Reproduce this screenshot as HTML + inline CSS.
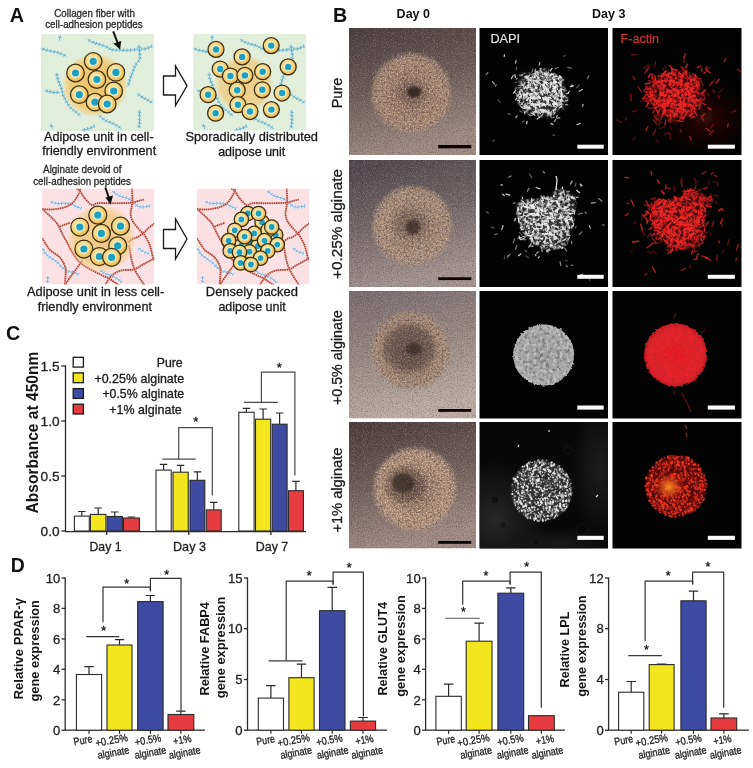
<!DOCTYPE html>
<html><head><meta charset="utf-8"><title>Figure</title>
<style>
html,body{margin:0;padding:0;background:#fff;}
body{width:753px;height:768px;overflow:hidden;}
svg{display:block;font-family:'Liberation Sans', Arial, Helvetica, sans-serif;}
</style></head><body>
<svg width="753" height="768" viewBox="0 0 753 768">
<defs>
<radialGradient id="cellg" cx="0.45" cy="0.45" r="0.58" fx="0.4" fy="0.36"><stop offset="0" stop-color="#fbe7ac"/><stop offset="0.62" stop-color="#f7d684"/><stop offset="0.85" stop-color="#efbf58"/><stop offset="1" stop-color="#e5a83e"/></radialGradient>
<radialGradient id="glow"><stop offset="0" stop-color="#efbf60" stop-opacity="0.92"/><stop offset="0.78" stop-color="#f1c66c" stop-opacity="0.85"/><stop offset="0.92" stop-color="#f3cc78" stop-opacity="0.45"/><stop offset="1" stop-color="#f4cc78" stop-opacity="0"/></radialGradient>
<radialGradient id="glow2"><stop offset="0" stop-color="#efc570" stop-opacity="0.8"/><stop offset="0.8" stop-color="#f0c878" stop-opacity="0.7"/><stop offset="0.93" stop-color="#f2d090" stop-opacity="0.3"/><stop offset="1" stop-color="#f2d090" stop-opacity="0"/></radialGradient>
<clipPath id="cg2"><rect x="193" y="34" width="113" height="96.5"/></clipPath>
<clipPath id="cp1"><rect x="42" y="188.5" width="112.3" height="96"/></clipPath>
<clipPath id="cp2"><rect x="196.8" y="188.5" width="112.3" height="96"/></clipPath>
<filter id="grainL" x="0" y="0" width="100%" height="100%" color-interpolation-filters="sRGB"><feTurbulence type="fractalNoise" baseFrequency="0.9" numOctaves="2" seed="4"/><feColorMatrix type="matrix" values="0 0 0 0 1  0 0 0 0 0.93  0 0 0 0 0.88  3.2 0 0 0 -1.55"/></filter>
<filter id="grainD" x="0" y="0" width="100%" height="100%" color-interpolation-filters="sRGB"><feTurbulence type="fractalNoise" baseFrequency="0.8" numOctaves="2" seed="11"/><feColorMatrix type="matrix" values="0 0 0 0 0.15  0 0 0 0 0.1  0 0 0 0 0.1  -3.2 0 0 0 1.65"/></filter>
<filter id="speck" x="0" y="0" width="100%" height="100%" color-interpolation-filters="sRGB"><feTurbulence type="fractalNoise" baseFrequency="0.75" numOctaves="2" seed="21"/><feColorMatrix type="matrix" values="0 0 0 0 0.88  0 0 0 0 0.76  0 0 0 0 0.64  4.5 0 0 0 -2.1"/></filter>
<filter id="speckD" x="0" y="0" width="100%" height="100%" color-interpolation-filters="sRGB"><feTurbulence type="fractalNoise" baseFrequency="0.5" numOctaves="2" seed="33"/><feColorMatrix type="matrix" values="0 0 0 0 0.34  0 0 0 0 0.26  0 0 0 0 0.24  -4.5 0 0 0 2.25"/></filter>
<filter id="blur1"><feGaussianBlur stdDeviation="1.2"/></filter>
<radialGradient id="discMask"><stop offset="0" stop-color="#fff"/><stop offset="0.86" stop-color="#fff"/><stop offset="1" stop-color="#fff" stop-opacity="0"/></radialGradient>
<filter id="blur2"><feGaussianBlur stdDeviation="2.5"/></filter>
<filter id="blur06"><feGaussianBlur stdDeviation="0.45"/></filter>
<linearGradient id="d0g0" x1="0" y1="0" x2="0.25" y2="1"><stop offset="0" stop-color="#463b3c"/><stop offset="0.5" stop-color="#6a5a58"/><stop offset="1" stop-color="#9e8983"/></linearGradient>
<radialGradient id="d0d0"><stop offset="0" stop-color="#7c6258"/><stop offset="0.72" stop-color="#9e806e"/><stop offset="0.88" stop-color="#9e806e" stop-opacity="0.8"/><stop offset="1" stop-color="#9e806e" stop-opacity="0"/></radialGradient>
<clipPath id="d0c0"><rect x="349" y="28" width="127" height="127"/></clipPath>
<mask id="d0c0d" maskUnits="userSpaceOnUse" x="363.3" y="45" width="96" height="96"><circle cx="411.3" cy="93" r="43.2" fill="url(#discMask)" filter="url(#rough)"/></mask>
<linearGradient id="d0g1" x1="0" y1="0" x2="0.25" y2="1"><stop offset="0" stop-color="#4a4247"/><stop offset="0.5" stop-color="#6f6466"/><stop offset="1" stop-color="#a29290"/></linearGradient>
<radialGradient id="d0d1"><stop offset="0" stop-color="#7c665c"/><stop offset="0.72" stop-color="#a08676"/><stop offset="0.88" stop-color="#a08676" stop-opacity="0.8"/><stop offset="1" stop-color="#a08676" stop-opacity="0"/></radialGradient>
<clipPath id="d0c1"><rect x="349" y="160" width="127" height="127"/></clipPath>
<mask id="d0c1d" maskUnits="userSpaceOnUse" x="364.2" y="177.8" width="96" height="96"><circle cx="412.2" cy="225.8" r="43.2" fill="url(#discMask)" filter="url(#rough)"/></mask>
<linearGradient id="d0g2" x1="0" y1="0" x2="0.25" y2="1"><stop offset="0" stop-color="#766a6e"/><stop offset="0.5" stop-color="#968884"/><stop offset="1" stop-color="#bcaca4"/></linearGradient>
<radialGradient id="d0d2"><stop offset="0" stop-color="#6a584e"/><stop offset="0.72" stop-color="#9a8070"/><stop offset="0.88" stop-color="#9a8070" stop-opacity="0.8"/><stop offset="1" stop-color="#9a8070" stop-opacity="0"/></radialGradient>
<clipPath id="d0c2"><rect x="349" y="291" width="127" height="127.5"/></clipPath>
<mask id="d0c2d" maskUnits="userSpaceOnUse" x="363" y="303.2" width="94.8" height="94.8"><circle cx="410.4" cy="350.6" r="42.7" fill="url(#discMask)" filter="url(#rough)"/></mask>
<linearGradient id="d0g3" x1="0" y1="0" x2="0.25" y2="1"><stop offset="0" stop-color="#463a39"/><stop offset="0.5" stop-color="#6e5c5a"/><stop offset="1" stop-color="#a08a86"/></linearGradient>
<radialGradient id="d0d3"><stop offset="0" stop-color="#786056"/><stop offset="0.72" stop-color="#a88a76"/><stop offset="0.88" stop-color="#a88a76" stop-opacity="0.8"/><stop offset="1" stop-color="#a88a76" stop-opacity="0"/></radialGradient>
<clipPath id="d0c3"><rect x="349" y="422" width="127" height="126.5"/></clipPath>
<mask id="d0c3d" maskUnits="userSpaceOnUse" x="365.1" y="439" width="99.6" height="99.6"><circle cx="414.9" cy="488.8" r="44.8" fill="url(#discMask)" filter="url(#rough)"/></mask>
<radialGradient id="gW"><stop offset="0" stop-color="#c8c8c8" stop-opacity="0.55"/><stop offset="0.8" stop-color="#909090" stop-opacity="0.35"/><stop offset="1" stop-color="#606060" stop-opacity="0"/></radialGradient>
<radialGradient id="gR"><stop offset="0" stop-color="#e02020" stop-opacity="0.7"/><stop offset="0.8" stop-color="#c01818" stop-opacity="0.45"/><stop offset="1" stop-color="#901010" stop-opacity="0"/></radialGradient>
<radialGradient id="gRh"><stop offset="0" stop-color="#5a1010" stop-opacity="0.55"/><stop offset="1" stop-color="#300808" stop-opacity="0"/></radialGradient>
<filter id="netW" x="0" y="0" width="100%" height="100%" color-interpolation-filters="sRGB"><feTurbulence type="fractalNoise" baseFrequency="0.3" numOctaves="2" seed="41"/><feColorMatrix type="matrix" values="0 0 0 0 0.9  0 0 0 0 0.9  0 0 0 0 0.9  6 0 0 0 -2.8"/><feGaussianBlur stdDeviation="0.35"/></filter>
<filter id="netR" x="0" y="0" width="100%" height="100%" color-interpolation-filters="sRGB"><feTurbulence type="fractalNoise" baseFrequency="0.3" numOctaves="2" seed="43"/><feColorMatrix type="matrix" values="0 0 0 0 0.95  0 0 0 0 0.13  0 0 0 0 0.13  6 0 0 0 -2.7"/><feGaussianBlur stdDeviation="0.35"/></filter>
<filter id="soft"><feGaussianBlur stdDeviation="0.4"/></filter>
<filter id="mblur" x="-20%" y="-20%" width="140%" height="140%"><feTurbulence type="fractalNoise" baseFrequency="0.25" numOctaves="2" seed="9" result="t"/><feDisplacementMap in="SourceGraphic" in2="t" scale="5" xChannelSelector="R" yChannelSelector="G" result="d"/><feGaussianBlur in="d" stdDeviation="1.3"/></filter>
<radialGradient id="edgeDark"><stop offset="0" stop-color="#000" stop-opacity="0"/><stop offset="0.6" stop-color="#000" stop-opacity="0.15"/><stop offset="1" stop-color="#000" stop-opacity="0.9"/></radialGradient>
<clipPath id="cl10"><rect x="479.5" y="28" width="128.5" height="127"/></clipPath>
<mask id="k1" maskUnits="userSpaceOnUse" x="504" y="58" width="76" height="71"><path d="M565.7,93C566,93.9 567.6,96.7 567.6,98.5C567.5,100.2 566.5,102.1 565.3,103.6C564.2,105 562.1,105.9 560.8,107.1C559.4,108.4 558.8,110.2 557.4,111.4C556,112.5 554.2,113.2 552.5,114C550.8,114.9 549.1,115.8 547.3,116.4C545.5,117 543.4,117.7 541.5,117.4C539.6,117.2 537.9,115.4 536.1,114.6C534.4,113.8 533,113.2 531.2,112.8C529.3,112.4 526.4,113.1 524.9,112.2C523.3,111.4 522.9,109 521.8,107.5C520.6,106.1 518.2,105.2 517.7,103.6C517.1,102 518.6,99.6 518.4,97.9C518.1,96.1 516.6,94.7 516.2,93C515.8,91.3 515.3,89.2 515.9,87.6C516.4,86 518.7,84.9 519.4,83.2C520.1,81.5 519.4,79 520.3,77.4C521.2,75.8 522.9,74.3 524.7,73.6C526.5,72.9 529.2,73.5 531.2,73.2C533.1,72.9 534.5,72.3 536.2,71.6C537.9,71 539.6,69.9 541.5,69.4C543.4,68.9 545.7,68.2 547.5,68.7C549.3,69.1 550.8,71.1 552.4,72.2C553.9,73.3 555.3,74.3 556.8,75.4C558.2,76.4 560.2,77.2 561.2,78.5C562.3,79.9 562.3,81.9 563,83.5C563.7,85.1 564.9,86.4 565.4,88C565.8,89.6 565.6,92.2 565.7,93" fill="#fff" filter="url(#mblur)"/></mask>
<clipPath id="cl20"><rect x="612.5" y="28" width="129" height="127"/></clipPath>
<mask id="k2" maskUnits="userSpaceOnUse" x="635" y="58" width="80" height="72"><path d="M705,94C704.9,95 705.4,98.1 704.3,99.7C703.2,101.3 699.9,102.3 698.4,103.7C697,105 696.3,106.3 695.4,108C694.6,109.7 694.7,112.4 693.4,113.8C692.1,115.2 689.6,115.7 687.6,116.4C685.6,117.2 683.5,117.9 681.4,118C679.3,118.2 677.1,117.3 675,117.3C672.9,117.2 670.7,118 668.7,117.8C666.6,117.6 664.5,116.8 662.6,116C660.8,115.2 658.7,114.3 657.3,113C655.9,111.7 655.5,109.6 654.3,108.1C653.1,106.7 651.1,105.8 650.1,104.3C649,102.8 648.8,101 648.2,99.2C647.5,97.5 646.4,95.8 646,94C645.6,92.2 645.2,90.1 645.5,88.2C645.9,86.4 646.7,84.4 648,82.8C649.2,81.3 651.3,80.2 653,78.9C654.6,77.7 656,76.4 657.7,75.4C659.4,74.4 661.4,73.7 663.3,73.2C665.2,72.7 667.3,72.6 669.2,72.3C671.2,72.1 673,72.1 675,71.8C677,71.5 679.2,70.5 681.2,70.7C683.2,70.9 685,72.2 686.8,73C688.6,73.8 690.2,74.7 692.1,75.6C694,76.4 696.9,76.8 698.3,78.1C699.6,79.4 699.6,81.8 700.3,83.5C701,85.3 701.8,86.9 702.6,88.6C703.3,90.4 704.6,93.1 705,94" fill="#fff" filter="url(#mblur)"/></mask>
<clipPath id="cl11"><rect x="479.5" y="160" width="128.5" height="127"/></clipPath>
<mask id="k3" maskUnits="userSpaceOnUse" x="502" y="175" width="88" height="88"><path d="M517.9,203.7C518.9,203 520.9,200.1 523.9,199.5C526.9,198.9 532.7,200.3 535.9,200.1C539.1,199.9 540.2,199.1 543,198.3C545.8,197.5 550.4,196.8 552.6,195.3C554.8,193.8 554.4,190.1 556.2,189.3C558,188.5 560.3,189.3 563.3,190.5C566.3,191.7 572.1,194.1 574.1,196.5C576.1,198.9 575.5,201.5 575.3,204.9C575.1,208.3 573.7,212.8 572.9,216.8C572.1,220.8 571.5,224.6 570.5,228.8C569.5,233 569.1,238.5 566.9,241.9C564.7,245.3 560.6,247.9 557.4,249.1C554.2,250.3 550.8,249.5 547.8,249.1C544.8,248.7 542.4,248.1 539.4,246.7C536.4,245.3 532.5,243.1 529.9,240.7C527.3,238.3 525.7,235.4 523.9,232.4C522.1,229.4 520.3,226.4 519.1,222.8C517.9,219.2 516.9,214.1 516.7,210.9C516.5,207.7 517.7,204.9 517.9,203.7" fill="#fff" filter="url(#mblur)"/></mask>
<clipPath id="cl21"><rect x="612.5" y="160" width="129" height="127"/></clipPath>
<mask id="k4" maskUnits="userSpaceOnUse" x="634" y="175" width="88" height="88"><path d="M649.9,203.7C650.9,203 652.9,200.1 655.9,199.5C658.9,198.9 664.7,200.3 667.9,200.1C671.1,199.9 672.2,199.1 675,198.3C677.8,197.5 682.4,196.8 684.6,195.3C686.8,193.8 686.4,190.1 688.2,189.3C690,188.5 692.3,189.3 695.3,190.5C698.3,191.7 704.1,194.1 706.1,196.5C708.1,198.9 707.5,201.5 707.3,204.9C707.1,208.3 705.7,212.8 704.9,216.8C704.1,220.8 703.5,224.6 702.5,228.8C701.5,233 701.1,238.5 698.9,241.9C696.7,245.3 692.6,247.9 689.4,249.1C686.2,250.3 682.8,249.5 679.8,249.1C676.8,248.7 674.4,248.1 671.4,246.7C668.4,245.3 664.5,243.1 661.9,240.7C659.3,238.3 657.7,235.4 655.9,232.4C654.1,229.4 652.3,226.4 651.1,222.8C649.9,219.2 648.9,214.1 648.7,210.9C648.5,207.7 649.7,204.9 649.9,203.7" fill="#fff" filter="url(#mblur)"/></mask>
<radialGradient id="gG3"><stop offset="0" stop-color="#9c9c9c"/><stop offset="0.85" stop-color="#a8a8a8"/><stop offset="1" stop-color="#b0b0b0"/></radialGradient>
<radialGradient id="gR3"><stop offset="0" stop-color="#e61e26"/><stop offset="0.85" stop-color="#e2222a"/><stop offset="1" stop-color="#c81c22"/></radialGradient>
<filter id="rough" x="-10%" y="-10%" width="120%" height="120%"><feTurbulence type="fractalNoise" baseFrequency="0.35" numOctaves="2" seed="6" result="t"/><feDisplacementMap in="SourceGraphic" in2="t" scale="3.5" xChannelSelector="R" yChannelSelector="G"/></filter>
<filter id="mott" x="0" y="0" width="100%" height="100%" color-interpolation-filters="sRGB"><feTurbulence type="fractalNoise" baseFrequency="0.28" numOctaves="2" seed="13"/><feColorMatrix type="matrix" values="0 0 0 0 0.2  0 0 0 0 0.2  0 0 0 0 0.2  -4.5 0 0 0 2.3"/></filter>
<filter id="mottL" x="0" y="0" width="100%" height="100%" color-interpolation-filters="sRGB"><feTurbulence type="fractalNoise" baseFrequency="0.3" numOctaves="2" seed="17"/><feColorMatrix type="matrix" values="0 0 0 0 0.85  0 0 0 0 0.85  0 0 0 0 0.85  4.5 0 0 0 -2.2"/></filter>
<clipPath id="c3a"><circle cx="543.6" cy="355" r="30.5"/></clipPath>
<clipPath id="c3b"><circle cx="675.6" cy="355" r="31.5"/></clipPath>
<clipPath id="cl12"><rect x="479.5" y="291" width="128.5" height="127.5"/></clipPath>
<clipPath id="cl22"><rect x="612.5" y="291" width="129" height="127.5"/></clipPath>
<radialGradient id="gPatch"><stop offset="0" stop-color="#2a2a2a" stop-opacity="0.9"/><stop offset="1" stop-color="#2a2a2a" stop-opacity="0"/></radialGradient>
<clipPath id="cl13"><rect x="479.5" y="422" width="128.5" height="126.5"/></clipPath>
<radialGradient id="gO4" cx="0.5" cy="0.5" r="0.5"><stop offset="0" stop-color="#ff9a20" stop-opacity="0.95"/><stop offset="0.5" stop-color="#f06020" stop-opacity="0.6"/><stop offset="1" stop-color="#e03020" stop-opacity="0"/></radialGradient>
<clipPath id="cl23"><rect x="612.5" y="422" width="129" height="126.5"/></clipPath>
</defs>
<rect width="753" height="768" fill="#fff"/>
<text x="9.8" y="21.6" font-size="19.8" font-weight="bold" fill="#111">A</text>
<text x="54.3" y="16.6" font-size="10.6" stroke="#2a2a2a" stroke-width="0.3" fill="#2a2a2a" textLength="80.6" lengthAdjust="spacingAndGlyphs">Collagen fiber with</text>
<text x="45.2" y="27.8" font-size="10.6" stroke="#2a2a2a" stroke-width="0.3" fill="#2a2a2a" textLength="97.5" lengthAdjust="spacingAndGlyphs">cell-adhesion peptides</text>
<g>
<rect x="41" y="34" width="113" height="97" fill="#e0eedb"/>
<path d="M87.8,39.4 88.3,39.7 89,40.2 89.9,40.7 90.9,41.3 91.9,41.8 93,42.3 94,42.7 95.1,43.1 96,43.4 97,43.7 98,43.9 98.9,44.2 99.9,44.5 100.9,44.8 101.8,45 102.8,45.3 103.7,45.6 104.7,46 105.6,46.4 106.6,46.9 107.5,47.4 108.3,47.9 109.2,48.4 110.1,48.9 111,49.3 112,49.7 113.1,49.9 114.2,50 115.3,50.1 116.3,50.1 117.3,50 118.3,50 119.3,50 120.3,50.1 121.4,50.1 122.4,50.2 123.5,50.2 124.6,50.3 125.6,50.3 126.5,50.3 127.5,50.2 128.6,50.2 129.7,50.2 130.6,50.1 131.6,50.1 132.6,50.1 133.6,50 134.5,49.8 135.6,49.5 136.6,49.2 137.5,48.9 138.5,48.7 139.3,48.7 140.2,48.8 141.2,49 142.2,49.1 143.3,49.2 144.5,49.1 145.5,48.9 146.6,48.5 147.7,48 148.8,47.6 149.9,47.1 150.8,46.7 151.6,46.4 151.8,46.3" fill="none" stroke="#cdeeed" stroke-width="3.2" stroke-linecap="round" opacity="0.8"/><path d="M87.8,39.4 88.3,39.7 89,40.2 89.9,40.7 90.9,41.3 91.9,41.8 93,42.3 94,42.7 95.1,43.1 96,43.4 97,43.7 98,43.9 98.9,44.2 99.9,44.5 100.9,44.8 101.8,45 102.8,45.3 103.7,45.6 104.7,46 105.6,46.4 106.6,46.9 107.5,47.4 108.3,47.9 109.2,48.4 110.1,48.9 111,49.3 112,49.7 113.1,49.9 114.2,50 115.3,50.1 116.3,50.1 117.3,50 118.3,50 119.3,50 120.3,50.1 121.4,50.1 122.4,50.2 123.5,50.2 124.6,50.3 125.6,50.3 126.5,50.3 127.5,50.2 128.6,50.2 129.7,50.2 130.6,50.1 131.6,50.1 132.6,50.1 133.6,50 134.5,49.8 135.6,49.5 136.6,49.2 137.5,48.9 138.5,48.7 139.3,48.7 140.2,48.8 141.2,49 142.2,49.1 143.3,49.2 144.5,49.1 145.5,48.9 146.6,48.5 147.7,48 148.8,47.6 149.9,47.1 150.8,46.7 151.6,46.4 151.8,46.3" fill="none" stroke="#5fa8bc" stroke-width="0.95"/><path d="M90.7,39.1L88.3,41.8M94,40.8L92,43.8M96.8,41.7L95.2,45M100.2,42.7L98.6,46M103.6,43.7L102,47M107.7,45.5L105.5,48.4M110.8,47.2L108.5,50.1M113.3,48.1L111.9,51.5M116.6,48.3L116,51.9M120.2,48.3L119.5,51.8M123.9,48.4L123.1,52M127.2,48.5L126.7,52.1M130.9,48.3L130.4,52M134.4,48L134.7,51.6M137.9,47L138.1,50.6M141.8,47.2L140.6,50.7M145,47.2L145.1,50.8M147.8,46L148.7,49.6M151.2,44.6L151.9,48.2" fill="none" stroke="#6aacbe" stroke-width="0.9025"/>
<path d="M139,45 139,45.7 139.1,46.6 139.1,47.7 139.2,48.9 139.4,50.1 139.5,51.2 139.6,52.1 139.7,53.2 139.9,54.3 140,55.3 140,56.4 140,57.4 139.8,58.6 139.5,59.6 139,60.5 138.3,61.5 137.6,62.3 136.9,63.2 136.2,64 135.6,64.7 135.1,65.5 134.7,66.4 134.3,67.3 134,68.2 133.7,69.2 133.4,70.2 133,71.2 132.7,72.1 132.3,73 131.9,73.9 131.5,74.9 131.1,75.9 130.7,77 130.3,78 130,79 129.7,80 129.5,80.9 129.2,82.2 128.8,83.4 128.5,84.4 128.1,85.3 127.8,86.1 127.7,86.3" fill="none" stroke="#cdeeed" stroke-width="3.2" stroke-linecap="round" opacity="0.8"/><path d="M139,45 139,45.7 139.1,46.6 139.1,47.7 139.2,48.9 139.4,50.1 139.5,51.2 139.6,52.1 139.7,53.2 139.9,54.3 140,55.3 140,56.4 140,57.4 139.8,58.6 139.5,59.6 139,60.5 138.3,61.5 137.6,62.3 136.9,63.2 136.2,64 135.6,64.7 135.1,65.5 134.7,66.4 134.3,67.3 134,68.2 133.7,69.2 133.4,70.2 133,71.2 132.7,72.1 132.3,73 131.9,73.9 131.5,74.9 131.1,75.9 130.7,77 130.3,78 130,79 129.7,80 129.5,80.9 129.2,82.2 128.8,83.4 128.5,84.4 128.1,85.3 127.8,86.1 127.7,86.3" fill="none" stroke="#5fa8bc" stroke-width="0.95"/><path d="M140.9,47.3L137.3,46.9M141.3,50.7L137.6,50.5M141.7,54.3L138.1,54.2M141.7,58.5L138.2,57.5M140,62.2L137.3,59.8M137.4,65.4L135.1,62.6M136,67.8L133,65.8M135,71L131.7,69.4M133.4,74.9L130.4,72.9M132.3,77.9L129.1,76.1M131.3,81.2L128,79.7M130.3,84.7L127,83.1" fill="none" stroke="#6aacbe" stroke-width="0.9025"/>
<path d="M41.6,48.5 42.2,48.7 43,49.1 44,49.4 45.1,49.8 46.2,50.1 47.4,50.4 48.4,50.6 49.4,50.8 50.5,51 51.6,51.2 52.6,51.4 53.6,51.6 54.6,51.8 55.6,52 56.7,52.2 57.8,52.5 58.8,52.8 59.8,53.2 60.8,53.6 61.7,54 62.7,54.5 63.8,55 64.8,55.5 65.6,55.9 66.3,56.3 66.3,56.3" fill="none" stroke="#cdeeed" stroke-width="3.2" stroke-linecap="round" opacity="0.8"/><path d="M41.6,48.5 42.2,48.7 43,49.1 44,49.4 45.1,49.8 46.2,50.1 47.4,50.4 48.4,50.6 49.4,50.8 50.5,51 51.6,51.2 52.6,51.4 53.6,51.6 54.6,51.8 55.6,52 56.7,52.2 57.8,52.5 58.8,52.8 59.8,53.2 60.8,53.6 61.7,54 62.7,54.5 63.8,55 64.8,55.5 65.6,55.9 66.3,56.3 66.3,56.3" fill="none" stroke="#5fa8bc" stroke-width="0.95"/><path d="M44.4,47.6L42.6,50.8M47.5,48.6L46.1,51.9M51.1,49.3L49.9,52.7M54.8,50L53.5,53.4M58.5,50.9L57,54.2M61.7,52L59.8,55.1M65.4,53.8L63.2,56.7" fill="none" stroke="#6aacbe" stroke-width="0.9025"/>
<path d="M56.7,72.8 56.8,73.5 56.9,74.3 57,75.4 57.2,76.5 57.4,77.7 57.7,78.9 58.1,80 58.4,81 58.8,82 59.3,83 59.7,84 60.1,85 60.5,86 60.9,87 61.3,87.9 61.6,89 61.8,90 62,91 62.1,91.9 62.3,92.8 62.5,93.8 62.8,94.6 63.2,95.4 63.6,96.3 64.1,97.2 64.6,98.1 65.2,99.2 65.7,100.3 66.1,101 66.5,101.8 66.9,102.7 67.5,103.6 68,104.5 68.6,105.4 69.3,106.2 70,107.1 70.8,107.8 71.5,108.5 72.3,109.2 73.1,109.8 74,110.4 74.9,111.1 75.8,111.8 76.7,112.6 77.6,113.3 78.4,114 79.2,114.7 79.8,115.3 80.3,115.8 80.5,116" fill="none" stroke="#cdeeed" stroke-width="3.2" stroke-linecap="round" opacity="0.8"/><path d="M56.7,72.8 56.8,73.5 56.9,74.3 57,75.4 57.2,76.5 57.4,77.7 57.7,78.9 58.1,80 58.4,81 58.8,82 59.3,83 59.7,84 60.1,85 60.5,86 60.9,87 61.3,87.9 61.6,89 61.8,90 62,91 62.1,91.9 62.3,92.8 62.5,93.8 62.8,94.6 63.2,95.4 63.6,96.3 64.1,97.2 64.6,98.1 65.2,99.2 65.7,100.3 66.1,101 66.5,101.8 66.9,102.7 67.5,103.6 68,104.5 68.6,105.4 69.3,106.2 70,107.1 70.8,107.8 71.5,108.5 72.3,109.2 73.1,109.8 74,110.4 74.9,111.1 75.8,111.8 76.7,112.6 77.6,113.3 78.4,114 79.2,114.7 79.8,115.3 80.3,115.8 80.5,116" fill="none" stroke="#5fa8bc" stroke-width="0.95"/><path d="M58.8,74.9L55.1,74.8M59.4,78.2L55.8,78.5M60.6,81.6L57,82.4M61.9,84.6L58.3,85.5M63.2,88.1L59.6,88.7M63.9,91.9L60.3,91.9M64.9,94.9L61.4,95.9M66.6,98.1L63.2,99.2M68.2,101.3L64.7,102.4M70,104.2L66.7,105.7M72.3,106.8L69.3,108.9M74.8,108.8L72.2,111.4M77.6,111L74.9,113.4M80.2,113.3L77.4,115.5" fill="none" stroke="#6aacbe" stroke-width="0.9025"/>
<path d="M44.8,90.4 45.5,90.6 46.5,90.9 47.6,91.2 48.8,91.5 49.9,91.8 50.9,92 51.9,92.1 52.9,92.3 53.9,92.4 54.9,92.4 56,92.4 57.2,92.4 58.4,92.4 59.4,92.5 60.1,92.5 60.1,92.5" fill="none" stroke="#cdeeed" stroke-width="3.2" stroke-linecap="round" opacity="0.8"/><path d="M44.8,90.4 45.5,90.6 46.5,90.9 47.6,91.2 48.8,91.5 49.9,91.8 50.9,92 51.9,92.1 52.9,92.3 53.9,92.4 54.9,92.4 56,92.4 57.2,92.4 58.4,92.4 59.4,92.5 60.1,92.5 60.1,92.5" fill="none" stroke="#5fa8bc" stroke-width="0.95"/><path d="M47.8,89.4L46.3,92.7M51,90.2L49.7,93.6M54.3,90.6L53.4,94.1M57.5,90.6L56.9,94.2" fill="none" stroke="#6aacbe" stroke-width="0.9025"/>
<path d="M99,115.1 99.4,115.6 100,116.1 100.7,116.8 101.5,117.6 102.3,118.3 103.3,119 104.3,119.7 105.3,120.3 106.2,120.8 107.2,121.3 108.2,121.7 109.2,122.1 110.2,122.4 111.2,122.8 112.2,123.2 113.2,123.6 114.1,124 114.9,124.5 115.8,125 116.8,125.6 117.8,126.3 118.8,127 119.6,127.6 120.4,128.1 121,128.6 121.2,128.8" fill="none" stroke="#cdeeed" stroke-width="3.2" stroke-linecap="round" opacity="0.8"/><path d="M99,115.1 99.4,115.6 100,116.1 100.7,116.8 101.5,117.6 102.3,118.3 103.3,119 104.3,119.7 105.3,120.3 106.2,120.8 107.2,121.3 108.2,121.7 109.2,122.1 110.2,122.4 111.2,122.8 112.2,123.2 113.2,123.6 114.1,124 114.9,124.5 115.8,125 116.8,125.6 117.8,126.3 118.8,127 119.6,127.6 120.4,128.1 121,128.6 121.2,128.8" fill="none" stroke="#5fa8bc" stroke-width="0.95"/><path d="M101.8,115.4L98.8,117.5M104.6,117.8L101.9,120.3M107.3,119.3L105.2,122.3M110.6,120.7L108.8,123.8M113.7,121.9L111.7,125M117.5,123.9L115.1,126.7M120.5,126L117.9,128.6" fill="none" stroke="#6aacbe" stroke-width="0.9025"/>
<path d="M137.2,93.5 137.7,93.9 138.4,94.4 139.2,95 140.1,95.7 141,96.4 142,97 143,97.6 144,98.1 144.9,98.6 145.9,99.1 146.9,99.6 148,100.2 149.1,100.7 150,101.2 150.9,101.7 151.6,102.2 152.1,102.5 152.1,102.5" fill="none" stroke="#cdeeed" stroke-width="3.2" stroke-linecap="round" opacity="0.8"/><path d="M137.2,93.5 137.7,93.9 138.4,94.4 139.2,95 140.1,95.7 141,96.4 142,97 143,97.6 144,98.1 144.9,98.6 145.9,99.1 146.9,99.6 148,100.2 149.1,100.7 150,101.2 150.9,101.7 151.6,102.2 152.1,102.5 152.1,102.5" fill="none" stroke="#5fa8bc" stroke-width="0.95"/><path d="M140.1,93.5L137.4,96M143.2,95.6L140.8,98.4M146,97.1L143.8,100M149.1,98.7L146.9,101.6M152.4,100.6L150,103.3" fill="none" stroke="#6aacbe" stroke-width="0.9025"/>
<path d="M139.6,110.3 139.6,111 139.5,111.8 139.5,112.9 139.6,114 139.6,115.2 139.6,116.4 139.7,117.6 139.7,118.6 139.6,119.6 139.6,120.8 139.5,122 139.4,123.2 139.3,124.4 139.2,125.6 139,126.6 138.9,127.4 138.8,128 138.8,128" fill="none" stroke="#cdeeed" stroke-width="3.2" stroke-linecap="round" opacity="0.8"/><path d="M139.6,110.3 139.6,111 139.5,111.8 139.5,112.9 139.6,114 139.6,115.2 139.6,116.4 139.7,117.6 139.7,118.6 139.6,119.6 139.6,120.8 139.5,122 139.4,123.2 139.3,124.4 139.2,125.6 139,126.6 138.9,127.4 138.8,128 138.8,128" fill="none" stroke="#5fa8bc" stroke-width="0.95"/><path d="M141.3,112.7L137.7,112M141.4,116.1L137.8,115.6M141.4,120L137.8,119.2M141.2,123.7L137.7,122.8M140.8,127.2L137.3,126" fill="none" stroke="#6aacbe" stroke-width="0.9025"/>
<path d="M60.3,35.4 60.1,36.2 59.9,37.4 59.7,38.6 59.6,39.8 59.5,40.6 59.5,40.6" fill="none" stroke="#cdeeed" stroke-width="3.2" stroke-linecap="round" opacity="0.8"/><path d="M60.3,35.4 60.1,36.2 59.9,37.4 59.7,38.6 59.6,39.8 59.5,40.6 59.5,40.6" fill="none" stroke="#5fa8bc" stroke-width="0.95"/><path d="M61.6,38L58.2,36.7" fill="none" stroke="#6aacbe" stroke-width="0.9025"/>
<path d="M51,124 51.2,124.9 51.5,126.1 51.9,127.4 52.2,128.5 52.3,128.8" fill="none" stroke="#cdeeed" stroke-width="3.2" stroke-linecap="round" opacity="0.8"/><path d="M51,124 51.2,124.9 51.5,126.1 51.9,127.4 52.2,128.5 52.3,128.8" fill="none" stroke="#5fa8bc" stroke-width="0.95"/><path d="M53.3,126L49.7,126.2" fill="none" stroke="#6aacbe" stroke-width="0.9025"/>
<path d="M82.2,130.2 82.9,130.1 83.8,129.9 84.9,129.7 86.1,129.4 87.2,129.1 88.3,128.8 89.3,128.4 90.5,127.9 91.6,127.5 92.7,127 93.6,126.5 94.2,126.2 94.2,126.2" fill="none" stroke="#cdeeed" stroke-width="3.2" stroke-linecap="round" opacity="0.8"/><path d="M82.2,130.2 82.9,130.1 83.8,129.9 84.9,129.7 86.1,129.4 87.2,129.1 88.3,128.8 89.3,128.4 90.5,127.9 91.6,127.5 92.7,127 93.6,126.5 94.2,126.2 94.2,126.2" fill="none" stroke="#5fa8bc" stroke-width="0.95"/><path d="M84.3,128L84.4,131.6M87.5,127.1L88,130.7M90.6,125.9L91.5,129.5M93.6,124.4L94.8,127.9" fill="none" stroke="#6aacbe" stroke-width="0.9025"/>
<ellipse cx="95" cy="85" rx="33" ry="32" fill="url(#glow)"/>
<circle cx="93.2" cy="61.3" r="8.8" fill="url(#cellg)" stroke="#3a2e12" stroke-width="1.25"/><circle cx="93.2" cy="61.3" r="4.6" fill="#e2f4dc"/><circle cx="93.2" cy="61.3" r="3.6" fill="#1f9fc0"/>
<circle cx="75.5" cy="73" r="8.8" fill="url(#cellg)" stroke="#3a2e12" stroke-width="1.25"/><circle cx="75.5" cy="73" r="4.6" fill="#e2f4dc"/><circle cx="75.5" cy="73" r="3.6" fill="#1f9fc0"/>
<circle cx="115.9" cy="72.4" r="8.8" fill="url(#cellg)" stroke="#3a2e12" stroke-width="1.25"/><circle cx="115.9" cy="72.4" r="4.6" fill="#e2f4dc"/><circle cx="115.9" cy="72.4" r="3.6" fill="#1f9fc0"/>
<circle cx="96.9" cy="79.5" r="8.8" fill="url(#cellg)" stroke="#3a2e12" stroke-width="1.25"/><circle cx="96.9" cy="79.5" r="4.6" fill="#e2f4dc"/><circle cx="96.9" cy="79.5" r="3.6" fill="#1f9fc0"/>
<circle cx="79.3" cy="94.7" r="8.8" fill="url(#cellg)" stroke="#3a2e12" stroke-width="1.25"/><circle cx="79.3" cy="94.7" r="4.6" fill="#e2f4dc"/><circle cx="79.3" cy="94.7" r="3.6" fill="#1f9fc0"/>
<circle cx="113.7" cy="91" r="8.8" fill="url(#cellg)" stroke="#3a2e12" stroke-width="1.25"/><circle cx="113.7" cy="91" r="4.6" fill="#e2f4dc"/><circle cx="113.7" cy="91" r="3.6" fill="#1f9fc0"/>
<circle cx="95" cy="102.2" r="8.8" fill="url(#cellg)" stroke="#3a2e12" stroke-width="1.25"/><circle cx="95" cy="102.2" r="4.6" fill="#e2f4dc"/><circle cx="95" cy="102.2" r="3.6" fill="#1f9fc0"/>
<circle cx="107.2" cy="104" r="8.8" fill="url(#cellg)" stroke="#3a2e12" stroke-width="1.25"/><circle cx="107.2" cy="104" r="4.6" fill="#e2f4dc"/><circle cx="107.2" cy="104" r="3.6" fill="#1f9fc0"/>
</g>
<g clip-path="url(#cg2)">
<rect x="193.3" y="34" width="113" height="97" fill="#e0eedb"/>
<path d="M240.1,39.4 240.6,39.7 241.3,40.2 242.2,40.7 243.2,41.3 244.2,41.8 245.3,42.3 246.3,42.7 247.4,43.1 248.3,43.4 249.3,43.7 250.3,43.9 251.2,44.2 252.2,44.5 253.2,44.8 254.1,45 255.1,45.3 256,45.6 257,46 257.9,46.4 258.9,46.9 259.8,47.4 260.6,47.9 261.5,48.4 262.4,48.9 263.3,49.3 264.3,49.7 265.4,49.9 266.5,50 267.6,50.1 268.6,50.1 269.6,50 270.6,50 271.6,50 272.6,50.1 273.7,50.1 274.7,50.2 275.8,50.2 276.9,50.3 277.9,50.3 278.8,50.3 279.8,50.2 280.9,50.2 282,50.2 282.9,50.1 283.9,50.1 284.9,50.1 285.9,50 286.8,49.8 287.9,49.5 288.9,49.2 289.8,48.9 290.8,48.7 291.6,48.7 292.5,48.8 293.5,49 294.5,49.1 295.6,49.2 296.8,49.1 297.8,48.9 298.9,48.5 300,48 301.1,47.6 302.2,47.1 303.1,46.7 303.9,46.4 304.1,46.3" fill="none" stroke="#cdeeed" stroke-width="3.2" stroke-linecap="round" opacity="0.8"/><path d="M240.1,39.4 240.6,39.7 241.3,40.2 242.2,40.7 243.2,41.3 244.2,41.8 245.3,42.3 246.3,42.7 247.4,43.1 248.3,43.4 249.3,43.7 250.3,43.9 251.2,44.2 252.2,44.5 253.2,44.8 254.1,45 255.1,45.3 256,45.6 257,46 257.9,46.4 258.9,46.9 259.8,47.4 260.6,47.9 261.5,48.4 262.4,48.9 263.3,49.3 264.3,49.7 265.4,49.9 266.5,50 267.6,50.1 268.6,50.1 269.6,50 270.6,50 271.6,50 272.6,50.1 273.7,50.1 274.7,50.2 275.8,50.2 276.9,50.3 277.9,50.3 278.8,50.3 279.8,50.2 280.9,50.2 282,50.2 282.9,50.1 283.9,50.1 284.9,50.1 285.9,50 286.8,49.8 287.9,49.5 288.9,49.2 289.8,48.9 290.8,48.7 291.6,48.7 292.5,48.8 293.5,49 294.5,49.1 295.6,49.2 296.8,49.1 297.8,48.9 298.9,48.5 300,48 301.1,47.6 302.2,47.1 303.1,46.7 303.9,46.4 304.1,46.3" fill="none" stroke="#5fa8bc" stroke-width="0.95"/><path d="M243,39.1L240.6,41.8M246.3,40.8L244.3,43.8M249.1,41.7L247.5,45M252.5,42.7L250.9,46M255.9,43.7L254.3,47M260,45.5L257.8,48.4M263.1,47.2L260.8,50.1M265.6,48.1L264.2,51.5M268.9,48.3L268.3,51.9M272.5,48.3L271.8,51.8M276.2,48.4L275.4,52M279.5,48.5L279,52.1M283.2,48.3L282.7,52M286.7,48L287,51.6M290.2,47L290.4,50.6M294.1,47.2L292.9,50.7M297.3,47.2L297.4,50.8M300.1,46L301,49.6M303.5,44.6L304.2,48.2" fill="none" stroke="#6aacbe" stroke-width="0.9025"/>
<path d="M291.3,45 291.3,45.7 291.4,46.6 291.4,47.7 291.5,48.9 291.7,50.1 291.8,51.2 291.9,52.1 292,53.2 292.2,54.3 292.3,55.3 292.3,56.4 292.3,57.4 292.1,58.6 291.8,59.6 291.3,60.5 290.6,61.5 289.9,62.3 289.2,63.2 288.5,64 287.9,64.7 287.4,65.5 287,66.4 286.6,67.3 286.3,68.2 286,69.2 285.7,70.2 285.3,71.2 285,72.1 284.6,73 284.2,73.9 283.8,74.9 283.4,75.9 283,77 282.6,78 282.3,79 282,80 281.8,80.9 281.5,82.2 281.1,83.4 280.8,84.4 280.4,85.3 280.1,86.1 280,86.3" fill="none" stroke="#cdeeed" stroke-width="3.2" stroke-linecap="round" opacity="0.8"/><path d="M291.3,45 291.3,45.7 291.4,46.6 291.4,47.7 291.5,48.9 291.7,50.1 291.8,51.2 291.9,52.1 292,53.2 292.2,54.3 292.3,55.3 292.3,56.4 292.3,57.4 292.1,58.6 291.8,59.6 291.3,60.5 290.6,61.5 289.9,62.3 289.2,63.2 288.5,64 287.9,64.7 287.4,65.5 287,66.4 286.6,67.3 286.3,68.2 286,69.2 285.7,70.2 285.3,71.2 285,72.1 284.6,73 284.2,73.9 283.8,74.9 283.4,75.9 283,77 282.6,78 282.3,79 282,80 281.8,80.9 281.5,82.2 281.1,83.4 280.8,84.4 280.4,85.3 280.1,86.1 280,86.3" fill="none" stroke="#5fa8bc" stroke-width="0.95"/><path d="M293.2,47.3L289.6,46.9M293.6,50.7L289.9,50.5M294,54.3L290.4,54.2M294,58.5L290.5,57.5M292.3,62.2L289.6,59.8M289.7,65.4L287.4,62.6M288.3,67.8L285.3,65.8M287.3,71L284,69.4M285.7,74.9L282.7,72.9M284.6,77.9L281.4,76.1M283.6,81.2L280.3,79.7M282.6,84.7L279.3,83.1" fill="none" stroke="#6aacbe" stroke-width="0.9025"/>
<path d="M193.9,48.5 194.5,48.7 195.3,49.1 196.3,49.4 197.4,49.8 198.5,50.1 199.7,50.4 200.7,50.6 201.7,50.8 202.8,51 203.9,51.2 204.9,51.4 205.9,51.6 206.9,51.8 207.9,52 209,52.2 210.1,52.5 211.1,52.8 212.1,53.2 213.1,53.6 214,54 215,54.5 216.1,55 217.1,55.5 217.9,55.9 218.6,56.3 218.6,56.3" fill="none" stroke="#cdeeed" stroke-width="3.2" stroke-linecap="round" opacity="0.8"/><path d="M193.9,48.5 194.5,48.7 195.3,49.1 196.3,49.4 197.4,49.8 198.5,50.1 199.7,50.4 200.7,50.6 201.7,50.8 202.8,51 203.9,51.2 204.9,51.4 205.9,51.6 206.9,51.8 207.9,52 209,52.2 210.1,52.5 211.1,52.8 212.1,53.2 213.1,53.6 214,54 215,54.5 216.1,55 217.1,55.5 217.9,55.9 218.6,56.3 218.6,56.3" fill="none" stroke="#5fa8bc" stroke-width="0.95"/><path d="M196.7,47.6L194.9,50.8M199.8,48.6L198.4,51.9M203.4,49.3L202.2,52.7M207.1,50L205.8,53.4M210.8,50.9L209.3,54.2M214,52L212.1,55.1M217.7,53.8L215.5,56.7" fill="none" stroke="#6aacbe" stroke-width="0.9025"/>
<path d="M209,72.8 209.1,73.5 209.2,74.3 209.3,75.4 209.5,76.5 209.7,77.7 210,78.9 210.4,80 210.7,81 211.1,82 211.6,83 212,84 212.4,85 212.8,86 213.2,87 213.6,87.9 213.9,89 214.1,90 214.3,91 214.4,91.9 214.6,92.8 214.8,93.8 215.1,94.6 215.5,95.4 215.9,96.3 216.4,97.2 216.9,98.1 217.5,99.2 218,100.3 218.4,101 218.8,101.8 219.2,102.7 219.8,103.6 220.3,104.5 220.9,105.4 221.6,106.2 222.3,107.1 223.1,107.8 223.8,108.5 224.6,109.2 225.4,109.8 226.3,110.4 227.2,111.1 228.1,111.8 229,112.6 229.9,113.3 230.7,114 231.5,114.7 232.1,115.3 232.6,115.8 232.8,116" fill="none" stroke="#cdeeed" stroke-width="3.2" stroke-linecap="round" opacity="0.8"/><path d="M209,72.8 209.1,73.5 209.2,74.3 209.3,75.4 209.5,76.5 209.7,77.7 210,78.9 210.4,80 210.7,81 211.1,82 211.6,83 212,84 212.4,85 212.8,86 213.2,87 213.6,87.9 213.9,89 214.1,90 214.3,91 214.4,91.9 214.6,92.8 214.8,93.8 215.1,94.6 215.5,95.4 215.9,96.3 216.4,97.2 216.9,98.1 217.5,99.2 218,100.3 218.4,101 218.8,101.8 219.2,102.7 219.8,103.6 220.3,104.5 220.9,105.4 221.6,106.2 222.3,107.1 223.1,107.8 223.8,108.5 224.6,109.2 225.4,109.8 226.3,110.4 227.2,111.1 228.1,111.8 229,112.6 229.9,113.3 230.7,114 231.5,114.7 232.1,115.3 232.6,115.8 232.8,116" fill="none" stroke="#5fa8bc" stroke-width="0.95"/><path d="M211.1,74.9L207.4,74.8M211.7,78.2L208.1,78.5M212.9,81.6L209.3,82.4M214.2,84.6L210.6,85.5M215.5,88.1L211.9,88.7M216.2,91.9L212.6,91.9M217.2,94.9L213.7,95.9M218.9,98.1L215.5,99.2M220.5,101.3L217,102.4M222.3,104.2L219,105.7M224.6,106.8L221.6,108.9M227.1,108.8L224.5,111.4M229.9,111L227.2,113.4M232.5,113.3L229.7,115.5" fill="none" stroke="#6aacbe" stroke-width="0.9025"/>
<path d="M197.1,90.4 197.8,90.6 198.8,90.9 199.9,91.2 201.1,91.5 202.2,91.8 203.2,92 204.2,92.1 205.2,92.3 206.2,92.4 207.2,92.4 208.3,92.4 209.5,92.4 210.7,92.4 211.7,92.5 212.4,92.5 212.4,92.5" fill="none" stroke="#cdeeed" stroke-width="3.2" stroke-linecap="round" opacity="0.8"/><path d="M197.1,90.4 197.8,90.6 198.8,90.9 199.9,91.2 201.1,91.5 202.2,91.8 203.2,92 204.2,92.1 205.2,92.3 206.2,92.4 207.2,92.4 208.3,92.4 209.5,92.4 210.7,92.4 211.7,92.5 212.4,92.5 212.4,92.5" fill="none" stroke="#5fa8bc" stroke-width="0.95"/><path d="M200.1,89.4L198.6,92.7M203.3,90.2L202,93.6M206.6,90.6L205.7,94.1M209.8,90.6L209.2,94.2" fill="none" stroke="#6aacbe" stroke-width="0.9025"/>
<path d="M251.3,115.1 251.7,115.6 252.3,116.1 253,116.8 253.8,117.6 254.6,118.3 255.6,119 256.6,119.7 257.6,120.3 258.5,120.8 259.5,121.3 260.5,121.7 261.5,122.1 262.5,122.4 263.5,122.8 264.5,123.2 265.5,123.6 266.4,124 267.2,124.5 268.1,125 269.1,125.6 270.1,126.3 271.1,127 271.9,127.6 272.7,128.1 273.3,128.6 273.5,128.8" fill="none" stroke="#cdeeed" stroke-width="3.2" stroke-linecap="round" opacity="0.8"/><path d="M251.3,115.1 251.7,115.6 252.3,116.1 253,116.8 253.8,117.6 254.6,118.3 255.6,119 256.6,119.7 257.6,120.3 258.5,120.8 259.5,121.3 260.5,121.7 261.5,122.1 262.5,122.4 263.5,122.8 264.5,123.2 265.5,123.6 266.4,124 267.2,124.5 268.1,125 269.1,125.6 270.1,126.3 271.1,127 271.9,127.6 272.7,128.1 273.3,128.6 273.5,128.8" fill="none" stroke="#5fa8bc" stroke-width="0.95"/><path d="M254.1,115.4L251.1,117.5M256.9,117.8L254.2,120.3M259.6,119.3L257.5,122.3M262.9,120.7L261.1,123.8M266,121.9L264,125M269.8,123.9L267.4,126.7M272.8,126L270.2,128.6" fill="none" stroke="#6aacbe" stroke-width="0.9025"/>
<path d="M289.5,93.5 290,93.9 290.7,94.4 291.5,95 292.4,95.7 293.3,96.4 294.3,97 295.3,97.6 296.3,98.1 297.2,98.6 298.2,99.1 299.2,99.6 300.3,100.2 301.4,100.7 302.3,101.2 303.2,101.7 303.9,102.2 304.4,102.5 304.4,102.5" fill="none" stroke="#cdeeed" stroke-width="3.2" stroke-linecap="round" opacity="0.8"/><path d="M289.5,93.5 290,93.9 290.7,94.4 291.5,95 292.4,95.7 293.3,96.4 294.3,97 295.3,97.6 296.3,98.1 297.2,98.6 298.2,99.1 299.2,99.6 300.3,100.2 301.4,100.7 302.3,101.2 303.2,101.7 303.9,102.2 304.4,102.5 304.4,102.5" fill="none" stroke="#5fa8bc" stroke-width="0.95"/><path d="M292.4,93.5L289.7,96M295.5,95.6L293.1,98.4M298.3,97.1L296.1,100M301.4,98.7L299.2,101.6M304.7,100.6L302.3,103.3" fill="none" stroke="#6aacbe" stroke-width="0.9025"/>
<path d="M291.9,110.3 291.9,111 291.8,111.8 291.8,112.9 291.9,114 291.9,115.2 291.9,116.4 292,117.6 292,118.6 291.9,119.6 291.9,120.8 291.8,122 291.7,123.2 291.6,124.4 291.5,125.6 291.3,126.6 291.2,127.4 291.1,128 291.1,128" fill="none" stroke="#cdeeed" stroke-width="3.2" stroke-linecap="round" opacity="0.8"/><path d="M291.9,110.3 291.9,111 291.8,111.8 291.8,112.9 291.9,114 291.9,115.2 291.9,116.4 292,117.6 292,118.6 291.9,119.6 291.9,120.8 291.8,122 291.7,123.2 291.6,124.4 291.5,125.6 291.3,126.6 291.2,127.4 291.1,128 291.1,128" fill="none" stroke="#5fa8bc" stroke-width="0.95"/><path d="M293.6,112.7L290,112M293.7,116.1L290.1,115.6M293.7,120L290.1,119.2M293.5,123.7L290,122.8M293.1,127.2L289.6,126" fill="none" stroke="#6aacbe" stroke-width="0.9025"/>
<path d="M212.6,35.4 212.4,36.2 212.2,37.4 212,38.6 211.9,39.8 211.8,40.6 211.8,40.6" fill="none" stroke="#cdeeed" stroke-width="3.2" stroke-linecap="round" opacity="0.8"/><path d="M212.6,35.4 212.4,36.2 212.2,37.4 212,38.6 211.9,39.8 211.8,40.6 211.8,40.6" fill="none" stroke="#5fa8bc" stroke-width="0.95"/><path d="M213.9,38L210.5,36.7" fill="none" stroke="#6aacbe" stroke-width="0.9025"/>
<path d="M203.3,124 203.5,124.9 203.8,126.1 204.2,127.4 204.5,128.5 204.6,128.8" fill="none" stroke="#cdeeed" stroke-width="3.2" stroke-linecap="round" opacity="0.8"/><path d="M203.3,124 203.5,124.9 203.8,126.1 204.2,127.4 204.5,128.5 204.6,128.8" fill="none" stroke="#5fa8bc" stroke-width="0.95"/><path d="M205.6,126L202,126.2" fill="none" stroke="#6aacbe" stroke-width="0.9025"/>
<path d="M234.5,130.2 235.2,130.1 236.1,129.9 237.2,129.7 238.4,129.4 239.5,129.1 240.6,128.8 241.6,128.4 242.8,127.9 243.9,127.5 245,127 245.9,126.5 246.5,126.2 246.5,126.2" fill="none" stroke="#cdeeed" stroke-width="3.2" stroke-linecap="round" opacity="0.8"/><path d="M234.5,130.2 235.2,130.1 236.1,129.9 237.2,129.7 238.4,129.4 239.5,129.1 240.6,128.8 241.6,128.4 242.8,127.9 243.9,127.5 245,127 245.9,126.5 246.5,126.2 246.5,126.2" fill="none" stroke="#5fa8bc" stroke-width="0.95"/><path d="M236.6,128L236.7,131.6M239.8,127.1L240.3,130.7M242.9,125.9L243.8,129.5M245.9,124.4L247.1,127.9" fill="none" stroke="#6aacbe" stroke-width="0.9025"/>
<circle cx="244" cy="84" r="30" fill="url(#glow2)"/>
<circle cx="216" cy="49.4" r="8" fill="url(#cellg)" stroke="#3a2e12" stroke-width="1.25"/><circle cx="216" cy="49.4" r="4.2" fill="#e2f4dc"/><circle cx="216" cy="49.4" r="3.2" fill="#1f9fc0"/>
<circle cx="271.2" cy="45.6" r="8" fill="url(#cellg)" stroke="#3a2e12" stroke-width="1.25"/><circle cx="271.2" cy="45.6" r="4.2" fill="#e2f4dc"/><circle cx="271.2" cy="45.6" r="3.2" fill="#1f9fc0"/>
<circle cx="242.1" cy="56.9" r="8" fill="url(#cellg)" stroke="#3a2e12" stroke-width="1.25"/><circle cx="242.1" cy="56.9" r="4.2" fill="#e2f4dc"/><circle cx="242.1" cy="56.9" r="3.2" fill="#1f9fc0"/>
<circle cx="220.2" cy="69" r="8" fill="url(#cellg)" stroke="#3a2e12" stroke-width="1.25"/><circle cx="220.2" cy="69" r="4.2" fill="#e2f4dc"/><circle cx="220.2" cy="69" r="3.2" fill="#1f9fc0"/>
<circle cx="288.2" cy="66.9" r="8" fill="url(#cellg)" stroke="#3a2e12" stroke-width="1.25"/><circle cx="288.2" cy="66.9" r="4.2" fill="#e2f4dc"/><circle cx="288.2" cy="66.9" r="3.2" fill="#1f9fc0"/>
<circle cx="230.4" cy="76" r="8" fill="url(#cellg)" stroke="#3a2e12" stroke-width="1.25"/><circle cx="230.4" cy="76" r="4.2" fill="#e2f4dc"/><circle cx="230.4" cy="76" r="3.2" fill="#1f9fc0"/>
<circle cx="244.9" cy="75.4" r="8" fill="url(#cellg)" stroke="#3a2e12" stroke-width="1.25"/><circle cx="244.9" cy="75.4" r="4.2" fill="#e2f4dc"/><circle cx="244.9" cy="75.4" r="3.2" fill="#1f9fc0"/>
<circle cx="262.7" cy="71.7" r="8" fill="url(#cellg)" stroke="#3a2e12" stroke-width="1.25"/><circle cx="262.7" cy="71.7" r="4.2" fill="#e2f4dc"/><circle cx="262.7" cy="71.7" r="3.2" fill="#1f9fc0"/>
<circle cx="208.1" cy="94.7" r="8" fill="url(#cellg)" stroke="#3a2e12" stroke-width="1.25"/><circle cx="208.1" cy="94.7" r="4.2" fill="#e2f4dc"/><circle cx="208.1" cy="94.7" r="3.2" fill="#1f9fc0"/>
<circle cx="237.2" cy="90.2" r="8" fill="url(#cellg)" stroke="#3a2e12" stroke-width="1.25"/><circle cx="237.2" cy="90.2" r="4.2" fill="#e2f4dc"/><circle cx="237.2" cy="90.2" r="3.2" fill="#1f9fc0"/>
<circle cx="262.3" cy="89.8" r="8" fill="url(#cellg)" stroke="#3a2e12" stroke-width="1.25"/><circle cx="262.3" cy="89.8" r="4.2" fill="#e2f4dc"/><circle cx="262.3" cy="89.8" r="3.2" fill="#1f9fc0"/>
<circle cx="282.1" cy="93" r="8" fill="url(#cellg)" stroke="#3a2e12" stroke-width="1.25"/><circle cx="282.1" cy="93" r="4.2" fill="#e2f4dc"/><circle cx="282.1" cy="93" r="3.2" fill="#1f9fc0"/>
<circle cx="237.9" cy="104.7" r="8" fill="url(#cellg)" stroke="#3a2e12" stroke-width="1.25"/><circle cx="237.9" cy="104.7" r="4.2" fill="#e2f4dc"/><circle cx="237.9" cy="104.7" r="3.2" fill="#1f9fc0"/>
<circle cx="215.6" cy="113.2" r="8" fill="url(#cellg)" stroke="#3a2e12" stroke-width="1.25"/><circle cx="215.6" cy="113.2" r="4.2" fill="#e2f4dc"/><circle cx="215.6" cy="113.2" r="3.2" fill="#1f9fc0"/>
<circle cx="250" cy="111.5" r="8" fill="url(#cellg)" stroke="#3a2e12" stroke-width="1.25"/><circle cx="250" cy="111.5" r="4.2" fill="#e2f4dc"/><circle cx="250" cy="111.5" r="3.2" fill="#1f9fc0"/>
<circle cx="271.4" cy="109.6" r="8" fill="url(#cellg)" stroke="#3a2e12" stroke-width="1.25"/><circle cx="271.4" cy="109.6" r="4.2" fill="#e2f4dc"/><circle cx="271.4" cy="109.6" r="3.2" fill="#1f9fc0"/>
</g>
<path d="M113.2,31.4L118.3,44.5" stroke="#111" stroke-width="2" fill="none"/>
<path d="M113.4,43.4L121.2,41L120.1,49.5Z" fill="#111"/>
<path d="M163.5,76L175.5,76L175.5,66L187,85.8L175.5,105.5L175.5,95L163.5,95Z" fill="#fff" stroke="#1a1a1a" stroke-width="1.3" stroke-linejoin="miter"/>
<path d="M163.5,229.5L175.5,229.5L175.5,219L187,239L175.5,259L175.5,248.5L163.5,248.5Z" fill="#fff" stroke="#1a1a1a" stroke-width="1.3" stroke-linejoin="miter"/>
<text x="44" y="141.2" font-size="13.1" stroke="#1a1a1a" stroke-width="0.3" fill="#1a1a1a" textLength="109.6" lengthAdjust="spacingAndGlyphs">Adipose unit in cell-</text>
<text x="42.2" y="155.2" font-size="13.1" stroke="#1a1a1a" stroke-width="0.3" fill="#1a1a1a" textLength="114" lengthAdjust="spacingAndGlyphs">friendly environment</text>
<text x="185.4" y="141.4" font-size="13.1" stroke="#1a1a1a" stroke-width="0.3" fill="#1a1a1a" textLength="132.6" lengthAdjust="spacingAndGlyphs">Sporadically distributed</text>
<text x="251.7" y="155.7" font-size="13.1" stroke="#1a1a1a" stroke-width="0.3" text-anchor="middle" fill="#1a1a1a" textLength="67" lengthAdjust="spacingAndGlyphs">adipose unit</text>
<text x="43.1" y="173.2" font-size="10.6" stroke="#2a2a2a" stroke-width="0.3" fill="#2a2a2a" textLength="78.5" lengthAdjust="spacingAndGlyphs">Alginate devoid of</text>
<text x="33.2" y="185" font-size="10.6" stroke="#2a2a2a" stroke-width="0.3" fill="#2a2a2a" textLength="97.8" lengthAdjust="spacingAndGlyphs">cell-adhesion peptides</text>
<g clip-path="url(#cp1)">
<rect x="42" y="188.5" width="112.3" height="96" fill="#fbe1e4"/>
<path d="M50,201.5 50.6,201.7 51.4,202 52.4,202.4 53.5,202.8 54.7,203.1 55.9,203.3 56.9,203.4 57.9,203.5 58.9,203.5 60,203.4 61.2,203.4 62.3,203.3 63.4,203.2 64.5,203.2 65.5,203.2 66.5,203.2 67.5,203.3 68.5,203.5 69.5,203.7 70.5,203.9 71.6,204.3 72.6,204.7 73.6,205.1 74.6,205.6 75.7,206.2 76.8,206.7 77.9,207.2 78.9,207.6 79.8,207.9 80.6,208.1 81.2,208.3 81.2,208.3" fill="none" stroke="#eef2fa" stroke-width="3.2" stroke-linecap="round" opacity="0.8"/><path d="M50,201.5 50.6,201.7 51.4,202 52.4,202.4 53.5,202.8 54.7,203.1 55.9,203.3 56.9,203.4 57.9,203.5 58.9,203.5 60,203.4 61.2,203.4 62.3,203.3 63.4,203.2 64.5,203.2 65.5,203.2 66.5,203.2 67.5,203.3 68.5,203.5 69.5,203.7 70.5,203.9 71.6,204.3 72.6,204.7 73.6,205.1 74.6,205.6 75.7,206.2 76.8,206.7 77.9,207.2 78.9,207.6 79.8,207.9 80.6,208.1 81.2,208.3 81.2,208.3" fill="none" stroke="#86b4da" stroke-width="1.05"/><path d="M52.8,200.6L51,203.8M56,201.5L54.6,204.9M58.7,201.7L58.1,205.3M61.9,201.5L61.5,205.2M65.8,201.4L65.2,205M69.1,201.7L67.9,205.2M73,202.9L71.2,206.1M76.2,204.4L74.1,207.4M78.9,205.6L76.9,208.7M81.9,206.6L80.5,209.9" fill="none" stroke="#8cb8dc" stroke-width="0.9974999999999999"/>
<path d="M112.3,190.8 112.9,191.3 113.7,192 114.6,192.7 115.6,193.5 116.6,194.2 117.4,194.7 118.2,195.1 119,195.6 119.9,196 121.1,196.4 122.2,196.8 123,197 124,197.3 125,197.5 126,197.8 127,198.1 128.1,198.5 129.1,199 130.1,199.5 131,200 131.8,200.6 132.7,201.3 133.5,202 134.2,202.8 134.9,203.6 135.6,204.3 136.4,205 137.2,205.7 138.1,206.2 139.2,206.7 140.2,206.9 141.4,207 142.6,207 143.9,206.9 145.1,206.8 146.3,206.6 147.4,206.4 148.4,206.2 149.2,206.1 149.8,206 149.8,206" fill="none" stroke="#eef2fa" stroke-width="3.2" stroke-linecap="round" opacity="0.8"/><path d="M112.3,190.8 112.9,191.3 113.7,192 114.6,192.7 115.6,193.5 116.6,194.2 117.4,194.7 118.2,195.1 119,195.6 119.9,196 121.1,196.4 122.2,196.8 123,197 124,197.3 125,197.5 126,197.8 127,198.1 128.1,198.5 129.1,199 130.1,199.5 131,200 131.8,200.6 132.7,201.3 133.5,202 134.2,202.8 134.9,203.6 135.6,204.3 136.4,205 137.2,205.7 138.1,206.2 139.2,206.7 140.2,206.9 141.4,207 142.6,207 143.9,206.9 145.1,206.8 146.3,206.6 147.4,206.4 148.4,206.2 149.2,206.1 149.8,206 149.8,206" fill="none" stroke="#86b4da" stroke-width="1.05"/><path d="M115.1,190.8L112.3,193.2M117.8,192.8L115.4,195.5M120.5,194.3L118.4,197.3M123.4,195.2L121.8,198.5M126.8,196.2L125.2,199.5M130.1,197.5L128.1,200.5M133.6,199.7L130.9,202.2M136.1,202.2L133,204.2M138.1,204.2L135.4,206.6M140.9,205.2L139.6,208.6M143.4,205.2L143,208.8M146.8,204.6L146.9,208.3M150,204.2L149.6,207.9" fill="none" stroke="#8cb8dc" stroke-width="0.9974999999999999"/>
<path d="M42.4,248 42.7,248.6 43.1,249.4 43.5,250.3 44.1,251.3 44.7,252.3 45.4,253.3 46.1,254.1 46.8,254.9 47.6,255.6 48.4,256.2 49.3,256.9 50.2,257.5 51,258 51.9,258.5 52.7,259.1 53.6,259.6 54.4,260.2 55.3,260.7 56.1,261.3 57,262.1 57.8,262.8 58.5,263.5 59.2,264.2 59.9,265 60.7,265.9 61.5,266.7 62.3,267.4 63.1,268.2 63.9,268.8 64.8,269.4 65.7,270 66.6,270.4 67.6,270.9 68.5,271.2 69.5,271.6 70.5,271.9 71.5,272.1 72.7,272.4 73.9,272.7 75,273 76.1,273.3 77.1,273.7 77.9,274 78.5,274.3 78.5,274.3" fill="none" stroke="#eef2fa" stroke-width="3.2" stroke-linecap="round" opacity="0.8"/><path d="M42.4,248 42.7,248.6 43.1,249.4 43.5,250.3 44.1,251.3 44.7,252.3 45.4,253.3 46.1,254.1 46.8,254.9 47.6,255.6 48.4,256.2 49.3,256.9 50.2,257.5 51,258 51.9,258.5 52.7,259.1 53.6,259.6 54.4,260.2 55.3,260.7 56.1,261.3 57,262.1 57.8,262.8 58.5,263.5 59.2,264.2 59.9,265 60.7,265.9 61.5,266.7 62.3,267.4 63.1,268.2 63.9,268.8 64.8,269.4 65.7,270 66.6,270.4 67.6,270.9 68.5,271.2 69.5,271.6 70.5,271.9 71.5,272.1 72.7,272.4 73.9,272.7 75,273 76.1,273.3 77.1,273.7 77.9,274 78.5,274.3 78.5,274.3" fill="none" stroke="#86b4da" stroke-width="1.05"/><path d="M45,249.3L41.5,250.3M46.7,252L43.4,253.6M48.6,254.1L45.8,256.4M51,255.8L48.5,258.5M53.9,257.7L51.5,260.5M57,259.7L54.4,262.3M59.6,262L56.6,264.2M62.2,264.8L59.2,266.9M64.5,267L61.7,269.3M66.9,268.5L64.5,271.4M69.9,269.8L68.2,273M72.8,270.6L71.4,274M76.4,271.5L74.8,274.8M79.5,272.8L77.4,275.8" fill="none" stroke="#8cb8dc" stroke-width="0.9974999999999999"/>
<path d="M99.6,269.5 100.1,269.9 100.9,270.6 101.7,271.3 102.7,272 103.7,272.7 104.6,273.2 105.6,273.7 106.5,274 107.4,274.3 108.4,274.6 109.4,275 110.4,275.3 111.3,275.7 112.3,276.1 113.2,276.5 114.2,277 115.1,277.5 116,278.1 116.9,278.6 117.8,279.2 118.8,279.9 119.8,280.6 120.6,281.3 121.3,281.9 121.8,282.3 121.8,282.3" fill="none" stroke="#eef2fa" stroke-width="3.2" stroke-linecap="round" opacity="0.8"/><path d="M99.6,269.5 100.1,269.9 100.9,270.6 101.7,271.3 102.7,272 103.7,272.7 104.6,273.2 105.6,273.7 106.5,274 107.4,274.3 108.4,274.6 109.4,275 110.4,275.3 111.3,275.7 112.3,276.1 113.2,276.5 114.2,277 115.1,277.5 116,278.1 116.9,278.6 117.8,279.2 118.8,279.9 119.8,280.6 120.6,281.3 121.3,281.9 121.8,282.3 121.8,282.3" fill="none" stroke="#86b4da" stroke-width="1.05"/><path d="M102.7,269.7L99.9,272.1M104.9,271.3L102.5,274M107.8,272.6L106.1,275.8M110.8,273.5L109.1,276.7M114.3,275L112.2,278M117.6,276.9L115.2,279.7M120.6,279L118,281.5M123,280.9L120.2,283.3" fill="none" stroke="#8cb8dc" stroke-width="0.9974999999999999"/>
<path d="M137.8,248 138.4,248.4 139.1,249 140.1,249.6 141.1,250.3 142.1,250.9 143.1,251.4 144.1,251.9 145.2,252.4 146.4,252.7 147.4,253.1 148.3,253.3 149,253.5 149,253.5" fill="none" stroke="#eef2fa" stroke-width="3.2" stroke-linecap="round" opacity="0.8"/><path d="M137.8,248 138.4,248.4 139.1,249 140.1,249.6 141.1,250.3 142.1,250.9 143.1,251.4 144.1,251.9 145.2,252.4 146.4,252.7 147.4,253.1 148.3,253.3 149,253.5 149,253.5" fill="none" stroke="#86b4da" stroke-width="1.05"/><path d="M140.9,248L138.3,250.6M143.3,249.5L141,252.3M146.1,250.8L144.3,253.9M149.1,251.7L147.6,255" fill="none" stroke="#8cb8dc" stroke-width="0.9974999999999999"/>
<path d="M48,276 47.9,276.7 47.8,277.7 47.7,278.9 47.6,280.2 47.6,281.4 47.7,282.4 47.7,283.1 47.7,283.1" fill="none" stroke="#eef2fa" stroke-width="3.2" stroke-linecap="round" opacity="0.8"/><path d="M48,276 47.9,276.7 47.8,277.7 47.7,278.9 47.6,280.2 47.6,281.4 47.7,282.4 47.7,283.1 47.7,283.1" fill="none" stroke="#86b4da" stroke-width="1.05"/><path d="M49.5,278.2L46,277.2M49.4,281.6L45.8,281.1" fill="none" stroke="#8cb8dc" stroke-width="0.9974999999999999"/>
<path d="M42.4,209.1C43.5,209.2 46.8,209.5 49,209.5C51.2,209.5 53,209.6 55.9,209.1C58.8,208.6 63.4,207.9 66.3,206.7C69.2,205.5 71.4,204.2 73.5,201.9C75.6,199.7 77.8,195.4 79,193.2C80.2,191 80.2,189.3 80.5,188.5" fill="none" stroke="#e8a090" stroke-width="2.0" opacity="0.7"/>
<path d="M42.4,209.1C43.5,209.2 46.8,209.5 49,209.5C51.2,209.5 53,209.6 55.9,209.1C58.8,208.6 63.4,207.9 66.3,206.7C69.2,205.5 71.4,204.2 73.5,201.9C75.6,199.7 77.8,195.4 79,193.2C80.2,191 80.2,189.3 80.5,188.5" fill="none" stroke="#a83a2e" stroke-width="1.6" stroke-dasharray="1.3 0.9"/>
<path d="M76.5,188.5C77,188.9 78.5,189.2 79.8,190.8C81.1,192.4 82.6,195.6 84.6,198C86.6,200.4 89.7,204.2 91.8,205.1C93.9,206 94.4,203.5 97.4,203.2C100.4,202.9 105.4,203.2 110,203.2C114.6,203.2 121.3,203.2 125,203.1C128.7,203 129.9,203 132.3,202.6C134.7,202.2 137.5,201.2 139.4,200.7C141.3,200.2 143.2,199.7 144,199.5" fill="none" stroke="#e8a090" stroke-width="2.0" opacity="0.7"/>
<path d="M76.5,188.5C77,188.9 78.5,189.2 79.8,190.8C81.1,192.4 82.6,195.6 84.6,198C86.6,200.4 89.7,204.2 91.8,205.1C93.9,206 94.4,203.5 97.4,203.2C100.4,202.9 105.4,203.2 110,203.2C114.6,203.2 121.3,203.2 125,203.1C128.7,203 129.9,203 132.3,202.6C134.7,202.2 137.5,201.2 139.4,200.7C141.3,200.2 143.2,199.7 144,199.5" fill="none" stroke="#a83a2e" stroke-width="1.6" stroke-dasharray="1.3 0.9"/>
<path d="M42.4,209.1C44,210.6 49.5,215.4 52,217.9C54.5,220.4 55.8,221.5 57.5,224.2C59.2,226.8 60.6,230.5 62.3,233.8C64,237.1 66,240.6 67.9,244C69.8,247.4 71.5,251.2 73.5,254.3C75.5,257.4 77.4,260 79.8,262.3C82.2,264.6 84.5,265.9 87.8,267.9C91.1,269.9 96.4,272.5 99.8,274.2C103.2,275.9 105.5,276.6 108.4,278.2C111.3,279.8 115.3,282.7 117.1,283.8C118.9,284.9 118.7,284.8 119,285" fill="none" stroke="#e8a090" stroke-width="2.0" opacity="0.7"/>
<path d="M42.4,209.1C44,210.6 49.5,215.4 52,217.9C54.5,220.4 55.8,221.5 57.5,224.2C59.2,226.8 60.6,230.5 62.3,233.8C64,237.1 66,240.6 67.9,244C69.8,247.4 71.5,251.2 73.5,254.3C75.5,257.4 77.4,260 79.8,262.3C82.2,264.6 84.5,265.9 87.8,267.9C91.1,269.9 96.4,272.5 99.8,274.2C103.2,275.9 105.5,276.6 108.4,278.2C111.3,279.8 115.3,282.7 117.1,283.8C118.9,284.9 118.7,284.8 119,285" fill="none" stroke="#a83a2e" stroke-width="1.6" stroke-dasharray="1.3 0.9"/>
<path d="M59.9,226.6C60.8,226.2 63.3,225.2 65,224.5C66.7,223.8 69.4,223 70.3,222.7" fill="none" stroke="#e8a090" stroke-width="2.0" opacity="0.7"/>
<path d="M59.9,226.6C60.8,226.2 63.3,225.2 65,224.5C66.7,223.8 69.4,223 70.3,222.7" fill="none" stroke="#a83a2e" stroke-width="1.6" stroke-dasharray="1.3 0.9"/>
<path d="M131.9,188.4C132,190.7 132.5,197.7 132.3,201.9C132.1,206.2 130.6,210.6 130.7,213.9C130.8,217.2 131.5,219.1 133.1,221.9C134.7,224.7 138.2,228.2 140.2,230.6C142.2,232.9 143.4,233.4 145,236C146.6,238.6 148.7,242.4 150,246C151.3,249.6 152.2,255.2 153,257.5C153.8,259.8 154.2,259.6 154.5,260" fill="none" stroke="#e8a090" stroke-width="2.0" opacity="0.7"/>
<path d="M131.9,188.4C132,190.7 132.5,197.7 132.3,201.9C132.1,206.2 130.6,210.6 130.7,213.9C130.8,217.2 131.5,219.1 133.1,221.9C134.7,224.7 138.2,228.2 140.2,230.6C142.2,232.9 143.4,233.4 145,236C146.6,238.6 148.7,242.4 150,246C151.3,249.6 152.2,255.2 153,257.5C153.8,259.8 154.2,259.6 154.5,260" fill="none" stroke="#a83a2e" stroke-width="1.6" stroke-dasharray="1.3 0.9"/>
<path d="M154.5,223.5C153.6,224.2 151,225.8 149,227.5C147,229.2 144.5,232.2 142.6,233.8C140.7,235.4 139.4,236.2 137.8,237C136.2,237.8 134.7,237.5 133.1,238.4C131.5,239.3 129.1,241.7 128.3,242.4" fill="none" stroke="#e8a090" stroke-width="2.0" opacity="0.7"/>
<path d="M154.5,223.5C153.6,224.2 151,225.8 149,227.5C147,229.2 144.5,232.2 142.6,233.8C140.7,235.4 139.4,236.2 137.8,237C136.2,237.8 134.7,237.5 133.1,238.4C131.5,239.3 129.1,241.7 128.3,242.4" fill="none" stroke="#a83a2e" stroke-width="1.6" stroke-dasharray="1.3 0.9"/>
<path d="M129.1,245.6C129.5,248 130.6,255.9 131.5,259.9C132.4,263.9 133.4,266.6 134.7,269.5C135.9,272.4 137.6,274.6 139,277C140.4,279.4 142.5,282.5 143.4,283.8C144.3,285.1 144.3,284.8 144.5,285" fill="none" stroke="#e8a090" stroke-width="2.0" opacity="0.7"/>
<path d="M129.1,245.6C129.5,248 130.6,255.9 131.5,259.9C132.4,263.9 133.4,266.6 134.7,269.5C135.9,272.4 137.6,274.6 139,277C140.4,279.4 142.5,282.5 143.4,283.8C144.3,285.1 144.3,284.8 144.5,285" fill="none" stroke="#a83a2e" stroke-width="1.6" stroke-dasharray="1.3 0.9"/>
<path d="M154.5,258.5C154.2,258.6 155,258.1 153,259.1C151,260.1 145.8,263 142.6,264.7C139.4,266.4 137.3,268.6 133.9,269.5C130.5,270.4 125.5,269.4 121.9,270.3C118.3,271.2 115.1,272.6 112.3,275C109.5,277.4 106.4,283 105.2,284.6" fill="none" stroke="#e8a090" stroke-width="2.0" opacity="0.7"/>
<path d="M154.5,258.5C154.2,258.6 155,258.1 153,259.1C151,260.1 145.8,263 142.6,264.7C139.4,266.4 137.3,268.6 133.9,269.5C130.5,270.4 125.5,269.4 121.9,270.3C118.3,271.2 115.1,272.6 112.3,275C109.5,277.4 106.4,283 105.2,284.6" fill="none" stroke="#a83a2e" stroke-width="1.6" stroke-dasharray="1.3 0.9"/>
<path d="M42.4,238.4C43.6,240.2 46.7,246.3 49.6,249.5C52.5,252.7 57.2,254.4 59.9,257.5C62.5,260.6 64.6,264.8 65.5,267.9C66.4,271 65.6,273.2 65.5,276C65.4,278.8 64.8,283.2 64.7,284.6" fill="none" stroke="#e8a090" stroke-width="2.0" opacity="0.7"/>
<path d="M42.4,238.4C43.6,240.2 46.7,246.3 49.6,249.5C52.5,252.7 57.2,254.4 59.9,257.5C62.5,260.6 64.6,264.8 65.5,267.9C66.4,271 65.6,273.2 65.5,276C65.4,278.8 64.8,283.2 64.7,284.6" fill="none" stroke="#a83a2e" stroke-width="1.6" stroke-dasharray="1.3 0.9"/>
<path d="M82.2,260.7C80.8,262.7 76.2,269 73.5,272.7C70.8,276.4 67.6,280.9 66.3,283C65,285.1 65.6,284.7 65.5,285" fill="none" stroke="#e8a090" stroke-width="2.0" opacity="0.7"/>
<path d="M82.2,260.7C80.8,262.7 76.2,269 73.5,272.7C70.8,276.4 67.6,280.9 66.3,283C65,285.1 65.6,284.7 65.5,285" fill="none" stroke="#a83a2e" stroke-width="1.6" stroke-dasharray="1.3 0.9"/>
<circle cx="101.4" cy="238.6" r="34" fill="url(#glow)" opacity="0.8"/>
<circle cx="97.8" cy="215.1" r="9" fill="url(#cellg)" stroke="#3a2e12" stroke-width="1.25"/><circle cx="97.8" cy="215.1" r="4.7" fill="#e2f4dc"/><circle cx="97.8" cy="215.1" r="3.6" fill="#1f9fc0"/>
<circle cx="79.8" cy="227" r="9" fill="url(#cellg)" stroke="#3a2e12" stroke-width="1.25"/><circle cx="79.8" cy="227" r="4.7" fill="#e2f4dc"/><circle cx="79.8" cy="227" r="3.6" fill="#1f9fc0"/>
<circle cx="120.5" cy="226.2" r="9" fill="url(#cellg)" stroke="#3a2e12" stroke-width="1.25"/><circle cx="120.5" cy="226.2" r="4.7" fill="#e2f4dc"/><circle cx="120.5" cy="226.2" r="3.6" fill="#1f9fc0"/>
<circle cx="101.4" cy="233.4" r="9" fill="url(#cellg)" stroke="#3a2e12" stroke-width="1.25"/><circle cx="101.4" cy="233.4" r="4.7" fill="#e2f4dc"/><circle cx="101.4" cy="233.4" r="3.6" fill="#1f9fc0"/>
<circle cx="83.9" cy="249" r="9" fill="url(#cellg)" stroke="#3a2e12" stroke-width="1.25"/><circle cx="83.9" cy="249" r="4.7" fill="#e2f4dc"/><circle cx="83.9" cy="249" r="3.6" fill="#1f9fc0"/>
<circle cx="117.7" cy="245.8" r="9" fill="url(#cellg)" stroke="#3a2e12" stroke-width="1.25"/><circle cx="117.7" cy="245.8" r="4.7" fill="#e2f4dc"/><circle cx="117.7" cy="245.8" r="3.6" fill="#1f9fc0"/>
<circle cx="99.4" cy="256.5" r="9" fill="url(#cellg)" stroke="#3a2e12" stroke-width="1.25"/><circle cx="99.4" cy="256.5" r="4.7" fill="#e2f4dc"/><circle cx="99.4" cy="256.5" r="3.6" fill="#1f9fc0"/>
<circle cx="111.6" cy="257.3" r="9" fill="url(#cellg)" stroke="#3a2e12" stroke-width="1.25"/><circle cx="111.6" cy="257.3" r="4.7" fill="#e2f4dc"/><circle cx="111.6" cy="257.3" r="3.6" fill="#1f9fc0"/>
</g>
<path d="M105.3,187.5L109.2,198.5" stroke="#111" stroke-width="2" fill="none"/>
<path d="M105.5,197.6L113,195.6L110.6,204.8Z" fill="#111"/>
<g clip-path="url(#cp2)">
<rect x="196.8" y="188.5" width="112.3" height="96" fill="#fbe1e4"/>
<path d="M204.8,201.5 205.4,201.7 206.2,202 207.2,202.4 208.3,202.8 209.5,203.1 210.7,203.3 211.7,203.4 212.7,203.5 213.7,203.5 214.8,203.4 216,203.4 217.1,203.3 218.2,203.2 219.3,203.2 220.3,203.2 221.3,203.2 222.3,203.3 223.3,203.5 224.3,203.7 225.3,203.9 226.4,204.3 227.4,204.7 228.4,205.1 229.4,205.6 230.5,206.2 231.6,206.7 232.7,207.2 233.7,207.6 234.6,207.9 235.4,208.1 236,208.3 236,208.3" fill="none" stroke="#eef2fa" stroke-width="3.2" stroke-linecap="round" opacity="0.8"/><path d="M204.8,201.5 205.4,201.7 206.2,202 207.2,202.4 208.3,202.8 209.5,203.1 210.7,203.3 211.7,203.4 212.7,203.5 213.7,203.5 214.8,203.4 216,203.4 217.1,203.3 218.2,203.2 219.3,203.2 220.3,203.2 221.3,203.2 222.3,203.3 223.3,203.5 224.3,203.7 225.3,203.9 226.4,204.3 227.4,204.7 228.4,205.1 229.4,205.6 230.5,206.2 231.6,206.7 232.7,207.2 233.7,207.6 234.6,207.9 235.4,208.1 236,208.3 236,208.3" fill="none" stroke="#86b4da" stroke-width="1.05"/><path d="M207.6,200.6L205.8,203.8M210.8,201.5L209.4,204.9M213.5,201.7L212.9,205.3M216.7,201.5L216.3,205.2M220.6,201.4L220,205M223.9,201.7L222.7,205.2M227.8,202.9L226,206.1M231,204.4L228.9,207.4M233.7,205.6L231.7,208.7M236.7,206.6L235.3,209.9" fill="none" stroke="#8cb8dc" stroke-width="0.9974999999999999"/>
<path d="M267.1,190.8 267.7,191.3 268.5,192 269.4,192.7 270.4,193.5 271.4,194.2 272.2,194.7 273,195.1 273.8,195.6 274.7,196 275.9,196.4 277,196.8 277.8,197 278.8,197.3 279.8,197.5 280.8,197.8 281.8,198.1 282.9,198.5 283.9,199 284.9,199.5 285.8,200 286.6,200.6 287.5,201.3 288.3,202 289,202.8 289.7,203.6 290.4,204.3 291.2,205 292,205.7 292.9,206.2 294,206.7 295,206.9 296.2,207 297.4,207 298.7,206.9 299.9,206.8 301.1,206.6 302.2,206.4 303.2,206.2 304,206.1 304.6,206 304.6,206" fill="none" stroke="#eef2fa" stroke-width="3.2" stroke-linecap="round" opacity="0.8"/><path d="M267.1,190.8 267.7,191.3 268.5,192 269.4,192.7 270.4,193.5 271.4,194.2 272.2,194.7 273,195.1 273.8,195.6 274.7,196 275.9,196.4 277,196.8 277.8,197 278.8,197.3 279.8,197.5 280.8,197.8 281.8,198.1 282.9,198.5 283.9,199 284.9,199.5 285.8,200 286.6,200.6 287.5,201.3 288.3,202 289,202.8 289.7,203.6 290.4,204.3 291.2,205 292,205.7 292.9,206.2 294,206.7 295,206.9 296.2,207 297.4,207 298.7,206.9 299.9,206.8 301.1,206.6 302.2,206.4 303.2,206.2 304,206.1 304.6,206 304.6,206" fill="none" stroke="#86b4da" stroke-width="1.05"/><path d="M269.9,190.8L267.1,193.2M272.6,192.8L270.2,195.5M275.3,194.3L273.2,197.3M278.2,195.2L276.6,198.5M281.6,196.2L280,199.5M284.9,197.5L282.9,200.5M288.4,199.7L285.7,202.2M290.9,202.2L287.8,204.2M292.9,204.2L290.2,206.6M295.7,205.2L294.4,208.6M298.2,205.2L297.8,208.8M301.6,204.6L301.7,208.3M304.8,204.2L304.4,207.9" fill="none" stroke="#8cb8dc" stroke-width="0.9974999999999999"/>
<path d="M197.2,248 197.5,248.6 197.9,249.4 198.3,250.3 198.9,251.3 199.5,252.3 200.2,253.3 200.9,254.1 201.6,254.9 202.4,255.6 203.2,256.2 204.1,256.9 205,257.5 205.8,258 206.7,258.5 207.5,259.1 208.4,259.6 209.2,260.2 210.1,260.7 210.9,261.3 211.8,262.1 212.6,262.8 213.3,263.5 214,264.2 214.7,265 215.5,265.9 216.3,266.7 217.1,267.4 217.9,268.2 218.7,268.8 219.6,269.4 220.5,270 221.4,270.4 222.4,270.9 223.3,271.2 224.3,271.6 225.3,271.9 226.3,272.1 227.5,272.4 228.7,272.7 229.8,273 230.9,273.3 231.9,273.7 232.7,274 233.3,274.3 233.3,274.3" fill="none" stroke="#eef2fa" stroke-width="3.2" stroke-linecap="round" opacity="0.8"/><path d="M197.2,248 197.5,248.6 197.9,249.4 198.3,250.3 198.9,251.3 199.5,252.3 200.2,253.3 200.9,254.1 201.6,254.9 202.4,255.6 203.2,256.2 204.1,256.9 205,257.5 205.8,258 206.7,258.5 207.5,259.1 208.4,259.6 209.2,260.2 210.1,260.7 210.9,261.3 211.8,262.1 212.6,262.8 213.3,263.5 214,264.2 214.7,265 215.5,265.9 216.3,266.7 217.1,267.4 217.9,268.2 218.7,268.8 219.6,269.4 220.5,270 221.4,270.4 222.4,270.9 223.3,271.2 224.3,271.6 225.3,271.9 226.3,272.1 227.5,272.4 228.7,272.7 229.8,273 230.9,273.3 231.9,273.7 232.7,274 233.3,274.3 233.3,274.3" fill="none" stroke="#86b4da" stroke-width="1.05"/><path d="M199.8,249.3L196.3,250.3M201.5,252L198.2,253.6M203.4,254.1L200.6,256.4M205.8,255.8L203.3,258.5M208.7,257.7L206.3,260.5M211.8,259.7L209.2,262.3M214.4,262L211.4,264.2M217,264.8L214,266.9M219.3,267L216.5,269.3M221.7,268.5L219.3,271.4M224.7,269.8L223,273M227.6,270.6L226.2,274M231.2,271.5L229.6,274.8M234.3,272.8L232.2,275.8" fill="none" stroke="#8cb8dc" stroke-width="0.9974999999999999"/>
<path d="M254.4,269.5 254.9,269.9 255.7,270.6 256.5,271.3 257.5,272 258.5,272.7 259.4,273.2 260.4,273.7 261.3,274 262.2,274.3 263.2,274.6 264.2,275 265.2,275.3 266.1,275.7 267.1,276.1 268,276.5 269,277 269.9,277.5 270.8,278.1 271.7,278.6 272.6,279.2 273.6,279.9 274.6,280.6 275.4,281.3 276.1,281.9 276.6,282.3 276.6,282.3" fill="none" stroke="#eef2fa" stroke-width="3.2" stroke-linecap="round" opacity="0.8"/><path d="M254.4,269.5 254.9,269.9 255.7,270.6 256.5,271.3 257.5,272 258.5,272.7 259.4,273.2 260.4,273.7 261.3,274 262.2,274.3 263.2,274.6 264.2,275 265.2,275.3 266.1,275.7 267.1,276.1 268,276.5 269,277 269.9,277.5 270.8,278.1 271.7,278.6 272.6,279.2 273.6,279.9 274.6,280.6 275.4,281.3 276.1,281.9 276.6,282.3 276.6,282.3" fill="none" stroke="#86b4da" stroke-width="1.05"/><path d="M257.5,269.7L254.7,272.1M259.7,271.3L257.3,274M262.6,272.6L260.9,275.8M265.6,273.5L263.9,276.7M269.1,275L267,278M272.4,276.9L270,279.7M275.4,279L272.8,281.5M277.8,280.9L275,283.3" fill="none" stroke="#8cb8dc" stroke-width="0.9974999999999999"/>
<path d="M292.6,248 293.2,248.4 293.9,249 294.9,249.6 295.9,250.3 296.9,250.9 297.9,251.4 298.9,251.9 300,252.4 301.2,252.7 302.2,253.1 303.1,253.3 303.8,253.5 303.8,253.5" fill="none" stroke="#eef2fa" stroke-width="3.2" stroke-linecap="round" opacity="0.8"/><path d="M292.6,248 293.2,248.4 293.9,249 294.9,249.6 295.9,250.3 296.9,250.9 297.9,251.4 298.9,251.9 300,252.4 301.2,252.7 302.2,253.1 303.1,253.3 303.8,253.5 303.8,253.5" fill="none" stroke="#86b4da" stroke-width="1.05"/><path d="M295.7,248L293.1,250.6M298.1,249.5L295.8,252.3M300.9,250.8L299.1,253.9M303.9,251.7L302.4,255" fill="none" stroke="#8cb8dc" stroke-width="0.9974999999999999"/>
<path d="M202.8,276 202.7,276.7 202.6,277.7 202.5,278.9 202.4,280.2 202.4,281.4 202.5,282.4 202.5,283.1 202.5,283.1" fill="none" stroke="#eef2fa" stroke-width="3.2" stroke-linecap="round" opacity="0.8"/><path d="M202.8,276 202.7,276.7 202.6,277.7 202.5,278.9 202.4,280.2 202.4,281.4 202.5,282.4 202.5,283.1 202.5,283.1" fill="none" stroke="#86b4da" stroke-width="1.05"/><path d="M204.3,278.2L200.8,277.2M204.2,281.6L200.6,281.1" fill="none" stroke="#8cb8dc" stroke-width="0.9974999999999999"/>
<path d="M197.2,209.1C198.3,209.2 201.6,209.5 203.8,209.5C206.1,209.5 207.8,209.6 210.7,209.1C213.6,208.6 218.2,207.9 221.1,206.7C224,205.5 226.2,204.2 228.3,201.9C230.4,199.7 232.6,195.4 233.8,193.2C235,191 235.1,189.3 235.3,188.5" fill="none" stroke="#e8a090" stroke-width="2.0" opacity="0.7"/>
<path d="M197.2,209.1C198.3,209.2 201.6,209.5 203.8,209.5C206.1,209.5 207.8,209.6 210.7,209.1C213.6,208.6 218.2,207.9 221.1,206.7C224,205.5 226.2,204.2 228.3,201.9C230.4,199.7 232.6,195.4 233.8,193.2C235,191 235.1,189.3 235.3,188.5" fill="none" stroke="#a83a2e" stroke-width="1.6" stroke-dasharray="1.3 0.9"/>
<path d="M231.3,188.5C231.9,188.9 233.3,189.2 234.6,190.8C236,192.4 237.4,195.6 239.4,198C241.4,200.4 244.5,204.2 246.6,205.1C248.7,206 249.2,203.5 252.2,203.2C255.2,202.9 260.2,203.2 264.8,203.2C269.4,203.2 276.1,203.2 279.8,203.1C283.5,203 284.7,203 287.1,202.6C289.5,202.2 292.3,201.2 294.2,200.7C296.2,200.2 298,199.7 298.8,199.5" fill="none" stroke="#e8a090" stroke-width="2.0" opacity="0.7"/>
<path d="M231.3,188.5C231.9,188.9 233.3,189.2 234.6,190.8C236,192.4 237.4,195.6 239.4,198C241.4,200.4 244.5,204.2 246.6,205.1C248.7,206 249.2,203.5 252.2,203.2C255.2,202.9 260.2,203.2 264.8,203.2C269.4,203.2 276.1,203.2 279.8,203.1C283.5,203 284.7,203 287.1,202.6C289.5,202.2 292.3,201.2 294.2,200.7C296.2,200.2 298,199.7 298.8,199.5" fill="none" stroke="#a83a2e" stroke-width="1.6" stroke-dasharray="1.3 0.9"/>
<path d="M197.2,209.1C198.8,210.6 204.3,215.4 206.8,217.9C209.3,220.4 210.6,221.5 212.3,224.2C214,226.8 215.4,230.5 217.1,233.8C218.8,237.1 220.8,240.6 222.7,244C224.6,247.4 226.3,251.2 228.3,254.3C230.3,257.4 232.2,260 234.6,262.3C237,264.6 239.3,265.9 242.6,267.9C245.9,269.9 251.2,272.5 254.6,274.2C258,275.9 260.3,276.6 263.2,278.2C266.1,279.8 270.1,282.7 271.9,283.8C273.7,284.9 273.5,284.8 273.8,285" fill="none" stroke="#e8a090" stroke-width="2.0" opacity="0.7"/>
<path d="M197.2,209.1C198.8,210.6 204.3,215.4 206.8,217.9C209.3,220.4 210.6,221.5 212.3,224.2C214,226.8 215.4,230.5 217.1,233.8C218.8,237.1 220.8,240.6 222.7,244C224.6,247.4 226.3,251.2 228.3,254.3C230.3,257.4 232.2,260 234.6,262.3C237,264.6 239.3,265.9 242.6,267.9C245.9,269.9 251.2,272.5 254.6,274.2C258,275.9 260.3,276.6 263.2,278.2C266.1,279.8 270.1,282.7 271.9,283.8C273.7,284.9 273.5,284.8 273.8,285" fill="none" stroke="#a83a2e" stroke-width="1.6" stroke-dasharray="1.3 0.9"/>
<path d="M214.7,226.6C215.6,226.2 218.1,225.2 219.8,224.5C221.5,223.8 224.2,223 225.1,222.7" fill="none" stroke="#e8a090" stroke-width="2.0" opacity="0.7"/>
<path d="M214.7,226.6C215.6,226.2 218.1,225.2 219.8,224.5C221.5,223.8 224.2,223 225.1,222.7" fill="none" stroke="#a83a2e" stroke-width="1.6" stroke-dasharray="1.3 0.9"/>
<path d="M286.7,188.4C286.8,190.7 287.3,197.7 287.1,201.9C286.9,206.2 285.4,210.6 285.5,213.9C285.6,217.2 286.3,219.1 287.9,221.9C289.5,224.7 293,228.2 295,230.6C297,232.9 298.2,233.4 299.8,236C301.4,238.6 303.5,242.4 304.8,246C306.1,249.6 307.1,255.2 307.8,257.5C308.6,259.8 309.1,259.6 309.3,260" fill="none" stroke="#e8a090" stroke-width="2.0" opacity="0.7"/>
<path d="M286.7,188.4C286.8,190.7 287.3,197.7 287.1,201.9C286.9,206.2 285.4,210.6 285.5,213.9C285.6,217.2 286.3,219.1 287.9,221.9C289.5,224.7 293,228.2 295,230.6C297,232.9 298.2,233.4 299.8,236C301.4,238.6 303.5,242.4 304.8,246C306.1,249.6 307.1,255.2 307.8,257.5C308.6,259.8 309.1,259.6 309.3,260" fill="none" stroke="#a83a2e" stroke-width="1.6" stroke-dasharray="1.3 0.9"/>
<path d="M309.3,223.5C308.4,224.2 305.8,225.8 303.8,227.5C301.8,229.2 299.3,232.2 297.4,233.8C295.5,235.4 294.2,236.2 292.6,237C291,237.8 289.5,237.5 287.9,238.4C286.3,239.3 283.9,241.7 283.1,242.4" fill="none" stroke="#e8a090" stroke-width="2.0" opacity="0.7"/>
<path d="M309.3,223.5C308.4,224.2 305.8,225.8 303.8,227.5C301.8,229.2 299.3,232.2 297.4,233.8C295.5,235.4 294.2,236.2 292.6,237C291,237.8 289.5,237.5 287.9,238.4C286.3,239.3 283.9,241.7 283.1,242.4" fill="none" stroke="#a83a2e" stroke-width="1.6" stroke-dasharray="1.3 0.9"/>
<path d="M283.9,245.6C284.3,248 285.4,255.9 286.3,259.9C287.2,263.9 288.2,266.6 289.5,269.5C290.8,272.4 292.4,274.6 293.8,277C295.2,279.4 297.3,282.5 298.2,283.8C299.1,285.1 299.1,284.8 299.3,285" fill="none" stroke="#e8a090" stroke-width="2.0" opacity="0.7"/>
<path d="M283.9,245.6C284.3,248 285.4,255.9 286.3,259.9C287.2,263.9 288.2,266.6 289.5,269.5C290.8,272.4 292.4,274.6 293.8,277C295.2,279.4 297.3,282.5 298.2,283.8C299.1,285.1 299.1,284.8 299.3,285" fill="none" stroke="#a83a2e" stroke-width="1.6" stroke-dasharray="1.3 0.9"/>
<path d="M309.3,258.5C309.1,258.6 309.8,258.1 307.8,259.1C305.8,260.1 300.6,263 297.4,264.7C294.2,266.4 292.2,268.6 288.7,269.5C285.3,270.4 280.3,269.4 276.7,270.3C273.1,271.2 269.9,272.6 267.1,275C264.3,277.4 261.2,283 260,284.6" fill="none" stroke="#e8a090" stroke-width="2.0" opacity="0.7"/>
<path d="M309.3,258.5C309.1,258.6 309.8,258.1 307.8,259.1C305.8,260.1 300.6,263 297.4,264.7C294.2,266.4 292.2,268.6 288.7,269.5C285.3,270.4 280.3,269.4 276.7,270.3C273.1,271.2 269.9,272.6 267.1,275C264.3,277.4 261.2,283 260,284.6" fill="none" stroke="#a83a2e" stroke-width="1.6" stroke-dasharray="1.3 0.9"/>
<path d="M197.2,238.4C198.4,240.2 201.5,246.3 204.4,249.5C207.3,252.7 212.1,254.4 214.7,257.5C217.4,260.6 219.4,264.8 220.3,267.9C221.2,271 220.4,273.2 220.3,276C220.2,278.8 219.6,283.2 219.5,284.6" fill="none" stroke="#e8a090" stroke-width="2.0" opacity="0.7"/>
<path d="M197.2,238.4C198.4,240.2 201.5,246.3 204.4,249.5C207.3,252.7 212.1,254.4 214.7,257.5C217.4,260.6 219.4,264.8 220.3,267.9C221.2,271 220.4,273.2 220.3,276C220.2,278.8 219.6,283.2 219.5,284.6" fill="none" stroke="#a83a2e" stroke-width="1.6" stroke-dasharray="1.3 0.9"/>
<path d="M237,260.7C235.6,262.7 231,269 228.3,272.7C225.7,276.4 222.4,280.9 221.1,283C219.8,285.1 220.4,284.7 220.3,285" fill="none" stroke="#e8a090" stroke-width="2.0" opacity="0.7"/>
<path d="M237,260.7C235.6,262.7 231,269 228.3,272.7C225.7,276.4 222.4,280.9 221.1,283C219.8,285.1 220.4,284.7 220.3,285" fill="none" stroke="#a83a2e" stroke-width="1.6" stroke-dasharray="1.3 0.9"/>
<circle cx="247.8" cy="213.5" r="7.2" fill="url(#cellg)" stroke="#3a2e12" stroke-width="1.25"/><circle cx="247.8" cy="213.5" r="3.8" fill="#e2f4dc"/><circle cx="247.8" cy="213.5" r="2.9" fill="#1f9fc0"/>
<circle cx="262.1" cy="222.2" r="7.2" fill="url(#cellg)" stroke="#3a2e12" stroke-width="1.25"/><circle cx="262.1" cy="222.2" r="3.8" fill="#e2f4dc"/><circle cx="262.1" cy="222.2" r="2.9" fill="#1f9fc0"/>
<circle cx="275.7" cy="235" r="7.2" fill="url(#cellg)" stroke="#3a2e12" stroke-width="1.25"/><circle cx="275.7" cy="235" r="3.8" fill="#e2f4dc"/><circle cx="275.7" cy="235" r="2.9" fill="#1f9fc0"/>
<circle cx="251" cy="243.8" r="7.2" fill="url(#cellg)" stroke="#3a2e12" stroke-width="1.25"/><circle cx="251" cy="243.8" r="3.8" fill="#e2f4dc"/><circle cx="251" cy="243.8" r="2.9" fill="#1f9fc0"/>
<circle cx="241" cy="246" r="7.2" fill="url(#cellg)" stroke="#3a2e12" stroke-width="1.25"/><circle cx="241" cy="246" r="3.8" fill="#e2f4dc"/><circle cx="241" cy="246" r="2.9" fill="#1f9fc0"/>
<circle cx="258" cy="246" r="7.2" fill="url(#cellg)" stroke="#3a2e12" stroke-width="1.25"/><circle cx="258" cy="246" r="3.8" fill="#e2f4dc"/><circle cx="258" cy="246" r="2.9" fill="#1f9fc0"/>
<circle cx="268" cy="230" r="7.2" fill="url(#cellg)" stroke="#3a2e12" stroke-width="1.25"/><circle cx="268" cy="230" r="3.8" fill="#e2f4dc"/><circle cx="268" cy="230" r="2.9" fill="#1f9fc0"/>
<circle cx="258.6" cy="213.5" r="7.2" fill="url(#cellg)" stroke="#3a2e12" stroke-width="1.25"/><circle cx="258.6" cy="213.5" r="3.8" fill="#e2f4dc"/><circle cx="258.6" cy="213.5" r="2.9" fill="#1f9fc0"/>
<circle cx="241.4" cy="219.4" r="7.2" fill="url(#cellg)" stroke="#3a2e12" stroke-width="1.25"/><circle cx="241.4" cy="219.4" r="3.8" fill="#e2f4dc"/><circle cx="241.4" cy="219.4" r="2.9" fill="#1f9fc0"/>
<circle cx="271.7" cy="227" r="7.2" fill="url(#cellg)" stroke="#3a2e12" stroke-width="1.25"/><circle cx="271.7" cy="227" r="3.8" fill="#e2f4dc"/><circle cx="271.7" cy="227" r="2.9" fill="#1f9fc0"/>
<circle cx="234.7" cy="230.2" r="7.2" fill="url(#cellg)" stroke="#3a2e12" stroke-width="1.25"/><circle cx="234.7" cy="230.2" r="3.8" fill="#e2f4dc"/><circle cx="234.7" cy="230.2" r="2.9" fill="#1f9fc0"/>
<circle cx="254.2" cy="233.4" r="7.2" fill="url(#cellg)" stroke="#3a2e12" stroke-width="1.25"/><circle cx="254.2" cy="233.4" r="3.8" fill="#e2f4dc"/><circle cx="254.2" cy="233.4" r="2.9" fill="#1f9fc0"/>
<circle cx="244.6" cy="236.6" r="7.2" fill="url(#cellg)" stroke="#3a2e12" stroke-width="1.25"/><circle cx="244.6" cy="236.6" r="3.8" fill="#e2f4dc"/><circle cx="244.6" cy="236.6" r="2.9" fill="#1f9fc0"/>
<circle cx="264.5" cy="240.6" r="7.2" fill="url(#cellg)" stroke="#3a2e12" stroke-width="1.25"/><circle cx="264.5" cy="240.6" r="3.8" fill="#e2f4dc"/><circle cx="264.5" cy="240.6" r="2.9" fill="#1f9fc0"/>
<circle cx="228.7" cy="240.6" r="7.2" fill="url(#cellg)" stroke="#3a2e12" stroke-width="1.25"/><circle cx="228.7" cy="240.6" r="3.8" fill="#e2f4dc"/><circle cx="228.7" cy="240.6" r="2.9" fill="#1f9fc0"/>
<circle cx="277.3" cy="244.6" r="7.2" fill="url(#cellg)" stroke="#3a2e12" stroke-width="1.25"/><circle cx="277.3" cy="244.6" r="3.8" fill="#e2f4dc"/><circle cx="277.3" cy="244.6" r="2.9" fill="#1f9fc0"/>
<circle cx="249.4" cy="251.7" r="7.2" fill="url(#cellg)" stroke="#3a2e12" stroke-width="1.25"/><circle cx="249.4" cy="251.7" r="3.8" fill="#e2f4dc"/><circle cx="249.4" cy="251.7" r="2.9" fill="#1f9fc0"/>
<circle cx="230.2" cy="250.9" r="7.2" fill="url(#cellg)" stroke="#3a2e12" stroke-width="1.25"/><circle cx="230.2" cy="250.9" r="3.8" fill="#e2f4dc"/><circle cx="230.2" cy="250.9" r="2.9" fill="#1f9fc0"/>
<circle cx="239.5" cy="252.2" r="7.2" fill="url(#cellg)" stroke="#3a2e12" stroke-width="1.25"/><circle cx="239.5" cy="252.2" r="3.8" fill="#e2f4dc"/><circle cx="239.5" cy="252.2" r="2.9" fill="#1f9fc0"/>
<circle cx="267.7" cy="250.9" r="7.2" fill="url(#cellg)" stroke="#3a2e12" stroke-width="1.25"/><circle cx="267.7" cy="250.9" r="3.8" fill="#e2f4dc"/><circle cx="267.7" cy="250.9" r="2.9" fill="#1f9fc0"/>
<circle cx="260.5" cy="258.1" r="7.2" fill="url(#cellg)" stroke="#3a2e12" stroke-width="1.25"/><circle cx="260.5" cy="258.1" r="3.8" fill="#e2f4dc"/><circle cx="260.5" cy="258.1" r="2.9" fill="#1f9fc0"/>
<circle cx="240.6" cy="262.9" r="7.2" fill="url(#cellg)" stroke="#3a2e12" stroke-width="1.25"/><circle cx="240.6" cy="262.9" r="3.8" fill="#e2f4dc"/><circle cx="240.6" cy="262.9" r="2.9" fill="#1f9fc0"/>
<circle cx="251" cy="264.5" r="7.2" fill="url(#cellg)" stroke="#3a2e12" stroke-width="1.25"/><circle cx="251" cy="264.5" r="3.8" fill="#e2f4dc"/><circle cx="251" cy="264.5" r="2.9" fill="#1f9fc0"/>
</g>
<text x="27" y="296.2" font-size="13.1" stroke="#1a1a1a" stroke-width="0.3" fill="#1a1a1a" textLength="137.2" lengthAdjust="spacingAndGlyphs">Adipose unit in less cell-</text>
<text x="37.8" y="311" font-size="13.1" stroke="#1a1a1a" stroke-width="0.3" fill="#1a1a1a" textLength="114.2" lengthAdjust="spacingAndGlyphs">friendly environment</text>
<text x="205.8" y="296.4" font-size="13.1" stroke="#1a1a1a" stroke-width="0.3" fill="#1a1a1a" textLength="92.2" lengthAdjust="spacingAndGlyphs">Densely packed</text>
<text x="218.4" y="311.3" font-size="13.1" stroke="#1a1a1a" stroke-width="0.3" fill="#1a1a1a" textLength="67.3" lengthAdjust="spacingAndGlyphs">adipose unit</text>
<text x="333" y="21.5" font-size="19.8" font-weight="bold" fill="#111">B</text>
<text x="396.6" y="18.4" font-size="12.4" font-weight="bold" fill="#111" textLength="33.4" lengthAdjust="spacingAndGlyphs">Day 0</text>
<text x="592" y="18.4" font-size="12.4" font-weight="bold" fill="#111" textLength="33.4" lengthAdjust="spacingAndGlyphs">Day 3</text>
<text x="342.2" y="93" font-size="15" stroke="#1a1a1a" stroke-width="0.3" text-anchor="middle" fill="#1a1a1a" textLength="30.5" lengthAdjust="spacingAndGlyphs" transform="rotate(-90 342.2 93)">Pure</text>
<text x="342.2" y="224" font-size="15" stroke="#1a1a1a" stroke-width="0.3" text-anchor="middle" fill="#1a1a1a" textLength="110" lengthAdjust="spacingAndGlyphs" transform="rotate(-90 342.2 224)">+0.25% alginate</text>
<text x="342.2" y="357.6" font-size="15" stroke="#1a1a1a" stroke-width="0.3" text-anchor="middle" fill="#1a1a1a" textLength="95" lengthAdjust="spacingAndGlyphs" transform="rotate(-90 342.2 357.6)">+0.5% alginate</text>
<text x="342.2" y="490.1" font-size="15" stroke="#1a1a1a" stroke-width="0.3" text-anchor="middle" fill="#1a1a1a" textLength="85" lengthAdjust="spacingAndGlyphs" transform="rotate(-90 342.2 490.1)">+1% alginate</text>
<g clip-path="url(#d0c0)">
<rect x="349" y="28" width="127" height="127" fill="url(#d0g0)"/>
<rect x="349" y="28" width="127" height="127" filter="url(#grainL)" opacity="0.22"/>
<rect x="349" y="28" width="127" height="127" filter="url(#grainD)" opacity="0.25"/>
<g filter="url(#rough)"><circle cx="411.3" cy="93" r="41.6" fill="url(#d0d0)"/></g>
<g mask="url(#d0c0d)"><rect x="367.3" y="49" width="88" height="88" filter="url(#speck)" opacity="0.65"/><rect x="367.3" y="49" width="88" height="88" filter="url(#speckD)" opacity="0.5"/></g>
<ellipse cx="414" cy="92" rx="7" ry="5.5" fill="#2a1c1a" opacity="0.8" filter="url(#blur1)"/>
<ellipse cx="412" cy="93" rx="14" ry="12" fill="#2a1c1a" opacity="0.15" filter="url(#blur2)"/>
</g>
<g clip-path="url(#d0c1)">
<rect x="349" y="160" width="127" height="127" fill="url(#d0g1)"/>
<rect x="349" y="160" width="127" height="127" filter="url(#grainL)" opacity="0.22"/>
<rect x="349" y="160" width="127" height="127" filter="url(#grainD)" opacity="0.25"/>
<g filter="url(#rough)"><circle cx="412.2" cy="225.8" r="41.6" fill="url(#d0d1)"/></g>
<g mask="url(#d0c1d)"><rect x="368.2" y="181.8" width="88" height="88" filter="url(#speck)" opacity="0.65"/><rect x="368.2" y="181.8" width="88" height="88" filter="url(#speckD)" opacity="0.5"/></g>
<ellipse cx="413" cy="227" rx="7" ry="7" fill="#2a1c1a" opacity="0.6" filter="url(#blur1)"/>
<ellipse cx="410" cy="224" rx="16" ry="14" fill="#2a1c1a" opacity="0.18" filter="url(#blur2)"/>
</g>
<g clip-path="url(#d0c2)">
<rect x="349" y="291" width="127" height="127.5" fill="url(#d0g2)"/>
<rect x="349" y="291" width="127" height="127.5" filter="url(#grainL)" opacity="0.22"/>
<rect x="349" y="291" width="127" height="127.5" filter="url(#grainD)" opacity="0.25"/>
<g filter="url(#rough)"><circle cx="410.4" cy="350.6" r="41.1" fill="url(#d0d2)"/></g>
<g mask="url(#d0c2d)"><rect x="366.9" y="307.2" width="86.9" height="86.9" filter="url(#speck)" opacity="0.6"/><rect x="366.9" y="307.2" width="86.9" height="86.9" filter="url(#speckD)" opacity="0.5"/></g>
<ellipse cx="414" cy="349" rx="8" ry="6" fill="#2a1c1a" opacity="0.5" filter="url(#blur1)"/>
<ellipse cx="409" cy="348" rx="26" ry="24" fill="#2a1c1a" opacity="0.3" filter="url(#blur2)"/>
</g>
<g clip-path="url(#d0c3)">
<rect x="349" y="422" width="127" height="126.5" fill="url(#d0g3)"/>
<rect x="349" y="422" width="127" height="126.5" filter="url(#grainL)" opacity="0.22"/>
<rect x="349" y="422" width="127" height="126.5" filter="url(#grainD)" opacity="0.25"/>
<g filter="url(#rough)"><circle cx="414.9" cy="488.8" r="43.2" fill="url(#d0d3)"/></g>
<g mask="url(#d0c3d)"><rect x="369.2" y="443.1" width="91.3" height="91.3" filter="url(#speck)" opacity="0.8"/><rect x="369.2" y="443.1" width="91.3" height="91.3" filter="url(#speckD)" opacity="0.5"/></g>
<ellipse cx="403" cy="483" rx="11" ry="10" fill="#2a1c1a" opacity="0.6" filter="url(#blur1)"/>
<ellipse cx="405" cy="485" rx="20" ry="18" fill="#2a1c1a" opacity="0.3" filter="url(#blur2)"/>
</g>
<rect x="438.2" y="145" width="33.1" height="3.3" fill="#0a0505"/>
<rect x="438.2" y="277.3" width="33.1" height="2.8" fill="#0a0505"/>
<rect x="438.2" y="409" width="33.1" height="2.8" fill="#0a0505"/>
<rect x="438.2" y="541" width="33.1" height="2.8" fill="#0a0505"/>
<rect x="479.5" y="28" width="128.5" height="127" fill="#030303"/>
<g clip-path="url(#cl10)" filter="url(#soft)">
<path d="M565.7,93C566,93.9 567.6,96.7 567.6,98.5C567.5,100.2 566.5,102.1 565.3,103.6C564.2,105 562.1,105.9 560.8,107.1C559.4,108.4 558.8,110.2 557.4,111.4C556,112.5 554.2,113.2 552.5,114C550.8,114.9 549.1,115.8 547.3,116.4C545.5,117 543.4,117.7 541.5,117.4C539.6,117.2 537.9,115.4 536.1,114.6C534.4,113.8 533,113.2 531.2,112.8C529.3,112.4 526.4,113.1 524.9,112.2C523.3,111.4 522.9,109 521.8,107.5C520.6,106.1 518.2,105.2 517.7,103.6C517.1,102 518.6,99.6 518.4,97.9C518.1,96.1 516.6,94.7 516.2,93C515.8,91.3 515.3,89.2 515.9,87.6C516.4,86 518.7,84.9 519.4,83.2C520.1,81.5 519.4,79 520.3,77.4C521.2,75.8 522.9,74.3 524.7,73.6C526.5,72.9 529.2,73.5 531.2,73.2C533.1,72.9 534.5,72.3 536.2,71.6C537.9,71 539.6,69.9 541.5,69.4C543.4,68.9 545.7,68.2 547.5,68.7C549.3,69.1 550.8,71.1 552.4,72.2C553.9,73.3 555.3,74.3 556.8,75.4C558.2,76.4 560.2,77.2 561.2,78.5C562.3,79.9 562.3,81.9 563,83.5C563.7,85.1 564.9,86.4 565.4,88C565.8,89.6 565.6,92.2 565.7,93" fill="#5a5a5a" opacity="0.55" filter="url(#blur1)"/><g mask="url(#k1)"><rect x="514" y="68" width="56" height="51" filter="url(#netW)"/><ellipse cx="542.0" cy="93.5" rx="28.0" ry="25.5" fill="url(#edgeDark)" opacity="0.55"/></g><path d="M562.8,93.1l-2.2,2.3M559,107.8l-1.4,3.4M552.9,95.9l2.8,0.9M530.3,84.3l-0.8,3.1M561.8,90.7l-1,3.2M522.5,98.5l0.8,1.6M533.7,91.7l2.9,1.5M553.8,81.1l-0.2,3.1M561.5,107.4l2.5,2.4M521.2,93.7l-0.2,1.9M527.6,91.2l1.9,2.1M545.7,72l2.4,0.2M563.5,87.3l1.5,1.2M542.9,86.4l-3.2,1.6M546.8,78.7l-1.9,2.4M545.4,73.8l0.7,3.2M532,97.7l2.8,2.4" stroke="#f4f4f4" stroke-width="1.1" stroke-linecap="round" opacity="0.3" fill="none"/><path d="M531.8,78.5l-1.7,1.2M549.5,111.6l0.3,2M544.5,76.4l-3,2.1M536.3,87.2l1.1,3.6M561.8,96.9l3.4,0.1M521.4,95l-1.5,1.9M532.6,95.8l-1.8,1.1M541.4,100l-1.8,0.6M537.4,103.6l1.8,1.2M522.4,84.6l1.8,2.9M545.7,75.6l-1.4,2.8M561.2,100.2l3.5,1.4M555.9,108l-2.1,2.1M535.9,76.1l-0.3,2.9M540.2,96.2l-3.7,0.5M562.3,89l-2,1.9M524.1,106.9l2.4,1.2M566.4,97.7l1.7,0.2M536.3,83.1l-2,3.2M556.5,94.3l1.6,1.1M536.3,84.7l2.8,0.5M547.1,87.8l-0.1,1.9M520.8,87.5l-2.2,0.1M561,82.2l-2.2,0.2M541.9,76.5l2.2,3M544.3,73l2.7,0.5M551,105.2l-2.7,0.4M525.4,97l-1.4,3M532.4,87.2l-2.2,0.2M554.3,109l2.1,0.5M533.2,99.9l-0.6,2M557.8,89l-2,1.8M560,81.3l-0.8,1.4M521.3,95.5l-0.4,1.5M542.6,85.4l1.6,0M529.2,73.1l2.9,1.9M554.5,86.7l2.5,1.9M539.4,104.7l1,2.6M525.4,78.6l-1.6,1.2" stroke="#f4f4f4" stroke-width="1.1" stroke-linecap="round" opacity="0.4" fill="none"/><path d="M550.9,115.1l0.4,3M533.3,82.3l1.2,2.7M536.7,102.8l2.2,0.7M560.7,89.6l-1.7,0.8M529.9,107.1l-1.5,3.2M521.8,81.9l-1.7,1.3M517.9,92.2l1.2,1.9M549.1,96.6l0.8,1.8M553.4,88l-1.5,2.2M556.3,94.4l-1.6,1.7M533.6,111.8l2.7,0.4M557.2,85.2l-1.6,0.8M547.6,99.7l-3.2,0.2M556.4,99.1l2.4,0.4M552,93.5l0.8,3M531.5,98.4l-1.7,0.3M540,105.4l-0.9,1.5M543.7,73l3,0.8M549.1,99l-2.7,2.5M546.3,76.9l1.8,3.6M532,79.6l-2.1,1.5M558.6,92.8l-2.5,1.5M530.7,87l1.2,1.4M560.7,99.3l-1.3,0.8M540.7,103.5l1.5,2.7M546.6,74.6l2.2,0.6M542,88.6l-3.4,1.2M535.1,86.9l1.8,1.1M553.3,78l-3.3,2.2M560.3,77.1l-2.1,2M543.5,86.8l2.7,1M561.5,93.1l0.5,1.6M524.1,95.7l-0.1,2M555.3,112.1l-2,2.7M535,107l0.5,3.1M527.2,90l-1.9,1.4M546,82.4l1.6,0.1M550.4,103.7l-0.2,2.6M532.8,69.3l-0.8,2.9M533.2,103.7l1.3,1.5M536.8,81.9l0.7,3.8M532.3,75.6l0.9,1.5M536,93.2l-1.3,1.9M539.5,108.9l2.9,2M541.2,89.4l-1.2,1.6M536.3,92.3l3.4,0.5M556.2,79.4l-1.9,0M556.6,96.2l-2,1.2M545.4,88.6l-1.2,2.5M536.8,71.7l-1.7,0.1M560,77.5l-2,1.6" stroke="#f4f4f4" stroke-width="1.1" stroke-linecap="round" opacity="0.5" fill="none"/><path d="M558.6,79.6l3,2.7M537.1,98.4l1.6,2.2M546,98.9l-2.7,0.5M546.3,83.8l2.6,2.6M528.9,80.1l-0.2,2.5M524.2,85.1l-1.1,3.3M557.8,98.1l0.5,2.4M542.1,102.7l2.5,0.6M535.3,112.6l-1.7,1.3M528.5,98.1l-1.8,1.7M527.2,78.7l2.7,0.2M540.9,109.3l-2.5,1.5M556,104.1l1.6,1.1M556.3,99.9l0.1,2.8M548.3,112.2l3.2,2.3M532.5,87.6l2.6,2.3M562.1,99.6l-3.4,1.4M554,82l2.1,0.7M544.7,85.5l-2,1M538,115.2l1.5,2.3M567.8,100.1l-1.9,0.5M556.8,95.2l0.3,2.8M544.5,112l-2.8,0.1M534.3,76.8l-0.6,3.7M536.4,101.6l3.4,1.4M559.3,75.8l1,2.6M537.9,96.9l-1.9,0.7M560.5,104.7l1.3,1M551.2,84.7l1.9,0.7M546.2,71.4l-0.3,3.6M553.5,75.6l0.6,1.9M532.5,115.2l-2.7,0.4M539,74.2l-1.9,0M540,90.7l2.7,2.7M537.3,102.6l-0.5,2.4M554.5,79.8l0.2,2.1M555.6,90.7l1,2.6M529.2,100.8l3.5,1.2M543.2,87.4l1.1,1.9M536,93.3l-2.2,1.1M543.9,90.7l0,2.6M527.7,78.7l3.3,1.9M553.5,96l1.1,3.7M548.5,86l-3.1,0.5M541,84.9l2.8,0.6M534.7,92.2l-2.5,2.5M548.4,91.5l2.4,1.7M550.7,77.5l-1.8,2.2" stroke="#f4f4f4" stroke-width="1.1" stroke-linecap="round" opacity="0.6" fill="none"/><path d="M526.3,94l1.2,2.8M560.4,91.1l-0.8,1.7M534.8,89.5l-0.2,3.1M552.4,78.2l2.3,3.2M527.4,104.7l-2.8,1.5M529.1,84.5l1.3,1.1M562.1,100.9l-3.4,1.9M535.5,84.7l0.4,1.7M523.8,101.7l-2.3,2.2M529.6,101.7l1,3.5M532.2,88.9l0.1,2M530,105.8l-3.2,0.4M555.6,84.6l1.3,2.2M553,85.1l1.1,2.6M529.2,79.1l2.4,2.6M525.5,94.6l0.9,3.3M545.4,89.7l3.4,1.2M533.6,74.9l1.5,2.2M552.3,93.8l-1.3,1.2M538.5,74.1l-0.7,2.2M561.2,102.8l0.9,2M536.7,85l-1.7,3.3M520.1,100l-2.8,0.6M548.3,75.8l-1.8,1.8M543.3,110.1l0.5,2.7M556.4,75.2l-1.1,1.9M536.4,107.5l2,2.1M555.3,91.6l-1.3,1.4M549.9,97.9l1.6,0.9M556.9,85.6l0.6,3.9M536,71.4l1.6,2.5M523.5,95.3l2.3,2.5M542.8,72.5l-2.9,0.7M539.4,82.3l1.1,1.5M555.9,93.7l-2.1,1.8M522.4,91.8l2.6,2.7M531.1,82.2l2.2,1.8M543,113.9l-2,2.7M555.1,103.1l2,0.1M547.4,73.7l-2.3,1.2M550.7,97l-1,2.6M521.5,96.4l-3.1,0.5M557.9,98.2l-0.6,2.2" stroke="#f4f4f4" stroke-width="1.1" stroke-linecap="round" opacity="0.7" fill="none"/><path d="M533.7,95.6l-1,3.6M538.8,100.7l1.5,2.9M533.2,106.8l2.9,0.2M527.8,108.5l3.7,0.5M556.7,93l-1.1,1.4M538.4,78.3l2.4,2.2M526.5,76.7l1.4,1.4M519.3,91.3l1.5,2.9M532.5,102.9l-0.9,2.8M538.4,83.2l1.4,0.9M523.1,94.4l2.7,0.3M540.7,69.6l0.4,2.5M529.6,75.2l-1.9,2.3M558.9,76.9l-0.3,2.6M518.6,94.8l-1.7,1.9M554.7,80.6l0.5,2.3M524.8,104.8l0.4,3.9M550.6,112.8l-2.6,0.8M525.1,77.6l2.7,0.7M550.3,100.2l1.5,0.7M551.4,83.6l2.4,0.2M559.9,93.5l2.5,3.1M545.6,79.4l-1.2,1.7M569.5,91.3l-1.5,1.8M553.5,82.5l3.2,0.1M533.4,91l-0.4,2.1M535.3,110.8l-1.9,2M535.7,69.2l-0.9,1.8M552.5,86.5l2.9,0.4M527.2,103.3l2.2,0M530.9,89.4l3.3,0.4M535.7,72.3l-1.9,1.8M556.5,87.2l-3.2,1.3" stroke="#f4f4f4" stroke-width="1.1" stroke-linecap="round" opacity="0.8" fill="none"/><path d="M555.2,97.1l0.9,1.3M541.4,103.6l-3.1,1.2M535.3,106.4l0.7,3.8M564.4,95.8l-1.3,1.6M535.4,74.1l2.1,2.7M517,98l-1.5,1.8M535.6,98.3l1.4,0.8M555.8,84.8l2.3,1.6M520.9,106.7l1.7,0.5M536.3,104.5l1.7,0.5M556.4,81.4l-1.6,2.7M525.9,107.2l3.5,0.3M519.2,94.8l-2.3,0.5M553.5,74l-2.7,1.3M539.1,105.2l0.6,1.9M555.9,104.2l-2.5,1.4M524.7,112l0.2,2M557.9,103.1l-3.9,0.3M543.4,87.3l1.2,2.4M543.1,91.2l2.1,2.5M518.9,100.4l1.1,2.6M535.7,111.7l1.4,0.5M544.8,104.2l-3.1,1.8M539.4,112.1l1.2,1.5M542.4,97.6l1.5,3.1M532,77.2l-1.9,0.8M546.6,98.8l0.3,1.6M561.5,91.5l-0.5,2.1M540.3,75.8l2.7,0.9M543.3,84.3l-1.7,0.2M515.6,90.3l-2.2,2.9M525.6,86.3l-1.5,2.9M521.6,97.7l-2.2,0.4M562.9,89.4l1.8,0.9M563.8,79.9l-2,0.4M544.4,72.9l0.4,1.6M529.4,82.2l-2,0.3M554.2,77.2l-1.8,0.1M522.1,107.7l2.8,0.7M551.3,111.2l-0.3,1.7M551.9,73.4l-2.3,2.6M555.6,106.4l1,1.3M538,95.2l1.9,2.5M530.4,98.1l-0.7,2.6M528.1,84.9l0.7,3.1M547.1,111.6l-1.8,0.7M554.3,80.9l2.7,1.9M519.4,93l2.6,2.8M549.3,83.1l-2,1.3M560.4,96.1l1.6,3M557.4,76.3l-2.6,0.2" stroke="#f4f4f4" stroke-width="1.1" stroke-linecap="round" opacity="0.9" fill="none"/><path d="M543.7,81.9l3.6,0.7M530.5,100.1l-0.2,2.5M544.9,82.7l2.4,2.2M553.1,109.6l1,3.2M552.5,103.7l1.7,3.1M555,80.9l-2.1,1.6M548.3,97.4l2.1,0.1M536.8,71.5l1.5,1.2M558.2,82.3l2.6,2.9M531.7,113l3.2,2.2M542.1,109.1l2.4,1.8M559.5,75.8l1.3,1M533.8,82.5l1.3,2.7M561.7,106.6l-2.2,1.1M548.3,100.3l0.3,1.7M534.7,92l2.1,2.9M547.1,89l-1.5,3M545.1,98.5l1.3,2.1" stroke="#f4f4f4" stroke-width="1.1" stroke-linecap="round" opacity="1.0" fill="none"/><path d="M525.5,111.4l2.5,1.5M564.6,95.9l1.8,1.8M498.1,99.7l2.1,2.8M565,55.6l-1.5,0.7M494.3,140.1l-1.3,1M566.7,90.2l-2.4,1.5" stroke="#e8e8e8" stroke-width="1.2100000000000002" stroke-linecap="round" opacity="0.3" fill="none"/><path d="M514.7,92.1l2.2,2M579.3,84.9l-2.5,2.7M519.5,110.8l2.4,1.3M519.9,74.6l0.2,1.5M554.4,135.1l-1.3,0.1M559.6,106l3.4,1.3M524.1,121.1l-1.7,0.8M516.5,67.1l0,2.3M516.8,82l-1.7,0.5" stroke="#e8e8e8" stroke-width="1.2100000000000002" stroke-linecap="round" opacity="0.4" fill="none"/><path d="M487.9,72.4l-1.6,2.2M508.4,113.6l1.7,0.7M567.7,67.5l3.8,0.7M588.7,76l-1.2,2.7M558.1,67.5l-3.3,1.2M530.3,114l-2.2,0.9" stroke="#e8e8e8" stroke-width="1.2100000000000002" stroke-linecap="round" opacity="0.5" fill="none"/><path d="M496.2,84.8l-0.9,1.5M554.2,117.1l-1.4,0.6" stroke="#e8e8e8" stroke-width="1.2100000000000002" stroke-linecap="round" opacity="0.6" fill="none"/><path d="M565.7,104.6l2,0.2M539.9,62.5l-0.7,2.6M557.5,115.4l-1,1.5M568.5,93.4l-2.2,0.2M492.5,81.6l1.8,2.6M517.3,78.3l-1.1,0.9M550.3,113.5l0.2,2.6M571.3,85.1l1.6,0.5M555.6,119.6l-1.2,1.9" stroke="#e8e8e8" stroke-width="1.2100000000000002" stroke-linecap="round" opacity="0.7" fill="none"/><path d="M583,104.4l-0.4,2M560.9,77l-2.7,1.2M580.3,123.3l-3.3,1.3M540.1,116.9l-3,2.2M582.4,89.5l-3.1,1.6M513.2,75.3l-1.8,3.3M517.1,115.9l-1.3,1.6M516.1,60.7l-0.7,2.5M561.4,77.2l0.5,1.6M559.7,117.9l-3.4,0.1" stroke="#e8e8e8" stroke-width="1.2100000000000002" stroke-linecap="round" opacity="0.8" fill="none"/><path d="M551,123.7l2.1,0.6M541.2,68.6l-1.3,0.3M573.2,86.2l-2.9,0.4M552,68.4l-1.8,2.4M514.9,74.7l0.5,2.7M526.6,76l-1.8,0.9M527.1,121.3l-0.4,2.3M504.5,54.9l-0.3,1.5" stroke="#e8e8e8" stroke-width="1.2100000000000002" stroke-linecap="round" opacity="0.9" fill="none"/>
</g>
<rect x="612.5" y="28" width="129" height="127" fill="#030303"/>
<g clip-path="url(#cl20)" filter="url(#soft)">
<ellipse cx="705" cy="118" rx="45" ry="38" fill="url(#gRh)"/>
<path d="M705,94C704.9,95 705.4,98.1 704.3,99.7C703.2,101.3 699.9,102.3 698.4,103.7C697,105 696.3,106.3 695.4,108C694.6,109.7 694.7,112.4 693.4,113.8C692.1,115.2 689.6,115.7 687.6,116.4C685.6,117.2 683.5,117.9 681.4,118C679.3,118.2 677.1,117.3 675,117.3C672.9,117.2 670.7,118 668.7,117.8C666.6,117.6 664.5,116.8 662.6,116C660.8,115.2 658.7,114.3 657.3,113C655.9,111.7 655.5,109.6 654.3,108.1C653.1,106.7 651.1,105.8 650.1,104.3C649,102.8 648.8,101 648.2,99.2C647.5,97.5 646.4,95.8 646,94C645.6,92.2 645.2,90.1 645.5,88.2C645.9,86.4 646.7,84.4 648,82.8C649.2,81.3 651.3,80.2 653,78.9C654.6,77.7 656,76.4 657.7,75.4C659.4,74.4 661.4,73.7 663.3,73.2C665.2,72.7 667.3,72.6 669.2,72.3C671.2,72.1 673,72.1 675,71.8C677,71.5 679.2,70.5 681.2,70.7C683.2,70.9 685,72.2 686.8,73C688.6,73.8 690.2,74.7 692.1,75.6C694,76.4 696.9,76.8 698.3,78.1C699.6,79.4 699.6,81.8 700.3,83.5C701,85.3 701.8,86.9 702.6,88.6C703.3,90.4 704.6,93.1 705,94" fill="#901212" opacity="0.45" filter="url(#blur1)"/><g mask="url(#k2)"><rect x="645" y="68" width="60" height="52" filter="url(#netR)"/><ellipse cx="675.0" cy="94.0" rx="30.0" ry="26.0" fill="url(#edgeDark)" opacity="0.55"/></g><path d="M673.4,78.4l-0.6,4.5M652.9,73.4l2.7,3.7M693.2,85.7l-0.6,2.5M673.6,81.3l-4.2,3.4M674.3,115.3l-4.1,1.5M682.1,68.6l1,2.6M655.4,80l-1.8,3M705.8,98l-3.3,2.2M679.8,75.6l1.2,3.4M664.2,84.4l-3.8,2M689.2,72.1l0.3,5M646.8,92.3l1.3,3.5M669.9,114.2l2.5,1.6M675,71.5l0.9,3.2M680.2,108.6l3.7,2M691.1,80.2l3,1.7M688.5,77.6l-1.6,4.4" stroke="#f02828" stroke-width="1.25" stroke-linecap="round" opacity="0.4" fill="none"/><path d="M659.9,81.7l-5,1.3M662.2,83.6l2.4,1.5M681.2,108.6l3.8,1.3M688.1,91.3l2.4,3.1M675.2,102.2l-3.2,3.9M692.9,100.2l-1.7,2M670.8,108.8l-1.6,3.4M679.6,81.5l-5.1,1.1M674.2,99.2l-1.6,4.8M654.6,97.8l-2.3,1.5M660,101.3l-4.9,0.7M662.8,114.3l-1.3,3.7M691.2,75.2l-3,3.8M688.7,88.1l2.5,0.8M682.3,88.8l0.3,2.8M652.8,84.8l2,5.2M658.2,81.4l3.1,1.7M663,102.1l-2,2.3M674.7,80.7l-3.3,3.7M701.1,93.3l-2.6,0.5M661.8,74l3.2,0.9M690,96.9l2.7,0.2M668.4,112.7l-4.6,0.7M693.2,105.4l4.2,1.3M690.6,90.6l-5.2,1M681.6,92.3l-3.6,1.4M688.2,110.2l-3.2,3.4M681.5,118.2l2.6,0.9M668.6,89.7l-2.7,4.3M672.5,86.5l-0.1,2.7M655.9,94.8l-4.9,0.4M678.9,77.2l0.4,2.7M672.4,113.4l4.5,0.6M675.8,113.8l0.3,3M687.3,88.4l-1.3,5.5M685.1,116.9l-2.8,2.4M664.5,71.6l1.1,2.6M697.1,84.5l-2.7,0.7M700.4,80.4l2.7,5.1M666.3,76.9l-2.2,3.5M655.7,90.2l-1.8,2M690.1,104.3l0.5,3.4M692.7,77.9l0.4,2.6M684.7,111.7l-2.8,2.2M642.7,98.4l3.6,0.1M698.9,99.7l-1.6,2.3M673.2,83l3.4,0.3" stroke="#f02828" stroke-width="1.25" stroke-linecap="round" opacity="0.5" fill="none"/><path d="M700.8,78.5l-5.5,0.3M659,106.9l-5.7,1.3M694.8,112.8l-2.8,0.5M667.1,70.5l-4.3,3.5M645.1,92.2l2.9,0.5M681.8,79.8l-2.4,0.7M658.7,88.3l5.1,1.9M683.3,72.4l-2.2,5.2M669,77.2l3.6,4.7M683.1,81.2l-4.2,0.3M691.4,81.6l-0.4,3.7M653.1,90.8l-0.7,4.2M663.4,96.4l0.2,5.8M676.9,98.8l3,3.3M689,94.2l3,1.4M664.8,78l2.3,4M650.7,88.6l-3.8,0.3M645.7,87.2l2.7,2.8M675.7,87.4l-0.3,2.8M670.7,110.3l2.2,1.9M659.8,86.7l3.8,1.2M687.4,102.7l3.6,4M663.1,85.3l0.4,4.9M675,82.2l2.7,0.7M689.9,86.8l-3,1.1M672.1,95l-3.4,1M686.8,82.5l3.9,1.5M670.8,78.9l-1.4,2.4M652.1,92.7l-4.4,0.2M663.5,110.4l5.2,0.1M663.8,88.8l-2.7,5.1M688.7,92.8l2,5.4M666.9,75l-3.4,0.3M687.2,88l-4.2,3.4M668.9,99.9l-2.2,2.6M670.7,75.8l-0.3,5.7M651.9,103.8l4.3,1.5M698.9,102.1l1.2,3.9M692,75l-0.6,5.4M649.2,98.2l1.3,2.7M647.5,102.1l1.7,2.2M663.5,80.4l-3.6,2.3M688.6,114.8l4.5,1.2M661.2,99.7l5.3,1.9M676.6,114.1l-2.7,2.3M654.8,104.4l0.1,2.5M666.9,96.9l1.7,2M670.7,73.5l3.3,0.8M689.1,97.2l2.1,3.3M670.4,95.6l4.9,1.5M681.9,96.8l5.8,0.9M676.7,69.4l-3.4,0.8" stroke="#f02828" stroke-width="1.25" stroke-linecap="round" opacity="0.6" fill="none"/><path d="M684.5,83.2l3,4.4M680.5,113.6l2.8,5M660.4,97.9l-3.5,2.1M689.2,82.7l-4.7,0.8M646.5,98.2l-0.5,3.7M664.3,114.8l2.9,0M681.1,106.3l-2.8,1.1M671,110.3l-0.3,4.6M661.2,102.7l-4.7,0.9M673.1,89l-4.3,3.9M682.2,108.7l1,2.3M673.9,112.9l4.3,4M679.7,87.2l4.6,1.6M680.1,118.5l2.9,0.3M685.6,114.4l-3.2,4.4M663.5,91.8l-3.1,4.3M650.1,99.8l1.5,3.5M680.4,117l-0.7,3.3M664,76.1l-2.7,0.6M676.5,110.7l3.4,1.6M681.3,101.2l2.5,1.6M660.9,90.9l-0.6,5.6M703.8,91.2l-2.2,1.9M675.1,90.4l-4.4,1.2M662.8,84.6l-2.7,1.1M694.2,107.7l-2.3,1.3M655.8,82l4.8,0.2M650,89.2l1,5.2M681.1,104.9l0.4,5.3M701.2,98.2l-0.4,3.1M671.6,90.2l3.1,1.6M681.8,87.6l0.7,2.9M697.6,99.6l-2.8,1.4M659.4,98l0.9,4.6M693.2,100.9l3.1,2.9M683.2,75.9l-2.6,0.5M652.9,96.8l-3,4.1M675,94.3l-3.1,1.7M680.6,100.8l1.9,2.9M679.4,100.8l3.7,1.7M681,66.5l3.6,4.4M693.5,91.9l-4,0.8M678.8,108.7l-2.7,1.3M699.8,105.1l-4.2,0.4" stroke="#f02828" stroke-width="1.25" stroke-linecap="round" opacity="0.7" fill="none"/><path d="M685,105.1l-4.6,3.5M667.1,94.4l-2.2,1.9M683.1,107.6l2.2,4.2M697.8,84.8l-4.9,2.6M693.4,96.6l-2,3.4M669.4,100.4l3.8,3.1M655,75.9l0.4,3.8M683.9,97l-5.8,0.8M674.4,81.2l0.2,2.9M662.3,75.7l-3.5,0.1M675.8,89.8l2.2,4.6M692.9,87.8l-1.2,4.8M695.5,108.3l-1.3,2.3M674.8,83.9l-2.1,1.6M700.3,102.5l5.5,2.1M687.2,92.3l-2.9,0.5M677.9,91.4l-0.8,3.7M669.6,97.1l1.9,1.9M669.9,85.6l1.3,2.2M676.3,107.7l1.9,4.2M658.5,104.9l5,1.2M662,100l-2.9,1M679.5,76l3.8,2.6M650.9,99.3l4.9,1.7M668.4,95l1.1,2.7M673.2,98.2l-4.5,1.4M670,80.1l0.3,3.5M690.8,104.8l3.7,4M679.5,73.2l4,2.9M670.9,116.9l-2.4,4.6M687.3,83.9l-2.8,3.2M659.6,109.7l-1.8,3.4M689.8,92.5l0.7,3.5M668.6,97.7l-2.9,2.8M693.6,99.4l-4,2.3M671.1,100l-2.7,4.9M670.6,76.2l1.7,2.9M646.5,94.4l3.7,3.1M665.2,111.7l-2.8,2.3M675.9,110.3l-0.9,4M697.6,81.6l1.9,4.2M657.2,101l-0.9,3.4M667,115.2l3.6,0.9M659.9,91.4l0.1,3M686.1,83.5l-2.1,3.2M684.5,102.4l-4.8,1.2M690.7,77.4l0.1,4.3M664.9,105.9l-0.5,4.8" stroke="#f02828" stroke-width="1.25" stroke-linecap="round" opacity="0.8" fill="none"/><path d="M696,80.2l0.9,5.9M694.1,106.6l-2.8,4M665.2,103.2l2.7,3.2M645.7,94.7l-2.1,3.5M673.2,114l1.4,3.6M657.3,82.5l-2.4,1.4M685.5,88.4l3.3,4.1M648.3,102.5l-1.7,3.9M685.9,70.8l-1,3.2M670,73.6l-4.1,2.4M671.7,107.8l4.1,0M652.9,95.7l-4.5,1.1M692.9,96.2l-4.5,1.5M661.5,76.4l-0.7,3.7M656.8,84.1l4.2,4.2M696.3,98.8l0.9,2.9M672,68.8l4.8,1.5M655,107.6l2.6,4.2M669.5,74.5l-2.6,5M689.4,79l4.4,0.9M684.8,105.7l4.1,0.8M684.7,94.1l3.8,0.6M694.2,88.4l-5,2.1M671.3,68.8l2.1,5.3M672,80.3l-2.7,2.7M691.9,87.4l-0.1,4.6M666.9,99.6l2.5,2.4M688.6,97.2l2.7,0.1M686.1,70.1l0.6,4.7M690.1,80.2l1.5,2M665.6,71.1l-2.5,3.1M650.4,83l-5.2,0.9M660.2,105.4l2.9,3M651.8,74.1l0.8,4.6M664.3,110.9l-1.9,3.5M671.3,72.1l4.8,3.5M688.4,110.9l-2.8,4.3M670,109.9l2.7,2.3M649.3,94.4l4.6,1.2M698.6,83.2l-2.3,3.4M655.2,83.4l-2.4,3.5M684.8,104.2l-5.3,0.7" stroke="#f02828" stroke-width="1.25" stroke-linecap="round" opacity="0.9" fill="none"/><path d="M664.4,91.9l-1.6,2.2M673.8,94.2l4.7,2.7M681.7,89.6l-4,2.6M681.1,106.3l-2.2,2.8M667.2,100.8l0.1,5.9M692.4,113.5l-3.1,2.5M679,72.8l4.2,3.9M679.7,104.7l-5.7,1.1M689.3,98.4l-1.1,3.1M683.5,110.9l-0.7,2.6M677,82.2l4,1.4M676.2,89l2.9,3.3M693.1,95l2.4,1.1M680.6,98.6l0.2,5.6M694,100l5.6,0.4M662.1,104.7l1.1,2.9M668.2,73.1l4.4,0.1M659.3,95.1l3.3,0.5M661.9,80.4l2.8,0.6M689,90.2l-0.6,5.2" stroke="#f02828" stroke-width="1.25" stroke-linecap="round" opacity="1.0" fill="none"/><path d="M642,97.3l2.5,2.6M722.9,88.7l-3.8,4.2M655.9,139.4l2.8,2.7M647.4,94.4l-3.7,1.9M736.2,111l-4.9,1M715.4,78.7l-4.4,4.4M644,98.4l-3.3,3.1M649.3,77.3l3.9,2.9M706.8,92.7l2.9,3.1M700.3,108.6l-5.2,2.4M672.3,121.4l3.7,1.4M635.4,137.1l-2.4,3.1M670.1,126l1.8,4.2" stroke="#d02222" stroke-width="1.375" stroke-linecap="round" opacity="0.3" fill="none"/><path d="M734.6,109.9l0.5,2M665.4,126.7l-5.8,1.7M626.3,117.3l-0.9,2.8M663.1,68.6l1.6,3.2M649.1,68.6l-2.5,3M648.1,64.7l-4.1,3.2M637.1,110.4l-4.9,1.5M666.6,132.8l-2.3,2.5M655.7,61.5l-1,4.9M670,137l0.8,2M656.7,115.9l2.6,5.9M713.3,124.6l-2.5,3.3M649.5,100.6l-6.4,0.3M616.4,119.9l5.5,2.7M665,65.4l0.6,2.7" stroke="#d02222" stroke-width="1.375" stroke-linecap="round" opacity="0.4" fill="none"/><path d="M712.9,90l1.4,1.9M654.8,114.9l2.5,0.2M718,95.5l1.5,2.7M680.2,129.5l1.2,2.9M647.8,108l5.1,0.3M671.7,119.9l5,0.4M704.5,89.6l-1.2,4.7M636,54.8l-4.2,0.2M648.1,80.2l4.8,2.1M713.5,130.4l-3.8,3.9M646.8,69.4l-2.2,4.3M661.7,121.2l-3.6,3.6M655.9,129.3l-2.8,5.8M709.5,67.7l-4.6,2.3M658.1,114.2l3.5,5.4M661.6,116.8l-2.3,3.7" stroke="#d02222" stroke-width="1.375" stroke-linecap="round" opacity="0.5" fill="none"/><path d="M655.1,116.1l2.9,3.8M638.1,86.8l3.5,5.2M649.1,65.8l-2.6,4.3M653.3,119.8l3.5,4.2M653.8,116.4l2.8,3.8M630.7,94.3l0.5,6.2M632.9,76l2.5,3.9M667.9,132.9l2.4,1.8M737.3,68.9l4.7,4.1M683.8,56.4l0.1,6.2" stroke="#d02222" stroke-width="1.375" stroke-linecap="round" opacity="0.6" fill="none"/><path d="M728.3,123.7l-0.8,3.2M698.6,81.1l0.4,3M712.9,82l-3.1,3.2M706,128.3l3.9,3.1M672,116.7l-1.6,5.3M706,89.6l-2.6,3M689.6,136.3l1.4,3.9" stroke="#d02222" stroke-width="1.375" stroke-linecap="round" opacity="0.7" fill="none"/><path d="M702,118.4l1.8,2M692.8,73.8l4.3,3.1M707.2,66.7l-1.6,2.1M647.9,126.6l-2,3.7M654.2,110.8l-1.3,1.9M694.8,116.8l-4.2,0.7M725.8,58.7l-1.7,2.7M685.6,53.6l-1.9,4.1M646.1,88.6l-2.4,2.1M702,68.7l-0.4,3.1" stroke="#d02222" stroke-width="1.375" stroke-linecap="round" opacity="0.8" fill="none"/><path d="M687.6,64.2l-2.3,3.9M694.2,111l3,4.6M704.3,114l-3.3,3M707.9,107.6l3.4,2.2M705.8,71.8l-2,1.6M700.7,66.2l-3.1,1.2M669.5,65.5l3.2,3.8M677.1,120.7l6.2,0.7M700.1,104.4l-1.2,4.5M665.7,120l-0.7,4.7M695.4,74.4l-0.7,5.8M706.4,69.9l3.7,3M718.9,79.1l-2.6,3.9M650.3,73.9l-2.1,3.7" stroke="#d02222" stroke-width="1.375" stroke-linecap="round" opacity="0.9" fill="none"/>
</g>
<rect x="479.5" y="160" width="128.5" height="127" fill="#030303"/>
<g clip-path="url(#cl11)" filter="url(#soft)">
<path d="M517.9,203.7C518.9,203 520.9,200.1 523.9,199.5C526.9,198.9 532.7,200.3 535.9,200.1C539.1,199.9 540.2,199.1 543,198.3C545.8,197.5 550.4,196.8 552.6,195.3C554.8,193.8 554.4,190.1 556.2,189.3C558,188.5 560.3,189.3 563.3,190.5C566.3,191.7 572.1,194.1 574.1,196.5C576.1,198.9 575.5,201.5 575.3,204.9C575.1,208.3 573.7,212.8 572.9,216.8C572.1,220.8 571.5,224.6 570.5,228.8C569.5,233 569.1,238.5 566.9,241.9C564.7,245.3 560.6,247.9 557.4,249.1C554.2,250.3 550.8,249.5 547.8,249.1C544.8,248.7 542.4,248.1 539.4,246.7C536.4,245.3 532.5,243.1 529.9,240.7C527.3,238.3 525.7,235.4 523.9,232.4C522.1,229.4 520.3,226.4 519.1,222.8C517.9,219.2 516.9,214.1 516.7,210.9C516.5,207.7 517.7,204.9 517.9,203.7" fill="#5a5a5a" opacity="0.6" filter="url(#blur1)"/><g mask="url(#k3)"><rect x="512" y="185" width="68" height="68" filter="url(#netW)"/><ellipse cx="546.0" cy="219.0" rx="34.0" ry="34.0" fill="url(#edgeDark)" opacity="0.55"/></g><path d="M556.2,246.3l-0.5,1.8M545.6,232.7l1.6,1.3M553.6,243.7l-1.1,2M550.2,232.1l0.7,3.4M542.5,235l-3.3,0M554.8,226.1l-0.5,3.8M569.5,221.5l-3.4,0.4M548.9,224.5l-1.3,0.9M534.1,227l-2.4,0.8M520.5,202.7l-1,1.8M568.3,210.7l2.3,0M524.2,202.5l1.7,3.1M518,211.6l-2,3M559.4,219.1l3.5,1.7M548.3,242.4l-2.7,0.8M537,201.6l-1.5,0.3M528.8,209.8l-2,2.9M525.1,222.1l0.5,2.2M547,202.9l-0.1,2.7M540,218l2.3,1.9M531.7,241.8l2.1,1.6M571.7,225.1l0.9,3.3M523.2,232.6l2.9,1.3M520.3,222.5l1.7,1.4M540.3,204.9l3.3,0.3" stroke="#f2f2f2" stroke-width="1.15" stroke-linecap="round" opacity="0.3" fill="none"/><path d="M519.3,232.3l2.8,2.8M555.3,215.4l0.4,2.7M552.6,197.3l-2.6,0.2M552.9,218.4l0.2,1.9M554.6,194.3l-0.9,1.4M567,210.2l-0.6,1.5M529.6,221.9l2.5,1.8M534,210.5l1.5,2.3M543.2,217.2l-1.5,1.1M565.8,216.4l-1.3,2.2M574.5,219l-1,2.3M548.7,227.4l-1.8,1.3M519.1,202.9l3.2,0.3M555.5,187.3l2.1,2.6M554.4,200.3l3.5,1.2M548.9,201.4l1.1,3.7M553.1,198.9l0,2.2M555,215.7l-1.9,0.1M523.7,215.6l-1.2,3.2M539.9,232.6l2.5,2M537.8,207.3l-0.3,3.9M548,223.8l-0.9,1.2M562.8,202.7l-1.8,3.5M557.4,218.2l-1.5,2.9M561.2,193.4l-2.1,1M559,213.9l-2,1.6M559.1,222.5l3.7,1M516.4,212.3l1.7,1.8M560.6,206.6l1.3,1.9M534.8,229.6l2,1.9M552.3,202.8l-1.5,1.7M555.8,236.4l-2.5,1.3M540.5,202.7l0,1.8M554,210.7l-1.2,3.5M560,218.2l-2.1,0.2M548.2,200.7l0.5,3.6M571.4,216.4l-0.3,3.7M523.8,211.5l1.8,1.5M555.1,213.7l0.4,2.5M521.7,217.1l-1.9,2.2M546.7,251.6l1.7,0.7M535.5,235.1l-1.9,0.5M519.7,209.2l-2.6,2.3M542.1,200.9l0.5,1.4M542.4,220.4l-1.5,0.9" stroke="#f2f2f2" stroke-width="1.15" stroke-linecap="round" opacity="0.4" fill="none"/><path d="M552.3,234.9l-2.1,0.8M562.6,208l2.2,1.3M539.5,214.4l0.8,2.9M522.1,210.1l-0.8,3.3M560,216.5l0.8,2.3M548.7,227.9l-3.4,0.5M528.8,213.4l3.3,1.3M551.9,206.2l1.4,1.9M540.3,238.7l2,0.6M559.6,245.8l0.9,1.3M566.2,238l-2,2.1M549.2,229.2l3.5,0.1M557.5,207.5l-0.9,3M558.6,199.2l1,3.1M543.8,196.6l-3,2.3M525.7,221.5l-1.4,2.7M522.1,202.8l-2,2.4M544.1,236.2l2.4,0.7M566,222.8l0.8,2.2M539.7,202.9l0.4,1.6M569.3,216.5l1.2,1.1M559,205.2l0.8,3.2M567.9,204.6l2.1,1.4M553.1,237.1l0.5,3.6M521.8,216.6l-1.7,1.7M533.7,213l-2.4,0.4M558.2,247.5l1.3,0.8M532.7,216.6l1.1,3.8M568,231.7l-3.3,0.4M548.7,217.4l3.4,1.2M554.7,230l-3,1.5M527.3,205.3l-2.9,2.4M553.9,227.8l-0.7,3.9M518.9,203.5l0.4,1.8M532.9,233.6l0.3,2.9M563.2,190.6l-0.7,2.2M568.6,225l1,3.5M531.4,229.6l-2.3,1.6M538.8,215l1.8,0.7M536.6,234.4l0.1,2.6M549.7,199.7l1.1,2.2M529.8,224l3.4,1.2M529.9,204.5l1.4,0.8M565.3,197.8l-3.8,0M529.7,232.1l3.3,0.8M567.5,217.5l-3.1,1.2" stroke="#f2f2f2" stroke-width="1.15" stroke-linecap="round" opacity="0.5" fill="none"/><path d="M567.1,191.3l2.2,0.1M536.8,229.2l1.6,2.8M527.6,203.6l-0.6,3.9M567,225.6l1.1,2.3M569.5,209.4l-2.7,2.2M521.9,226.4l-0.9,1.4M559.9,208.6l1.9,1M555.6,193l0.5,1.5M543.8,195.8l1,2.2M536.4,225.2l0.4,2.7M558.1,198.8l1.7,0.1M526,231.4l-0.4,2.1M529.8,225.1l-3.3,1.8M557.2,231.3l-0.1,2.8M547.3,223.3l-0.7,2.5M537.8,214.8l1,1.3M527.3,210.1l-0.4,2M535.9,219.2l-1.9,0.9M551.1,244.6l-0.8,1.7M515.1,202.9l-1.7,0.4M545.1,217.9l0.1,1.7M549.9,205l0.2,3.7M561.9,192.7l-1.3,1.6M573.2,197.5l-2.2,0.7M532.1,205.1l3.3,0.2M532.4,219.4l-1.7,1.8M563.5,190l0.8,1.9M559.2,216.2l0.7,1.6M560.9,219.2l1.2,3.6M558.1,245.6l3.2,1.7M558.7,193.6l1.8,0.2M536.9,225.6l-0.9,3.6M554.6,235.9l0.1,3.1M568.8,194.8l-3.6,1.4M535.2,242.1l-1.6,1.6M523.5,201.3l-1.5,0.6M541.7,226.7l0.4,3M544.2,207.8l0.5,2.2M566.4,196.1l0.3,3.2M537,205.6l0.6,2.2M565.9,212.8l2.2,1.8M534.3,206.3l-3.3,0.1" stroke="#f2f2f2" stroke-width="1.15" stroke-linecap="round" opacity="0.6" fill="none"/><path d="M544.9,198.1l2.5,1.3M518.6,219.4l1.5,3.2M545.2,233.1l1.7,1.2M551.2,225.5l1,3.7M570.1,204.5l-2.4,1.1M552.4,216.3l2.7,2.2M521.8,200.6l2.5,2.1M545.9,209.3l0.1,2.9M545.7,216.1l-2.7,2.5M542.5,206.5l-0.2,3.2M541.8,214.7l1.6,0.5M523.5,206.4l2.7,0.3M549.1,212.2l1.9,2.7M549.2,213.1l2.6,0.2M541.7,247.5l0.4,4M537.1,240.9l-0.3,1.7M529.2,234l-3.9,0M558.1,232.8l-0.7,1.7M534.7,233.2l-3.1,2M534.7,221.6l1.5,2.1M559.1,205.4l1.6,0.8M544.8,242.9l2,0.6M545.8,245.1l-1.8,0.1M549.1,234.6l2.2,0.4M540.9,196l2.9,2.7M558.9,197.3l1.3,1.9M529,202.2l2,0.8M553.5,219.7l-2.1,0.7M542.6,200.6l-2.9,0.5M541.1,207l0.2,3.5M566.9,234.4l3.2,1.4M534.4,213.2l-0.6,3.8M559.4,206.8l3.2,2.1M538.3,242.9l-0.1,1.7M524.8,203.6l2.2,1.9" stroke="#f2f2f2" stroke-width="1.15" stroke-linecap="round" opacity="0.7" fill="none"/><path d="M572,196.3l0.6,1.8M550.1,215.8l2.4,1M524,215.3l3.1,1.1M534.9,214.4l3.8,1.1M533.9,203.5l-1.3,3.4M547.3,242.2l1.1,1.2M541.7,209.9l-3.5,0.4M557.8,209.5l-3,1.8M522.7,236.5l2.9,0.5M566.8,222.1l1.9,3.2M520.9,206.7l0.5,1.8M537,242.1l-0.2,2.3M536.7,209.3l-0.4,2.2M545.1,228.9l1.4,2.6M528.1,206.7l-3.3,0.2M518.5,218.4l0.2,4M547.1,225.7l0.6,1.9M565.5,218.3l-1.4,1.8M517.8,207.1l-0.1,3.7M563.4,191.6l1.3,3.4M550.1,233.2l-1.4,2.2M573.8,223.5l-0.6,3M568.9,209.4l-3.3,1.3M573,225.2l-1.9,2.7M523,216.6l-3.2,0.1M530.1,246l3,0.1M554.6,231.5l-0.3,3.6M572.2,209l2.9,1.7M537,213l1.6,2.1M542,245.1l2.5,1.6M551.4,245.2l-0.8,1.7M522.1,197.1l0.7,1.8M546,220.2l-1.3,1.3M523.8,228.8l-2.6,1.3M574.7,211.3l-0.2,2.8M554.4,220.3l-2.4,0.2M523.9,205.2l-3,2.1M527.8,201.4l0.5,1.8M572,221.6l1.1,1.3M528,224.9l-1.6,1.4M528.2,220.9l-1.9,1.5M565.4,239.3l-3.5,1.7M549.3,248.9l-2.9,1.9M551.1,197.5l0.1,3.9M569.5,237.4l-1.7,2.6M569.2,196.2l2.4,1.4M528.6,235.8l1.5,0.2M544.7,203.3l-1.7,1.9M544.7,222.5l-0.1,2.5M529.4,205.7l3.7,0.7M552.4,210l0.9,2.8" stroke="#f2f2f2" stroke-width="1.15" stroke-linecap="round" opacity="0.8" fill="none"/><path d="M535,202.4l0.6,2.4M560.8,229.7l3,0.1M568.4,196.9l1.5,3.6M531.9,239.4l0,2.2M558.2,238.8l-3.8,0.1M531.8,198.4l-0.3,3.4M548.2,233.5l1.6,1M563.8,199.2l-0.9,1.9M560.7,197.3l-2.6,1.8M542.2,224.9l0.1,2.9M548.2,230.8l-0.7,2.1M525.4,217.8l-0.4,1.7M542.4,202.6l-0.6,3.1M533.9,199.9l-2.9,0.8M553.4,206l2.2,0.1M520.3,227.2l1.2,2M533.4,233.9l-2.4,1.8M528.3,218l3,0.6M557.5,209.8l-0.2,2.9M569.7,226l-0.1,2.2M557.6,208.9l-1.2,2M561.8,212l0.3,2.1M570.5,213.3l2.6,0M552.6,225.4l2.2,1.4M567.4,212.6l3.4,1.6M548.7,204.3l-0.5,1.6M547.1,198.9l2.8,0.4M557.3,201.5l-0.3,2.5M533.2,220.2l0.5,2.4M562.9,226l-0.3,3.2M532,204.3l-0.2,1.7M525.7,231.5l1.8,2.7M553.5,217.6l-2.8,1M546.8,223l-1,1.5M564,216l-2.4,2.6M562.9,199.5l-3,0.8M576.5,197.2l1.5,0.1M549.4,232.6l1.3,1.3M566.1,207.9l-2.6,0.4M550.1,245.1l2.4,0.6M547.7,213.1l-1.5,0.6M532.8,204.6l-2.1,0.6M565.8,220.2l1.8,0.2M530.3,238.4l2.3,0.9M543.1,209.2l-1.9,0.6M518.6,207.8l-0.8,3.4M540.9,212.4l1.2,2.5M555.3,226l3.3,2.2M542.9,238.1l-2.5,0.6M557.9,200.6l0.1,3.3M529.9,235.4l-3.3,0.4M542.2,197.4l1.3,3.1M525.3,212.3l2.3,0.4M568,207.2l-2.6,0.1" stroke="#f2f2f2" stroke-width="1.15" stroke-linecap="round" opacity="0.9" fill="none"/><path d="M572,210.9l2,0.8M569.3,199.3l-1.5,0.6M546.4,223.5l-3.9,0.8M570.1,219.4l-2.8,0.3M541.8,228.4l-1.8,0.2M570.5,213.5l-1.4,0.4M546,238.1l-1.5,3.6M566.4,218.1l-0.7,3.6M546.4,207.4l-1.5,1.7M518.8,212.8l1.9,1M545.4,236.9l2.7,1.5M571.4,218l1.2,2.9M550,231.4l0.7,2.7M534.1,207.3l-1,1.5M544,220.8l-0.6,1.5M515.2,218.4l-0.3,1.5M553.7,195.3l0.4,1.7M529.6,207.3l-3.7,0.2M539.1,207.6l2.1,2.4M549.6,238.1l0.7,2.8M562.6,187l-0.5,2.1M530.2,223.2l1.7,1.3" stroke="#f2f2f2" stroke-width="1.15" stroke-linecap="round" opacity="1.0" fill="none"/><path d="M568.2,240.8l-0.8,3.2M565.2,260.1l1.8,0.5M588.9,276.4l0.9,4.3M525.6,255.8l2.8,2M491.3,227.2l3.1,1M504.6,257l-0.3,2" stroke="#e6e6e6" stroke-width="1.265" stroke-linecap="round" opacity="0.3" fill="none"/><path d="M576,226.3l-0.4,1.3M575.9,183.3l-1,2.9M525.1,250.4l1.6,1.2M508.5,256.2l-1.1,1.5M529.6,174l2.3,3.8M497.5,233.8l-3.1,0.8M486.2,211.8l2,1.1M560.6,247.7l2.4,0.2" stroke="#e6e6e6" stroke-width="1.265" stroke-linecap="round" opacity="0.4" fill="none"/><path d="M573,265l-1.8,0.4M582,231.9l-2.8,2.6M604.2,224.9l-1.6,0.1M516.8,245.5l-1.3,4M515.4,220.2l-1.2,0.8M582.3,213.2l-3.8,0.9M522.5,239.5l3.4,0.1M510,254.6l-2.4,1.3M514.6,238.8l-1.3,3.7" stroke="#e6e6e6" stroke-width="1.265" stroke-linecap="round" opacity="0.5" fill="none"/><path d="M581.2,184.3l0.9,1.3M566.2,265.9l1.2,0.6M598.6,198.6l3.2,2.4M563.9,243.4l1.9,1.6M528.9,188.4l-1.5,2.9M585.1,212.4l1.1,0.6M564.5,248l2.2,3M543.1,171.6l1.4,1.2M510.9,176l-2.2,1.2M571.5,241.5l0.3,2.1M560.1,261.8l0.7,3.3" stroke="#e6e6e6" stroke-width="1.265" stroke-linecap="round" opacity="0.6" fill="none"/><path d="M531.1,243.6l-2.4,3.6M521.7,237.7l-3.6,0.5M572.2,181.2l-1.9,3M589.5,225.7l0.8,2.7M595.2,202.7l-3.9,0.5M538.1,251.9l-1.5,1.5" stroke="#e6e6e6" stroke-width="1.265" stroke-linecap="round" opacity="0.7" fill="none"/><path d="M502.5,194.1l1.9,1.6M550,250l-3,1.5M503,225.5l-1.2,4M535.4,254.6l0.5,1.1M580.3,184.1l0.9,2.1M502.3,184.8l-1.3,0.2M524.6,238l-3.8,1.5M582.7,274.2l-2.6,1.2" stroke="#e6e6e6" stroke-width="1.265" stroke-linecap="round" opacity="0.8" fill="none"/><path d="M562.8,247.1l-0.9,1.6M520.7,253.9l-2.1,1.8M539.1,256.8l-0.8,1M519.1,236.1l1.2,3.6M506,194.2l3.8,1M576.6,190.3l2.9,2.4M536.1,187.5l3.9,1.4" stroke="#e6e6e6" stroke-width="1.265" stroke-linecap="round" opacity="0.9" fill="none"/>
<path d="M556,190l1,-10M557,180l-1,-4" stroke="#ddd" stroke-width="1.3"/>
</g>
<rect x="612.5" y="160" width="129" height="127" fill="#030303"/>
<g clip-path="url(#cl21)" filter="url(#soft)">
<path d="M649.9,203.7C650.9,203 652.9,200.1 655.9,199.5C658.9,198.9 664.7,200.3 667.9,200.1C671.1,199.9 672.2,199.1 675,198.3C677.8,197.5 682.4,196.8 684.6,195.3C686.8,193.8 686.4,190.1 688.2,189.3C690,188.5 692.3,189.3 695.3,190.5C698.3,191.7 704.1,194.1 706.1,196.5C708.1,198.9 707.5,201.5 707.3,204.9C707.1,208.3 705.7,212.8 704.9,216.8C704.1,220.8 703.5,224.6 702.5,228.8C701.5,233 701.1,238.5 698.9,241.9C696.7,245.3 692.6,247.9 689.4,249.1C686.2,250.3 682.8,249.5 679.8,249.1C676.8,248.7 674.4,248.1 671.4,246.7C668.4,245.3 664.5,243.1 661.9,240.7C659.3,238.3 657.7,235.4 655.9,232.4C654.1,229.4 652.3,226.4 651.1,222.8C649.9,219.2 648.9,214.1 648.7,210.9C648.5,207.7 649.7,204.9 649.9,203.7" fill="#981414" opacity="0.5" filter="url(#blur1)"/><g mask="url(#k4)"><rect x="644" y="185" width="68" height="68" filter="url(#netR)"/><ellipse cx="678.0" cy="219.0" rx="34.0" ry="34.0" fill="url(#edgeDark)" opacity="0.55"/></g><path d="M672.9,209.7l5,2.3M681.2,218.4l-0.7,5.6M685.5,225.7l-2.1,3.3M671.3,249.3l5,1.7M704,233.8l-0.5,3.6M692.7,203.4l-0.3,2.7M698.7,204l3.3,1.4M671.1,235.9l0.8,5.8M692.5,207.4l-0.9,4.9M662.3,237.3l-1.8,5M673.7,215.1l-3.4,2.2M686.8,201.4l-0.8,2.9M653.6,208.3l3.3,0.2M703.2,198.8l3.1,0.9M666.2,224.1l-0.4,3.1M675.6,227l4.7,1.6M695.8,185.2l-0.3,3.6M699.3,241.9l0.4,4.5M696.7,193.7l2.9,3.3M701.9,203.2l-2.6,4.9M684.5,247.8l-3.4,0.8M685.6,204.4l-1.3,3.5M665.6,204.1l4.4,0.1M662.8,212.4l1.9,5.3M655.3,202l-0.2,5M682,214.7l2.1,2.1M693.8,195.3l-1.2,3.2M665.1,219.9l-0.1,4.7M688.6,194.4l4.2,3.9M676.7,236.9l1.1,4.3M666.8,204.8l-2.7,3.1M657.9,202.9l3.6,4.3M654.6,221.1l2.4,1.4" stroke="#f02828" stroke-width="1.25" stroke-linecap="round" opacity="0.4" fill="none"/><path d="M673.2,234.3l2.9,1.6M652.4,223.5l-1.4,5.5M690.6,235.1l2,5.2M694.4,237.5l-3.9,1.6M656.4,214.7l-0.7,3.8M658.7,237.9l2.2,1.8M685.5,199.9l3,3.1M682.3,196.3l-3,3.8M667.4,202.1l2.1,3.3M711.9,196.1l-4.1,2M699.5,199.3l4.1,0.2M644.1,204.5l4.2,1.6M683.4,209.1l3.8,4.5M676.3,223.9l-1.7,3.8M674.2,204.8l5,0.8M695.4,202.3l4.7,2.6M701.6,231.4l5.5,1.3M687,219.7l1.2,5.8M695.5,221.1l3.4,3.8M695.3,206l-1.8,4.5M694.1,240.9l1.6,2.8M685.7,247.3l-3,0.8M686.8,229l2.9,0M696.2,194.1l-2.2,4.1M651.5,234.5l5.8,0.4M697.7,235.7l1,4.5M688.7,215.2l4.2,0.5M694.1,222.6l3.6,0.3M687.6,188.8l1.4,5.6M690.2,243.5l2.9,4.1M676,200.9l-2.8,1.3M695.4,234.6l2.5,2.9M650.3,204.3l-1.2,5.7M671,213l2,2.3M670.1,216.8l2.6,2.7M661.9,206.9l-2.1,5.5M657.3,206.9l-2.5,4M675.8,197.2l1.9,3.2M653.2,216.5l-4.3,3.6M696.6,195.4l-0.2,3.5M702.4,197.3l-3.5,0.7M683.2,210.9l1.4,2.7M679.7,241.9l-2,3.5" stroke="#f02828" stroke-width="1.25" stroke-linecap="round" opacity="0.5" fill="none"/><path d="M697.4,210.6l-2,2M689.3,233.7l0.7,2.7M664.8,213.7l3.2,2.5M674.8,200.9l-3.9,0.4M659.3,209.2l-2,5.5M655.8,226.3l2.3,1.5M673.3,221.8l5.2,0.4M669.1,234l0.4,4.3M666.3,200.2l-1.4,4M685,222.7l0.6,3.1M683.1,248.2l-2.8,0.3M656.4,211l-3.9,0.5M689.2,191.5l-4.3,0.5M705.8,222.8l-4.2,3.6M676.7,219.7l1.4,4.8M692.9,230.6l-1.1,4M661.3,228.7l3.7,1.9M697.1,219.8l-5.1,2.7M700.6,196.2l-0.8,3.4M700.9,189.3l-2.5,1.5M660.7,228.2l-3.7,2.2M660.1,199.2l3.8,4.3M679.1,235.4l-2.3,4.2M676.7,196.6l-2.3,4.5M682.4,223.1l1.8,3.3M700.9,227l-4.4,0M672.7,203.5l-2,5.1M688.4,226.4l1.5,4.3M669.8,212.6l-0.7,5.8M673.5,238.2l-2.8,2.7M688,214.3l2.7,3.2M662.2,236.1l-4.4,3.5M691.3,234.4l-3,0.8M682.1,221.6l-3.3,0.1M658.2,227.1l3.3,0.1M691.7,235.4l-5,2.3M692.4,229.3l1.2,3.7M688.3,243.9l3.3,2.6M678,231.7l1.3,2.6M669.8,231.3l0.1,4M657.6,200.3l-2.8,3.6M693.7,192.6l-4,2.6M683.3,244.1l-2.9,2.1M699.9,243.9l-3.1,2.1M669.8,205.8l-5,1.7M663.2,208.7l3.1,1.2M697.8,203.2l-3.8,3.3M700.1,219.9l3.8,0.6M698.9,220.5l0.2,2.6M693.7,220.4l4.8,2.8" stroke="#f02828" stroke-width="1.25" stroke-linecap="round" opacity="0.6" fill="none"/><path d="M673.1,211.3l-1.2,2.6M657.2,226.9l-2.7,0.4M682.7,213.4l1.8,5.7M652.4,223.2l2.5,1.2M699.2,211.6l2.7,2.1M687.8,191.2l3,1.3M703,198.6l3.9,2.9M684,197l-2.2,3.7M667.6,226.7l3,4.8M693.1,233.7l-2.7,0.5M663.7,214.6l3.3,4.2M703.9,196.4l0.4,4.8M672.6,237.6l-1.8,2.1M668,215.6l1.3,3M671.9,217.5l4.9,3.5M675.6,197.4l0.7,4.1M651.5,203.4l0.8,3.5M688.6,224.5l-4.8,1M656.3,220.1l5.4,0.5M661.3,218.2l-0.9,4.8M660.5,224.6l-3.3,3.6M683.9,214.6l0.1,4.3M698.4,221.6l-3.8,3.6M711.1,196.2l-2.7,2M667.6,239.2l0,5.5M675.1,235.5l-3.1,3M661.7,215.5l1.3,3M701.4,200l2.4,3.4M702.4,223.3l1.9,3.4M664.9,200.9l-0.4,5.1M673.3,231.5l0.3,2.8M695.9,238.6l1.4,2.3M686.4,228.1l5,0.3M659.9,207.8l-2.5,0.5M698.5,214.8l-0.1,5.7M677.8,229l3.3,4.1M704.1,197.1l-3.7,2M672.6,238.9l4.4,2.6M684.4,217.1l-1,2.3M694.4,220.4l2,2.6M687.3,227.3l2.7,0.9M707.7,199.3l4.8,2M692.6,250.1l-1.2,4.1M675.5,233.3l-2.4,3.2M670,218.4l4.3,0.2M662.4,233.2l-0.1,4M676.6,215.8l-2.6,0.4M691.7,205.7l-2,2.5M700.8,204.6l1.1,2.4M680,237.1l-5.5,2.3M689.2,221.7l-0.3,4.9" stroke="#f02828" stroke-width="1.25" stroke-linecap="round" opacity="0.7" fill="none"/><path d="M675.9,246.4l4.3,1.1M699.7,218.1l-2.1,2.7M686,220.4l3,4.1M675.3,217.7l-1.1,2.4M671.5,244.3l-4.3,2.7M670.9,244.8l-0.1,3M685.8,243.7l-0.6,2.5M693.2,203.1l3.7,1.8M661.1,206.6l-2.6,2.6M697.1,191.3l-5,2M672.9,248.4l-2.4,4.7M704.4,220.1l-1.5,2.6M681.7,220.8l4.2,2.2M666.7,236.9l5.2,2.9M667.4,217.3l-3.4,1.3M698.5,200.9l1.3,3M658.7,230.9l4.1,4.3M682.9,195.4l-1,3.9M693.8,230.7l-0.4,3.6M674.4,209.2l-4.5,1.8M673.5,207.2l-0.9,5M651.5,209.7l1.7,3.5M690.5,212.4l-1.5,5.6M685.4,228.4l5,2.6M668.7,199.4l2.1,5.2M658.4,217.3l-2.2,5.3M674.8,228.8l-0.5,4.1M658.3,223.3l4,1.8M689.3,191.2l-3.8,0M676.8,211l-5.1,1M678.6,208.9l1.2,2.6M660.8,224.5l-3.5,1.2M680.3,204.7l3.5,4.1M692.2,201.9l2.6,1.2M705.4,208.5l-0.4,3.4M671.8,232.7l-4,0.8M692,218.2l-2.4,3.3M674.3,207.1l2.6,0.6M674.7,239.9l2.7,2.2M667.7,229.3l0.3,2.7M683.2,221.8l0.7,2.8M654.2,230.4l5.2,1M689,231.3l-4.6,1.3M672.1,228.8l-2.2,1.5M691.4,194.5l2.8,3.7M691.8,223.1l-0.5,4.4M660.5,224l-5.1,0.8" stroke="#f02828" stroke-width="1.25" stroke-linecap="round" opacity="0.8" fill="none"/><path d="M659.7,203.6l-2.6,1.8M667.7,218.9l4,0.3M682.2,238l3.6,1M651.2,227.7l-2,1.6M702.9,209.3l-1.6,2.7M648,220.3l-1.1,2.6M665.1,204.1l-4.8,3.5M686,206.1l0.8,4.6M683.1,216.8l-3.3,1.5M679.4,248.9l3.1,0.3M677.5,241.2l2,4.4M693.5,227.5l2.7,4.1M694,190.4l-4.9,0.5M702.6,218.2l0.8,4.2M683.9,238.7l1.5,4.1M685.1,229.7l5.2,0M702.6,233l-2.1,2.4M671.8,211.6l-5.4,0.1M706.1,205.9l5.2,0.9M701,238.6l1.4,3.2M689.4,209.4l-2.5,1.3M663.7,232.6l3.6,3.6M694.5,236.7l0.3,2.6M685.6,198.8l4.9,0.8M650.6,214.7l-0.3,4M662.7,231.2l-5.4,2.4M691.5,189l-4.1,2M672.3,226.4l-1.4,4.4M672.2,231.2l-2.8,0.5M661.5,211.5l-2.4,5M680.8,201.7l-4.6,2.9M647.9,211.5l-3.4,4.2M657.7,211.5l-2.1,1.8M704.7,228.2l-0.5,3M645.9,211.1l3.1,1.9M680.4,224.1l-3.2,1M682.6,242l-1,4.3M681.9,221.4l-2.4,1.9M688.6,228.6l4.7,1.7M676.1,244.8l1,5.7M705.8,214.7l-3.2,3.6M694.1,215.7l0.3,4.5M701.8,204.1l3.1,4.5M653.2,212.5l4.4,2.4M669.7,229.8l-3.6,1M679.5,221.6l-3.3,2.8M681.5,208.8l3.3,1.5M659.1,211.5l4.5,0.2M687.5,220.8l-1,5.6M658.6,199.1l4.2,1.9M689.7,234l-1.4,4.3M683.9,191.5l4.2,3.7M690.7,244.5l3.9,1M675.4,245.5l-2.8,1.2" stroke="#f02828" stroke-width="1.25" stroke-linecap="round" opacity="0.9" fill="none"/><path d="M683.1,193.2l4,4.5M698.4,210.3l0.5,4.7M663.1,199.4l4,2.5M668.9,220.2l-2.5,0.9M659,201.7l0.4,2.7M676.5,211.5l-5.8,1M654.8,207.2l-3.1,2.1M690.2,225.2l5.6,1.2M669.2,216l-3,4.9M680.3,225.2l-1.8,2.9M673.2,202l-3.8,4.3M701,216.3l-1.9,2.7M680.5,240.4l1.7,2.5M673.9,196.2l1.8,3.8M663.3,207.1l-1.9,2.9M651,219.6l4.2,3.7M695.7,233.1l-3.8,1.8M683.8,239.4l-2.5,1.5M681.4,241.6l-3.6,3.1M662.2,200.8l-2.2,2.6M654.1,204.1l0.5,4.2M663.7,239.6l3.3,3.2" stroke="#f02828" stroke-width="1.25" stroke-linecap="round" opacity="1.0" fill="none"/><path d="M695.1,187.5l-1.4,3.1M704.8,234.7l2.9,3.7M698.6,244.5l1.2,4M667.7,243.3l1.4,6.3M713.4,181.3l4,1.5M641.7,216.8l0.3,3.6M695.2,178.4l0.3,4.7M658.6,190.1l2.8,0.3M636.1,221.8l-2.4,1.5M692.6,250.9l0.7,4.9M724.5,249.9l-2.6,3.2M709.8,210.9l-3.4,5.5M709.2,231l1.7,3.6M647.3,252l4.6,0.4M709.1,180.9l-1.1,3.2M632.2,250.8l-1.7,1.1M694,178.4l3.5,4.4" stroke="#d82424" stroke-width="1.375" stroke-linecap="round" opacity="0.3" fill="none"/><path d="M729,239.8l-1.3,4.5M641.9,230.9l2.8,4.3M674,186.3l0.6,4.4M715.7,201.9l1.2,1.7M711.1,194.1l-3,4.2M713.8,195.7l4.5,0.1M652.6,251l3.5,2.3M697.9,251l-5.1,0.8M690.4,265.4l-0.5,2.2M681.3,178.8l1.5,2.3M685.1,190.2l-3.1,0.9M717.8,183.2l-0.5,2.7" stroke="#d82424" stroke-width="1.375" stroke-linecap="round" opacity="0.4" fill="none"/><path d="M670.9,249.6l-1.9,1.6M650.7,233.3l-3.4,3.8M710.7,198.2l3,1.7M693.6,246.5l1.3,5.3M649.6,213.7l-4.6,1.8M707.9,204.2l3.4,0.2M667.2,249.5l1.2,1.7M683.9,189.9l4.1,2.2M720.6,222.6l1.6,3.5M646.4,217.6l0.8,5.9" stroke="#d82424" stroke-width="1.375" stroke-linecap="round" opacity="0.5" fill="none"/><path d="M736.4,258l-0.4,2.5M652.2,237.8l3.5,4.5M685.2,268.1l-3.9,2.5M717.5,255.4l-1.2,4.7M629,203.2l-2.2,0.5M738.3,244.1l-2,6.1M658.1,243l-6.4,0.2M655.3,198l-4,1.2M646.9,273.5l-1.9,1.4M680.8,181.2l1.3,5.2M714.1,175.2l2.8,1.2M713.7,221.3l-1.8,5.1M706.2,171.5l-4.3,2.4" stroke="#d82424" stroke-width="1.375" stroke-linecap="round" opacity="0.6" fill="none"/><path d="M708.2,221.7l-2.7,4.7M701.9,256l5.9,2M712.9,172.8l-1.5,1.5M666.1,185.2l-0.7,4M720.7,209.2l3,1.5M662.3,191l1.7,3.6M707.2,187.5l-4.1,1.4M666,187.2l4.1,1.6M697.5,259.2l-4.3,0.2M718.9,240.7l0.7,2.1" stroke="#d82424" stroke-width="1.375" stroke-linecap="round" opacity="0.7" fill="none"/><path d="M628.3,213.5l-3.1,1.9M650.9,171.3l0.8,3.6M672.5,250.5l-4.7,3M652.1,243.8l-5.1,3.9M704.9,235.6l-1.3,4.4M652.4,266.9l2.8,5.4M645.9,201l2.9,5.1M700.6,236.5l4.5,0.8M661.8,191.9l2.5,1.5M654.8,233.1l-3.5,2.9M703.1,242.5l-2.6,1.5M642.2,214.8l4.2,4.6M698.3,253.6l-2.3,5M711.8,198l-1.7,3.1M705,257.5l5.8,2.6" stroke="#d82424" stroke-width="1.375" stroke-linecap="round" opacity="0.8" fill="none"/><path d="M656,236.9l0.3,2.2M640.7,224.3l1.7,5.7M721.9,208.5l-3.1,2.1M631.4,200.2l2.5,5.9M638.6,241.3l-6.1,0.7M657.3,180.2l2,2.8M624.9,177.4l3.4,0.3M722.3,218.9l-1.7,4.4" stroke="#d82424" stroke-width="1.375" stroke-linecap="round" opacity="0.9" fill="none"/>
</g>
<rect x="479.5" y="291" width="128.5" height="127.5" fill="#030303"/>
<g clip-path="url(#cl12)">
<g filter="url(#rough)"><circle cx="543.6" cy="355" r="30.5" fill="url(#gG3)"/></g>
<g clip-path="url(#c3a)"><rect x="512" y="323" width="64" height="64" filter="url(#mott)" opacity="0.35"/><rect x="512" y="323" width="64" height="64" filter="url(#mottL)" opacity="0.55"/></g>
</g>
<rect x="612.5" y="291" width="129" height="127.5" fill="#030303"/>
<g clip-path="url(#cl22)">
<g filter="url(#rough)"><circle cx="675.6" cy="355" r="31.5" fill="url(#gR3)"/></g>
<g clip-path="url(#c3b)"><rect x="643" y="322" width="66" height="66" filter="url(#mott)" opacity="0.12"/></g>
<path d="M682,393l5,10l4,9M674,391l0,3M676,313l-2,5M705,330l-4,3" stroke="#b02020" stroke-width="0.8" opacity="0.8"/>
</g>
<rect x="479.5" y="422" width="128.5" height="126.5" fill="#080808"/>
<g clip-path="url(#cl13)">
<ellipse cx="495" cy="520" rx="55" ry="60" fill="url(#gPatch)"/>
<ellipse cx="600" cy="470" rx="30" ry="70" fill="url(#gPatch)" opacity="0.7"/>
<ellipse cx="560" cy="545" rx="50" ry="18" fill="url(#gPatch)" opacity="0.6"/>
<circle cx="582" cy="530" r="6" fill="#0a0a0a" stroke="#222" stroke-width="0.8" opacity="0.6"/>
<circle cx="536" cy="542" r="3.5" fill="#0a0a0a" stroke="#222" stroke-width="0.8" opacity="0.6"/>
<circle cx="495" cy="500" r="4" fill="#0a0a0a" stroke="#222" stroke-width="0.8" opacity="0.6"/>
<circle cx="503" cy="525" r="3" fill="#0a0a0a" stroke="#222" stroke-width="0.8" opacity="0.6"/>
<circle cx="568" cy="450" r="4" fill="#0a0a0a" stroke="#222" stroke-width="0.8" opacity="0.6"/>
<circle cx="541.5" cy="490.6" r="30.5" fill="#3a3a3a" opacity="0.8" filter="url(#blur1)"/>
<path d="M548.1,469.7a0.8,0.8 0 1,0 1.7,0a0.8,0.8 0 1,0 -1.7,0M546.7,489.2a0.7,0.7 0 1,0 1.3,0a0.7,0.7 0 1,0 -1.3,0M557.4,480.8a0.6,0.6 0 1,0 1.2,0a0.6,0.6 0 1,0 -1.2,0M524.6,479.9a1,1 0 1,0 1.9,0a1,1 0 1,0 -1.9,0M534.4,491.6a0.8,0.8 0 1,0 1.6,0a0.8,0.8 0 1,0 -1.6,0M554,481.6a0.6,0.6 0 1,0 1.2,0a0.6,0.6 0 1,0 -1.2,0M550.1,482.1a0.6,0.6 0 1,0 1.2,0a0.6,0.6 0 1,0 -1.2,0M563.2,479.1a1,1 0 1,0 1.9,0a1,1 0 1,0 -1.9,0M522.5,467.1a1,1 0 1,0 2,0a1,1 0 1,0 -2,0M537,516.1a0.6,0.6 0 1,0 1.2,0a0.6,0.6 0 1,0 -1.2,0M528.1,508.8a1,1 0 1,0 1.9,0a1,1 0 1,0 -1.9,0M530.9,519.1a0.5,0.5 0 1,0 1.1,0a0.5,0.5 0 1,0 -1.1,0M525.9,507.2a0.7,0.7 0 1,0 1.4,0a0.7,0.7 0 1,0 -1.4,0M529.2,478.1a0.9,0.9 0 1,0 1.7,0a0.9,0.9 0 1,0 -1.7,0M554,470.4a0.5,0.5 0 1,0 1,0a0.5,0.5 0 1,0 -1,0M518,498.2a1,1 0 1,0 2,0a1,1 0 1,0 -2,0M517,485.9a0.6,0.6 0 1,0 1.2,0a0.6,0.6 0 1,0 -1.2,0M569.5,498.2a0.5,0.5 0 1,0 1,0a0.5,0.5 0 1,0 -1,0M519.7,487.2a0.5,0.5 0 1,0 1,0a0.5,0.5 0 1,0 -1,0M535.4,464.1a0.9,0.9 0 1,0 1.8,0a0.9,0.9 0 1,0 -1.8,0M517.7,483.4a0.8,0.8 0 1,0 1.6,0a0.8,0.8 0 1,0 -1.6,0M561.1,502a0.9,0.9 0 1,0 1.7,0a0.9,0.9 0 1,0 -1.7,0M541.2,479.2a0.8,0.8 0 1,0 1.6,0a0.8,0.8 0 1,0 -1.6,0M531.3,500a0.7,0.7 0 1,0 1.4,0a0.7,0.7 0 1,0 -1.4,0M560.6,496.2a0.8,0.8 0 1,0 1.5,0a0.8,0.8 0 1,0 -1.5,0M545.4,467.9a1,1 0 1,0 2,0a1,1 0 1,0 -2,0M544,490.3a0.9,0.9 0 1,0 1.9,0a0.9,0.9 0 1,0 -1.9,0M531,511.4a0.9,0.9 0 1,0 1.8,0a0.9,0.9 0 1,0 -1.8,0M565.9,473.2a0.6,0.6 0 1,0 1.2,0a0.6,0.6 0 1,0 -1.2,0M533.6,506.9a0.9,0.9 0 1,0 1.8,0a0.9,0.9 0 1,0 -1.8,0M559.7,474.7a0.5,0.5 0 1,0 1,0a0.5,0.5 0 1,0 -1,0M526.6,497.5a0.5,0.5 0 1,0 1,0a0.5,0.5 0 1,0 -1,0M542.6,469.3a0.5,0.5 0 1,0 1,0a0.5,0.5 0 1,0 -1,0M519.1,495.6a0.5,0.5 0 1,0 0.9,0a0.5,0.5 0 1,0 -0.9,0M551,462.2a0.6,0.6 0 1,0 1.2,0a0.6,0.6 0 1,0 -1.2,0M547.7,463.8a0.9,0.9 0 1,0 1.9,0a0.9,0.9 0 1,0 -1.9,0M522.7,510.7a1,1 0 1,0 1.9,0a1,1 0 1,0 -1.9,0M522.1,494.4a0.7,0.7 0 1,0 1.5,0a0.7,0.7 0 1,0 -1.5,0M521.8,476.5a1,1 0 1,0 2,0a1,1 0 1,0 -2,0M519.9,482.3a0.9,0.9 0 1,0 1.8,0a0.9,0.9 0 1,0 -1.8,0M535.9,469.6a0.6,0.6 0 1,0 1.3,0a0.6,0.6 0 1,0 -1.3,0M530.7,512.6a0.6,0.6 0 1,0 1.2,0a0.6,0.6 0 1,0 -1.2,0M511.2,494.3a0.5,0.5 0 1,0 1,0a0.5,0.5 0 1,0 -1,0M522.8,505.6a0.9,0.9 0 1,0 1.8,0a0.9,0.9 0 1,0 -1.8,0M541.1,513.8a0.6,0.6 0 1,0 1.3,0a0.6,0.6 0 1,0 -1.3,0M518.4,475.5a0.6,0.6 0 1,0 1.2,0a0.6,0.6 0 1,0 -1.2,0M527.9,472.9a0.9,0.9 0 1,0 1.7,0a0.9,0.9 0 1,0 -1.7,0M547.9,516.2a0.9,0.9 0 1,0 1.8,0a0.9,0.9 0 1,0 -1.8,0M561.7,494.6a0.7,0.7 0 1,0 1.5,0a0.7,0.7 0 1,0 -1.5,0M545.4,463.6a0.9,0.9 0 1,0 1.8,0a0.9,0.9 0 1,0 -1.8,0M554.4,506.2a0.9,0.9 0 1,0 1.7,0a0.9,0.9 0 1,0 -1.7,0M554.1,469.5a0.8,0.8 0 1,0 1.6,0a0.8,0.8 0 1,0 -1.6,0M525.6,464.7a0.8,0.8 0 1,0 1.5,0a0.8,0.8 0 1,0 -1.5,0M532,471.3a0.9,0.9 0 1,0 1.8,0a0.9,0.9 0 1,0 -1.8,0M524.4,505.4a0.7,0.7 0 1,0 1.5,0a0.7,0.7 0 1,0 -1.5,0M523.6,511.9a0.9,0.9 0 1,0 1.7,0a0.9,0.9 0 1,0 -1.7,0M541.3,513.1a0.6,0.6 0 1,0 1.2,0a0.6,0.6 0 1,0 -1.2,0M550,502.5a0.7,0.7 0 1,0 1.5,0a0.7,0.7 0 1,0 -1.5,0M569,489.1a0.8,0.8 0 1,0 1.6,0a0.8,0.8 0 1,0 -1.6,0M541.7,472.3a0.7,0.7 0 1,0 1.4,0a0.7,0.7 0 1,0 -1.4,0M558.8,465.9a0.8,0.8 0 1,0 1.6,0a0.8,0.8 0 1,0 -1.6,0M539.8,474.3a0.6,0.6 0 1,0 1.2,0a0.6,0.6 0 1,0 -1.2,0M563.1,473.9a0.7,0.7 0 1,0 1.4,0a0.7,0.7 0 1,0 -1.4,0M556.6,513.6a0.6,0.6 0 1,0 1.2,0a0.6,0.6 0 1,0 -1.2,0M555.7,469.3a0.8,0.8 0 1,0 1.5,0a0.8,0.8 0 1,0 -1.5,0M533.6,468.1a0.5,0.5 0 1,0 1,0a0.5,0.5 0 1,0 -1,0M553.5,517.5a0.6,0.6 0 1,0 1.2,0a0.6,0.6 0 1,0 -1.2,0M566.6,486.5a0.7,0.7 0 1,0 1.3,0a0.7,0.7 0 1,0 -1.3,0M550.1,462.8a0.7,0.7 0 1,0 1.4,0a0.7,0.7 0 1,0 -1.4,0M523.7,482.3a0.8,0.8 0 1,0 1.6,0a0.8,0.8 0 1,0 -1.6,0M526.7,479a0.9,0.9 0 1,0 1.8,0a0.9,0.9 0 1,0 -1.8,0" fill="#f4f4f4" opacity="0.4"/><path d="M539.1,500.4a0.8,0.8 0 1,0 1.6,0a0.8,0.8 0 1,0 -1.6,0M541.6,502.8a0.8,0.8 0 1,0 1.7,0a0.8,0.8 0 1,0 -1.7,0M543,508.5a0.7,0.7 0 1,0 1.3,0a0.7,0.7 0 1,0 -1.3,0M530.2,502.1a0.5,0.5 0 1,0 1.1,0a0.5,0.5 0 1,0 -1.1,0M520.3,504a0.6,0.6 0 1,0 1.2,0a0.6,0.6 0 1,0 -1.2,0M547.2,506.3a0.9,0.9 0 1,0 1.8,0a0.9,0.9 0 1,0 -1.8,0M543.5,479.2a0.6,0.6 0 1,0 1.2,0a0.6,0.6 0 1,0 -1.2,0M547.2,501.1a0.5,0.5 0 1,0 0.9,0a0.5,0.5 0 1,0 -0.9,0M535.8,462.8a0.5,0.5 0 1,0 1,0a0.5,0.5 0 1,0 -1,0M567.2,492.4a0.7,0.7 0 1,0 1.3,0a0.7,0.7 0 1,0 -1.3,0M526,492.7a0.9,0.9 0 1,0 1.9,0a0.9,0.9 0 1,0 -1.9,0M550.7,489.4a0.6,0.6 0 1,0 1.1,0a0.6,0.6 0 1,0 -1.1,0M565.9,499.9a0.8,0.8 0 1,0 1.6,0a0.8,0.8 0 1,0 -1.6,0M547.4,502.6a0.8,0.8 0 1,0 1.5,0a0.8,0.8 0 1,0 -1.5,0M569.7,490.3a1,1 0 1,0 1.9,0a1,1 0 1,0 -1.9,0M555.2,468.3a0.6,0.6 0 1,0 1.2,0a0.6,0.6 0 1,0 -1.2,0M552.6,500.2a0.8,0.8 0 1,0 1.7,0a0.8,0.8 0 1,0 -1.7,0M560.1,505.4a0.6,0.6 0 1,0 1.1,0a0.6,0.6 0 1,0 -1.1,0M556.1,481.4a0.7,0.7 0 1,0 1.4,0a0.7,0.7 0 1,0 -1.4,0M521.2,490.4a0.7,0.7 0 1,0 1.4,0a0.7,0.7 0 1,0 -1.4,0M542.6,504.7a0.5,0.5 0 1,0 1,0a0.5,0.5 0 1,0 -1,0M537.6,509.1a0.7,0.7 0 1,0 1.3,0a0.7,0.7 0 1,0 -1.3,0M544.5,502.1a0.6,0.6 0 1,0 1.1,0a0.6,0.6 0 1,0 -1.1,0M556.8,498.4a0.7,0.7 0 1,0 1.5,0a0.7,0.7 0 1,0 -1.5,0M540.7,497.8a0.9,0.9 0 1,0 1.8,0a0.9,0.9 0 1,0 -1.8,0M541.8,499.7a0.6,0.6 0 1,0 1.2,0a0.6,0.6 0 1,0 -1.2,0M552.1,465.8a0.9,0.9 0 1,0 1.7,0a0.9,0.9 0 1,0 -1.7,0M555.7,507.2a0.8,0.8 0 1,0 1.5,0a0.8,0.8 0 1,0 -1.5,0M528.1,513.3a0.6,0.6 0 1,0 1.2,0a0.6,0.6 0 1,0 -1.2,0M560.3,471.9a0.9,0.9 0 1,0 1.7,0a0.9,0.9 0 1,0 -1.7,0M547.7,492a0.7,0.7 0 1,0 1.4,0a0.7,0.7 0 1,0 -1.4,0M536.3,499.2a0.6,0.6 0 1,0 1.1,0a0.6,0.6 0 1,0 -1.1,0M545,508.1a1,1 0 1,0 2,0a1,1 0 1,0 -2,0M544.4,463.2a0.7,0.7 0 1,0 1.5,0a0.7,0.7 0 1,0 -1.5,0M544.6,480.7a0.6,0.6 0 1,0 1.2,0a0.6,0.6 0 1,0 -1.2,0M556.1,470.3a0.5,0.5 0 1,0 0.9,0a0.5,0.5 0 1,0 -0.9,0M513.5,478.6a0.8,0.8 0 1,0 1.6,0a0.8,0.8 0 1,0 -1.6,0M551.4,502.2a0.5,0.5 0 1,0 1.1,0a0.5,0.5 0 1,0 -1.1,0M537.5,476.4a0.7,0.7 0 1,0 1.3,0a0.7,0.7 0 1,0 -1.3,0M529.9,499.6a0.5,0.5 0 1,0 1,0a0.5,0.5 0 1,0 -1,0M521,491.3a1,1 0 1,0 2,0a1,1 0 1,0 -2,0M534.2,484a0.5,0.5 0 1,0 1,0a0.5,0.5 0 1,0 -1,0M556.9,500.7a0.5,0.5 0 1,0 0.9,0a0.5,0.5 0 1,0 -0.9,0M571,493.5a0.7,0.7 0 1,0 1.5,0a0.7,0.7 0 1,0 -1.5,0M525.6,505.1a1,1 0 1,0 1.9,0a1,1 0 1,0 -1.9,0M547.5,499.2a0.9,0.9 0 1,0 1.7,0a0.9,0.9 0 1,0 -1.7,0M539.8,468.7a0.8,0.8 0 1,0 1.5,0a0.8,0.8 0 1,0 -1.5,0M562.2,477.4a0.9,0.9 0 1,0 1.8,0a0.9,0.9 0 1,0 -1.8,0M567.2,484.2a0.8,0.8 0 1,0 1.5,0a0.8,0.8 0 1,0 -1.5,0M529,480.4a0.8,0.8 0 1,0 1.6,0a0.8,0.8 0 1,0 -1.6,0M567.8,499a0.6,0.6 0 1,0 1.3,0a0.6,0.6 0 1,0 -1.3,0M532.6,473.3a0.9,0.9 0 1,0 1.8,0a0.9,0.9 0 1,0 -1.8,0M562.1,470.9a0.9,0.9 0 1,0 1.8,0a0.9,0.9 0 1,0 -1.8,0M519.6,472.8a0.7,0.7 0 1,0 1.4,0a0.7,0.7 0 1,0 -1.4,0M569.2,486.6a0.5,0.5 0 1,0 1,0a0.5,0.5 0 1,0 -1,0M560.2,475a0.5,0.5 0 1,0 1,0a0.5,0.5 0 1,0 -1,0M541.6,491a1,1 0 1,0 1.9,0a1,1 0 1,0 -1.9,0M520.4,508a0.5,0.5 0 1,0 1,0a0.5,0.5 0 1,0 -1,0M569.2,489.1a0.9,0.9 0 1,0 1.8,0a0.9,0.9 0 1,0 -1.8,0M532.5,472.3a0.9,0.9 0 1,0 1.8,0a0.9,0.9 0 1,0 -1.8,0M544.9,464a0.6,0.6 0 1,0 1.1,0a0.6,0.6 0 1,0 -1.1,0M545.6,493a0.7,0.7 0 1,0 1.4,0a0.7,0.7 0 1,0 -1.4,0M571.1,492.7a0.7,0.7 0 1,0 1.5,0a0.7,0.7 0 1,0 -1.5,0M546.2,485a0.5,0.5 0 1,0 1.1,0a0.5,0.5 0 1,0 -1.1,0M553.7,463.5a0.7,0.7 0 1,0 1.5,0a0.7,0.7 0 1,0 -1.5,0M531.3,477.5a0.5,0.5 0 1,0 1,0a0.5,0.5 0 1,0 -1,0M525.5,516.1a0.9,0.9 0 1,0 1.9,0a0.9,0.9 0 1,0 -1.9,0M541.9,461.3a0.6,0.6 0 1,0 1.1,0a0.6,0.6 0 1,0 -1.1,0M537.9,468.6a0.7,0.7 0 1,0 1.3,0a0.7,0.7 0 1,0 -1.3,0M547.9,473.6a0.6,0.6 0 1,0 1.1,0a0.6,0.6 0 1,0 -1.1,0M545,470.7a1,1 0 1,0 1.9,0a1,1 0 1,0 -1.9,0M532.9,497a0.7,0.7 0 1,0 1.4,0a0.7,0.7 0 1,0 -1.4,0M553.3,465.3a1,1 0 1,0 2,0a1,1 0 1,0 -2,0M563.7,474.3a0.5,0.5 0 1,0 1.1,0a0.5,0.5 0 1,0 -1.1,0M537.9,467.6a0.5,0.5 0 1,0 1,0a0.5,0.5 0 1,0 -1,0M550.9,492.3a0.7,0.7 0 1,0 1.4,0a0.7,0.7 0 1,0 -1.4,0M534.1,463.6a0.6,0.6 0 1,0 1.2,0a0.6,0.6 0 1,0 -1.2,0M561,469.8a0.7,0.7 0 1,0 1.4,0a0.7,0.7 0 1,0 -1.4,0M523.6,466a0.6,0.6 0 1,0 1.2,0a0.6,0.6 0 1,0 -1.2,0M537.2,461.6a0.9,0.9 0 1,0 1.7,0a0.9,0.9 0 1,0 -1.7,0M565.9,485.5a1,1 0 1,0 1.9,0a1,1 0 1,0 -1.9,0M555.1,487.7a0.9,0.9 0 1,0 1.8,0a0.9,0.9 0 1,0 -1.8,0M520.2,495.9a1,1 0 1,0 2,0a1,1 0 1,0 -2,0M544.5,462.3a0.7,0.7 0 1,0 1.4,0a0.7,0.7 0 1,0 -1.4,0M549.6,485.2a0.7,0.7 0 1,0 1.3,0a0.7,0.7 0 1,0 -1.3,0M525.5,512.8a0.7,0.7 0 1,0 1.3,0a0.7,0.7 0 1,0 -1.3,0M525.7,508.3a0.7,0.7 0 1,0 1.3,0a0.7,0.7 0 1,0 -1.3,0M544.8,513.5a0.5,0.5 0 1,0 0.9,0a0.5,0.5 0 1,0 -0.9,0M537.3,520.8a0.9,0.9 0 1,0 1.8,0a0.9,0.9 0 1,0 -1.8,0M548.6,513.4a0.5,0.5 0 1,0 1,0a0.5,0.5 0 1,0 -1,0M561.2,487.8a0.8,0.8 0 1,0 1.6,0a0.8,0.8 0 1,0 -1.6,0M544.4,463.1a0.6,0.6 0 1,0 1.1,0a0.6,0.6 0 1,0 -1.1,0M548.8,494.4a0.6,0.6 0 1,0 1.1,0a0.6,0.6 0 1,0 -1.1,0M547.4,472.1a0.6,0.6 0 1,0 1.3,0a0.6,0.6 0 1,0 -1.3,0M524.1,509.8a0.8,0.8 0 1,0 1.6,0a0.8,0.8 0 1,0 -1.6,0M533.2,518.3a0.9,0.9 0 1,0 1.9,0a0.9,0.9 0 1,0 -1.9,0M547.1,485a0.9,0.9 0 1,0 1.8,0a0.9,0.9 0 1,0 -1.8,0M567.6,491.6a0.6,0.6 0 1,0 1.1,0a0.6,0.6 0 1,0 -1.1,0M551.3,509.3a1,1 0 1,0 2,0a1,1 0 1,0 -2,0M531.9,480.3a1,1 0 1,0 2,0a1,1 0 1,0 -2,0M546.4,500.8a0.8,0.8 0 1,0 1.6,0a0.8,0.8 0 1,0 -1.6,0M533.1,480.3a0.9,0.9 0 1,0 1.8,0a0.9,0.9 0 1,0 -1.8,0M526.9,464.3a0.8,0.8 0 1,0 1.5,0a0.8,0.8 0 1,0 -1.5,0M538.8,471.2a0.9,0.9 0 1,0 1.7,0a0.9,0.9 0 1,0 -1.7,0M556.7,490.3a0.5,0.5 0 1,0 1,0a0.5,0.5 0 1,0 -1,0M555.3,512.7a0.7,0.7 0 1,0 1.4,0a0.7,0.7 0 1,0 -1.4,0M527.1,517.7a0.6,0.6 0 1,0 1.3,0a0.6,0.6 0 1,0 -1.3,0M549.9,505.8a0.5,0.5 0 1,0 0.9,0a0.5,0.5 0 1,0 -0.9,0M540.1,495.1a0.5,0.5 0 1,0 1,0a0.5,0.5 0 1,0 -1,0M519.2,474.5a0.7,0.7 0 1,0 1.4,0a0.7,0.7 0 1,0 -1.4,0M556.3,505.1a0.9,0.9 0 1,0 1.8,0a0.9,0.9 0 1,0 -1.8,0M540.8,516.1a0.6,0.6 0 1,0 1.2,0a0.6,0.6 0 1,0 -1.2,0M533.8,461.8a0.9,0.9 0 1,0 1.9,0a0.9,0.9 0 1,0 -1.9,0M568.8,485.1a1,1 0 1,0 2,0a1,1 0 1,0 -2,0M523.6,483.3a0.8,0.8 0 1,0 1.6,0a0.8,0.8 0 1,0 -1.6,0M558.2,465.9a0.8,0.8 0 1,0 1.7,0a0.8,0.8 0 1,0 -1.7,0M559.3,496.1a0.9,0.9 0 1,0 1.7,0a0.9,0.9 0 1,0 -1.7,0M511.5,484.7a0.9,0.9 0 1,0 1.8,0a0.9,0.9 0 1,0 -1.8,0M533.1,476.8a0.6,0.6 0 1,0 1.1,0a0.6,0.6 0 1,0 -1.1,0M558.7,483.1a0.9,0.9 0 1,0 1.8,0a0.9,0.9 0 1,0 -1.8,0M513.9,500.4a1,1 0 1,0 1.9,0a1,1 0 1,0 -1.9,0M550.1,504.5a0.5,0.5 0 1,0 1,0a0.5,0.5 0 1,0 -1,0M541.6,471.1a0.8,0.8 0 1,0 1.6,0a0.8,0.8 0 1,0 -1.6,0M552.9,473.2a0.8,0.8 0 1,0 1.5,0a0.8,0.8 0 1,0 -1.5,0M561.9,493a0.6,0.6 0 1,0 1.3,0a0.6,0.6 0 1,0 -1.3,0M541.6,460.3a1,1 0 1,0 2,0a1,1 0 1,0 -2,0M549.9,510.9a1,1 0 1,0 2,0a1,1 0 1,0 -2,0M532.3,472.4a0.7,0.7 0 1,0 1.3,0a0.7,0.7 0 1,0 -1.3,0M524.3,490.1a0.9,0.9 0 1,0 1.8,0a0.9,0.9 0 1,0 -1.8,0M537,469.7a0.6,0.6 0 1,0 1.3,0a0.6,0.6 0 1,0 -1.3,0M539,467.5a1,1 0 1,0 2,0a1,1 0 1,0 -2,0M550.9,465.9a0.5,0.5 0 1,0 0.9,0a0.5,0.5 0 1,0 -0.9,0M569.1,479.6a0.7,0.7 0 1,0 1.4,0a0.7,0.7 0 1,0 -1.4,0M529.3,480.1a0.9,0.9 0 1,0 1.8,0a0.9,0.9 0 1,0 -1.8,0M561.1,497.2a1,1 0 1,0 1.9,0a1,1 0 1,0 -1.9,0M535.5,492.1a0.9,0.9 0 1,0 1.9,0a0.9,0.9 0 1,0 -1.9,0M545.5,507.5a0.6,0.6 0 1,0 1.2,0a0.6,0.6 0 1,0 -1.2,0M546.6,466.4a0.5,0.5 0 1,0 0.9,0a0.5,0.5 0 1,0 -0.9,0M556.9,466.7a0.5,0.5 0 1,0 0.9,0a0.5,0.5 0 1,0 -0.9,0M522.1,471.7a0.7,0.7 0 1,0 1.5,0a0.7,0.7 0 1,0 -1.5,0M547.6,484.7a0.5,0.5 0 1,0 1,0a0.5,0.5 0 1,0 -1,0M537.3,480.9a0.9,0.9 0 1,0 1.7,0a0.9,0.9 0 1,0 -1.7,0M541.2,514.1a0.8,0.8 0 1,0 1.7,0a0.8,0.8 0 1,0 -1.7,0M543.5,507.2a0.6,0.6 0 1,0 1.2,0a0.6,0.6 0 1,0 -1.2,0M551.2,462.2a0.9,0.9 0 1,0 1.8,0a0.9,0.9 0 1,0 -1.8,0M541.9,520.7a0.9,0.9 0 1,0 1.7,0a0.9,0.9 0 1,0 -1.7,0M556.9,474.7a0.6,0.6 0 1,0 1.3,0a0.6,0.6 0 1,0 -1.3,0M537.9,460.9a1,1 0 1,0 2,0a1,1 0 1,0 -2,0" fill="#f4f4f4" opacity="0.5"/><path d="M514.9,502.2a0.6,0.6 0 1,0 1.3,0a0.6,0.6 0 1,0 -1.3,0M517.3,485.8a0.5,0.5 0 1,0 1,0a0.5,0.5 0 1,0 -1,0M521.4,502.7a0.5,0.5 0 1,0 0.9,0a0.5,0.5 0 1,0 -0.9,0M558.5,495.6a0.6,0.6 0 1,0 1.3,0a0.6,0.6 0 1,0 -1.3,0M553.2,484a0.6,0.6 0 1,0 1.2,0a0.6,0.6 0 1,0 -1.2,0M537.2,470.7a0.8,0.8 0 1,0 1.6,0a0.8,0.8 0 1,0 -1.6,0M569.5,493.9a0.8,0.8 0 1,0 1.6,0a0.8,0.8 0 1,0 -1.6,0M554.9,479.6a0.7,0.7 0 1,0 1.4,0a0.7,0.7 0 1,0 -1.4,0M533.8,513.7a0.9,0.9 0 1,0 1.9,0a0.9,0.9 0 1,0 -1.9,0M558.1,485.2a0.8,0.8 0 1,0 1.6,0a0.8,0.8 0 1,0 -1.6,0M535.2,483.1a0.7,0.7 0 1,0 1.3,0a0.7,0.7 0 1,0 -1.3,0M559.7,470.1a0.6,0.6 0 1,0 1.1,0a0.6,0.6 0 1,0 -1.1,0M523.4,514.1a0.5,0.5 0 1,0 0.9,0a0.5,0.5 0 1,0 -0.9,0M549,488.6a0.8,0.8 0 1,0 1.6,0a0.8,0.8 0 1,0 -1.6,0M535.5,491.6a0.8,0.8 0 1,0 1.7,0a0.8,0.8 0 1,0 -1.7,0M568.7,501.9a0.7,0.7 0 1,0 1.4,0a0.7,0.7 0 1,0 -1.4,0M545.6,483.1a0.6,0.6 0 1,0 1.2,0a0.6,0.6 0 1,0 -1.2,0M541.1,488.1a0.5,0.5 0 1,0 1.1,0a0.5,0.5 0 1,0 -1.1,0M522.9,479.6a0.7,0.7 0 1,0 1.3,0a0.7,0.7 0 1,0 -1.3,0M567.5,483.9a0.7,0.7 0 1,0 1.4,0a0.7,0.7 0 1,0 -1.4,0M561.4,485.7a0.6,0.6 0 1,0 1.2,0a0.6,0.6 0 1,0 -1.2,0M543.6,493.3a0.9,0.9 0 1,0 1.8,0a0.9,0.9 0 1,0 -1.8,0M523.8,484.6a0.8,0.8 0 1,0 1.6,0a0.8,0.8 0 1,0 -1.6,0M542.4,520.8a0.9,0.9 0 1,0 1.9,0a0.9,0.9 0 1,0 -1.9,0M537.7,469.2a0.6,0.6 0 1,0 1.1,0a0.6,0.6 0 1,0 -1.1,0M552,491.6a0.7,0.7 0 1,0 1.4,0a0.7,0.7 0 1,0 -1.4,0M526.4,464.5a0.5,0.5 0 1,0 1.1,0a0.5,0.5 0 1,0 -1.1,0M551.5,513.1a1,1 0 1,0 1.9,0a1,1 0 1,0 -1.9,0M563.6,479.1a0.7,0.7 0 1,0 1.3,0a0.7,0.7 0 1,0 -1.3,0M538.6,481.6a0.6,0.6 0 1,0 1.2,0a0.6,0.6 0 1,0 -1.2,0M562.3,495.5a0.8,0.8 0 1,0 1.5,0a0.8,0.8 0 1,0 -1.5,0M516.6,501.1a0.8,0.8 0 1,0 1.6,0a0.8,0.8 0 1,0 -1.6,0M545.2,486.4a0.9,0.9 0 1,0 1.7,0a0.9,0.9 0 1,0 -1.7,0M551.2,463.1a0.6,0.6 0 1,0 1.1,0a0.6,0.6 0 1,0 -1.1,0M539.6,467a1,1 0 1,0 1.9,0a1,1 0 1,0 -1.9,0M557,501.7a0.5,0.5 0 1,0 1,0a0.5,0.5 0 1,0 -1,0M518.6,511.2a0.7,0.7 0 1,0 1.3,0a0.7,0.7 0 1,0 -1.3,0M551.6,499.7a0.6,0.6 0 1,0 1.3,0a0.6,0.6 0 1,0 -1.3,0M562,496.9a0.9,0.9 0 1,0 1.9,0a0.9,0.9 0 1,0 -1.9,0M517.3,488a0.9,0.9 0 1,0 1.8,0a0.9,0.9 0 1,0 -1.8,0M554.1,485.3a0.8,0.8 0 1,0 1.5,0a0.8,0.8 0 1,0 -1.5,0M518.1,499.8a0.9,0.9 0 1,0 1.8,0a0.9,0.9 0 1,0 -1.8,0M523.5,515.3a0.8,0.8 0 1,0 1.7,0a0.8,0.8 0 1,0 -1.7,0M563.9,486.1a1,1 0 1,0 2,0a1,1 0 1,0 -2,0M556.8,515.6a0.7,0.7 0 1,0 1.3,0a0.7,0.7 0 1,0 -1.3,0M536.2,494.9a0.7,0.7 0 1,0 1.5,0a0.7,0.7 0 1,0 -1.5,0M544,470a1,1 0 1,0 1.9,0a1,1 0 1,0 -1.9,0M561.4,476.7a0.6,0.6 0 1,0 1.3,0a0.6,0.6 0 1,0 -1.3,0M537.2,521.2a1,1 0 1,0 2,0a1,1 0 1,0 -2,0M547.5,466.4a0.5,0.5 0 1,0 1,0a0.5,0.5 0 1,0 -1,0M558.6,475.8a0.7,0.7 0 1,0 1.3,0a0.7,0.7 0 1,0 -1.3,0M517.3,490.4a0.7,0.7 0 1,0 1.5,0a0.7,0.7 0 1,0 -1.5,0M529.9,490.1a0.9,0.9 0 1,0 1.8,0a0.9,0.9 0 1,0 -1.8,0M523.1,492.4a0.9,0.9 0 1,0 1.9,0a0.9,0.9 0 1,0 -1.9,0M554.9,480.3a0.9,0.9 0 1,0 1.8,0a0.9,0.9 0 1,0 -1.8,0M522.3,469.6a0.9,0.9 0 1,0 1.8,0a0.9,0.9 0 1,0 -1.8,0M558.4,510.8a0.6,0.6 0 1,0 1.2,0a0.6,0.6 0 1,0 -1.2,0M542.7,481.6a0.9,0.9 0 1,0 1.8,0a0.9,0.9 0 1,0 -1.8,0M533,467.6a0.9,0.9 0 1,0 1.9,0a0.9,0.9 0 1,0 -1.9,0M538.9,478.7a0.5,0.5 0 1,0 1,0a0.5,0.5 0 1,0 -1,0M544.8,499.3a0.6,0.6 0 1,0 1.2,0a0.6,0.6 0 1,0 -1.2,0M535.3,481.5a0.9,0.9 0 1,0 1.9,0a0.9,0.9 0 1,0 -1.9,0M551,504.4a0.6,0.6 0 1,0 1.2,0a0.6,0.6 0 1,0 -1.2,0M525.6,485.8a0.8,0.8 0 1,0 1.5,0a0.8,0.8 0 1,0 -1.5,0M535.3,514.7a0.5,0.5 0 1,0 0.9,0a0.5,0.5 0 1,0 -0.9,0M552.5,475.5a0.5,0.5 0 1,0 1,0a0.5,0.5 0 1,0 -1,0M550,503.7a0.7,0.7 0 1,0 1.4,0a0.7,0.7 0 1,0 -1.4,0M519.2,494.5a0.6,0.6 0 1,0 1.2,0a0.6,0.6 0 1,0 -1.2,0M524.6,475.7a0.9,0.9 0 1,0 1.8,0a0.9,0.9 0 1,0 -1.8,0M533.3,513.6a0.8,0.8 0 1,0 1.6,0a0.8,0.8 0 1,0 -1.6,0M529.5,477.5a1,1 0 1,0 2,0a1,1 0 1,0 -2,0M540,468.4a0.6,0.6 0 1,0 1.2,0a0.6,0.6 0 1,0 -1.2,0M522.2,490.6a0.9,0.9 0 1,0 1.8,0a0.9,0.9 0 1,0 -1.8,0M523.5,497.1a0.8,0.8 0 1,0 1.6,0a0.8,0.8 0 1,0 -1.6,0M541,512.3a0.7,0.7 0 1,0 1.4,0a0.7,0.7 0 1,0 -1.4,0M554.7,475.7a0.5,0.5 0 1,0 1,0a0.5,0.5 0 1,0 -1,0M558.2,501.1a0.5,0.5 0 1,0 0.9,0a0.5,0.5 0 1,0 -0.9,0M536.1,465.9a0.7,0.7 0 1,0 1.3,0a0.7,0.7 0 1,0 -1.3,0M534.7,507.4a0.5,0.5 0 1,0 1.1,0a0.5,0.5 0 1,0 -1.1,0M522.4,471a0.5,0.5 0 1,0 1,0a0.5,0.5 0 1,0 -1,0M522.3,504.8a0.7,0.7 0 1,0 1.3,0a0.7,0.7 0 1,0 -1.3,0M528.1,478a0.5,0.5 0 1,0 1,0a0.5,0.5 0 1,0 -1,0M522.9,483.7a0.5,0.5 0 1,0 1,0a0.5,0.5 0 1,0 -1,0M562.3,497.7a0.9,0.9 0 1,0 1.7,0a0.9,0.9 0 1,0 -1.7,0M522.2,507.3a0.6,0.6 0 1,0 1.1,0a0.6,0.6 0 1,0 -1.1,0M519.5,498.6a0.5,0.5 0 1,0 1,0a0.5,0.5 0 1,0 -1,0M562.8,478.4a0.5,0.5 0 1,0 1,0a0.5,0.5 0 1,0 -1,0M549.5,479.5a0.5,0.5 0 1,0 0.9,0a0.5,0.5 0 1,0 -0.9,0M548.6,494.7a0.9,0.9 0 1,0 1.8,0a0.9,0.9 0 1,0 -1.8,0M556.8,477.8a0.8,0.8 0 1,0 1.6,0a0.8,0.8 0 1,0 -1.6,0M526.7,517.4a0.6,0.6 0 1,0 1.3,0a0.6,0.6 0 1,0 -1.3,0M517,486a0.8,0.8 0 1,0 1.6,0a0.8,0.8 0 1,0 -1.6,0M513.3,497.5a0.7,0.7 0 1,0 1.4,0a0.7,0.7 0 1,0 -1.4,0M522.7,480.3a0.7,0.7 0 1,0 1.4,0a0.7,0.7 0 1,0 -1.4,0M519.9,500.7a0.9,0.9 0 1,0 1.7,0a0.9,0.9 0 1,0 -1.7,0M559.2,503.8a0.5,0.5 0 1,0 1.1,0a0.5,0.5 0 1,0 -1.1,0M551.7,501.8a0.8,0.8 0 1,0 1.5,0a0.8,0.8 0 1,0 -1.5,0M529.9,470a0.7,0.7 0 1,0 1.4,0a0.7,0.7 0 1,0 -1.4,0M537,478.6a0.6,0.6 0 1,0 1.1,0a0.6,0.6 0 1,0 -1.1,0M552.4,477.6a0.7,0.7 0 1,0 1.3,0a0.7,0.7 0 1,0 -1.3,0M548.5,508a0.9,0.9 0 1,0 1.7,0a0.9,0.9 0 1,0 -1.7,0M538.8,520.6a0.8,0.8 0 1,0 1.6,0a0.8,0.8 0 1,0 -1.6,0M546.8,497.9a0.5,0.5 0 1,0 0.9,0a0.5,0.5 0 1,0 -0.9,0M515.9,501.7a0.9,0.9 0 1,0 1.9,0a0.9,0.9 0 1,0 -1.9,0M526.5,463.9a0.9,0.9 0 1,0 1.8,0a0.9,0.9 0 1,0 -1.8,0M539.4,462.1a0.5,0.5 0 1,0 0.9,0a0.5,0.5 0 1,0 -0.9,0M554.8,501.3a0.8,0.8 0 1,0 1.5,0a0.8,0.8 0 1,0 -1.5,0M561.2,478.3a0.7,0.7 0 1,0 1.5,0a0.7,0.7 0 1,0 -1.5,0M526.6,517.9a1,1 0 1,0 1.9,0a1,1 0 1,0 -1.9,0M553.1,464.8a0.7,0.7 0 1,0 1.3,0a0.7,0.7 0 1,0 -1.3,0M536.6,480.1a0.9,0.9 0 1,0 1.8,0a0.9,0.9 0 1,0 -1.8,0M563.2,500.2a0.6,0.6 0 1,0 1.1,0a0.6,0.6 0 1,0 -1.1,0M521.3,480.1a0.8,0.8 0 1,0 1.6,0a0.8,0.8 0 1,0 -1.6,0M534.4,518.6a1,1 0 1,0 1.9,0a1,1 0 1,0 -1.9,0M536.2,520.4a0.7,0.7 0 1,0 1.5,0a0.7,0.7 0 1,0 -1.5,0M553,480.1a0.9,0.9 0 1,0 1.9,0a0.9,0.9 0 1,0 -1.9,0M543.8,472.5a0.9,0.9 0 1,0 1.8,0a0.9,0.9 0 1,0 -1.8,0M513.3,495.8a0.5,0.5 0 1,0 1.1,0a0.5,0.5 0 1,0 -1.1,0M559.6,508.3a1,1 0 1,0 1.9,0a1,1 0 1,0 -1.9,0M524,473.1a0.5,0.5 0 1,0 1.1,0a0.5,0.5 0 1,0 -1.1,0M543,510.2a0.9,0.9 0 1,0 1.8,0a0.9,0.9 0 1,0 -1.8,0M552.9,488.8a0.6,0.6 0 1,0 1.3,0a0.6,0.6 0 1,0 -1.3,0M551,474.8a0.8,0.8 0 1,0 1.6,0a0.8,0.8 0 1,0 -1.6,0M559.4,500.2a0.9,0.9 0 1,0 1.7,0a0.9,0.9 0 1,0 -1.7,0M551.7,510.7a0.6,0.6 0 1,0 1.3,0a0.6,0.6 0 1,0 -1.3,0M514.4,482.4a0.6,0.6 0 1,0 1.1,0a0.6,0.6 0 1,0 -1.1,0M521,493a1,1 0 1,0 1.9,0a1,1 0 1,0 -1.9,0M526.5,513.7a0.7,0.7 0 1,0 1.4,0a0.7,0.7 0 1,0 -1.4,0M525.6,465a0.5,0.5 0 1,0 1,0a0.5,0.5 0 1,0 -1,0M555.1,495.3a0.7,0.7 0 1,0 1.5,0a0.7,0.7 0 1,0 -1.5,0M525.8,503.2a0.8,0.8 0 1,0 1.7,0a0.8,0.8 0 1,0 -1.7,0M543.1,475.4a0.7,0.7 0 1,0 1.5,0a0.7,0.7 0 1,0 -1.5,0M530.4,513.2a0.7,0.7 0 1,0 1.5,0a0.7,0.7 0 1,0 -1.5,0M532.9,483.7a0.6,0.6 0 1,0 1.1,0a0.6,0.6 0 1,0 -1.1,0M568.7,496.5a0.5,0.5 0 1,0 0.9,0a0.5,0.5 0 1,0 -0.9,0M536.7,509.5a0.9,0.9 0 1,0 1.8,0a0.9,0.9 0 1,0 -1.8,0M566.1,505.8a0.7,0.7 0 1,0 1.3,0a0.7,0.7 0 1,0 -1.3,0M546.3,496.8a0.7,0.7 0 1,0 1.4,0a0.7,0.7 0 1,0 -1.4,0M541.3,478.8a0.7,0.7 0 1,0 1.4,0a0.7,0.7 0 1,0 -1.4,0M513.1,479.2a0.8,0.8 0 1,0 1.6,0a0.8,0.8 0 1,0 -1.6,0M566.3,490.1a0.5,0.5 0 1,0 0.9,0a0.5,0.5 0 1,0 -0.9,0M549.2,519.5a0.5,0.5 0 1,0 1,0a0.5,0.5 0 1,0 -1,0M513.9,503.4a0.8,0.8 0 1,0 1.7,0a0.8,0.8 0 1,0 -1.7,0M518.1,501.7a0.9,0.9 0 1,0 1.8,0a0.9,0.9 0 1,0 -1.8,0M569,499.7a0.7,0.7 0 1,0 1.5,0a0.7,0.7 0 1,0 -1.5,0M535.5,514.6a0.7,0.7 0 1,0 1.5,0a0.7,0.7 0 1,0 -1.5,0M552.8,491.8a0.5,0.5 0 1,0 1,0a0.5,0.5 0 1,0 -1,0M543.8,515.9a0.8,0.8 0 1,0 1.7,0a0.8,0.8 0 1,0 -1.7,0M529.2,475.7a0.7,0.7 0 1,0 1.5,0a0.7,0.7 0 1,0 -1.5,0M522.1,490.6a0.9,0.9 0 1,0 1.7,0a0.9,0.9 0 1,0 -1.7,0M534,478.9a0.5,0.5 0 1,0 0.9,0a0.5,0.5 0 1,0 -0.9,0M549.5,483.7a0.5,0.5 0 1,0 0.9,0a0.5,0.5 0 1,0 -0.9,0M548,487.9a0.6,0.6 0 1,0 1.2,0a0.6,0.6 0 1,0 -1.2,0M539.8,517.1a0.7,0.7 0 1,0 1.4,0a0.7,0.7 0 1,0 -1.4,0M554.8,487.7a0.8,0.8 0 1,0 1.5,0a0.8,0.8 0 1,0 -1.5,0M564.4,493.5a0.5,0.5 0 1,0 1.1,0a0.5,0.5 0 1,0 -1.1,0M545.9,460.3a0.7,0.7 0 1,0 1.4,0a0.7,0.7 0 1,0 -1.4,0M536.6,520a0.6,0.6 0 1,0 1.3,0a0.6,0.6 0 1,0 -1.3,0M563.3,496.2a0.6,0.6 0 1,0 1.2,0a0.6,0.6 0 1,0 -1.2,0M526.9,514.6a0.9,0.9 0 1,0 1.8,0a0.9,0.9 0 1,0 -1.8,0M556.8,498a0.7,0.7 0 1,0 1.4,0a0.7,0.7 0 1,0 -1.4,0M539.9,471.4a0.8,0.8 0 1,0 1.7,0a0.8,0.8 0 1,0 -1.7,0M530.8,468.3a0.5,0.5 0 1,0 0.9,0a0.5,0.5 0 1,0 -0.9,0M532.3,511a0.7,0.7 0 1,0 1.3,0a0.7,0.7 0 1,0 -1.3,0M538.5,480.5a0.9,0.9 0 1,0 1.9,0a0.9,0.9 0 1,0 -1.9,0" fill="#f4f4f4" opacity="0.6"/><path d="M544.5,500.6a0.5,0.5 0 1,0 1.1,0a0.5,0.5 0 1,0 -1.1,0M520.8,510.2a0.7,0.7 0 1,0 1.3,0a0.7,0.7 0 1,0 -1.3,0M517.3,474.2a0.6,0.6 0 1,0 1.3,0a0.6,0.6 0 1,0 -1.3,0M536.7,491.8a0.6,0.6 0 1,0 1.1,0a0.6,0.6 0 1,0 -1.1,0M534.2,507.5a0.5,0.5 0 1,0 1,0a0.5,0.5 0 1,0 -1,0M531.5,499.1a0.5,0.5 0 1,0 1,0a0.5,0.5 0 1,0 -1,0M561.2,499.2a0.6,0.6 0 1,0 1.2,0a0.6,0.6 0 1,0 -1.2,0M543.5,498.2a0.5,0.5 0 1,0 1,0a0.5,0.5 0 1,0 -1,0M567.6,482.3a0.5,0.5 0 1,0 0.9,0a0.5,0.5 0 1,0 -0.9,0M532.4,476.9a0.6,0.6 0 1,0 1.1,0a0.6,0.6 0 1,0 -1.1,0M541,502.9a0.5,0.5 0 1,0 1.1,0a0.5,0.5 0 1,0 -1.1,0M547.4,511.9a0.6,0.6 0 1,0 1.2,0a0.6,0.6 0 1,0 -1.2,0M562.6,511.2a0.6,0.6 0 1,0 1.2,0a0.6,0.6 0 1,0 -1.2,0M529.2,468a0.6,0.6 0 1,0 1.1,0a0.6,0.6 0 1,0 -1.1,0M516.5,502.1a0.7,0.7 0 1,0 1.5,0a0.7,0.7 0 1,0 -1.5,0M542.3,500a0.9,0.9 0 1,0 1.8,0a0.9,0.9 0 1,0 -1.8,0M539.1,472.4a0.9,0.9 0 1,0 1.7,0a0.9,0.9 0 1,0 -1.7,0M539.8,471.7a0.8,0.8 0 1,0 1.6,0a0.8,0.8 0 1,0 -1.6,0M546,489.3a1,1 0 1,0 2,0a1,1 0 1,0 -2,0M554,506.2a0.6,0.6 0 1,0 1.2,0a0.6,0.6 0 1,0 -1.2,0M549.8,486.6a0.5,0.5 0 1,0 0.9,0a0.5,0.5 0 1,0 -0.9,0M546.8,467.9a1,1 0 1,0 2,0a1,1 0 1,0 -2,0M555.9,477.3a0.9,0.9 0 1,0 1.7,0a0.9,0.9 0 1,0 -1.7,0M548.5,481.8a0.5,0.5 0 1,0 1,0a0.5,0.5 0 1,0 -1,0M535.5,479.8a0.8,0.8 0 1,0 1.5,0a0.8,0.8 0 1,0 -1.5,0M539.3,515.2a1,1 0 1,0 1.9,0a1,1 0 1,0 -1.9,0M551.8,496.2a0.5,0.5 0 1,0 1.1,0a0.5,0.5 0 1,0 -1.1,0M520.5,474.1a0.9,0.9 0 1,0 1.7,0a0.9,0.9 0 1,0 -1.7,0M536.9,516.7a0.9,0.9 0 1,0 1.8,0a0.9,0.9 0 1,0 -1.8,0M554.2,468.5a0.9,0.9 0 1,0 1.8,0a0.9,0.9 0 1,0 -1.8,0M553.5,518.6a0.5,0.5 0 1,0 1.1,0a0.5,0.5 0 1,0 -1.1,0M557.7,495.6a0.8,0.8 0 1,0 1.6,0a0.8,0.8 0 1,0 -1.6,0M530.5,504.2a0.6,0.6 0 1,0 1.2,0a0.6,0.6 0 1,0 -1.2,0M521.6,498a0.5,0.5 0 1,0 1.1,0a0.5,0.5 0 1,0 -1.1,0M558.3,475.5a0.8,0.8 0 1,0 1.7,0a0.8,0.8 0 1,0 -1.7,0M549.1,503.3a0.9,0.9 0 1,0 1.9,0a0.9,0.9 0 1,0 -1.9,0M517.5,483.4a0.9,0.9 0 1,0 1.8,0a0.9,0.9 0 1,0 -1.8,0M564.5,487.3a0.8,0.8 0 1,0 1.6,0a0.8,0.8 0 1,0 -1.6,0M521.2,510.2a0.7,0.7 0 1,0 1.3,0a0.7,0.7 0 1,0 -1.3,0M534.4,516a0.9,0.9 0 1,0 1.8,0a0.9,0.9 0 1,0 -1.8,0M545.8,519.1a0.6,0.6 0 1,0 1.2,0a0.6,0.6 0 1,0 -1.2,0M528.7,510.4a0.9,0.9 0 1,0 1.8,0a0.9,0.9 0 1,0 -1.8,0M549.8,487.3a0.6,0.6 0 1,0 1.3,0a0.6,0.6 0 1,0 -1.3,0M548.3,479.4a0.5,0.5 0 1,0 1,0a0.5,0.5 0 1,0 -1,0M535.3,465a0.6,0.6 0 1,0 1.1,0a0.6,0.6 0 1,0 -1.1,0M544.3,469.5a0.9,0.9 0 1,0 1.8,0a0.9,0.9 0 1,0 -1.8,0M543.5,514.5a0.5,0.5 0 1,0 1,0a0.5,0.5 0 1,0 -1,0M541.2,475.2a0.8,0.8 0 1,0 1.6,0a0.8,0.8 0 1,0 -1.6,0M548.7,509.2a0.7,0.7 0 1,0 1.5,0a0.7,0.7 0 1,0 -1.5,0M569.4,494a0.9,0.9 0 1,0 1.7,0a0.9,0.9 0 1,0 -1.7,0M559.5,503.5a0.8,0.8 0 1,0 1.6,0a0.8,0.8 0 1,0 -1.6,0M514.7,478.6a0.7,0.7 0 1,0 1.5,0a0.7,0.7 0 1,0 -1.5,0M549.5,503a1,1 0 1,0 1.9,0a1,1 0 1,0 -1.9,0M513.5,499.7a0.8,0.8 0 1,0 1.7,0a0.8,0.8 0 1,0 -1.7,0M512.7,478.5a1,1 0 1,0 1.9,0a1,1 0 1,0 -1.9,0M537.2,503.3a0.6,0.6 0 1,0 1.1,0a0.6,0.6 0 1,0 -1.1,0M565.8,474.9a1,1 0 1,0 1.9,0a1,1 0 1,0 -1.9,0M529.9,461.9a0.6,0.6 0 1,0 1.2,0a0.6,0.6 0 1,0 -1.2,0M556.5,470.8a0.7,0.7 0 1,0 1.3,0a0.7,0.7 0 1,0 -1.3,0M542.4,506.6a0.8,0.8 0 1,0 1.6,0a0.8,0.8 0 1,0 -1.6,0M534.2,493.7a1,1 0 1,0 2,0a1,1 0 1,0 -2,0M540.8,511.9a1,1 0 1,0 1.9,0a1,1 0 1,0 -1.9,0M561.5,468.7a0.6,0.6 0 1,0 1.2,0a0.6,0.6 0 1,0 -1.2,0M533.4,470.3a0.8,0.8 0 1,0 1.6,0a0.8,0.8 0 1,0 -1.6,0M535.8,486.7a1,1 0 1,0 2,0a1,1 0 1,0 -2,0M554.1,472.6a0.9,0.9 0 1,0 1.8,0a0.9,0.9 0 1,0 -1.8,0M514.1,496.2a0.9,0.9 0 1,0 1.9,0a0.9,0.9 0 1,0 -1.9,0M514.4,481.7a0.6,0.6 0 1,0 1.1,0a0.6,0.6 0 1,0 -1.1,0M541.2,462.8a0.8,0.8 0 1,0 1.6,0a0.8,0.8 0 1,0 -1.6,0M563.2,474.4a0.5,0.5 0 1,0 1.1,0a0.5,0.5 0 1,0 -1.1,0M547.2,502.7a0.6,0.6 0 1,0 1.2,0a0.6,0.6 0 1,0 -1.2,0M562.5,496.2a0.8,0.8 0 1,0 1.6,0a0.8,0.8 0 1,0 -1.6,0M547.2,469.4a0.5,0.5 0 1,0 0.9,0a0.5,0.5 0 1,0 -0.9,0M529.7,480.7a0.9,0.9 0 1,0 1.8,0a0.9,0.9 0 1,0 -1.8,0M567.3,505a0.6,0.6 0 1,0 1.2,0a0.6,0.6 0 1,0 -1.2,0M525,505.8a1,1 0 1,0 1.9,0a1,1 0 1,0 -1.9,0M528.9,463.9a0.5,0.5 0 1,0 1,0a0.5,0.5 0 1,0 -1,0M534.9,476.5a0.5,0.5 0 1,0 1,0a0.5,0.5 0 1,0 -1,0M554.5,494.7a1,1 0 1,0 2,0a1,1 0 1,0 -2,0M563.9,488a0.5,0.5 0 1,0 1,0a0.5,0.5 0 1,0 -1,0M557.9,474.9a1,1 0 1,0 1.9,0a1,1 0 1,0 -1.9,0M554.1,512.3a0.8,0.8 0 1,0 1.6,0a0.8,0.8 0 1,0 -1.6,0M517.2,493.2a0.7,0.7 0 1,0 1.3,0a0.7,0.7 0 1,0 -1.3,0M552.1,483.1a0.6,0.6 0 1,0 1.1,0a0.6,0.6 0 1,0 -1.1,0M554.9,510.4a1,1 0 1,0 1.9,0a1,1 0 1,0 -1.9,0M538.2,468a0.6,0.6 0 1,0 1.2,0a0.6,0.6 0 1,0 -1.2,0M556.9,505.7a0.8,0.8 0 1,0 1.7,0a0.8,0.8 0 1,0 -1.7,0M528.2,502.4a1,1 0 1,0 2,0a1,1 0 1,0 -2,0M552.3,508.9a0.8,0.8 0 1,0 1.6,0a0.8,0.8 0 1,0 -1.6,0M563,481.3a0.9,0.9 0 1,0 1.9,0a0.9,0.9 0 1,0 -1.9,0M524.7,514.1a0.9,0.9 0 1,0 1.8,0a0.9,0.9 0 1,0 -1.8,0M548.4,466.9a0.5,0.5 0 1,0 0.9,0a0.5,0.5 0 1,0 -0.9,0M546.8,482a0.6,0.6 0 1,0 1.2,0a0.6,0.6 0 1,0 -1.2,0M561.7,509.1a0.9,0.9 0 1,0 1.8,0a0.9,0.9 0 1,0 -1.8,0M535.6,482.7a0.8,0.8 0 1,0 1.6,0a0.8,0.8 0 1,0 -1.6,0M527.9,462.7a1,1 0 1,0 1.9,0a1,1 0 1,0 -1.9,0M541.7,476a0.7,0.7 0 1,0 1.3,0a0.7,0.7 0 1,0 -1.3,0M562.5,473.5a0.6,0.6 0 1,0 1.1,0a0.6,0.6 0 1,0 -1.1,0M534.7,466.2a0.6,0.6 0 1,0 1.1,0a0.6,0.6 0 1,0 -1.1,0M526.7,490.3a0.8,0.8 0 1,0 1.5,0a0.8,0.8 0 1,0 -1.5,0M525,495a0.5,0.5 0 1,0 1.1,0a0.5,0.5 0 1,0 -1.1,0M555.6,506.5a0.7,0.7 0 1,0 1.3,0a0.7,0.7 0 1,0 -1.3,0M521.5,498.6a0.9,0.9 0 1,0 1.8,0a0.9,0.9 0 1,0 -1.8,0M562.3,489.2a0.5,0.5 0 1,0 0.9,0a0.5,0.5 0 1,0 -0.9,0M558.9,486.7a0.6,0.6 0 1,0 1.2,0a0.6,0.6 0 1,0 -1.2,0M527.7,483.5a0.7,0.7 0 1,0 1.4,0a0.7,0.7 0 1,0 -1.4,0M527.8,494.7a0.9,0.9 0 1,0 1.8,0a0.9,0.9 0 1,0 -1.8,0M545.8,486a0.9,0.9 0 1,0 1.7,0a0.9,0.9 0 1,0 -1.7,0M531.2,506.4a0.8,0.8 0 1,0 1.5,0a0.8,0.8 0 1,0 -1.5,0M546.2,504.1a0.8,0.8 0 1,0 1.6,0a0.8,0.8 0 1,0 -1.6,0M561.5,472.2a0.5,0.5 0 1,0 1,0a0.5,0.5 0 1,0 -1,0M518.1,498.1a0.6,0.6 0 1,0 1.2,0a0.6,0.6 0 1,0 -1.2,0M560.8,495.3a0.8,0.8 0 1,0 1.5,0a0.8,0.8 0 1,0 -1.5,0M561.8,510.8a0.5,0.5 0 1,0 1,0a0.5,0.5 0 1,0 -1,0M561.5,469.1a0.8,0.8 0 1,0 1.6,0a0.8,0.8 0 1,0 -1.6,0M562.5,486.8a0.9,0.9 0 1,0 1.9,0a0.9,0.9 0 1,0 -1.9,0M546.4,516a0.9,0.9 0 1,0 1.8,0a0.9,0.9 0 1,0 -1.8,0M543.2,463a0.7,0.7 0 1,0 1.5,0a0.7,0.7 0 1,0 -1.5,0M554.8,479.2a0.7,0.7 0 1,0 1.4,0a0.7,0.7 0 1,0 -1.4,0M512,491.8a0.6,0.6 0 1,0 1.2,0a0.6,0.6 0 1,0 -1.2,0M560.6,506.5a0.5,0.5 0 1,0 1,0a0.5,0.5 0 1,0 -1,0M534.9,498.8a0.8,0.8 0 1,0 1.6,0a0.8,0.8 0 1,0 -1.6,0M539.2,499.9a0.9,0.9 0 1,0 1.9,0a0.9,0.9 0 1,0 -1.9,0M543.7,492a0.5,0.5 0 1,0 1,0a0.5,0.5 0 1,0 -1,0M545.4,508.5a0.9,0.9 0 1,0 1.7,0a0.9,0.9 0 1,0 -1.7,0M539.9,473.4a0.7,0.7 0 1,0 1.4,0a0.7,0.7 0 1,0 -1.4,0M528,511a0.8,0.8 0 1,0 1.6,0a0.8,0.8 0 1,0 -1.6,0M537.6,481.5a0.7,0.7 0 1,0 1.4,0a0.7,0.7 0 1,0 -1.4,0M513.4,502.5a0.5,0.5 0 1,0 1,0a0.5,0.5 0 1,0 -1,0M557,479a0.7,0.7 0 1,0 1.4,0a0.7,0.7 0 1,0 -1.4,0M542.5,464.3a0.7,0.7 0 1,0 1.3,0a0.7,0.7 0 1,0 -1.3,0M539.5,467.3a0.5,0.5 0 1,0 0.9,0a0.5,0.5 0 1,0 -0.9,0M529.9,494.7a0.7,0.7 0 1,0 1.4,0a0.7,0.7 0 1,0 -1.4,0M526.9,488.4a0.8,0.8 0 1,0 1.6,0a0.8,0.8 0 1,0 -1.6,0M558.2,496.4a0.5,0.5 0 1,0 1,0a0.5,0.5 0 1,0 -1,0M528.3,483.9a0.7,0.7 0 1,0 1.4,0a0.7,0.7 0 1,0 -1.4,0M520.7,498.3a0.8,0.8 0 1,0 1.6,0a0.8,0.8 0 1,0 -1.6,0M548.5,504.1a0.7,0.7 0 1,0 1.4,0a0.7,0.7 0 1,0 -1.4,0M533,518.9a0.9,0.9 0 1,0 1.8,0a0.9,0.9 0 1,0 -1.8,0M538.6,513.9a0.9,0.9 0 1,0 1.8,0a0.9,0.9 0 1,0 -1.8,0M537.9,492.6a0.6,0.6 0 1,0 1.2,0a0.6,0.6 0 1,0 -1.2,0M549.1,472.4a0.7,0.7 0 1,0 1.5,0a0.7,0.7 0 1,0 -1.5,0M565.2,501.1a0.8,0.8 0 1,0 1.6,0a0.8,0.8 0 1,0 -1.6,0M527.6,491.9a0.6,0.6 0 1,0 1.1,0a0.6,0.6 0 1,0 -1.1,0M567.1,487.5a0.6,0.6 0 1,0 1.2,0a0.6,0.6 0 1,0 -1.2,0" fill="#f4f4f4" opacity="0.7"/><path d="M526.9,509.8a0.8,0.8 0 1,0 1.7,0a0.8,0.8 0 1,0 -1.7,0M531.9,482.1a0.8,0.8 0 1,0 1.7,0a0.8,0.8 0 1,0 -1.7,0M527.6,475.4a0.8,0.8 0 1,0 1.7,0a0.8,0.8 0 1,0 -1.7,0M555.4,494.5a0.5,0.5 0 1,0 0.9,0a0.5,0.5 0 1,0 -0.9,0M531.6,479a1,1 0 1,0 1.9,0a1,1 0 1,0 -1.9,0M529.2,502.7a0.9,0.9 0 1,0 1.7,0a0.9,0.9 0 1,0 -1.7,0M556.6,484.1a0.8,0.8 0 1,0 1.6,0a0.8,0.8 0 1,0 -1.6,0M559.1,477.3a1,1 0 1,0 1.9,0a1,1 0 1,0 -1.9,0M517.8,499.3a0.9,0.9 0 1,0 1.8,0a0.9,0.9 0 1,0 -1.8,0M563.6,510.5a0.6,0.6 0 1,0 1.3,0a0.6,0.6 0 1,0 -1.3,0M521.3,478.9a0.9,0.9 0 1,0 1.8,0a0.9,0.9 0 1,0 -1.8,0M566.5,490.1a0.9,0.9 0 1,0 1.8,0a0.9,0.9 0 1,0 -1.8,0M532.4,473.9a0.7,0.7 0 1,0 1.3,0a0.7,0.7 0 1,0 -1.3,0M517.8,493.1a1,1 0 1,0 1.9,0a1,1 0 1,0 -1.9,0M525.9,485.5a0.5,0.5 0 1,0 1,0a0.5,0.5 0 1,0 -1,0M548.8,470.3a0.8,0.8 0 1,0 1.5,0a0.8,0.8 0 1,0 -1.5,0M567.6,478a0.6,0.6 0 1,0 1.3,0a0.6,0.6 0 1,0 -1.3,0M524.4,471.8a0.8,0.8 0 1,0 1.6,0a0.8,0.8 0 1,0 -1.6,0M554.5,490.7a0.8,0.8 0 1,0 1.6,0a0.8,0.8 0 1,0 -1.6,0M523.5,484.9a0.9,0.9 0 1,0 1.8,0a0.9,0.9 0 1,0 -1.8,0M529.6,517.4a0.8,0.8 0 1,0 1.6,0a0.8,0.8 0 1,0 -1.6,0M520.8,486.3a0.9,0.9 0 1,0 1.8,0a0.9,0.9 0 1,0 -1.8,0M551.2,488.6a0.9,0.9 0 1,0 1.8,0a0.9,0.9 0 1,0 -1.8,0M543.4,470a0.6,0.6 0 1,0 1.3,0a0.6,0.6 0 1,0 -1.3,0M526.6,514.7a0.6,0.6 0 1,0 1.2,0a0.6,0.6 0 1,0 -1.2,0M517.7,500.4a0.5,0.5 0 1,0 1.1,0a0.5,0.5 0 1,0 -1.1,0M564.2,486.1a0.6,0.6 0 1,0 1.1,0a0.6,0.6 0 1,0 -1.1,0M535.5,486.7a0.5,0.5 0 1,0 1.1,0a0.5,0.5 0 1,0 -1.1,0M537.9,498.5a0.7,0.7 0 1,0 1.4,0a0.7,0.7 0 1,0 -1.4,0M546.1,498.2a0.9,0.9 0 1,0 1.8,0a0.9,0.9 0 1,0 -1.8,0M565.1,504a0.5,0.5 0 1,0 1.1,0a0.5,0.5 0 1,0 -1.1,0M545.5,506.1a0.7,0.7 0 1,0 1.5,0a0.7,0.7 0 1,0 -1.5,0M555.5,496.7a0.9,0.9 0 1,0 1.8,0a0.9,0.9 0 1,0 -1.8,0M538.2,478.7a0.9,0.9 0 1,0 1.9,0a0.9,0.9 0 1,0 -1.9,0M533.3,477a0.7,0.7 0 1,0 1.4,0a0.7,0.7 0 1,0 -1.4,0M523.6,466.2a0.8,0.8 0 1,0 1.6,0a0.8,0.8 0 1,0 -1.6,0M538.3,517.1a0.7,0.7 0 1,0 1.5,0a0.7,0.7 0 1,0 -1.5,0M535.4,503.9a0.8,0.8 0 1,0 1.5,0a0.8,0.8 0 1,0 -1.5,0M555.6,514.5a0.6,0.6 0 1,0 1.2,0a0.6,0.6 0 1,0 -1.2,0M539.7,502.5a0.6,0.6 0 1,0 1.1,0a0.6,0.6 0 1,0 -1.1,0M547.6,511.9a1,1 0 1,0 1.9,0a1,1 0 1,0 -1.9,0M519.2,495.5a0.7,0.7 0 1,0 1.4,0a0.7,0.7 0 1,0 -1.4,0M529.6,493.6a0.5,0.5 0 1,0 1.1,0a0.5,0.5 0 1,0 -1.1,0M532.9,478.2a0.9,0.9 0 1,0 1.8,0a0.9,0.9 0 1,0 -1.8,0M537.4,475.7a0.7,0.7 0 1,0 1.5,0a0.7,0.7 0 1,0 -1.5,0M538.6,487.7a0.6,0.6 0 1,0 1.1,0a0.6,0.6 0 1,0 -1.1,0M554.6,505.4a0.5,0.5 0 1,0 1,0a0.5,0.5 0 1,0 -1,0M527,511.1a0.7,0.7 0 1,0 1.5,0a0.7,0.7 0 1,0 -1.5,0M565.6,503.9a0.6,0.6 0 1,0 1.1,0a0.6,0.6 0 1,0 -1.1,0M517,477.4a1,1 0 1,0 2,0a1,1 0 1,0 -2,0M560.2,508a0.8,0.8 0 1,0 1.7,0a0.8,0.8 0 1,0 -1.7,0M548.2,470.8a0.6,0.6 0 1,0 1.1,0a0.6,0.6 0 1,0 -1.1,0M544.2,486a0.6,0.6 0 1,0 1.1,0a0.6,0.6 0 1,0 -1.1,0M516.4,480.7a0.6,0.6 0 1,0 1.3,0a0.6,0.6 0 1,0 -1.3,0M556.3,512.1a0.7,0.7 0 1,0 1.3,0a0.7,0.7 0 1,0 -1.3,0M521.6,495.8a1,1 0 1,0 1.9,0a1,1 0 1,0 -1.9,0M559.4,474.3a0.7,0.7 0 1,0 1.5,0a0.7,0.7 0 1,0 -1.5,0M549,509.6a0.5,0.5 0 1,0 1,0a0.5,0.5 0 1,0 -1,0M561.1,484.1a0.5,0.5 0 1,0 0.9,0a0.5,0.5 0 1,0 -0.9,0M517.4,490.8a0.6,0.6 0 1,0 1.2,0a0.6,0.6 0 1,0 -1.2,0M553.9,517.1a0.9,0.9 0 1,0 1.8,0a0.9,0.9 0 1,0 -1.8,0M526.6,501.7a0.8,0.8 0 1,0 1.6,0a0.8,0.8 0 1,0 -1.6,0M543.4,488.5a0.9,0.9 0 1,0 1.9,0a0.9,0.9 0 1,0 -1.9,0M513.9,489.9a0.6,0.6 0 1,0 1.2,0a0.6,0.6 0 1,0 -1.2,0M532.4,483.8a0.6,0.6 0 1,0 1.2,0a0.6,0.6 0 1,0 -1.2,0M527.3,469.6a0.8,0.8 0 1,0 1.5,0a0.8,0.8 0 1,0 -1.5,0M524.7,500.3a0.8,0.8 0 1,0 1.7,0a0.8,0.8 0 1,0 -1.7,0M533.9,508.1a0.8,0.8 0 1,0 1.6,0a0.8,0.8 0 1,0 -1.6,0M530.8,507.8a0.5,0.5 0 1,0 0.9,0a0.5,0.5 0 1,0 -0.9,0M561.4,477.6a0.6,0.6 0 1,0 1.2,0a0.6,0.6 0 1,0 -1.2,0M558.8,481.7a0.8,0.8 0 1,0 1.7,0a0.8,0.8 0 1,0 -1.7,0M554.3,491.9a0.6,0.6 0 1,0 1.1,0a0.6,0.6 0 1,0 -1.1,0M570.4,494.9a0.6,0.6 0 1,0 1.2,0a0.6,0.6 0 1,0 -1.2,0M529.7,497a0.9,0.9 0 1,0 1.7,0a0.9,0.9 0 1,0 -1.7,0M557.2,475.3a0.8,0.8 0 1,0 1.7,0a0.8,0.8 0 1,0 -1.7,0M537.7,505.1a0.7,0.7 0 1,0 1.3,0a0.7,0.7 0 1,0 -1.3,0M537.7,483.4a0.6,0.6 0 1,0 1.2,0a0.6,0.6 0 1,0 -1.2,0M537.8,472.3a0.5,0.5 0 1,0 1,0a0.5,0.5 0 1,0 -1,0M529.9,510.2a0.8,0.8 0 1,0 1.5,0a0.8,0.8 0 1,0 -1.5,0M552.4,510.9a0.6,0.6 0 1,0 1.2,0a0.6,0.6 0 1,0 -1.2,0M556.5,472.3a0.9,0.9 0 1,0 1.7,0a0.9,0.9 0 1,0 -1.7,0M523.1,487.4a0.5,0.5 0 1,0 0.9,0a0.5,0.5 0 1,0 -0.9,0M523.1,506a1,1 0 1,0 2,0a1,1 0 1,0 -2,0M543.2,515.8a0.7,0.7 0 1,0 1.3,0a0.7,0.7 0 1,0 -1.3,0M564.6,475.8a0.7,0.7 0 1,0 1.4,0a0.7,0.7 0 1,0 -1.4,0M562.4,494.2a0.6,0.6 0 1,0 1.2,0a0.6,0.6 0 1,0 -1.2,0M565.3,475a1,1 0 1,0 2,0a1,1 0 1,0 -2,0M559.7,504.5a0.8,0.8 0 1,0 1.7,0a0.8,0.8 0 1,0 -1.7,0M559.7,487.1a0.9,0.9 0 1,0 1.7,0a0.9,0.9 0 1,0 -1.7,0M541.6,490.9a1,1 0 1,0 1.9,0a1,1 0 1,0 -1.9,0M530.6,483.3a0.8,0.8 0 1,0 1.6,0a0.8,0.8 0 1,0 -1.6,0M525.7,505.4a0.6,0.6 0 1,0 1.2,0a0.6,0.6 0 1,0 -1.2,0M547.8,478.1a0.9,0.9 0 1,0 1.7,0a0.9,0.9 0 1,0 -1.7,0M568.5,493.9a0.5,0.5 0 1,0 0.9,0a0.5,0.5 0 1,0 -0.9,0M517.5,503.9a0.7,0.7 0 1,0 1.3,0a0.7,0.7 0 1,0 -1.3,0M544.4,489.2a0.8,0.8 0 1,0 1.6,0a0.8,0.8 0 1,0 -1.6,0M567.9,494.8a0.7,0.7 0 1,0 1.3,0a0.7,0.7 0 1,0 -1.3,0M526,485.3a0.6,0.6 0 1,0 1.3,0a0.6,0.6 0 1,0 -1.3,0M529,470.2a0.7,0.7 0 1,0 1.4,0a0.7,0.7 0 1,0 -1.4,0M537,460.2a0.6,0.6 0 1,0 1.2,0a0.6,0.6 0 1,0 -1.2,0M552.8,464.8a1,1 0 1,0 1.9,0a1,1 0 1,0 -1.9,0M560.6,510.2a0.7,0.7 0 1,0 1.4,0a0.7,0.7 0 1,0 -1.4,0M566.1,489.9a0.5,0.5 0 1,0 1.1,0a0.5,0.5 0 1,0 -1.1,0M562.3,509a0.6,0.6 0 1,0 1.2,0a0.6,0.6 0 1,0 -1.2,0M537.1,503.2a0.8,0.8 0 1,0 1.6,0a0.8,0.8 0 1,0 -1.6,0M565.6,494a0.6,0.6 0 1,0 1.2,0a0.6,0.6 0 1,0 -1.2,0M536.8,467a1,1 0 1,0 1.9,0a1,1 0 1,0 -1.9,0M524.7,471.1a0.9,0.9 0 1,0 1.9,0a0.9,0.9 0 1,0 -1.9,0M552.1,504.2a0.7,0.7 0 1,0 1.4,0a0.7,0.7 0 1,0 -1.4,0M521.4,493.7a0.7,0.7 0 1,0 1.4,0a0.7,0.7 0 1,0 -1.4,0M532.5,465a0.6,0.6 0 1,0 1.2,0a0.6,0.6 0 1,0 -1.2,0M529.4,495.3a0.6,0.6 0 1,0 1.1,0a0.6,0.6 0 1,0 -1.1,0M520.4,478.1a0.5,0.5 0 1,0 1,0a0.5,0.5 0 1,0 -1,0M536,462.7a0.6,0.6 0 1,0 1.1,0a0.6,0.6 0 1,0 -1.1,0M548.9,475.2a0.5,0.5 0 1,0 0.9,0a0.5,0.5 0 1,0 -0.9,0M541,464.5a1,1 0 1,0 1.9,0a1,1 0 1,0 -1.9,0M518,506.5a0.6,0.6 0 1,0 1.2,0a0.6,0.6 0 1,0 -1.2,0M564.9,474.4a0.7,0.7 0 1,0 1.3,0a0.7,0.7 0 1,0 -1.3,0M548.4,503.4a0.9,0.9 0 1,0 1.8,0a0.9,0.9 0 1,0 -1.8,0M515,485.6a0.5,0.5 0 1,0 1,0a0.5,0.5 0 1,0 -1,0M533.9,502.4a0.8,0.8 0 1,0 1.6,0a0.8,0.8 0 1,0 -1.6,0M534.2,467.3a0.8,0.8 0 1,0 1.5,0a0.8,0.8 0 1,0 -1.5,0M534.9,517.8a0.5,0.5 0 1,0 0.9,0a0.5,0.5 0 1,0 -0.9,0M553.7,474.1a0.8,0.8 0 1,0 1.5,0a0.8,0.8 0 1,0 -1.5,0M549.6,493.9a0.9,0.9 0 1,0 1.9,0a0.9,0.9 0 1,0 -1.9,0M537.1,515.4a0.7,0.7 0 1,0 1.5,0a0.7,0.7 0 1,0 -1.5,0M561.7,501.1a0.6,0.6 0 1,0 1.2,0a0.6,0.6 0 1,0 -1.2,0M545,520.3a0.7,0.7 0 1,0 1.3,0a0.7,0.7 0 1,0 -1.3,0M570.9,495.1a0.6,0.6 0 1,0 1.3,0a0.6,0.6 0 1,0 -1.3,0M523.4,509.4a0.7,0.7 0 1,0 1.4,0a0.7,0.7 0 1,0 -1.4,0M552,502.4a1,1 0 1,0 1.9,0a1,1 0 1,0 -1.9,0M524.1,504.4a1,1 0 1,0 1.9,0a1,1 0 1,0 -1.9,0M561.7,486.2a0.7,0.7 0 1,0 1.4,0a0.7,0.7 0 1,0 -1.4,0M551.1,515.9a0.6,0.6 0 1,0 1.1,0a0.6,0.6 0 1,0 -1.1,0M542.4,469.2a0.9,0.9 0 1,0 1.9,0a0.9,0.9 0 1,0 -1.9,0M559.2,504a1,1 0 1,0 1.9,0a1,1 0 1,0 -1.9,0M540.8,503.3a0.9,0.9 0 1,0 1.7,0a0.9,0.9 0 1,0 -1.7,0M545.6,496.1a0.7,0.7 0 1,0 1.4,0a0.7,0.7 0 1,0 -1.4,0M522.3,506.4a1,1 0 1,0 1.9,0a1,1 0 1,0 -1.9,0M559.5,503a0.7,0.7 0 1,0 1.5,0a0.7,0.7 0 1,0 -1.5,0M515,504.3a0.5,0.5 0 1,0 0.9,0a0.5,0.5 0 1,0 -0.9,0M518.4,508a0.9,0.9 0 1,0 1.8,0a0.9,0.9 0 1,0 -1.8,0M536.6,498.8a0.5,0.5 0 1,0 1,0a0.5,0.5 0 1,0 -1,0M541.3,495.5a0.9,0.9 0 1,0 1.8,0a0.9,0.9 0 1,0 -1.8,0M558.3,473.9a0.6,0.6 0 1,0 1.2,0a0.6,0.6 0 1,0 -1.2,0M541.7,519.5a0.9,0.9 0 1,0 1.7,0a0.9,0.9 0 1,0 -1.7,0" fill="#f4f4f4" opacity="0.8"/><path d="M560,490.6a0.5,0.5 0 1,0 0.9,0a0.5,0.5 0 1,0 -0.9,0M532.4,471.3a0.9,0.9 0 1,0 1.7,0a0.9,0.9 0 1,0 -1.7,0M541.1,461.1a0.6,0.6 0 1,0 1.3,0a0.6,0.6 0 1,0 -1.3,0M556.6,485.5a0.8,0.8 0 1,0 1.5,0a0.8,0.8 0 1,0 -1.5,0M569.8,492a0.5,0.5 0 1,0 1,0a0.5,0.5 0 1,0 -1,0M528.7,468.1a0.9,0.9 0 1,0 1.9,0a0.9,0.9 0 1,0 -1.9,0M547,518.7a1,1 0 1,0 2,0a1,1 0 1,0 -2,0M539.5,504.9a0.9,0.9 0 1,0 1.8,0a0.9,0.9 0 1,0 -1.8,0M551.4,465.9a0.6,0.6 0 1,0 1.2,0a0.6,0.6 0 1,0 -1.2,0M520.9,486.8a0.6,0.6 0 1,0 1.2,0a0.6,0.6 0 1,0 -1.2,0M529.2,469.4a0.5,0.5 0 1,0 1,0a0.5,0.5 0 1,0 -1,0M519,473.7a0.9,0.9 0 1,0 1.8,0a0.9,0.9 0 1,0 -1.8,0M565.8,507.1a0.8,0.8 0 1,0 1.5,0a0.8,0.8 0 1,0 -1.5,0M547.7,471.1a0.9,0.9 0 1,0 1.8,0a0.9,0.9 0 1,0 -1.8,0M541.9,494.4a0.9,0.9 0 1,0 1.8,0a0.9,0.9 0 1,0 -1.8,0M542.2,507.8a0.8,0.8 0 1,0 1.6,0a0.8,0.8 0 1,0 -1.6,0M544.9,503.1a0.9,0.9 0 1,0 1.7,0a0.9,0.9 0 1,0 -1.7,0M527.2,493.6a0.6,0.6 0 1,0 1.2,0a0.6,0.6 0 1,0 -1.2,0M551.4,486a0.5,0.5 0 1,0 0.9,0a0.5,0.5 0 1,0 -0.9,0M518,472a0.7,0.7 0 1,0 1.4,0a0.7,0.7 0 1,0 -1.4,0M516.6,476.6a0.8,0.8 0 1,0 1.7,0a0.8,0.8 0 1,0 -1.7,0M537.3,502.2a0.9,0.9 0 1,0 1.7,0a0.9,0.9 0 1,0 -1.7,0M539,462.8a0.9,0.9 0 1,0 1.7,0a0.9,0.9 0 1,0 -1.7,0M548.4,496a1,1 0 1,0 1.9,0a1,1 0 1,0 -1.9,0M543.5,468.6a0.6,0.6 0 1,0 1.1,0a0.6,0.6 0 1,0 -1.1,0M539.9,487.8a0.9,0.9 0 1,0 1.8,0a0.9,0.9 0 1,0 -1.8,0M516.7,487.8a0.6,0.6 0 1,0 1.2,0a0.6,0.6 0 1,0 -1.2,0M519,502.5a0.6,0.6 0 1,0 1.2,0a0.6,0.6 0 1,0 -1.2,0M563.5,504.7a0.7,0.7 0 1,0 1.3,0a0.7,0.7 0 1,0 -1.3,0M515.6,491.5a0.8,0.8 0 1,0 1.7,0a0.8,0.8 0 1,0 -1.7,0M550.5,465.9a1,1 0 1,0 1.9,0a1,1 0 1,0 -1.9,0M533.6,520.4a0.7,0.7 0 1,0 1.5,0a0.7,0.7 0 1,0 -1.5,0M565.7,482.2a0.6,0.6 0 1,0 1.3,0a0.6,0.6 0 1,0 -1.3,0M547.4,469.4a0.6,0.6 0 1,0 1.3,0a0.6,0.6 0 1,0 -1.3,0M553.5,492.6a0.7,0.7 0 1,0 1.4,0a0.7,0.7 0 1,0 -1.4,0M544.7,501.1a0.6,0.6 0 1,0 1.3,0a0.6,0.6 0 1,0 -1.3,0M555.9,480.1a0.5,0.5 0 1,0 1,0a0.5,0.5 0 1,0 -1,0M537.8,512.5a0.7,0.7 0 1,0 1.4,0a0.7,0.7 0 1,0 -1.4,0M554,508.5a0.5,0.5 0 1,0 0.9,0a0.5,0.5 0 1,0 -0.9,0M518.2,497.2a0.7,0.7 0 1,0 1.4,0a0.7,0.7 0 1,0 -1.4,0M531.7,511.5a0.7,0.7 0 1,0 1.5,0a0.7,0.7 0 1,0 -1.5,0M524.4,511.1a1,1 0 1,0 2,0a1,1 0 1,0 -2,0M540.2,482.1a0.9,0.9 0 1,0 1.9,0a0.9,0.9 0 1,0 -1.9,0M525.7,469.6a1,1 0 1,0 2,0a1,1 0 1,0 -2,0M551.8,473.3a0.7,0.7 0 1,0 1.4,0a0.7,0.7 0 1,0 -1.4,0M549.8,476.8a0.6,0.6 0 1,0 1.3,0a0.6,0.6 0 1,0 -1.3,0M544.1,516.9a0.6,0.6 0 1,0 1.3,0a0.6,0.6 0 1,0 -1.3,0M538.7,485.6a0.5,0.5 0 1,0 0.9,0a0.5,0.5 0 1,0 -0.9,0M551.8,477.1a0.7,0.7 0 1,0 1.3,0a0.7,0.7 0 1,0 -1.3,0M514.5,480.3a0.6,0.6 0 1,0 1.2,0a0.6,0.6 0 1,0 -1.2,0M530.6,498.6a1,1 0 1,0 1.9,0a1,1 0 1,0 -1.9,0M522.1,492.4a0.9,0.9 0 1,0 1.8,0a0.9,0.9 0 1,0 -1.8,0M536.7,480.8a0.9,0.9 0 1,0 1.7,0a0.9,0.9 0 1,0 -1.7,0M550.4,462.6a0.9,0.9 0 1,0 1.8,0a0.9,0.9 0 1,0 -1.8,0M554.9,515.7a0.7,0.7 0 1,0 1.3,0a0.7,0.7 0 1,0 -1.3,0M560.5,494.3a0.7,0.7 0 1,0 1.4,0a0.7,0.7 0 1,0 -1.4,0M524.7,497.2a0.5,0.5 0 1,0 1,0a0.5,0.5 0 1,0 -1,0M532.7,506.8a0.9,0.9 0 1,0 1.8,0a0.9,0.9 0 1,0 -1.8,0M534.8,469.6a0.9,0.9 0 1,0 1.7,0a0.9,0.9 0 1,0 -1.7,0M523.5,475.1a0.8,0.8 0 1,0 1.6,0a0.8,0.8 0 1,0 -1.6,0M530.8,468.5a0.6,0.6 0 1,0 1.1,0a0.6,0.6 0 1,0 -1.1,0M564.1,495.2a0.7,0.7 0 1,0 1.5,0a0.7,0.7 0 1,0 -1.5,0M568.7,488.6a0.6,0.6 0 1,0 1.3,0a0.6,0.6 0 1,0 -1.3,0M553.2,472.2a0.6,0.6 0 1,0 1.3,0a0.6,0.6 0 1,0 -1.3,0M534.6,465.6a1,1 0 1,0 1.9,0a1,1 0 1,0 -1.9,0M520.6,473.9a0.8,0.8 0 1,0 1.7,0a0.8,0.8 0 1,0 -1.7,0M546.9,515.6a0.8,0.8 0 1,0 1.7,0a0.8,0.8 0 1,0 -1.7,0M519.5,502.6a1,1 0 1,0 1.9,0a1,1 0 1,0 -1.9,0M567.3,480.7a0.5,0.5 0 1,0 1,0a0.5,0.5 0 1,0 -1,0M536.1,475.9a0.7,0.7 0 1,0 1.4,0a0.7,0.7 0 1,0 -1.4,0M557,510.7a1,1 0 1,0 1.9,0a1,1 0 1,0 -1.9,0M551.4,475.6a0.6,0.6 0 1,0 1.2,0a0.6,0.6 0 1,0 -1.2,0M521,474.9a0.7,0.7 0 1,0 1.5,0a0.7,0.7 0 1,0 -1.5,0M530.7,476.1a0.9,0.9 0 1,0 1.8,0a0.9,0.9 0 1,0 -1.8,0M547.3,511.4a0.8,0.8 0 1,0 1.6,0a0.8,0.8 0 1,0 -1.6,0M516.2,481.7a0.9,0.9 0 1,0 1.8,0a0.9,0.9 0 1,0 -1.8,0M529.4,518.5a0.8,0.8 0 1,0 1.6,0a0.8,0.8 0 1,0 -1.6,0M531.5,476.6a0.6,0.6 0 1,0 1.1,0a0.6,0.6 0 1,0 -1.1,0M568,500.8a0.9,0.9 0 1,0 1.8,0a0.9,0.9 0 1,0 -1.8,0M542.6,463a0.7,0.7 0 1,0 1.4,0a0.7,0.7 0 1,0 -1.4,0M537.7,475.8a0.6,0.6 0 1,0 1.1,0a0.6,0.6 0 1,0 -1.1,0M516.8,508.4a0.8,0.8 0 1,0 1.5,0a0.8,0.8 0 1,0 -1.5,0M529.8,512.6a0.5,0.5 0 1,0 1.1,0a0.5,0.5 0 1,0 -1.1,0M529.8,472.8a0.7,0.7 0 1,0 1.4,0a0.7,0.7 0 1,0 -1.4,0M549.5,501.3a0.9,0.9 0 1,0 1.8,0a0.9,0.9 0 1,0 -1.8,0M547.6,474.2a0.7,0.7 0 1,0 1.4,0a0.7,0.7 0 1,0 -1.4,0M543.1,474.8a0.6,0.6 0 1,0 1.3,0a0.6,0.6 0 1,0 -1.3,0M534.8,495.3a0.5,0.5 0 1,0 1.1,0a0.5,0.5 0 1,0 -1.1,0M530.3,516.2a0.6,0.6 0 1,0 1.3,0a0.6,0.6 0 1,0 -1.3,0M559.9,486.2a0.8,0.8 0 1,0 1.7,0a0.8,0.8 0 1,0 -1.7,0M562.5,506.1a1,1 0 1,0 2,0a1,1 0 1,0 -2,0M552.9,477a0.7,0.7 0 1,0 1.5,0a0.7,0.7 0 1,0 -1.5,0M537.4,486.7a1,1 0 1,0 2,0a1,1 0 1,0 -2,0M550.3,465.1a0.8,0.8 0 1,0 1.5,0a0.8,0.8 0 1,0 -1.5,0M558.8,468.8a1,1 0 1,0 1.9,0a1,1 0 1,0 -1.9,0M541.9,472.6a0.5,0.5 0 1,0 1.1,0a0.5,0.5 0 1,0 -1.1,0M566.6,483.7a1,1 0 1,0 1.9,0a1,1 0 1,0 -1.9,0M556.6,498.3a0.9,0.9 0 1,0 1.8,0a0.9,0.9 0 1,0 -1.8,0M543.1,464.5a0.8,0.8 0 1,0 1.7,0a0.8,0.8 0 1,0 -1.7,0M543.3,491a0.5,0.5 0 1,0 0.9,0a0.5,0.5 0 1,0 -0.9,0M536.1,484.6a0.7,0.7 0 1,0 1.3,0a0.7,0.7 0 1,0 -1.3,0M554.2,473.3a0.9,0.9 0 1,0 1.8,0a0.9,0.9 0 1,0 -1.8,0M562.4,504.8a0.8,0.8 0 1,0 1.7,0a0.8,0.8 0 1,0 -1.7,0M523.7,506.7a0.7,0.7 0 1,0 1.4,0a0.7,0.7 0 1,0 -1.4,0M538.9,505.3a0.9,0.9 0 1,0 1.8,0a0.9,0.9 0 1,0 -1.8,0M552.8,501.2a0.6,0.6 0 1,0 1.2,0a0.6,0.6 0 1,0 -1.2,0M546.6,479.9a0.5,0.5 0 1,0 0.9,0a0.5,0.5 0 1,0 -0.9,0M553.3,506.8a0.6,0.6 0 1,0 1.3,0a0.6,0.6 0 1,0 -1.3,0M566.8,480.3a0.8,0.8 0 1,0 1.5,0a0.8,0.8 0 1,0 -1.5,0M551.1,515a1,1 0 1,0 1.9,0a1,1 0 1,0 -1.9,0M558.9,493.4a0.8,0.8 0 1,0 1.5,0a0.8,0.8 0 1,0 -1.5,0M550.7,499.1a0.7,0.7 0 1,0 1.4,0a0.7,0.7 0 1,0 -1.4,0M539.6,483.2a0.9,0.9 0 1,0 1.7,0a0.9,0.9 0 1,0 -1.7,0M552.1,473.3a0.7,0.7 0 1,0 1.4,0a0.7,0.7 0 1,0 -1.4,0M531.9,486.1a0.9,0.9 0 1,0 1.7,0a0.9,0.9 0 1,0 -1.7,0M514.6,505.5a0.8,0.8 0 1,0 1.6,0a0.8,0.8 0 1,0 -1.6,0M533.8,509.9a0.9,0.9 0 1,0 1.8,0a0.9,0.9 0 1,0 -1.8,0M529.5,490.4a0.7,0.7 0 1,0 1.5,0a0.7,0.7 0 1,0 -1.5,0M553.3,496.5a1,1 0 1,0 2,0a1,1 0 1,0 -2,0M521.3,478.2a0.5,0.5 0 1,0 1.1,0a0.5,0.5 0 1,0 -1.1,0M520.7,478.7a0.8,0.8 0 1,0 1.6,0a0.8,0.8 0 1,0 -1.6,0M549.8,471.2a0.9,0.9 0 1,0 1.7,0a0.9,0.9 0 1,0 -1.7,0M566.6,476.6a0.9,0.9 0 1,0 1.9,0a0.9,0.9 0 1,0 -1.9,0M556.4,509.3a0.7,0.7 0 1,0 1.4,0a0.7,0.7 0 1,0 -1.4,0M531.4,462.4a0.7,0.7 0 1,0 1.4,0a0.7,0.7 0 1,0 -1.4,0M540,467a0.8,0.8 0 1,0 1.6,0a0.8,0.8 0 1,0 -1.6,0M543.3,488.4a1,1 0 1,0 2,0a1,1 0 1,0 -2,0M535,510.2a0.6,0.6 0 1,0 1.3,0a0.6,0.6 0 1,0 -1.3,0M517.1,483.7a1,1 0 1,0 2,0a1,1 0 1,0 -2,0M525.2,515.9a0.7,0.7 0 1,0 1.3,0a0.7,0.7 0 1,0 -1.3,0M515.6,480.7a0.9,0.9 0 1,0 1.8,0a0.9,0.9 0 1,0 -1.8,0M556.6,509.6a0.6,0.6 0 1,0 1.1,0a0.6,0.6 0 1,0 -1.1,0M540.5,489.6a0.8,0.8 0 1,0 1.7,0a0.8,0.8 0 1,0 -1.7,0M521.8,466.5a0.7,0.7 0 1,0 1.3,0a0.7,0.7 0 1,0 -1.3,0M544.9,504.2a1,1 0 1,0 1.9,0a1,1 0 1,0 -1.9,0M545.7,509.9a0.7,0.7 0 1,0 1.5,0a0.7,0.7 0 1,0 -1.5,0M554.5,511.8a0.7,0.7 0 1,0 1.5,0a0.7,0.7 0 1,0 -1.5,0M520.9,474.2a0.9,0.9 0 1,0 1.8,0a0.9,0.9 0 1,0 -1.8,0M570.4,487.9a0.6,0.6 0 1,0 1.2,0a0.6,0.6 0 1,0 -1.2,0M532.8,467.6a0.6,0.6 0 1,0 1.2,0a0.6,0.6 0 1,0 -1.2,0M566.1,476a0.8,0.8 0 1,0 1.6,0a0.8,0.8 0 1,0 -1.6,0M530.1,481a0.5,0.5 0 1,0 1,0a0.5,0.5 0 1,0 -1,0M553.3,473.5a0.5,0.5 0 1,0 1,0a0.5,0.5 0 1,0 -1,0M554,481.8a0.9,0.9 0 1,0 1.8,0a0.9,0.9 0 1,0 -1.8,0M548.8,506.8a0.7,0.7 0 1,0 1.4,0a0.7,0.7 0 1,0 -1.4,0M559.4,487.8a0.6,0.6 0 1,0 1.1,0a0.6,0.6 0 1,0 -1.1,0M557.2,495.3a0.7,0.7 0 1,0 1.5,0a0.7,0.7 0 1,0 -1.5,0M517.3,493.3a0.6,0.6 0 1,0 1.2,0a0.6,0.6 0 1,0 -1.2,0M550.1,515.8a1,1 0 1,0 2,0a1,1 0 1,0 -2,0" fill="#f4f4f4" opacity="0.9"/><path d="M541.1,465.2a1,1 0 1,0 2,0a1,1 0 1,0 -2,0M523,477.1a0.7,0.7 0 1,0 1.4,0a0.7,0.7 0 1,0 -1.4,0M539.8,518.9a0.5,0.5 0 1,0 1.1,0a0.5,0.5 0 1,0 -1.1,0M512.5,498a1,1 0 1,0 2,0a1,1 0 1,0 -2,0M539.5,498.5a0.6,0.6 0 1,0 1.2,0a0.6,0.6 0 1,0 -1.2,0M528.2,513.7a0.6,0.6 0 1,0 1.2,0a0.6,0.6 0 1,0 -1.2,0M536,474.6a0.7,0.7 0 1,0 1.4,0a0.7,0.7 0 1,0 -1.4,0M544.2,498.3a1,1 0 1,0 1.9,0a1,1 0 1,0 -1.9,0M517.1,502.1a0.8,0.8 0 1,0 1.6,0a0.8,0.8 0 1,0 -1.6,0M567.3,482.1a0.6,0.6 0 1,0 1.2,0a0.6,0.6 0 1,0 -1.2,0M530.8,483.3a0.9,0.9 0 1,0 1.8,0a0.9,0.9 0 1,0 -1.8,0M564.6,508.6a0.7,0.7 0 1,0 1.3,0a0.7,0.7 0 1,0 -1.3,0M533.4,490a0.8,0.8 0 1,0 1.6,0a0.8,0.8 0 1,0 -1.6,0M532.4,484.4a0.5,0.5 0 1,0 1,0a0.5,0.5 0 1,0 -1,0M558.8,492.3a0.8,0.8 0 1,0 1.6,0a0.8,0.8 0 1,0 -1.6,0M520.9,510.9a0.9,0.9 0 1,0 1.8,0a0.9,0.9 0 1,0 -1.8,0M521.1,498.3a0.6,0.6 0 1,0 1.3,0a0.6,0.6 0 1,0 -1.3,0M555.6,514.1a0.7,0.7 0 1,0 1.4,0a0.7,0.7 0 1,0 -1.4,0M534.8,518.5a1,1 0 1,0 1.9,0a1,1 0 1,0 -1.9,0M540.3,501.9a1,1 0 1,0 1.9,0a1,1 0 1,0 -1.9,0M524.2,494.2a0.6,0.6 0 1,0 1.2,0a0.6,0.6 0 1,0 -1.2,0M548.5,510a0.7,0.7 0 1,0 1.3,0a0.7,0.7 0 1,0 -1.3,0M540.5,511.7a0.9,0.9 0 1,0 1.8,0a0.9,0.9 0 1,0 -1.8,0M526.2,466a1,1 0 1,0 1.9,0a1,1 0 1,0 -1.9,0M523,501.8a0.5,0.5 0 1,0 1.1,0a0.5,0.5 0 1,0 -1.1,0M522.2,487.4a1,1 0 1,0 1.9,0a1,1 0 1,0 -1.9,0M516.9,509.2a0.7,0.7 0 1,0 1.5,0a0.7,0.7 0 1,0 -1.5,0M565.4,486.9a0.9,0.9 0 1,0 1.7,0a0.9,0.9 0 1,0 -1.7,0M562.2,501.1a1,1 0 1,0 1.9,0a1,1 0 1,0 -1.9,0M564.1,478.9a0.8,0.8 0 1,0 1.6,0a0.8,0.8 0 1,0 -1.6,0M563.9,506.4a0.7,0.7 0 1,0 1.3,0a0.7,0.7 0 1,0 -1.3,0M521.3,476.1a0.5,0.5 0 1,0 1.1,0a0.5,0.5 0 1,0 -1.1,0M565.2,495.9a0.8,0.8 0 1,0 1.5,0a0.8,0.8 0 1,0 -1.5,0M523.2,500.8a0.7,0.7 0 1,0 1.4,0a0.7,0.7 0 1,0 -1.4,0M546.9,504.7a0.5,0.5 0 1,0 1,0a0.5,0.5 0 1,0 -1,0M526.7,468.2a0.8,0.8 0 1,0 1.7,0a0.8,0.8 0 1,0 -1.7,0M559.1,506.1a1,1 0 1,0 1.9,0a1,1 0 1,0 -1.9,0M549,507.4a1,1 0 1,0 1.9,0a1,1 0 1,0 -1.9,0M563.1,504.5a0.8,0.8 0 1,0 1.6,0a0.8,0.8 0 1,0 -1.6,0M556.1,497.3a0.9,0.9 0 1,0 1.8,0a0.9,0.9 0 1,0 -1.8,0M530,481.8a0.5,0.5 0 1,0 1,0a0.5,0.5 0 1,0 -1,0M520.7,504a1,1 0 1,0 1.9,0a1,1 0 1,0 -1.9,0M526.2,490.1a0.9,0.9 0 1,0 1.7,0a0.9,0.9 0 1,0 -1.7,0M537.9,459.8a0.6,0.6 0 1,0 1.2,0a0.6,0.6 0 1,0 -1.2,0M534.4,490.1a0.6,0.6 0 1,0 1.1,0a0.6,0.6 0 1,0 -1.1,0M522.6,472.2a0.5,0.5 0 1,0 1,0a0.5,0.5 0 1,0 -1,0M558.5,470.6a0.7,0.7 0 1,0 1.5,0a0.7,0.7 0 1,0 -1.5,0M553.5,509.6a0.7,0.7 0 1,0 1.4,0a0.7,0.7 0 1,0 -1.4,0M531.4,507.6a0.9,0.9 0 1,0 1.8,0a0.9,0.9 0 1,0 -1.8,0M538.7,490a0.7,0.7 0 1,0 1.5,0a0.7,0.7 0 1,0 -1.5,0M555.5,509.1a0.8,0.8 0 1,0 1.5,0a0.8,0.8 0 1,0 -1.5,0M526.8,486.9a1,1 0 1,0 1.9,0a1,1 0 1,0 -1.9,0M528.1,508a1,1 0 1,0 2,0a1,1 0 1,0 -2,0M570.4,483.4a0.5,0.5 0 1,0 1.1,0a0.5,0.5 0 1,0 -1.1,0M533.3,469.6a0.8,0.8 0 1,0 1.7,0a0.8,0.8 0 1,0 -1.7,0M565.3,501a1,1 0 1,0 1.9,0a1,1 0 1,0 -1.9,0M542.3,498.7a0.7,0.7 0 1,0 1.3,0a0.7,0.7 0 1,0 -1.3,0M511.4,494.1a1,1 0 1,0 2,0a1,1 0 1,0 -2,0M535.7,486.8a0.5,0.5 0 1,0 0.9,0a0.5,0.5 0 1,0 -0.9,0M531.5,478.5a0.8,0.8 0 1,0 1.7,0a0.8,0.8 0 1,0 -1.7,0M520.2,484.2a0.7,0.7 0 1,0 1.4,0a0.7,0.7 0 1,0 -1.4,0M546.5,508a0.7,0.7 0 1,0 1.4,0a0.7,0.7 0 1,0 -1.4,0M553.6,471.2a0.8,0.8 0 1,0 1.6,0a0.8,0.8 0 1,0 -1.6,0M523.5,500.3a0.5,0.5 0 1,0 0.9,0a0.5,0.5 0 1,0 -0.9,0M514.5,479.3a1,1 0 1,0 1.9,0a1,1 0 1,0 -1.9,0M531.9,474.7a0.6,0.6 0 1,0 1.1,0a0.6,0.6 0 1,0 -1.1,0M528.9,496.9a0.5,0.5 0 1,0 1,0a0.5,0.5 0 1,0 -1,0M544.4,497.8a0.5,0.5 0 1,0 1.1,0a0.5,0.5 0 1,0 -1.1,0M552,502.3a0.9,0.9 0 1,0 1.8,0a0.9,0.9 0 1,0 -1.8,0M564.6,492.8a0.9,0.9 0 1,0 1.8,0a0.9,0.9 0 1,0 -1.8,0M522.4,482.8a0.6,0.6 0 1,0 1.3,0a0.6,0.6 0 1,0 -1.3,0M524.9,479.4a0.7,0.7 0 1,0 1.4,0a0.7,0.7 0 1,0 -1.4,0M537.5,479.9a0.9,0.9 0 1,0 1.7,0a0.9,0.9 0 1,0 -1.7,0M538.6,486a0.7,0.7 0 1,0 1.4,0a0.7,0.7 0 1,0 -1.4,0M555.6,510.1a0.5,0.5 0 1,0 1,0a0.5,0.5 0 1,0 -1,0M530.7,474.1a0.7,0.7 0 1,0 1.5,0a0.7,0.7 0 1,0 -1.5,0" fill="#f4f4f4" opacity="1.0"/>
<path d="M547.8,511.3a0.9,0.9 0 1,0 1.9,0a0.9,0.9 0 1,0 -1.9,0M528.8,465.4a0.5,0.5 0 1,0 1.1,0a0.5,0.5 0 1,0 -1.1,0M549.5,486.2a1,1 0 1,0 2,0a1,1 0 1,0 -2,0M556.5,480.8a0.6,0.6 0 1,0 1.2,0a0.6,0.6 0 1,0 -1.2,0M528.2,472.5a1,1 0 1,0 2,0a1,1 0 1,0 -2,0M559.3,473.5a0.7,0.7 0 1,0 1.3,0a0.7,0.7 0 1,0 -1.3,0M525.2,469.3a1,1 0 1,0 1.9,0a1,1 0 1,0 -1.9,0M532.4,505.9a0.9,0.9 0 1,0 1.7,0a0.9,0.9 0 1,0 -1.7,0M557,486.4a0.8,0.8 0 1,0 1.6,0a0.8,0.8 0 1,0 -1.6,0M519.5,508.5a0.9,0.9 0 1,0 1.7,0a0.9,0.9 0 1,0 -1.7,0M538.7,467.2a0.9,0.9 0 1,0 1.7,0a0.9,0.9 0 1,0 -1.7,0M542.3,471.1a0.8,0.8 0 1,0 1.6,0a0.8,0.8 0 1,0 -1.6,0M529.2,487.6a0.9,0.9 0 1,0 1.8,0a0.9,0.9 0 1,0 -1.8,0M537.1,464.4a0.9,0.9 0 1,0 1.9,0a0.9,0.9 0 1,0 -1.9,0M522.4,495.4a0.7,0.7 0 1,0 1.4,0a0.7,0.7 0 1,0 -1.4,0M539.1,501.8a0.7,0.7 0 1,0 1.4,0a0.7,0.7 0 1,0 -1.4,0M514.8,504.7a0.6,0.6 0 1,0 1.2,0a0.6,0.6 0 1,0 -1.2,0M526.6,471.2a0.7,0.7 0 1,0 1.3,0a0.7,0.7 0 1,0 -1.3,0M526.2,478a0.8,0.8 0 1,0 1.6,0a0.8,0.8 0 1,0 -1.6,0" fill="#222" opacity="0.4"/><path d="M522.1,474.2a0.6,0.6 0 1,0 1.1,0a0.6,0.6 0 1,0 -1.1,0M554.8,468a0.8,0.8 0 1,0 1.5,0a0.8,0.8 0 1,0 -1.5,0M518.7,490a0.6,0.6 0 1,0 1.2,0a0.6,0.6 0 1,0 -1.2,0M559,511.2a0.8,0.8 0 1,0 1.6,0a0.8,0.8 0 1,0 -1.6,0M561.7,475.9a0.8,0.8 0 1,0 1.6,0a0.8,0.8 0 1,0 -1.6,0M525.6,477.6a0.6,0.6 0 1,0 1.2,0a0.6,0.6 0 1,0 -1.2,0M530.8,477.8a0.7,0.7 0 1,0 1.4,0a0.7,0.7 0 1,0 -1.4,0M530.1,514.6a0.8,0.8 0 1,0 1.5,0a0.8,0.8 0 1,0 -1.5,0M528.4,506.6a0.6,0.6 0 1,0 1.1,0a0.6,0.6 0 1,0 -1.1,0M538,460.3a0.5,0.5 0 1,0 1,0a0.5,0.5 0 1,0 -1,0M566.5,487.2a1,1 0 1,0 2,0a1,1 0 1,0 -2,0M514.9,483.7a0.6,0.6 0 1,0 1.2,0a0.6,0.6 0 1,0 -1.2,0M552.6,508.7a0.9,0.9 0 1,0 1.9,0a0.9,0.9 0 1,0 -1.9,0M536.1,503.4a0.6,0.6 0 1,0 1.2,0a0.6,0.6 0 1,0 -1.2,0M540.9,515a0.5,0.5 0 1,0 1,0a0.5,0.5 0 1,0 -1,0M555,488.1a0.9,0.9 0 1,0 1.8,0a0.9,0.9 0 1,0 -1.8,0M550.7,490.2a0.8,0.8 0 1,0 1.6,0a0.8,0.8 0 1,0 -1.6,0M519.2,498.5a0.8,0.8 0 1,0 1.6,0a0.8,0.8 0 1,0 -1.6,0M541.4,470.4a0.8,0.8 0 1,0 1.6,0a0.8,0.8 0 1,0 -1.6,0M526.6,504a0.7,0.7 0 1,0 1.5,0a0.7,0.7 0 1,0 -1.5,0M527.9,509.6a0.7,0.7 0 1,0 1.4,0a0.7,0.7 0 1,0 -1.4,0M555.1,486.3a1,1 0 1,0 1.9,0a1,1 0 1,0 -1.9,0M525.7,513a0.8,0.8 0 1,0 1.5,0a0.8,0.8 0 1,0 -1.5,0M517.2,472.7a0.7,0.7 0 1,0 1.3,0a0.7,0.7 0 1,0 -1.3,0M516.3,500.1a0.7,0.7 0 1,0 1.4,0a0.7,0.7 0 1,0 -1.4,0M538.8,485.8a0.7,0.7 0 1,0 1.4,0a0.7,0.7 0 1,0 -1.4,0M562.5,487.5a0.7,0.7 0 1,0 1.4,0a0.7,0.7 0 1,0 -1.4,0M516.1,495.1a0.7,0.7 0 1,0 1.5,0a0.7,0.7 0 1,0 -1.5,0" fill="#222" opacity="0.5"/><path d="M528.3,486.4a0.9,0.9 0 1,0 1.8,0a0.9,0.9 0 1,0 -1.8,0M544.7,486.3a0.7,0.7 0 1,0 1.4,0a0.7,0.7 0 1,0 -1.4,0M537.5,470.9a0.6,0.6 0 1,0 1.2,0a0.6,0.6 0 1,0 -1.2,0M525.9,488.1a0.8,0.8 0 1,0 1.6,0a0.8,0.8 0 1,0 -1.6,0M547.1,504.2a0.6,0.6 0 1,0 1.2,0a0.6,0.6 0 1,0 -1.2,0M544.3,493.2a0.5,0.5 0 1,0 1,0a0.5,0.5 0 1,0 -1,0M518.2,478.5a0.6,0.6 0 1,0 1.3,0a0.6,0.6 0 1,0 -1.3,0M540.5,519.3a0.8,0.8 0 1,0 1.5,0a0.8,0.8 0 1,0 -1.5,0M551.2,478.2a0.5,0.5 0 1,0 1,0a0.5,0.5 0 1,0 -1,0M557.2,471.7a0.7,0.7 0 1,0 1.5,0a0.7,0.7 0 1,0 -1.5,0M560.3,473.4a0.7,0.7 0 1,0 1.3,0a0.7,0.7 0 1,0 -1.3,0M542,516.2a0.7,0.7 0 1,0 1.4,0a0.7,0.7 0 1,0 -1.4,0M518.8,492.7a0.9,0.9 0 1,0 1.8,0a0.9,0.9 0 1,0 -1.8,0M543,471.9a0.7,0.7 0 1,0 1.4,0a0.7,0.7 0 1,0 -1.4,0M545.9,478.8a0.9,0.9 0 1,0 1.9,0a0.9,0.9 0 1,0 -1.9,0M561.4,469.5a0.5,0.5 0 1,0 1.1,0a0.5,0.5 0 1,0 -1.1,0M566.3,475.8a0.7,0.7 0 1,0 1.5,0a0.7,0.7 0 1,0 -1.5,0M525.6,492.5a0.5,0.5 0 1,0 1,0a0.5,0.5 0 1,0 -1,0M546.5,463.5a0.8,0.8 0 1,0 1.6,0a0.8,0.8 0 1,0 -1.6,0M541.3,507.4a0.9,0.9 0 1,0 1.9,0a0.9,0.9 0 1,0 -1.9,0M559.6,490.6a0.8,0.8 0 1,0 1.6,0a0.8,0.8 0 1,0 -1.6,0M551,515.8a0.8,0.8 0 1,0 1.7,0a0.8,0.8 0 1,0 -1.7,0M514,498a0.8,0.8 0 1,0 1.5,0a0.8,0.8 0 1,0 -1.5,0M557.6,470.7a0.9,0.9 0 1,0 1.7,0a0.9,0.9 0 1,0 -1.7,0M536.2,475a0.6,0.6 0 1,0 1.3,0a0.6,0.6 0 1,0 -1.3,0M537.1,466.5a0.9,0.9 0 1,0 1.7,0a0.9,0.9 0 1,0 -1.7,0M516.7,508.8a0.9,0.9 0 1,0 1.8,0a0.9,0.9 0 1,0 -1.8,0M536.3,468.6a0.5,0.5 0 1,0 1,0a0.5,0.5 0 1,0 -1,0M558.5,496.7a0.9,0.9 0 1,0 1.8,0a0.9,0.9 0 1,0 -1.8,0M543.8,510a0.8,0.8 0 1,0 1.6,0a0.8,0.8 0 1,0 -1.6,0M531.3,486.3a0.6,0.6 0 1,0 1.3,0a0.6,0.6 0 1,0 -1.3,0M534.8,511a0.8,0.8 0 1,0 1.6,0a0.8,0.8 0 1,0 -1.6,0M553.9,505.5a0.9,0.9 0 1,0 1.9,0a0.9,0.9 0 1,0 -1.9,0M544.2,471.6a0.6,0.6 0 1,0 1.2,0a0.6,0.6 0 1,0 -1.2,0M534.8,509.1a0.9,0.9 0 1,0 1.7,0a0.9,0.9 0 1,0 -1.7,0M536,462.5a0.8,0.8 0 1,0 1.7,0a0.8,0.8 0 1,0 -1.7,0M545.7,487.4a1,1 0 1,0 1.9,0a1,1 0 1,0 -1.9,0M527.1,492.9a0.9,0.9 0 1,0 1.8,0a0.9,0.9 0 1,0 -1.8,0M545.7,485.9a0.6,0.6 0 1,0 1.2,0a0.6,0.6 0 1,0 -1.2,0M521.1,494.8a0.9,0.9 0 1,0 1.9,0a0.9,0.9 0 1,0 -1.9,0M556.4,512.4a0.9,0.9 0 1,0 1.9,0a0.9,0.9 0 1,0 -1.9,0M547.7,472.9a0.6,0.6 0 1,0 1.1,0a0.6,0.6 0 1,0 -1.1,0M563.3,487.1a0.6,0.6 0 1,0 1.3,0a0.6,0.6 0 1,0 -1.3,0M532.1,495.5a0.7,0.7 0 1,0 1.4,0a0.7,0.7 0 1,0 -1.4,0M553.7,467.7a0.9,0.9 0 1,0 1.8,0a0.9,0.9 0 1,0 -1.8,0M540.2,491.8a0.6,0.6 0 1,0 1.2,0a0.6,0.6 0 1,0 -1.2,0" fill="#222" opacity="0.6"/><path d="M526.2,501.9a0.8,0.8 0 1,0 1.7,0a0.8,0.8 0 1,0 -1.7,0M559.2,509.3a0.9,0.9 0 1,0 1.8,0a0.9,0.9 0 1,0 -1.8,0M526.2,511.9a0.7,0.7 0 1,0 1.5,0a0.7,0.7 0 1,0 -1.5,0M529.4,467.3a0.9,0.9 0 1,0 1.8,0a0.9,0.9 0 1,0 -1.8,0M544.2,505.8a0.6,0.6 0 1,0 1.1,0a0.6,0.6 0 1,0 -1.1,0M522.6,482.5a0.5,0.5 0 1,0 1.1,0a0.5,0.5 0 1,0 -1.1,0M535.4,513.1a0.9,0.9 0 1,0 1.9,0a0.9,0.9 0 1,0 -1.9,0M523,512.2a0.7,0.7 0 1,0 1.4,0a0.7,0.7 0 1,0 -1.4,0M545.7,496.2a0.7,0.7 0 1,0 1.4,0a0.7,0.7 0 1,0 -1.4,0M531.4,478.1a0.6,0.6 0 1,0 1.2,0a0.6,0.6 0 1,0 -1.2,0M517.7,473.9a0.5,0.5 0 1,0 1.1,0a0.5,0.5 0 1,0 -1.1,0M515.5,488.8a0.7,0.7 0 1,0 1.4,0a0.7,0.7 0 1,0 -1.4,0M565.5,505.1a0.6,0.6 0 1,0 1.3,0a0.6,0.6 0 1,0 -1.3,0M513.2,484.4a0.5,0.5 0 1,0 1.1,0a0.5,0.5 0 1,0 -1.1,0M513.5,492.7a0.6,0.6 0 1,0 1.1,0a0.6,0.6 0 1,0 -1.1,0M539.6,482.8a0.7,0.7 0 1,0 1.3,0a0.7,0.7 0 1,0 -1.3,0M554.3,466.6a0.9,0.9 0 1,0 1.7,0a0.9,0.9 0 1,0 -1.7,0M536,498.1a0.9,0.9 0 1,0 1.8,0a0.9,0.9 0 1,0 -1.8,0M570.6,488.8a0.6,0.6 0 1,0 1.3,0a0.6,0.6 0 1,0 -1.3,0M530.8,517.3a0.6,0.6 0 1,0 1.2,0a0.6,0.6 0 1,0 -1.2,0M561.7,485.5a1,1 0 1,0 2,0a1,1 0 1,0 -2,0M522.4,495a0.5,0.5 0 1,0 1,0a0.5,0.5 0 1,0 -1,0M542.2,511a0.6,0.6 0 1,0 1.2,0a0.6,0.6 0 1,0 -1.2,0M552.6,486.2a1,1 0 1,0 1.9,0a1,1 0 1,0 -1.9,0M560.5,501.7a0.9,0.9 0 1,0 1.7,0a0.9,0.9 0 1,0 -1.7,0M546.4,475.8a0.6,0.6 0 1,0 1.1,0a0.6,0.6 0 1,0 -1.1,0M515.5,489.3a0.7,0.7 0 1,0 1.4,0a0.7,0.7 0 1,0 -1.4,0M537.6,485.1a0.8,0.8 0 1,0 1.6,0a0.8,0.8 0 1,0 -1.6,0M544.6,514a0.8,0.8 0 1,0 1.7,0a0.8,0.8 0 1,0 -1.7,0M544.1,515.4a0.6,0.6 0 1,0 1.3,0a0.6,0.6 0 1,0 -1.3,0M516.7,499.9a0.6,0.6 0 1,0 1.2,0a0.6,0.6 0 1,0 -1.2,0M557.7,487a0.8,0.8 0 1,0 1.5,0a0.8,0.8 0 1,0 -1.5,0M554.2,497.4a0.7,0.7 0 1,0 1.4,0a0.7,0.7 0 1,0 -1.4,0M541.1,463.8a0.9,0.9 0 1,0 1.8,0a0.9,0.9 0 1,0 -1.8,0M563.2,488.5a0.5,0.5 0 1,0 1,0a0.5,0.5 0 1,0 -1,0M519.1,474.8a0.8,0.8 0 1,0 1.5,0a0.8,0.8 0 1,0 -1.5,0M553.6,495a0.5,0.5 0 1,0 1.1,0a0.5,0.5 0 1,0 -1.1,0M537.2,474.4a0.8,0.8 0 1,0 1.7,0a0.8,0.8 0 1,0 -1.7,0M545.1,464.6a0.8,0.8 0 1,0 1.6,0a0.8,0.8 0 1,0 -1.6,0M520.6,480.2a0.9,0.9 0 1,0 1.8,0a0.9,0.9 0 1,0 -1.8,0M519.8,505.9a0.9,0.9 0 1,0 1.8,0a0.9,0.9 0 1,0 -1.8,0M532,514.6a0.9,0.9 0 1,0 1.8,0a0.9,0.9 0 1,0 -1.8,0M514.5,486a0.8,0.8 0 1,0 1.6,0a0.8,0.8 0 1,0 -1.6,0M535.7,471a0.6,0.6 0 1,0 1.3,0a0.6,0.6 0 1,0 -1.3,0M539.7,464.2a0.6,0.6 0 1,0 1.1,0a0.6,0.6 0 1,0 -1.1,0M531.9,510.7a0.8,0.8 0 1,0 1.6,0a0.8,0.8 0 1,0 -1.6,0M523.4,515.2a1,1 0 1,0 1.9,0a1,1 0 1,0 -1.9,0M533.3,477.6a0.7,0.7 0 1,0 1.3,0a0.7,0.7 0 1,0 -1.3,0" fill="#222" opacity="0.7"/><path d="M567.9,483.9a0.9,0.9 0 1,0 1.7,0a0.9,0.9 0 1,0 -1.7,0M531.6,465.8a0.5,0.5 0 1,0 1,0a0.5,0.5 0 1,0 -1,0M532.2,487.1a0.9,0.9 0 1,0 1.9,0a0.9,0.9 0 1,0 -1.9,0M523.5,503.9a0.8,0.8 0 1,0 1.7,0a0.8,0.8 0 1,0 -1.7,0M539.8,476a0.7,0.7 0 1,0 1.5,0a0.7,0.7 0 1,0 -1.5,0M519.6,479.9a0.6,0.6 0 1,0 1.3,0a0.6,0.6 0 1,0 -1.3,0M555.2,494.5a0.8,0.8 0 1,0 1.6,0a0.8,0.8 0 1,0 -1.6,0M525.2,467a0.7,0.7 0 1,0 1.4,0a0.7,0.7 0 1,0 -1.4,0M522.9,504.7a0.7,0.7 0 1,0 1.5,0a0.7,0.7 0 1,0 -1.5,0M544.6,478.1a0.8,0.8 0 1,0 1.7,0a0.8,0.8 0 1,0 -1.7,0M512.3,498.2a0.9,0.9 0 1,0 1.7,0a0.9,0.9 0 1,0 -1.7,0M552.5,476.6a0.6,0.6 0 1,0 1.1,0a0.6,0.6 0 1,0 -1.1,0M532.6,497.9a0.8,0.8 0 1,0 1.7,0a0.8,0.8 0 1,0 -1.7,0M553.5,488.6a0.9,0.9 0 1,0 1.7,0a0.9,0.9 0 1,0 -1.7,0M531.2,505.1a0.7,0.7 0 1,0 1.3,0a0.7,0.7 0 1,0 -1.3,0M554.8,471.7a1,1 0 1,0 1.9,0a1,1 0 1,0 -1.9,0M541.5,467.7a0.8,0.8 0 1,0 1.7,0a0.8,0.8 0 1,0 -1.7,0M522,477.5a0.9,0.9 0 1,0 1.8,0a0.9,0.9 0 1,0 -1.8,0M519.5,474.3a0.8,0.8 0 1,0 1.7,0a0.8,0.8 0 1,0 -1.7,0" fill="#222" opacity="0.8"/>
<path d="M518,447l1,-2M596,497l2,-2M549,430l0,2" stroke="#ddd" stroke-width="1.2"/>
</g>
<rect x="612.5" y="422" width="129" height="126.5" fill="#030303"/>
<g clip-path="url(#cl23)">
<circle cx="676" cy="486" r="30.5" fill="#8a1010" opacity="0.7" filter="url(#blur1)"/>
<path d="M646.3,478.4a1.1,1.1 0 1,0 2.2,0a1.1,1.1 0 1,0 -2.2,0M681.6,457.6a0.8,0.8 0 1,0 1.7,0a0.8,0.8 0 1,0 -1.7,0M665.1,508.6a1.1,1.1 0 1,0 2.1,0a1.1,1.1 0 1,0 -2.1,0M685,467.1a0.6,0.6 0 1,0 1.2,0a0.6,0.6 0 1,0 -1.2,0M674,504.7a0.9,0.9 0 1,0 1.7,0a0.9,0.9 0 1,0 -1.7,0M673.3,494.4a0.9,0.9 0 1,0 1.9,0a0.9,0.9 0 1,0 -1.9,0M667.4,495.2a0.7,0.7 0 1,0 1.4,0a0.7,0.7 0 1,0 -1.4,0M664.3,457.8a0.6,0.6 0 1,0 1.2,0a0.6,0.6 0 1,0 -1.2,0M686.9,486.5a0.9,0.9 0 1,0 1.8,0a0.9,0.9 0 1,0 -1.8,0M690.6,499.8a1,1 0 1,0 2.1,0a1,1 0 1,0 -2.1,0M657.2,468.3a0.9,0.9 0 1,0 1.7,0a0.9,0.9 0 1,0 -1.7,0M693,482.6a0.6,0.6 0 1,0 1.3,0a0.6,0.6 0 1,0 -1.3,0M696.6,485a1.1,1.1 0 1,0 2.1,0a1.1,1.1 0 1,0 -2.1,0M693.6,503a0.7,0.7 0 1,0 1.4,0a0.7,0.7 0 1,0 -1.4,0M650,502.9a1.2,1.2 0 1,0 2.4,0a1.2,1.2 0 1,0 -2.4,0M667.8,482.9a1.1,1.1 0 1,0 2.3,0a1.1,1.1 0 1,0 -2.3,0M685.6,503.3a0.7,0.7 0 1,0 1.4,0a0.7,0.7 0 1,0 -1.4,0M684.6,510.2a1.2,1.2 0 1,0 2.4,0a1.2,1.2 0 1,0 -2.4,0M652.1,478.6a0.7,0.7 0 1,0 1.4,0a0.7,0.7 0 1,0 -1.4,0M683.6,494.2a0.6,0.6 0 1,0 1.2,0a0.6,0.6 0 1,0 -1.2,0M681.9,479a1.2,1.2 0 1,0 2.4,0a1.2,1.2 0 1,0 -2.4,0M687.3,492.6a1,1 0 1,0 1.9,0a1,1 0 1,0 -1.9,0M704.2,493.4a0.7,0.7 0 1,0 1.4,0a0.7,0.7 0 1,0 -1.4,0M666.3,498.1a0.6,0.6 0 1,0 1.3,0a0.6,0.6 0 1,0 -1.3,0M703.2,477.3a1,1 0 1,0 2,0a1,1 0 1,0 -2,0M660.8,489.8a1,1 0 1,0 2.1,0a1,1 0 1,0 -2.1,0M666.5,514.1a0.6,0.6 0 1,0 1.3,0a0.6,0.6 0 1,0 -1.3,0M662.8,492.5a0.9,0.9 0 1,0 1.7,0a0.9,0.9 0 1,0 -1.7,0M688.9,483.5a0.9,0.9 0 1,0 1.7,0a0.9,0.9 0 1,0 -1.7,0M662.8,510.6a1.1,1.1 0 1,0 2.2,0a1.1,1.1 0 1,0 -2.2,0M676.3,503.8a0.8,0.8 0 1,0 1.7,0a0.8,0.8 0 1,0 -1.7,0M670.1,460.2a0.8,0.8 0 1,0 1.6,0a0.8,0.8 0 1,0 -1.6,0M656.6,482.3a1.1,1.1 0 1,0 2.2,0a1.1,1.1 0 1,0 -2.2,0M671.8,456.2a0.9,0.9 0 1,0 1.7,0a0.9,0.9 0 1,0 -1.7,0M667.3,506.9a1.2,1.2 0 1,0 2.3,0a1.2,1.2 0 1,0 -2.3,0M686.3,474.4a0.8,0.8 0 1,0 1.7,0a0.8,0.8 0 1,0 -1.7,0M688.5,481.4a1.2,1.2 0 1,0 2.4,0a1.2,1.2 0 1,0 -2.4,0M693.9,473.3a0.5,0.5 0 1,0 1.1,0a0.5,0.5 0 1,0 -1.1,0M679.3,502.8a0.6,0.6 0 1,0 1.2,0a0.6,0.6 0 1,0 -1.2,0M659.7,501.7a1.1,1.1 0 1,0 2.2,0a1.1,1.1 0 1,0 -2.2,0M678.8,469.3a0.8,0.8 0 1,0 1.6,0a0.8,0.8 0 1,0 -1.6,0M697.6,496.8a0.8,0.8 0 1,0 1.6,0a0.8,0.8 0 1,0 -1.6,0M675.5,464.7a0.8,0.8 0 1,0 1.6,0a0.8,0.8 0 1,0 -1.6,0M679.2,462.2a0.7,0.7 0 1,0 1.3,0a0.7,0.7 0 1,0 -1.3,0M663.3,478a1.1,1.1 0 1,0 2.2,0a1.1,1.1 0 1,0 -2.2,0M655,485.1a1,1 0 1,0 2,0a1,1 0 1,0 -2,0M673.8,455.4a0.7,0.7 0 1,0 1.3,0a0.7,0.7 0 1,0 -1.3,0M670.6,461.1a0.8,0.8 0 1,0 1.5,0a0.8,0.8 0 1,0 -1.5,0M680.6,458.2a1,1 0 1,0 2,0a1,1 0 1,0 -2,0M671.7,497.9a1,1 0 1,0 2,0a1,1 0 1,0 -2,0M662.9,511.5a0.7,0.7 0 1,0 1.5,0a0.7,0.7 0 1,0 -1.5,0M695.4,486.6a1.2,1.2 0 1,0 2.3,0a1.2,1.2 0 1,0 -2.3,0M656.4,478.7a1,1 0 1,0 2,0a1,1 0 1,0 -2,0M693,498.4a1,1 0 1,0 1.9,0a1,1 0 1,0 -1.9,0M695.2,470.7a0.8,0.8 0 1,0 1.6,0a0.8,0.8 0 1,0 -1.6,0M696,468.6a0.6,0.6 0 1,0 1.2,0a0.6,0.6 0 1,0 -1.2,0M676.1,474.4a0.8,0.8 0 1,0 1.6,0a0.8,0.8 0 1,0 -1.6,0M674.2,516.2a1,1 0 1,0 2,0a1,1 0 1,0 -2,0M695.5,506.1a0.8,0.8 0 1,0 1.7,0a0.8,0.8 0 1,0 -1.7,0M677.9,512.3a0.6,0.6 0 1,0 1.2,0a0.6,0.6 0 1,0 -1.2,0M680.3,503.8a0.7,0.7 0 1,0 1.5,0a0.7,0.7 0 1,0 -1.5,0M656.5,467.9a0.7,0.7 0 1,0 1.5,0a0.7,0.7 0 1,0 -1.5,0M666.6,506.6a1.2,1.2 0 1,0 2.3,0a1.2,1.2 0 1,0 -2.3,0M680.6,513.2a0.7,0.7 0 1,0 1.3,0a0.7,0.7 0 1,0 -1.3,0M649.8,470a0.6,0.6 0 1,0 1.2,0a0.6,0.6 0 1,0 -1.2,0M660.6,460.4a1.1,1.1 0 1,0 2.3,0a1.1,1.1 0 1,0 -2.3,0M673.5,490.5a0.7,0.7 0 1,0 1.3,0a0.7,0.7 0 1,0 -1.3,0M669.8,455.6a1,1 0 1,0 2,0a1,1 0 1,0 -2,0" fill="#f23c22" opacity="0.4"/><path d="M652.9,506.2a1,1 0 1,0 1.9,0a1,1 0 1,0 -1.9,0M703.3,486.7a0.8,0.8 0 1,0 1.6,0a0.8,0.8 0 1,0 -1.6,0M677.2,504.3a1,1 0 1,0 1.9,0a1,1 0 1,0 -1.9,0M698,466.2a0.7,0.7 0 1,0 1.4,0a0.7,0.7 0 1,0 -1.4,0M688.9,483.8a0.7,0.7 0 1,0 1.3,0a0.7,0.7 0 1,0 -1.3,0M660.5,459a1,1 0 1,0 1.9,0a1,1 0 1,0 -1.9,0M696.6,469.5a0.9,0.9 0 1,0 1.7,0a0.9,0.9 0 1,0 -1.7,0M676.1,466.7a0.7,0.7 0 1,0 1.4,0a0.7,0.7 0 1,0 -1.4,0M686.5,505a1.1,1.1 0 1,0 2.2,0a1.1,1.1 0 1,0 -2.2,0M684.7,474.9a0.7,0.7 0 1,0 1.4,0a0.7,0.7 0 1,0 -1.4,0M676.3,468.5a0.6,0.6 0 1,0 1.2,0a0.6,0.6 0 1,0 -1.2,0M653.5,483.1a1,1 0 1,0 2.1,0a1,1 0 1,0 -2.1,0M701.4,491.3a0.7,0.7 0 1,0 1.4,0a0.7,0.7 0 1,0 -1.4,0M680.2,469.1a0.8,0.8 0 1,0 1.6,0a0.8,0.8 0 1,0 -1.6,0M681.5,474.1a1,1 0 1,0 2.1,0a1,1 0 1,0 -2.1,0M686.5,499.3a0.7,0.7 0 1,0 1.3,0a0.7,0.7 0 1,0 -1.3,0M663.7,506.6a0.8,0.8 0 1,0 1.6,0a0.8,0.8 0 1,0 -1.6,0M649.4,484.1a0.7,0.7 0 1,0 1.3,0a0.7,0.7 0 1,0 -1.3,0M663.2,508.2a1.1,1.1 0 1,0 2.2,0a1.1,1.1 0 1,0 -2.2,0M669.7,464.3a1,1 0 1,0 1.9,0a1,1 0 1,0 -1.9,0M647.2,485.2a0.9,0.9 0 1,0 1.8,0a0.9,0.9 0 1,0 -1.8,0M676.3,463.5a0.9,0.9 0 1,0 1.7,0a0.9,0.9 0 1,0 -1.7,0M663.2,504.6a0.8,0.8 0 1,0 1.5,0a0.8,0.8 0 1,0 -1.5,0M670.5,506.7a0.6,0.6 0 1,0 1.1,0a0.6,0.6 0 1,0 -1.1,0M675.1,509.1a0.8,0.8 0 1,0 1.5,0a0.8,0.8 0 1,0 -1.5,0M664.4,471.5a0.8,0.8 0 1,0 1.5,0a0.8,0.8 0 1,0 -1.5,0M674.5,516.9a1,1 0 1,0 2.1,0a1,1 0 1,0 -2.1,0M674.1,487.5a1,1 0 1,0 2.1,0a1,1 0 1,0 -2.1,0M669.6,483.9a0.5,0.5 0 1,0 1.1,0a0.5,0.5 0 1,0 -1.1,0M658.5,490.8a0.7,0.7 0 1,0 1.4,0a0.7,0.7 0 1,0 -1.4,0M681.3,489.7a0.7,0.7 0 1,0 1.3,0a0.7,0.7 0 1,0 -1.3,0M687.3,511.6a1.2,1.2 0 1,0 2.4,0a1.2,1.2 0 1,0 -2.4,0M673.5,457.8a1.2,1.2 0 1,0 2.4,0a1.2,1.2 0 1,0 -2.4,0M670.6,493.2a0.8,0.8 0 1,0 1.6,0a0.8,0.8 0 1,0 -1.6,0M693.5,510.3a1.2,1.2 0 1,0 2.4,0a1.2,1.2 0 1,0 -2.4,0M681.9,480.6a1.1,1.1 0 1,0 2.2,0a1.1,1.1 0 1,0 -2.2,0M675.3,508.9a1.1,1.1 0 1,0 2.2,0a1.1,1.1 0 1,0 -2.2,0M699.6,487.8a0.8,0.8 0 1,0 1.7,0a0.8,0.8 0 1,0 -1.7,0M667.4,477.5a0.8,0.8 0 1,0 1.5,0a0.8,0.8 0 1,0 -1.5,0M696.2,501.3a1.1,1.1 0 1,0 2.2,0a1.1,1.1 0 1,0 -2.2,0M659.5,482.8a0.5,0.5 0 1,0 1.1,0a0.5,0.5 0 1,0 -1.1,0M659.3,500.3a1,1 0 1,0 2,0a1,1 0 1,0 -2,0M654.1,504.6a0.8,0.8 0 1,0 1.5,0a0.8,0.8 0 1,0 -1.5,0M669.9,474a0.9,0.9 0 1,0 1.8,0a0.9,0.9 0 1,0 -1.8,0M645.8,489.8a1.2,1.2 0 1,0 2.3,0a1.2,1.2 0 1,0 -2.3,0M649.2,495a1,1 0 1,0 1.9,0a1,1 0 1,0 -1.9,0M694.4,488.7a1.1,1.1 0 1,0 2.1,0a1.1,1.1 0 1,0 -2.1,0M680.1,467a0.9,0.9 0 1,0 1.7,0a0.9,0.9 0 1,0 -1.7,0M678.7,509.5a0.9,0.9 0 1,0 1.9,0a0.9,0.9 0 1,0 -1.9,0M698.6,470.2a0.9,0.9 0 1,0 1.9,0a0.9,0.9 0 1,0 -1.9,0M681.2,462.1a0.7,0.7 0 1,0 1.5,0a0.7,0.7 0 1,0 -1.5,0M667.9,471.5a0.7,0.7 0 1,0 1.5,0a0.7,0.7 0 1,0 -1.5,0M689.7,508.6a1.1,1.1 0 1,0 2.3,0a1.1,1.1 0 1,0 -2.3,0M667.7,457.5a0.6,0.6 0 1,0 1.3,0a0.6,0.6 0 1,0 -1.3,0M645,490.3a0.7,0.7 0 1,0 1.5,0a0.7,0.7 0 1,0 -1.5,0M700,480.3a0.6,0.6 0 1,0 1.2,0a0.6,0.6 0 1,0 -1.2,0M675.4,485.4a0.6,0.6 0 1,0 1.2,0a0.6,0.6 0 1,0 -1.2,0M647.1,489a1.1,1.1 0 1,0 2.2,0a1.1,1.1 0 1,0 -2.2,0M698.9,486a1,1 0 1,0 1.9,0a1,1 0 1,0 -1.9,0M646.7,495.3a1.1,1.1 0 1,0 2.2,0a1.1,1.1 0 1,0 -2.2,0M694.6,478.5a1.1,1.1 0 1,0 2.3,0a1.1,1.1 0 1,0 -2.3,0M663.9,461.4a0.9,0.9 0 1,0 1.8,0a0.9,0.9 0 1,0 -1.8,0M663.3,463.7a1,1 0 1,0 2.1,0a1,1 0 1,0 -2.1,0M667.8,465.3a1.1,1.1 0 1,0 2.1,0a1.1,1.1 0 1,0 -2.1,0M684.6,493.3a0.6,0.6 0 1,0 1.2,0a0.6,0.6 0 1,0 -1.2,0M658,491.9a0.6,0.6 0 1,0 1.1,0a0.6,0.6 0 1,0 -1.1,0M661.3,497.2a0.5,0.5 0 1,0 1.1,0a0.5,0.5 0 1,0 -1.1,0M653.4,508a0.9,0.9 0 1,0 1.9,0a0.9,0.9 0 1,0 -1.9,0M673.8,461.7a0.5,0.5 0 1,0 1,0a0.5,0.5 0 1,0 -1,0M684.9,458.8a1.1,1.1 0 1,0 2.2,0a1.1,1.1 0 1,0 -2.2,0M697.4,472.4a0.6,0.6 0 1,0 1.2,0a0.6,0.6 0 1,0 -1.2,0M648.9,479.2a1.1,1.1 0 1,0 2.1,0a1.1,1.1 0 1,0 -2.1,0M657.5,511a0.7,0.7 0 1,0 1.5,0a0.7,0.7 0 1,0 -1.5,0M657.9,465.3a0.6,0.6 0 1,0 1.1,0a0.6,0.6 0 1,0 -1.1,0M665.5,504.6a0.7,0.7 0 1,0 1.3,0a0.7,0.7 0 1,0 -1.3,0M690.8,487.1a0.6,0.6 0 1,0 1.2,0a0.6,0.6 0 1,0 -1.2,0M681.8,463a0.7,0.7 0 1,0 1.4,0a0.7,0.7 0 1,0 -1.4,0M665.7,463.2a1.1,1.1 0 1,0 2.2,0a1.1,1.1 0 1,0 -2.2,0M649.5,473.9a0.6,0.6 0 1,0 1.2,0a0.6,0.6 0 1,0 -1.2,0M689.4,480.5a0.9,0.9 0 1,0 1.9,0a0.9,0.9 0 1,0 -1.9,0M695.6,500.8a0.8,0.8 0 1,0 1.7,0a0.8,0.8 0 1,0 -1.7,0M672.1,483a1,1 0 1,0 2.1,0a1,1 0 1,0 -2.1,0M665.7,499.1a0.7,0.7 0 1,0 1.5,0a0.7,0.7 0 1,0 -1.5,0M678.1,489.1a0.6,0.6 0 1,0 1.3,0a0.6,0.6 0 1,0 -1.3,0M693.4,501.1a1,1 0 1,0 2.1,0a1,1 0 1,0 -2.1,0M659.7,507.6a1.1,1.1 0 1,0 2.3,0a1.1,1.1 0 1,0 -2.3,0M700.4,498.4a0.8,0.8 0 1,0 1.5,0a0.8,0.8 0 1,0 -1.5,0M646.8,489.1a0.7,0.7 0 1,0 1.4,0a0.7,0.7 0 1,0 -1.4,0M670.8,496.4a0.8,0.8 0 1,0 1.7,0a0.8,0.8 0 1,0 -1.7,0M696,483.1a0.6,0.6 0 1,0 1.3,0a0.6,0.6 0 1,0 -1.3,0M663,462.4a0.8,0.8 0 1,0 1.7,0a0.8,0.8 0 1,0 -1.7,0M647.9,492.5a1.1,1.1 0 1,0 2.2,0a1.1,1.1 0 1,0 -2.2,0M670.5,466.6a0.7,0.7 0 1,0 1.3,0a0.7,0.7 0 1,0 -1.3,0M676.4,458.4a0.6,0.6 0 1,0 1.1,0a0.6,0.6 0 1,0 -1.1,0M659.5,474.6a0.6,0.6 0 1,0 1.1,0a0.6,0.6 0 1,0 -1.1,0M665.6,495.2a0.8,0.8 0 1,0 1.7,0a0.8,0.8 0 1,0 -1.7,0M684.5,477.9a1,1 0 1,0 1.9,0a1,1 0 1,0 -1.9,0M672.4,473.7a0.8,0.8 0 1,0 1.7,0a0.8,0.8 0 1,0 -1.7,0M680.2,508.7a0.6,0.6 0 1,0 1.2,0a0.6,0.6 0 1,0 -1.2,0M686.5,488.5a0.8,0.8 0 1,0 1.5,0a0.8,0.8 0 1,0 -1.5,0M688.6,491.4a1.1,1.1 0 1,0 2.1,0a1.1,1.1 0 1,0 -2.1,0M647.7,486.6a0.7,0.7 0 1,0 1.5,0a0.7,0.7 0 1,0 -1.5,0M663.2,491.7a1.1,1.1 0 1,0 2.2,0a1.1,1.1 0 1,0 -2.2,0M664.1,471.8a0.6,0.6 0 1,0 1.2,0a0.6,0.6 0 1,0 -1.2,0M687,491.3a1.2,1.2 0 1,0 2.3,0a1.2,1.2 0 1,0 -2.3,0M702.3,488.2a1,1 0 1,0 2.1,0a1,1 0 1,0 -2.1,0M698.1,472.6a1,1 0 1,0 2.1,0a1,1 0 1,0 -2.1,0M681.1,463.3a1.2,1.2 0 1,0 2.3,0a1.2,1.2 0 1,0 -2.3,0M675.8,504.3a0.9,0.9 0 1,0 1.8,0a0.9,0.9 0 1,0 -1.8,0M662.2,504.7a0.6,0.6 0 1,0 1.1,0a0.6,0.6 0 1,0 -1.1,0M675.2,512a1.1,1.1 0 1,0 2.2,0a1.1,1.1 0 1,0 -2.2,0M684.5,471.9a1.1,1.1 0 1,0 2.1,0a1.1,1.1 0 1,0 -2.1,0M691.4,474.5a0.9,0.9 0 1,0 1.9,0a0.9,0.9 0 1,0 -1.9,0M682.4,500.6a0.9,0.9 0 1,0 1.9,0a0.9,0.9 0 1,0 -1.9,0M696.1,472.9a1.2,1.2 0 1,0 2.4,0a1.2,1.2 0 1,0 -2.4,0M671.9,475a0.6,0.6 0 1,0 1.2,0a0.6,0.6 0 1,0 -1.2,0M680.3,476.2a0.8,0.8 0 1,0 1.7,0a0.8,0.8 0 1,0 -1.7,0M661.7,509.9a0.9,0.9 0 1,0 1.9,0a0.9,0.9 0 1,0 -1.9,0M703,487.7a0.7,0.7 0 1,0 1.4,0a0.7,0.7 0 1,0 -1.4,0M671.6,508.2a0.6,0.6 0 1,0 1.2,0a0.6,0.6 0 1,0 -1.2,0M663.7,481.6a0.9,0.9 0 1,0 1.7,0a0.9,0.9 0 1,0 -1.7,0M705.1,483.9a0.8,0.8 0 1,0 1.6,0a0.8,0.8 0 1,0 -1.6,0M655.2,486.1a0.6,0.6 0 1,0 1.2,0a0.6,0.6 0 1,0 -1.2,0M680.3,503.9a0.9,0.9 0 1,0 1.8,0a0.9,0.9 0 1,0 -1.8,0M676.9,456.2a0.5,0.5 0 1,0 1.1,0a0.5,0.5 0 1,0 -1.1,0M674.2,507.2a0.6,0.6 0 1,0 1.2,0a0.6,0.6 0 1,0 -1.2,0M668.1,462.3a0.5,0.5 0 1,0 1.1,0a0.5,0.5 0 1,0 -1.1,0M702.5,484.9a0.7,0.7 0 1,0 1.4,0a0.7,0.7 0 1,0 -1.4,0M656.5,485.1a0.5,0.5 0 1,0 1,0a0.5,0.5 0 1,0 -1,0M693.4,472.9a1.1,1.1 0 1,0 2.2,0a1.1,1.1 0 1,0 -2.2,0M681.9,499.7a1.1,1.1 0 1,0 2.1,0a1.1,1.1 0 1,0 -2.1,0M673.8,505.2a0.8,0.8 0 1,0 1.5,0a0.8,0.8 0 1,0 -1.5,0M699.5,468.7a0.9,0.9 0 1,0 1.9,0a0.9,0.9 0 1,0 -1.9,0M658.8,510.2a1.2,1.2 0 1,0 2.4,0a1.2,1.2 0 1,0 -2.4,0M663.9,503a0.9,0.9 0 1,0 1.9,0a0.9,0.9 0 1,0 -1.9,0M671.8,510.7a1.2,1.2 0 1,0 2.4,0a1.2,1.2 0 1,0 -2.4,0M648.7,496.5a1.2,1.2 0 1,0 2.4,0a1.2,1.2 0 1,0 -2.4,0M678.1,493a0.5,0.5 0 1,0 1.1,0a0.5,0.5 0 1,0 -1.1,0M655,472.6a0.5,0.5 0 1,0 1.1,0a0.5,0.5 0 1,0 -1.1,0M677.7,501.2a0.9,0.9 0 1,0 1.7,0a0.9,0.9 0 1,0 -1.7,0M659.4,467.3a0.9,0.9 0 1,0 1.7,0a0.9,0.9 0 1,0 -1.7,0M674.9,485.9a0.7,0.7 0 1,0 1.5,0a0.7,0.7 0 1,0 -1.5,0M690.7,479.4a0.8,0.8 0 1,0 1.6,0a0.8,0.8 0 1,0 -1.6,0M671.5,477.6a1.1,1.1 0 1,0 2.2,0a1.1,1.1 0 1,0 -2.2,0M666.4,498.9a0.9,0.9 0 1,0 1.7,0a0.9,0.9 0 1,0 -1.7,0M667.8,464.4a1,1 0 1,0 2,0a1,1 0 1,0 -2,0" fill="#f23c22" opacity="0.5"/><path d="M655.5,462.5a1,1 0 1,0 1.9,0a1,1 0 1,0 -1.9,0M699,469.4a1.2,1.2 0 1,0 2.3,0a1.2,1.2 0 1,0 -2.3,0M678.2,476.6a0.7,0.7 0 1,0 1.5,0a0.7,0.7 0 1,0 -1.5,0M673.4,500.1a1,1 0 1,0 1.9,0a1,1 0 1,0 -1.9,0M645.2,486a0.9,0.9 0 1,0 1.9,0a0.9,0.9 0 1,0 -1.9,0M654.8,497.9a0.8,0.8 0 1,0 1.6,0a0.8,0.8 0 1,0 -1.6,0M666.2,462.3a0.7,0.7 0 1,0 1.3,0a0.7,0.7 0 1,0 -1.3,0M669.1,509.2a1,1 0 1,0 2.1,0a1,1 0 1,0 -2.1,0M675.2,513.2a1.1,1.1 0 1,0 2.3,0a1.1,1.1 0 1,0 -2.3,0M663.8,461.4a0.8,0.8 0 1,0 1.6,0a0.8,0.8 0 1,0 -1.6,0M655.1,484.6a0.8,0.8 0 1,0 1.6,0a0.8,0.8 0 1,0 -1.6,0M694.3,496.6a0.8,0.8 0 1,0 1.5,0a0.8,0.8 0 1,0 -1.5,0M687,512.8a0.7,0.7 0 1,0 1.5,0a0.7,0.7 0 1,0 -1.5,0M675.9,465a0.6,0.6 0 1,0 1.1,0a0.6,0.6 0 1,0 -1.1,0M677.6,512.3a0.9,0.9 0 1,0 1.9,0a0.9,0.9 0 1,0 -1.9,0M663,496.2a1,1 0 1,0 2,0a1,1 0 1,0 -2,0M668.1,459.6a1.1,1.1 0 1,0 2.3,0a1.1,1.1 0 1,0 -2.3,0M666,461.9a0.7,0.7 0 1,0 1.3,0a0.7,0.7 0 1,0 -1.3,0M665.8,470.9a0.6,0.6 0 1,0 1.2,0a0.6,0.6 0 1,0 -1.2,0M661.4,459.3a0.7,0.7 0 1,0 1.4,0a0.7,0.7 0 1,0 -1.4,0M660.7,502.5a1.2,1.2 0 1,0 2.4,0a1.2,1.2 0 1,0 -2.4,0M703.3,498.8a0.9,0.9 0 1,0 1.8,0a0.9,0.9 0 1,0 -1.8,0M672,504.8a0.9,0.9 0 1,0 1.8,0a0.9,0.9 0 1,0 -1.8,0M658.2,477.3a0.8,0.8 0 1,0 1.6,0a0.8,0.8 0 1,0 -1.6,0M673.9,462.3a1,1 0 1,0 2,0a1,1 0 1,0 -2,0M696.2,508.2a0.8,0.8 0 1,0 1.6,0a0.8,0.8 0 1,0 -1.6,0M649.5,471.2a1.1,1.1 0 1,0 2.2,0a1.1,1.1 0 1,0 -2.2,0M674,491.6a0.7,0.7 0 1,0 1.4,0a0.7,0.7 0 1,0 -1.4,0M652,499.4a0.8,0.8 0 1,0 1.5,0a0.8,0.8 0 1,0 -1.5,0M656.5,481.6a0.8,0.8 0 1,0 1.7,0a0.8,0.8 0 1,0 -1.7,0M660.6,500.4a0.7,0.7 0 1,0 1.3,0a0.7,0.7 0 1,0 -1.3,0M694.3,463.6a0.6,0.6 0 1,0 1.3,0a0.6,0.6 0 1,0 -1.3,0M651.5,489.9a0.9,0.9 0 1,0 1.8,0a0.9,0.9 0 1,0 -1.8,0M674.5,485.3a1,1 0 1,0 2.1,0a1,1 0 1,0 -2.1,0M705.2,485.9a0.6,0.6 0 1,0 1.1,0a0.6,0.6 0 1,0 -1.1,0M683.2,487.3a1,1 0 1,0 2,0a1,1 0 1,0 -2,0M692.5,496.6a0.6,0.6 0 1,0 1.2,0a0.6,0.6 0 1,0 -1.2,0M661.5,473.1a0.9,0.9 0 1,0 1.8,0a0.9,0.9 0 1,0 -1.8,0M674.9,512.6a0.8,0.8 0 1,0 1.6,0a0.8,0.8 0 1,0 -1.6,0M675.1,494.5a0.8,0.8 0 1,0 1.7,0a0.8,0.8 0 1,0 -1.7,0M699.3,491.6a0.6,0.6 0 1,0 1.3,0a0.6,0.6 0 1,0 -1.3,0M668.6,490.1a0.8,0.8 0 1,0 1.5,0a0.8,0.8 0 1,0 -1.5,0M660.4,474.7a1,1 0 1,0 2,0a1,1 0 1,0 -2,0M667.5,498.4a0.6,0.6 0 1,0 1.3,0a0.6,0.6 0 1,0 -1.3,0M690.2,510.5a1.1,1.1 0 1,0 2.3,0a1.1,1.1 0 1,0 -2.3,0M674.8,480.7a1,1 0 1,0 2,0a1,1 0 1,0 -2,0M647.2,494.3a1.1,1.1 0 1,0 2.3,0a1.1,1.1 0 1,0 -2.3,0M681.1,503.5a0.8,0.8 0 1,0 1.7,0a0.8,0.8 0 1,0 -1.7,0M690.6,480.8a1,1 0 1,0 2.1,0a1,1 0 1,0 -2.1,0M651.3,477.8a0.9,0.9 0 1,0 1.8,0a0.9,0.9 0 1,0 -1.8,0M667.8,482.6a0.9,0.9 0 1,0 1.9,0a0.9,0.9 0 1,0 -1.9,0M676,508.8a0.8,0.8 0 1,0 1.6,0a0.8,0.8 0 1,0 -1.6,0M653.8,485.5a1.1,1.1 0 1,0 2.2,0a1.1,1.1 0 1,0 -2.2,0M673,506.6a1,1 0 1,0 1.9,0a1,1 0 1,0 -1.9,0M659.1,464.5a0.7,0.7 0 1,0 1.4,0a0.7,0.7 0 1,0 -1.4,0M668.8,503.2a1,1 0 1,0 2.1,0a1,1 0 1,0 -2.1,0M662.5,479.3a0.6,0.6 0 1,0 1.3,0a0.6,0.6 0 1,0 -1.3,0M687.1,475.1a1.1,1.1 0 1,0 2.2,0a1.1,1.1 0 1,0 -2.2,0M657.3,506.4a0.7,0.7 0 1,0 1.4,0a0.7,0.7 0 1,0 -1.4,0M690.4,478.4a0.9,0.9 0 1,0 1.9,0a0.9,0.9 0 1,0 -1.9,0M654.8,468a0.7,0.7 0 1,0 1.5,0a0.7,0.7 0 1,0 -1.5,0M670,513a0.7,0.7 0 1,0 1.5,0a0.7,0.7 0 1,0 -1.5,0M677.3,462.8a0.9,0.9 0 1,0 1.7,0a0.9,0.9 0 1,0 -1.7,0M690.7,460a0.9,0.9 0 1,0 1.9,0a0.9,0.9 0 1,0 -1.9,0M704.2,480.8a1.2,1.2 0 1,0 2.4,0a1.2,1.2 0 1,0 -2.4,0M686.7,476.8a0.8,0.8 0 1,0 1.6,0a0.8,0.8 0 1,0 -1.6,0M683.4,479.5a1.1,1.1 0 1,0 2.2,0a1.1,1.1 0 1,0 -2.2,0M682.1,515a0.9,0.9 0 1,0 1.7,0a0.9,0.9 0 1,0 -1.7,0M688.5,467.9a0.9,0.9 0 1,0 1.8,0a0.9,0.9 0 1,0 -1.8,0M678.2,480.9a0.7,0.7 0 1,0 1.4,0a0.7,0.7 0 1,0 -1.4,0M674,488a0.5,0.5 0 1,0 1.1,0a0.5,0.5 0 1,0 -1.1,0M651.4,477.8a0.5,0.5 0 1,0 1,0a0.5,0.5 0 1,0 -1,0M682.3,497.5a0.6,0.6 0 1,0 1.2,0a0.6,0.6 0 1,0 -1.2,0M660.5,503.4a1,1 0 1,0 1.9,0a1,1 0 1,0 -1.9,0M652.3,470.3a1,1 0 1,0 2,0a1,1 0 1,0 -2,0M657.4,504.5a1,1 0 1,0 2.1,0a1,1 0 1,0 -2.1,0M683.3,494.9a0.8,0.8 0 1,0 1.7,0a0.8,0.8 0 1,0 -1.7,0M670.4,483a0.9,0.9 0 1,0 1.9,0a0.9,0.9 0 1,0 -1.9,0M666.8,501a1.1,1.1 0 1,0 2.1,0a1.1,1.1 0 1,0 -2.1,0M694.7,470.3a1,1 0 1,0 2.1,0a1,1 0 1,0 -2.1,0M676.2,461.7a1.1,1.1 0 1,0 2.2,0a1.1,1.1 0 1,0 -2.2,0M665.2,513.1a0.8,0.8 0 1,0 1.6,0a0.8,0.8 0 1,0 -1.6,0M680.9,491.3a0.8,0.8 0 1,0 1.6,0a0.8,0.8 0 1,0 -1.6,0M683.6,487.9a0.7,0.7 0 1,0 1.5,0a0.7,0.7 0 1,0 -1.5,0M655.8,503.5a0.9,0.9 0 1,0 1.9,0a0.9,0.9 0 1,0 -1.9,0M662.9,498.8a0.6,0.6 0 1,0 1.1,0a0.6,0.6 0 1,0 -1.1,0M676.6,457.1a1.1,1.1 0 1,0 2.1,0a1.1,1.1 0 1,0 -2.1,0M686.9,500.5a0.7,0.7 0 1,0 1.4,0a0.7,0.7 0 1,0 -1.4,0M700.5,499.3a0.7,0.7 0 1,0 1.5,0a0.7,0.7 0 1,0 -1.5,0M648.5,480.2a0.6,0.6 0 1,0 1.2,0a0.6,0.6 0 1,0 -1.2,0M662.9,477a1.1,1.1 0 1,0 2.2,0a1.1,1.1 0 1,0 -2.2,0M682.8,496.6a0.8,0.8 0 1,0 1.6,0a0.8,0.8 0 1,0 -1.6,0M655.8,485.4a1,1 0 1,0 2,0a1,1 0 1,0 -2,0M655.5,490.3a0.8,0.8 0 1,0 1.5,0a0.8,0.8 0 1,0 -1.5,0M649.9,495a0.9,0.9 0 1,0 1.7,0a0.9,0.9 0 1,0 -1.7,0M683.7,469.4a1,1 0 1,0 1.9,0a1,1 0 1,0 -1.9,0M652.5,472.6a0.7,0.7 0 1,0 1.5,0a0.7,0.7 0 1,0 -1.5,0M647.1,488.4a0.9,0.9 0 1,0 1.8,0a0.9,0.9 0 1,0 -1.8,0M678.1,507.5a1.1,1.1 0 1,0 2.1,0a1.1,1.1 0 1,0 -2.1,0M681.9,484.2a0.6,0.6 0 1,0 1.3,0a0.6,0.6 0 1,0 -1.3,0M672.5,503.8a1.2,1.2 0 1,0 2.3,0a1.2,1.2 0 1,0 -2.3,0M684.4,511.3a1.1,1.1 0 1,0 2.3,0a1.1,1.1 0 1,0 -2.3,0M650.5,470a1.1,1.1 0 1,0 2.2,0a1.1,1.1 0 1,0 -2.2,0M694.5,469.3a1,1 0 1,0 2,0a1,1 0 1,0 -2,0M688.7,491.6a1,1 0 1,0 2,0a1,1 0 1,0 -2,0M675.1,507.7a0.7,0.7 0 1,0 1.4,0a0.7,0.7 0 1,0 -1.4,0M657.8,480.5a0.8,0.8 0 1,0 1.7,0a0.8,0.8 0 1,0 -1.7,0M668.2,483.3a0.6,0.6 0 1,0 1.2,0a0.6,0.6 0 1,0 -1.2,0M700.2,472.7a0.6,0.6 0 1,0 1.3,0a0.6,0.6 0 1,0 -1.3,0M690,469.7a1,1 0 1,0 2,0a1,1 0 1,0 -2,0M680.3,510.9a1,1 0 1,0 1.9,0a1,1 0 1,0 -1.9,0M684.4,501.3a1.1,1.1 0 1,0 2.1,0a1.1,1.1 0 1,0 -2.1,0" fill="#f23c22" opacity="0.6"/><path d="M663.2,466.8a1.1,1.1 0 1,0 2.2,0a1.1,1.1 0 1,0 -2.2,0M701.1,474.1a0.8,0.8 0 1,0 1.5,0a0.8,0.8 0 1,0 -1.5,0M662.6,491.9a0.9,0.9 0 1,0 1.8,0a0.9,0.9 0 1,0 -1.8,0M701,483.6a1.1,1.1 0 1,0 2.2,0a1.1,1.1 0 1,0 -2.2,0M699.6,495a0.5,0.5 0 1,0 1.1,0a0.5,0.5 0 1,0 -1.1,0M664.9,478.6a1.1,1.1 0 1,0 2.3,0a1.1,1.1 0 1,0 -2.3,0M679.8,492.3a0.7,0.7 0 1,0 1.3,0a0.7,0.7 0 1,0 -1.3,0M674,465.9a0.6,0.6 0 1,0 1.1,0a0.6,0.6 0 1,0 -1.1,0M669.5,457.6a0.7,0.7 0 1,0 1.5,0a0.7,0.7 0 1,0 -1.5,0M694.1,487.6a1.1,1.1 0 1,0 2.2,0a1.1,1.1 0 1,0 -2.2,0M686.6,503.8a0.8,0.8 0 1,0 1.7,0a0.8,0.8 0 1,0 -1.7,0M677.7,469.7a0.9,0.9 0 1,0 1.8,0a0.9,0.9 0 1,0 -1.8,0M681.2,491.8a0.8,0.8 0 1,0 1.6,0a0.8,0.8 0 1,0 -1.6,0M675.6,501.5a0.6,0.6 0 1,0 1.2,0a0.6,0.6 0 1,0 -1.2,0M667.9,479.8a0.6,0.6 0 1,0 1.1,0a0.6,0.6 0 1,0 -1.1,0M662.6,482.7a0.9,0.9 0 1,0 1.9,0a0.9,0.9 0 1,0 -1.9,0M649.8,497.6a0.7,0.7 0 1,0 1.5,0a0.7,0.7 0 1,0 -1.5,0M675.8,510.5a1.1,1.1 0 1,0 2.2,0a1.1,1.1 0 1,0 -2.2,0M667.6,495a0.9,0.9 0 1,0 1.7,0a0.9,0.9 0 1,0 -1.7,0M675.1,501.6a1.1,1.1 0 1,0 2.3,0a1.1,1.1 0 1,0 -2.3,0M701.9,502a0.6,0.6 0 1,0 1.2,0a0.6,0.6 0 1,0 -1.2,0M683,470.2a1,1 0 1,0 2,0a1,1 0 1,0 -2,0M698.4,501.6a1.1,1.1 0 1,0 2.1,0a1.1,1.1 0 1,0 -2.1,0M671.5,485a1,1 0 1,0 1.9,0a1,1 0 1,0 -1.9,0M687.7,482.9a1.2,1.2 0 1,0 2.3,0a1.2,1.2 0 1,0 -2.3,0M682.4,464.2a0.9,0.9 0 1,0 1.8,0a0.9,0.9 0 1,0 -1.8,0M696,499.7a0.6,0.6 0 1,0 1.1,0a0.6,0.6 0 1,0 -1.1,0M644.9,488a0.6,0.6 0 1,0 1.2,0a0.6,0.6 0 1,0 -1.2,0M683.1,488.1a0.8,0.8 0 1,0 1.6,0a0.8,0.8 0 1,0 -1.6,0M646.1,493.7a1.1,1.1 0 1,0 2.2,0a1.1,1.1 0 1,0 -2.2,0M703,499.7a0.5,0.5 0 1,0 1,0a0.5,0.5 0 1,0 -1,0M677.4,499.9a0.8,0.8 0 1,0 1.7,0a0.8,0.8 0 1,0 -1.7,0M678.8,509a0.8,0.8 0 1,0 1.6,0a0.8,0.8 0 1,0 -1.6,0M665.3,467a0.7,0.7 0 1,0 1.3,0a0.7,0.7 0 1,0 -1.3,0M655.1,465.7a0.9,0.9 0 1,0 1.8,0a0.9,0.9 0 1,0 -1.8,0M694.9,505.7a1.1,1.1 0 1,0 2.2,0a1.1,1.1 0 1,0 -2.2,0M701.6,490.3a0.8,0.8 0 1,0 1.6,0a0.8,0.8 0 1,0 -1.6,0M652.6,481.8a1,1 0 1,0 1.9,0a1,1 0 1,0 -1.9,0M662.2,483.1a0.8,0.8 0 1,0 1.6,0a0.8,0.8 0 1,0 -1.6,0M656.4,467.6a0.6,0.6 0 1,0 1.2,0a0.6,0.6 0 1,0 -1.2,0M694.9,489a0.7,0.7 0 1,0 1.4,0a0.7,0.7 0 1,0 -1.4,0M699.6,492.1a0.7,0.7 0 1,0 1.3,0a0.7,0.7 0 1,0 -1.3,0M681.7,465.3a1,1 0 1,0 1.9,0a1,1 0 1,0 -1.9,0M654.1,493a0.8,0.8 0 1,0 1.6,0a0.8,0.8 0 1,0 -1.6,0M689.6,503.3a1.1,1.1 0 1,0 2.3,0a1.1,1.1 0 1,0 -2.3,0M696.3,503.3a0.8,0.8 0 1,0 1.6,0a0.8,0.8 0 1,0 -1.6,0M655.1,480.2a1.1,1.1 0 1,0 2.2,0a1.1,1.1 0 1,0 -2.2,0M674.1,473.9a1,1 0 1,0 2.1,0a1,1 0 1,0 -2.1,0M669.2,475.6a1.2,1.2 0 1,0 2.4,0a1.2,1.2 0 1,0 -2.4,0M653.2,501.1a0.8,0.8 0 1,0 1.5,0a0.8,0.8 0 1,0 -1.5,0M690.3,505.7a0.7,0.7 0 1,0 1.4,0a0.7,0.7 0 1,0 -1.4,0M693.9,498.4a1.1,1.1 0 1,0 2.3,0a1.1,1.1 0 1,0 -2.3,0M650.2,500.6a0.9,0.9 0 1,0 1.8,0a0.9,0.9 0 1,0 -1.8,0M666.8,506a0.6,0.6 0 1,0 1.3,0a0.6,0.6 0 1,0 -1.3,0M680,510.3a1.1,1.1 0 1,0 2.1,0a1.1,1.1 0 1,0 -2.1,0M698.1,506.2a0.7,0.7 0 1,0 1.4,0a0.7,0.7 0 1,0 -1.4,0M674.2,471.1a0.5,0.5 0 1,0 1.1,0a0.5,0.5 0 1,0 -1.1,0M671,473.8a0.6,0.6 0 1,0 1.2,0a0.6,0.6 0 1,0 -1.2,0M694.8,473.5a0.6,0.6 0 1,0 1.3,0a0.6,0.6 0 1,0 -1.3,0M685,489.3a1.2,1.2 0 1,0 2.4,0a1.2,1.2 0 1,0 -2.4,0M682.1,504.4a0.9,0.9 0 1,0 1.7,0a0.9,0.9 0 1,0 -1.7,0M666.3,485.7a1,1 0 1,0 2,0a1,1 0 1,0 -2,0M657.9,469.4a0.6,0.6 0 1,0 1.2,0a0.6,0.6 0 1,0 -1.2,0M661.7,472.9a1,1 0 1,0 2,0a1,1 0 1,0 -2,0M670.3,478.8a0.9,0.9 0 1,0 1.9,0a0.9,0.9 0 1,0 -1.9,0M674.6,459.2a1.1,1.1 0 1,0 2.1,0a1.1,1.1 0 1,0 -2.1,0M665.9,485.2a0.8,0.8 0 1,0 1.5,0a0.8,0.8 0 1,0 -1.5,0M661.4,472.9a0.9,0.9 0 1,0 1.7,0a0.9,0.9 0 1,0 -1.7,0M699,483.9a0.7,0.7 0 1,0 1.4,0a0.7,0.7 0 1,0 -1.4,0M680,506.8a1,1 0 1,0 2,0a1,1 0 1,0 -2,0M667.8,513a1,1 0 1,0 1.9,0a1,1 0 1,0 -1.9,0M678.2,462.1a0.9,0.9 0 1,0 1.8,0a0.9,0.9 0 1,0 -1.8,0M681.1,456.5a0.9,0.9 0 1,0 1.8,0a0.9,0.9 0 1,0 -1.8,0M697.5,499.4a1,1 0 1,0 2,0a1,1 0 1,0 -2,0M677.1,480.5a0.8,0.8 0 1,0 1.6,0a0.8,0.8 0 1,0 -1.6,0M652,476a0.7,0.7 0 1,0 1.4,0a0.7,0.7 0 1,0 -1.4,0M683.5,502.1a1,1 0 1,0 2,0a1,1 0 1,0 -2,0M669.6,456.3a0.7,0.7 0 1,0 1.4,0a0.7,0.7 0 1,0 -1.4,0M671.7,474.7a0.8,0.8 0 1,0 1.5,0a0.8,0.8 0 1,0 -1.5,0M690,472.9a1,1 0 1,0 2,0a1,1 0 1,0 -2,0M674,481.8a0.6,0.6 0 1,0 1.2,0a0.6,0.6 0 1,0 -1.2,0M656.7,485.2a0.9,0.9 0 1,0 1.8,0a0.9,0.9 0 1,0 -1.8,0M704.5,489.6a0.6,0.6 0 1,0 1.1,0a0.6,0.6 0 1,0 -1.1,0M696.5,498.1a0.8,0.8 0 1,0 1.7,0a0.8,0.8 0 1,0 -1.7,0M699.4,487a0.6,0.6 0 1,0 1.1,0a0.6,0.6 0 1,0 -1.1,0M668,487.5a1.1,1.1 0 1,0 2.2,0a1.1,1.1 0 1,0 -2.2,0M662.6,468.1a0.8,0.8 0 1,0 1.7,0a0.8,0.8 0 1,0 -1.7,0M653.1,500.1a0.6,0.6 0 1,0 1.3,0a0.6,0.6 0 1,0 -1.3,0M691.3,481.5a1.1,1.1 0 1,0 2.1,0a1.1,1.1 0 1,0 -2.1,0M672.5,459a1,1 0 1,0 1.9,0a1,1 0 1,0 -1.9,0M655.7,480.3a0.9,0.9 0 1,0 1.9,0a0.9,0.9 0 1,0 -1.9,0M686.2,493.9a1.1,1.1 0 1,0 2.2,0a1.1,1.1 0 1,0 -2.2,0M650.5,489.7a1.2,1.2 0 1,0 2.4,0a1.2,1.2 0 1,0 -2.4,0M678.7,478.1a0.8,0.8 0 1,0 1.6,0a0.8,0.8 0 1,0 -1.6,0M665.1,472.4a0.5,0.5 0 1,0 1.1,0a0.5,0.5 0 1,0 -1.1,0M656.3,462.6a0.9,0.9 0 1,0 1.7,0a0.9,0.9 0 1,0 -1.7,0M670.9,476a0.8,0.8 0 1,0 1.6,0a0.8,0.8 0 1,0 -1.6,0M688.3,504.8a0.7,0.7 0 1,0 1.5,0a0.7,0.7 0 1,0 -1.5,0M687.3,510.6a1.2,1.2 0 1,0 2.3,0a1.2,1.2 0 1,0 -2.3,0M671.5,477.1a0.7,0.7 0 1,0 1.4,0a0.7,0.7 0 1,0 -1.4,0M697.5,474.8a0.9,0.9 0 1,0 1.8,0a0.9,0.9 0 1,0 -1.8,0M703.3,475.2a1,1 0 1,0 2.1,0a1,1 0 1,0 -2.1,0M682,487.4a1.2,1.2 0 1,0 2.4,0a1.2,1.2 0 1,0 -2.4,0M681.9,496.9a0.5,0.5 0 1,0 1,0a0.5,0.5 0 1,0 -1,0M664.5,484a0.7,0.7 0 1,0 1.4,0a0.7,0.7 0 1,0 -1.4,0M660,482.5a0.7,0.7 0 1,0 1.5,0a0.7,0.7 0 1,0 -1.5,0M689.5,511.2a1.1,1.1 0 1,0 2.1,0a1.1,1.1 0 1,0 -2.1,0M702.8,489.3a0.8,0.8 0 1,0 1.7,0a0.8,0.8 0 1,0 -1.7,0M658.8,476.5a0.6,0.6 0 1,0 1.1,0a0.6,0.6 0 1,0 -1.1,0M690,512.8a0.6,0.6 0 1,0 1.3,0a0.6,0.6 0 1,0 -1.3,0M685.4,463a0.9,0.9 0 1,0 1.7,0a0.9,0.9 0 1,0 -1.7,0M692.8,505.9a1,1 0 1,0 2,0a1,1 0 1,0 -2,0M696.5,495a0.9,0.9 0 1,0 1.9,0a0.9,0.9 0 1,0 -1.9,0M671.2,514.2a0.5,0.5 0 1,0 1.1,0a0.5,0.5 0 1,0 -1.1,0M661.5,491.9a0.5,0.5 0 1,0 1.1,0a0.5,0.5 0 1,0 -1.1,0M686.2,470.9a0.7,0.7 0 1,0 1.3,0a0.7,0.7 0 1,0 -1.3,0M672.8,499.5a0.9,0.9 0 1,0 1.8,0a0.9,0.9 0 1,0 -1.8,0M678.3,490.7a1.2,1.2 0 1,0 2.3,0a1.2,1.2 0 1,0 -2.3,0M657.1,494.2a0.6,0.6 0 1,0 1.2,0a0.6,0.6 0 1,0 -1.2,0M694.5,481.7a1.1,1.1 0 1,0 2.2,0a1.1,1.1 0 1,0 -2.2,0M668.3,515.7a0.9,0.9 0 1,0 1.9,0a0.9,0.9 0 1,0 -1.9,0M689,483.3a1.1,1.1 0 1,0 2.1,0a1.1,1.1 0 1,0 -2.1,0M684,496.4a0.6,0.6 0 1,0 1.3,0a0.6,0.6 0 1,0 -1.3,0M654.7,505.6a1,1 0 1,0 2,0a1,1 0 1,0 -2,0M668.3,467.5a0.9,0.9 0 1,0 1.8,0a0.9,0.9 0 1,0 -1.8,0M672.2,499.1a0.9,0.9 0 1,0 1.7,0a0.9,0.9 0 1,0 -1.7,0M652.5,505.4a0.7,0.7 0 1,0 1.3,0a0.7,0.7 0 1,0 -1.3,0" fill="#f23c22" opacity="0.7"/><path d="M687.8,458a1.1,1.1 0 1,0 2.2,0a1.1,1.1 0 1,0 -2.2,0M703.6,490.1a1,1 0 1,0 2,0a1,1 0 1,0 -2,0M663.2,503.4a1.2,1.2 0 1,0 2.3,0a1.2,1.2 0 1,0 -2.3,0M675.6,487.1a0.8,0.8 0 1,0 1.6,0a0.8,0.8 0 1,0 -1.6,0M676.3,491.2a1.2,1.2 0 1,0 2.4,0a1.2,1.2 0 1,0 -2.4,0M673.4,467.9a0.7,0.7 0 1,0 1.5,0a0.7,0.7 0 1,0 -1.5,0M653.4,489.6a1.1,1.1 0 1,0 2.2,0a1.1,1.1 0 1,0 -2.2,0M672.9,494.1a0.5,0.5 0 1,0 1.1,0a0.5,0.5 0 1,0 -1.1,0M692.7,469a0.9,0.9 0 1,0 1.7,0a0.9,0.9 0 1,0 -1.7,0M659.9,482.5a0.8,0.8 0 1,0 1.6,0a0.8,0.8 0 1,0 -1.6,0M701.3,486.7a1.1,1.1 0 1,0 2.3,0a1.1,1.1 0 1,0 -2.3,0M672.5,478.9a0.6,0.6 0 1,0 1.1,0a0.6,0.6 0 1,0 -1.1,0M697.3,479.1a0.7,0.7 0 1,0 1.4,0a0.7,0.7 0 1,0 -1.4,0M693.5,465.5a0.7,0.7 0 1,0 1.4,0a0.7,0.7 0 1,0 -1.4,0M660.1,502a1.1,1.1 0 1,0 2.1,0a1.1,1.1 0 1,0 -2.1,0M658.8,500.6a0.7,0.7 0 1,0 1.5,0a0.7,0.7 0 1,0 -1.5,0M670.4,502.7a0.5,0.5 0 1,0 1,0a0.5,0.5 0 1,0 -1,0M658.5,462.9a0.9,0.9 0 1,0 1.8,0a0.9,0.9 0 1,0 -1.8,0M691.9,460.8a0.7,0.7 0 1,0 1.4,0a0.7,0.7 0 1,0 -1.4,0M669.6,501.1a1,1 0 1,0 2.1,0a1,1 0 1,0 -2.1,0M666.1,485a0.8,0.8 0 1,0 1.7,0a0.8,0.8 0 1,0 -1.7,0M691.2,478.1a1.1,1.1 0 1,0 2.3,0a1.1,1.1 0 1,0 -2.3,0M656.3,487a0.9,0.9 0 1,0 1.8,0a0.9,0.9 0 1,0 -1.8,0M663.6,469.1a0.7,0.7 0 1,0 1.4,0a0.7,0.7 0 1,0 -1.4,0M682.6,493.8a1.1,1.1 0 1,0 2.3,0a1.1,1.1 0 1,0 -2.3,0M652.2,480a0.9,0.9 0 1,0 1.7,0a0.9,0.9 0 1,0 -1.7,0M677,460.8a0.8,0.8 0 1,0 1.7,0a0.8,0.8 0 1,0 -1.7,0M664.6,464.7a1.1,1.1 0 1,0 2.3,0a1.1,1.1 0 1,0 -2.3,0M692.7,485.9a1,1 0 1,0 2,0a1,1 0 1,0 -2,0M664.3,494.5a1.2,1.2 0 1,0 2.4,0a1.2,1.2 0 1,0 -2.4,0M675.3,468.8a0.8,0.8 0 1,0 1.7,0a0.8,0.8 0 1,0 -1.7,0M700.7,502.3a0.5,0.5 0 1,0 1.1,0a0.5,0.5 0 1,0 -1.1,0M659.5,479.9a0.5,0.5 0 1,0 1.1,0a0.5,0.5 0 1,0 -1.1,0M662.3,508.9a0.8,0.8 0 1,0 1.6,0a0.8,0.8 0 1,0 -1.6,0M693.1,503.1a1.1,1.1 0 1,0 2.1,0a1.1,1.1 0 1,0 -2.1,0M651.9,487.6a1,1 0 1,0 1.9,0a1,1 0 1,0 -1.9,0M673.9,470.3a0.6,0.6 0 1,0 1.3,0a0.6,0.6 0 1,0 -1.3,0M662.8,495.6a0.5,0.5 0 1,0 1,0a0.5,0.5 0 1,0 -1,0M695,478.7a0.6,0.6 0 1,0 1.2,0a0.6,0.6 0 1,0 -1.2,0M674,505.7a0.8,0.8 0 1,0 1.6,0a0.8,0.8 0 1,0 -1.6,0M682,490.9a0.8,0.8 0 1,0 1.6,0a0.8,0.8 0 1,0 -1.6,0M698,487.4a1,1 0 1,0 2,0a1,1 0 1,0 -2,0M663.6,457.4a0.6,0.6 0 1,0 1.1,0a0.6,0.6 0 1,0 -1.1,0M675.1,497.2a1.1,1.1 0 1,0 2.2,0a1.1,1.1 0 1,0 -2.2,0M698.1,481.7a0.6,0.6 0 1,0 1.2,0a0.6,0.6 0 1,0 -1.2,0M673.9,477.2a0.8,0.8 0 1,0 1.5,0a0.8,0.8 0 1,0 -1.5,0M704.4,483.5a0.5,0.5 0 1,0 1,0a0.5,0.5 0 1,0 -1,0M649.2,480.2a0.9,0.9 0 1,0 1.8,0a0.9,0.9 0 1,0 -1.8,0M670.9,495.3a1.2,1.2 0 1,0 2.4,0a1.2,1.2 0 1,0 -2.4,0M648.9,470.4a0.6,0.6 0 1,0 1.1,0a0.6,0.6 0 1,0 -1.1,0M670.5,516.4a1.2,1.2 0 1,0 2.4,0a1.2,1.2 0 1,0 -2.4,0M651.4,466.8a0.6,0.6 0 1,0 1.2,0a0.6,0.6 0 1,0 -1.2,0M685.6,457.1a1,1 0 1,0 1.9,0a1,1 0 1,0 -1.9,0M700.9,495.5a1,1 0 1,0 1.9,0a1,1 0 1,0 -1.9,0M705.9,483.7a0.7,0.7 0 1,0 1.3,0a0.7,0.7 0 1,0 -1.3,0M660,472a0.6,0.6 0 1,0 1.3,0a0.6,0.6 0 1,0 -1.3,0M664.5,512a1.1,1.1 0 1,0 2.2,0a1.1,1.1 0 1,0 -2.2,0M679.3,456.6a0.6,0.6 0 1,0 1.2,0a0.6,0.6 0 1,0 -1.2,0M657.7,500.6a1,1 0 1,0 1.9,0a1,1 0 1,0 -1.9,0M674.6,507.3a0.5,0.5 0 1,0 1,0a0.5,0.5 0 1,0 -1,0M684.1,471.6a1,1 0 1,0 1.9,0a1,1 0 1,0 -1.9,0M652.1,503.4a0.9,0.9 0 1,0 1.8,0a0.9,0.9 0 1,0 -1.8,0M673.7,513.6a1,1 0 1,0 1.9,0a1,1 0 1,0 -1.9,0M654.5,483.5a0.8,0.8 0 1,0 1.6,0a0.8,0.8 0 1,0 -1.6,0M646.1,483.7a1.2,1.2 0 1,0 2.3,0a1.2,1.2 0 1,0 -2.3,0M675.8,473.4a0.5,0.5 0 1,0 1,0a0.5,0.5 0 1,0 -1,0M674.9,466.7a0.6,0.6 0 1,0 1.3,0a0.6,0.6 0 1,0 -1.3,0M685.9,491a0.9,0.9 0 1,0 1.8,0a0.9,0.9 0 1,0 -1.8,0M651.2,505.3a0.9,0.9 0 1,0 1.8,0a0.9,0.9 0 1,0 -1.8,0M670.6,458.8a0.8,0.8 0 1,0 1.6,0a0.8,0.8 0 1,0 -1.6,0M683.1,504.1a0.6,0.6 0 1,0 1.1,0a0.6,0.6 0 1,0 -1.1,0M655.4,474.1a0.9,0.9 0 1,0 1.7,0a0.9,0.9 0 1,0 -1.7,0M692.1,510.6a0.8,0.8 0 1,0 1.6,0a0.8,0.8 0 1,0 -1.6,0M683,513.7a0.7,0.7 0 1,0 1.4,0a0.7,0.7 0 1,0 -1.4,0M680.3,473a1,1 0 1,0 2.1,0a1,1 0 1,0 -2.1,0M668.7,458.3a0.6,0.6 0 1,0 1.3,0a0.6,0.6 0 1,0 -1.3,0M686.9,480.7a0.9,0.9 0 1,0 1.8,0a0.9,0.9 0 1,0 -1.8,0M694.5,508.5a0.7,0.7 0 1,0 1.4,0a0.7,0.7 0 1,0 -1.4,0M663.7,512.7a0.9,0.9 0 1,0 1.7,0a0.9,0.9 0 1,0 -1.7,0M687,487.3a0.8,0.8 0 1,0 1.6,0a0.8,0.8 0 1,0 -1.6,0M697.4,465a1.1,1.1 0 1,0 2.2,0a1.1,1.1 0 1,0 -2.2,0M667.4,506.1a0.6,0.6 0 1,0 1.1,0a0.6,0.6 0 1,0 -1.1,0M655,481.4a1.1,1.1 0 1,0 2.2,0a1.1,1.1 0 1,0 -2.2,0M658.7,461.2a1.1,1.1 0 1,0 2.1,0a1.1,1.1 0 1,0 -2.1,0M700.3,480.6a0.6,0.6 0 1,0 1.3,0a0.6,0.6 0 1,0 -1.3,0M675.7,457a0.8,0.8 0 1,0 1.7,0a0.8,0.8 0 1,0 -1.7,0M694.4,494.1a1,1 0 1,0 2,0a1,1 0 1,0 -2,0M677.6,462.7a1.1,1.1 0 1,0 2.2,0a1.1,1.1 0 1,0 -2.2,0M670.6,461.1a1.1,1.1 0 1,0 2.2,0a1.1,1.1 0 1,0 -2.2,0M647.4,491.1a1.1,1.1 0 1,0 2.2,0a1.1,1.1 0 1,0 -2.2,0M701.7,481.2a1,1 0 1,0 2.1,0a1,1 0 1,0 -2.1,0M684.5,495.5a1.1,1.1 0 1,0 2.2,0a1.1,1.1 0 1,0 -2.2,0M667.1,456.8a1.1,1.1 0 1,0 2.1,0a1.1,1.1 0 1,0 -2.1,0M677,476.6a0.8,0.8 0 1,0 1.5,0a0.8,0.8 0 1,0 -1.5,0M654.8,497.5a0.5,0.5 0 1,0 1,0a0.5,0.5 0 1,0 -1,0M704.1,479.8a1,1 0 1,0 2,0a1,1 0 1,0 -2,0M657.9,485.4a0.6,0.6 0 1,0 1.2,0a0.6,0.6 0 1,0 -1.2,0M661,479a0.8,0.8 0 1,0 1.7,0a0.8,0.8 0 1,0 -1.7,0M655,491.3a0.5,0.5 0 1,0 1,0a0.5,0.5 0 1,0 -1,0M662.9,495.9a0.6,0.6 0 1,0 1.1,0a0.6,0.6 0 1,0 -1.1,0M687.8,495a1.2,1.2 0 1,0 2.4,0a1.2,1.2 0 1,0 -2.4,0M675.2,507.7a0.9,0.9 0 1,0 1.8,0a0.9,0.9 0 1,0 -1.8,0M653.1,471a0.6,0.6 0 1,0 1.2,0a0.6,0.6 0 1,0 -1.2,0M672.3,491.9a0.8,0.8 0 1,0 1.5,0a0.8,0.8 0 1,0 -1.5,0M668.1,468.4a0.6,0.6 0 1,0 1.3,0a0.6,0.6 0 1,0 -1.3,0M695.5,496.8a0.8,0.8 0 1,0 1.5,0a0.8,0.8 0 1,0 -1.5,0M684,511.4a0.7,0.7 0 1,0 1.5,0a0.7,0.7 0 1,0 -1.5,0M690.2,461.9a1,1 0 1,0 2,0a1,1 0 1,0 -2,0M663.4,504.7a0.7,0.7 0 1,0 1.3,0a0.7,0.7 0 1,0 -1.3,0M650.6,492.5a0.7,0.7 0 1,0 1.4,0a0.7,0.7 0 1,0 -1.4,0M661,474.5a0.9,0.9 0 1,0 1.8,0a0.9,0.9 0 1,0 -1.8,0M690.3,482.8a0.8,0.8 0 1,0 1.5,0a0.8,0.8 0 1,0 -1.5,0M665,508.8a1.1,1.1 0 1,0 2.2,0a1.1,1.1 0 1,0 -2.2,0M644.3,486a1.1,1.1 0 1,0 2.2,0a1.1,1.1 0 1,0 -2.2,0M659,512.4a1,1 0 1,0 2,0a1,1 0 1,0 -2,0M651.2,497.6a0.7,0.7 0 1,0 1.4,0a0.7,0.7 0 1,0 -1.4,0M698.1,469.4a1.1,1.1 0 1,0 2.2,0a1.1,1.1 0 1,0 -2.2,0M705.6,487.1a0.7,0.7 0 1,0 1.4,0a0.7,0.7 0 1,0 -1.4,0M666.9,504.5a0.6,0.6 0 1,0 1.2,0a0.6,0.6 0 1,0 -1.2,0M678.3,497.2a0.7,0.7 0 1,0 1.3,0a0.7,0.7 0 1,0 -1.3,0M654.9,501.8a0.6,0.6 0 1,0 1.3,0a0.6,0.6 0 1,0 -1.3,0" fill="#f23c22" opacity="0.8"/><path d="M687.2,458.2a0.8,0.8 0 1,0 1.6,0a0.8,0.8 0 1,0 -1.6,0M656.8,485.4a0.8,0.8 0 1,0 1.5,0a0.8,0.8 0 1,0 -1.5,0M667.9,494.7a0.6,0.6 0 1,0 1.2,0a0.6,0.6 0 1,0 -1.2,0M699.6,489.2a0.8,0.8 0 1,0 1.5,0a0.8,0.8 0 1,0 -1.5,0M696,486.6a1,1 0 1,0 2,0a1,1 0 1,0 -2,0M702.3,500.1a1.1,1.1 0 1,0 2.3,0a1.1,1.1 0 1,0 -2.3,0M694.5,474a0.9,0.9 0 1,0 1.8,0a0.9,0.9 0 1,0 -1.8,0M678.8,506a0.7,0.7 0 1,0 1.4,0a0.7,0.7 0 1,0 -1.4,0M680.2,469.2a0.6,0.6 0 1,0 1.3,0a0.6,0.6 0 1,0 -1.3,0M671,500.4a0.7,0.7 0 1,0 1.3,0a0.7,0.7 0 1,0 -1.3,0M700.2,500.7a0.5,0.5 0 1,0 1,0a0.5,0.5 0 1,0 -1,0M699.4,484.8a0.8,0.8 0 1,0 1.6,0a0.8,0.8 0 1,0 -1.6,0M648.3,500.8a1.2,1.2 0 1,0 2.4,0a1.2,1.2 0 1,0 -2.4,0M670.9,460.5a0.8,0.8 0 1,0 1.5,0a0.8,0.8 0 1,0 -1.5,0M686.6,472.3a0.8,0.8 0 1,0 1.5,0a0.8,0.8 0 1,0 -1.5,0M690.9,486.9a0.6,0.6 0 1,0 1.2,0a0.6,0.6 0 1,0 -1.2,0M676,508.5a0.7,0.7 0 1,0 1.4,0a0.7,0.7 0 1,0 -1.4,0M664.6,514.9a1,1 0 1,0 2,0a1,1 0 1,0 -2,0M699.4,481a1.2,1.2 0 1,0 2.4,0a1.2,1.2 0 1,0 -2.4,0M680.3,482.3a0.9,0.9 0 1,0 1.8,0a0.9,0.9 0 1,0 -1.8,0M655.4,496.1a1,1 0 1,0 1.9,0a1,1 0 1,0 -1.9,0M669.1,516.1a0.9,0.9 0 1,0 1.9,0a0.9,0.9 0 1,0 -1.9,0M683.2,495a1,1 0 1,0 1.9,0a1,1 0 1,0 -1.9,0M697.6,507.2a0.6,0.6 0 1,0 1.3,0a0.6,0.6 0 1,0 -1.3,0M675.4,464.2a0.6,0.6 0 1,0 1.2,0a0.6,0.6 0 1,0 -1.2,0M688.7,503.1a1.2,1.2 0 1,0 2.3,0a1.2,1.2 0 1,0 -2.3,0M679.1,515.5a0.7,0.7 0 1,0 1.4,0a0.7,0.7 0 1,0 -1.4,0M661.6,464.2a1,1 0 1,0 2,0a1,1 0 1,0 -2,0M698.7,483.7a0.9,0.9 0 1,0 1.8,0a0.9,0.9 0 1,0 -1.8,0M688.1,459.9a0.8,0.8 0 1,0 1.5,0a0.8,0.8 0 1,0 -1.5,0M666.5,496.1a1,1 0 1,0 1.9,0a1,1 0 1,0 -1.9,0M678,506.2a0.9,0.9 0 1,0 1.9,0a0.9,0.9 0 1,0 -1.9,0M652.8,501.9a1.1,1.1 0 1,0 2.2,0a1.1,1.1 0 1,0 -2.2,0M671.2,477a1.1,1.1 0 1,0 2.1,0a1.1,1.1 0 1,0 -2.1,0M670.9,511.8a0.8,0.8 0 1,0 1.5,0a0.8,0.8 0 1,0 -1.5,0M656.3,499.2a0.8,0.8 0 1,0 1.6,0a0.8,0.8 0 1,0 -1.6,0M701.8,497.5a0.8,0.8 0 1,0 1.6,0a0.8,0.8 0 1,0 -1.6,0M689.7,495a0.5,0.5 0 1,0 1,0a0.5,0.5 0 1,0 -1,0M684.1,488.3a1,1 0 1,0 2,0a1,1 0 1,0 -2,0M701.5,484.7a1.2,1.2 0 1,0 2.4,0a1.2,1.2 0 1,0 -2.4,0M673.1,457.8a0.6,0.6 0 1,0 1.1,0a0.6,0.6 0 1,0 -1.1,0M682.5,515.9a0.5,0.5 0 1,0 1,0a0.5,0.5 0 1,0 -1,0M661.2,505.5a1.1,1.1 0 1,0 2.1,0a1.1,1.1 0 1,0 -2.1,0M697.8,500.3a0.9,0.9 0 1,0 1.8,0a0.9,0.9 0 1,0 -1.8,0M645.4,479a0.7,0.7 0 1,0 1.4,0a0.7,0.7 0 1,0 -1.4,0M680.6,474.6a1,1 0 1,0 2,0a1,1 0 1,0 -2,0M691.6,508.3a0.9,0.9 0 1,0 1.8,0a0.9,0.9 0 1,0 -1.8,0M685.8,498a1,1 0 1,0 2,0a1,1 0 1,0 -2,0M694.5,483.4a1,1 0 1,0 2,0a1,1 0 1,0 -2,0M683.4,507.3a1.1,1.1 0 1,0 2.2,0a1.1,1.1 0 1,0 -2.2,0M701.4,489.7a1.1,1.1 0 1,0 2.3,0a1.1,1.1 0 1,0 -2.3,0M680.8,502.3a0.9,0.9 0 1,0 1.8,0a0.9,0.9 0 1,0 -1.8,0M676.5,466.6a0.6,0.6 0 1,0 1.1,0a0.6,0.6 0 1,0 -1.1,0M665.9,463.4a0.5,0.5 0 1,0 1,0a0.5,0.5 0 1,0 -1,0M687.1,494.1a0.5,0.5 0 1,0 1.1,0a0.5,0.5 0 1,0 -1.1,0M651.6,481.8a0.8,0.8 0 1,0 1.6,0a0.8,0.8 0 1,0 -1.6,0M670.3,507.7a0.7,0.7 0 1,0 1.4,0a0.7,0.7 0 1,0 -1.4,0M661.9,495.4a0.6,0.6 0 1,0 1.3,0a0.6,0.6 0 1,0 -1.3,0M684.3,474.2a0.9,0.9 0 1,0 1.8,0a0.9,0.9 0 1,0 -1.8,0M660,496.3a0.9,0.9 0 1,0 1.9,0a0.9,0.9 0 1,0 -1.9,0M681.8,462.4a1.1,1.1 0 1,0 2.1,0a1.1,1.1 0 1,0 -2.1,0M698.2,500a1.2,1.2 0 1,0 2.4,0a1.2,1.2 0 1,0 -2.4,0M686.7,505.1a0.5,0.5 0 1,0 1,0a0.5,0.5 0 1,0 -1,0M654.3,485.4a1.2,1.2 0 1,0 2.4,0a1.2,1.2 0 1,0 -2.4,0M699.1,503.7a0.7,0.7 0 1,0 1.5,0a0.7,0.7 0 1,0 -1.5,0M686.5,465.7a0.5,0.5 0 1,0 1.1,0a0.5,0.5 0 1,0 -1.1,0M647.6,479.1a0.8,0.8 0 1,0 1.6,0a0.8,0.8 0 1,0 -1.6,0M692.6,482.1a0.8,0.8 0 1,0 1.6,0a0.8,0.8 0 1,0 -1.6,0M687.8,478.5a0.8,0.8 0 1,0 1.6,0a0.8,0.8 0 1,0 -1.6,0M666.4,465a0.8,0.8 0 1,0 1.7,0a0.8,0.8 0 1,0 -1.7,0M686.5,507.9a0.5,0.5 0 1,0 1,0a0.5,0.5 0 1,0 -1,0M662.5,507.8a0.9,0.9 0 1,0 1.7,0a0.9,0.9 0 1,0 -1.7,0M664.7,485.9a0.9,0.9 0 1,0 1.8,0a0.9,0.9 0 1,0 -1.8,0M658.6,468.8a1.1,1.1 0 1,0 2.3,0a1.1,1.1 0 1,0 -2.3,0M662.6,470.5a0.8,0.8 0 1,0 1.5,0a0.8,0.8 0 1,0 -1.5,0M667,457.1a0.6,0.6 0 1,0 1.3,0a0.6,0.6 0 1,0 -1.3,0M651.8,485.8a1.1,1.1 0 1,0 2.2,0a1.1,1.1 0 1,0 -2.2,0M698,475.2a0.8,0.8 0 1,0 1.5,0a0.8,0.8 0 1,0 -1.5,0M662.5,492.2a0.7,0.7 0 1,0 1.4,0a0.7,0.7 0 1,0 -1.4,0M700.1,477.2a1.1,1.1 0 1,0 2.2,0a1.1,1.1 0 1,0 -2.2,0M679.6,501.2a1,1 0 1,0 2.1,0a1,1 0 1,0 -2.1,0M649.4,495a0.9,0.9 0 1,0 1.7,0a0.9,0.9 0 1,0 -1.7,0M673.4,474.2a1.2,1.2 0 1,0 2.3,0a1.2,1.2 0 1,0 -2.3,0M671.2,503.6a0.8,0.8 0 1,0 1.6,0a0.8,0.8 0 1,0 -1.6,0M696.7,488.7a1.1,1.1 0 1,0 2.1,0a1.1,1.1 0 1,0 -2.1,0M649.3,477.9a0.6,0.6 0 1,0 1.1,0a0.6,0.6 0 1,0 -1.1,0M677.2,487.8a0.9,0.9 0 1,0 1.7,0a0.9,0.9 0 1,0 -1.7,0M693.4,503.9a0.7,0.7 0 1,0 1.4,0a0.7,0.7 0 1,0 -1.4,0M672.7,497.8a0.7,0.7 0 1,0 1.4,0a0.7,0.7 0 1,0 -1.4,0M648.7,482.9a0.9,0.9 0 1,0 1.7,0a0.9,0.9 0 1,0 -1.7,0M679.9,493a0.8,0.8 0 1,0 1.6,0a0.8,0.8 0 1,0 -1.6,0M661.7,506.7a1.2,1.2 0 1,0 2.4,0a1.2,1.2 0 1,0 -2.4,0M658.3,508.6a0.9,0.9 0 1,0 1.8,0a0.9,0.9 0 1,0 -1.8,0M658.9,499.8a0.8,0.8 0 1,0 1.5,0a0.8,0.8 0 1,0 -1.5,0M675.3,481.4a0.7,0.7 0 1,0 1.5,0a0.7,0.7 0 1,0 -1.5,0M673.8,486.9a0.5,0.5 0 1,0 1.1,0a0.5,0.5 0 1,0 -1.1,0M673.9,511.6a0.5,0.5 0 1,0 1,0a0.5,0.5 0 1,0 -1,0M681.5,478a0.7,0.7 0 1,0 1.4,0a0.7,0.7 0 1,0 -1.4,0M676.2,486.5a0.8,0.8 0 1,0 1.7,0a0.8,0.8 0 1,0 -1.7,0M650.7,475.6a1.2,1.2 0 1,0 2.3,0a1.2,1.2 0 1,0 -2.3,0M662.2,473.9a1.1,1.1 0 1,0 2.2,0a1.1,1.1 0 1,0 -2.2,0M662.8,496.5a0.9,0.9 0 1,0 1.8,0a0.9,0.9 0 1,0 -1.8,0M684.4,475.4a1.2,1.2 0 1,0 2.4,0a1.2,1.2 0 1,0 -2.4,0M673.5,500.4a1,1 0 1,0 1.9,0a1,1 0 1,0 -1.9,0M693.6,492.8a1,1 0 1,0 1.9,0a1,1 0 1,0 -1.9,0M648.1,482.5a0.9,0.9 0 1,0 1.8,0a0.9,0.9 0 1,0 -1.8,0M646.6,490.3a0.8,0.8 0 1,0 1.5,0a0.8,0.8 0 1,0 -1.5,0M685.9,486a1,1 0 1,0 1.9,0a1,1 0 1,0 -1.9,0M700.1,471.1a0.7,0.7 0 1,0 1.4,0a0.7,0.7 0 1,0 -1.4,0M666.4,507.5a1,1 0 1,0 1.9,0a1,1 0 1,0 -1.9,0M673.2,504.6a0.7,0.7 0 1,0 1.4,0a0.7,0.7 0 1,0 -1.4,0M688.7,507.6a1.1,1.1 0 1,0 2.3,0a1.1,1.1 0 1,0 -2.3,0M661.9,481.6a0.9,0.9 0 1,0 1.8,0a0.9,0.9 0 1,0 -1.8,0M702,478.1a0.8,0.8 0 1,0 1.6,0a0.8,0.8 0 1,0 -1.6,0M660.5,479.1a1,1 0 1,0 2.1,0a1,1 0 1,0 -2.1,0M670,462.7a1,1 0 1,0 1.9,0a1,1 0 1,0 -1.9,0M680.1,480.2a1,1 0 1,0 2,0a1,1 0 1,0 -2,0M688.2,496.2a0.7,0.7 0 1,0 1.4,0a0.7,0.7 0 1,0 -1.4,0" fill="#f23c22" opacity="0.9"/><path d="M681.3,512.8a1,1 0 1,0 2,0a1,1 0 1,0 -2,0M647.5,488a0.5,0.5 0 1,0 1,0a0.5,0.5 0 1,0 -1,0M686.2,487.8a0.6,0.6 0 1,0 1.1,0a0.6,0.6 0 1,0 -1.1,0M666.3,481.8a0.8,0.8 0 1,0 1.6,0a0.8,0.8 0 1,0 -1.6,0M692.7,505.8a0.9,0.9 0 1,0 1.9,0a0.9,0.9 0 1,0 -1.9,0M667.7,469.6a0.9,0.9 0 1,0 1.7,0a0.9,0.9 0 1,0 -1.7,0M677.2,502.6a0.5,0.5 0 1,0 1,0a0.5,0.5 0 1,0 -1,0M682.9,500.9a0.7,0.7 0 1,0 1.5,0a0.7,0.7 0 1,0 -1.5,0M703.9,478.2a0.5,0.5 0 1,0 1.1,0a0.5,0.5 0 1,0 -1.1,0M663.7,463.6a0.5,0.5 0 1,0 1.1,0a0.5,0.5 0 1,0 -1.1,0M678.8,465.8a0.8,0.8 0 1,0 1.6,0a0.8,0.8 0 1,0 -1.6,0M666.2,504.5a0.8,0.8 0 1,0 1.5,0a0.8,0.8 0 1,0 -1.5,0M671.8,505.1a0.6,0.6 0 1,0 1.2,0a0.6,0.6 0 1,0 -1.2,0M677.2,464.8a1.2,1.2 0 1,0 2.3,0a1.2,1.2 0 1,0 -2.3,0M657.4,464.7a0.7,0.7 0 1,0 1.4,0a0.7,0.7 0 1,0 -1.4,0M677.9,497.4a0.9,0.9 0 1,0 1.8,0a0.9,0.9 0 1,0 -1.8,0M692.6,464.7a1.1,1.1 0 1,0 2.2,0a1.1,1.1 0 1,0 -2.2,0M664.2,495.3a1.1,1.1 0 1,0 2.1,0a1.1,1.1 0 1,0 -2.1,0M677.9,463.4a0.7,0.7 0 1,0 1.4,0a0.7,0.7 0 1,0 -1.4,0M684.6,512.6a1.1,1.1 0 1,0 2.2,0a1.1,1.1 0 1,0 -2.2,0M649.4,493.7a1,1 0 1,0 2,0a1,1 0 1,0 -2,0M678.5,478.2a1,1 0 1,0 1.9,0a1,1 0 1,0 -1.9,0M690.4,508.7a1,1 0 1,0 1.9,0a1,1 0 1,0 -1.9,0M697.9,469.3a1.1,1.1 0 1,0 2.2,0a1.1,1.1 0 1,0 -2.2,0M679.4,495.3a0.7,0.7 0 1,0 1.4,0a0.7,0.7 0 1,0 -1.4,0M670.6,462.2a1.2,1.2 0 1,0 2.3,0a1.2,1.2 0 1,0 -2.3,0M694.2,464.4a1.1,1.1 0 1,0 2.3,0a1.1,1.1 0 1,0 -2.3,0M692,462.3a0.6,0.6 0 1,0 1.3,0a0.6,0.6 0 1,0 -1.3,0M684.5,486.6a0.8,0.8 0 1,0 1.7,0a0.8,0.8 0 1,0 -1.7,0M665.1,489a1.1,1.1 0 1,0 2.3,0a1.1,1.1 0 1,0 -2.3,0M685.4,460.3a0.7,0.7 0 1,0 1.4,0a0.7,0.7 0 1,0 -1.4,0M661.9,498.4a0.7,0.7 0 1,0 1.4,0a0.7,0.7 0 1,0 -1.4,0M685.7,506.2a0.5,0.5 0 1,0 1.1,0a0.5,0.5 0 1,0 -1.1,0M658.7,506.5a0.7,0.7 0 1,0 1.4,0a0.7,0.7 0 1,0 -1.4,0M681.4,497.1a1,1 0 1,0 2,0a1,1 0 1,0 -2,0M652,467.5a1,1 0 1,0 2,0a1,1 0 1,0 -2,0M667.3,500.2a0.5,0.5 0 1,0 1.1,0a0.5,0.5 0 1,0 -1.1,0M670.8,477.4a0.7,0.7 0 1,0 1.5,0a0.7,0.7 0 1,0 -1.5,0M679.6,510.4a0.5,0.5 0 1,0 1,0a0.5,0.5 0 1,0 -1,0M672.1,513.8a0.9,0.9 0 1,0 1.8,0a0.9,0.9 0 1,0 -1.8,0M656.3,479.1a0.8,0.8 0 1,0 1.7,0a0.8,0.8 0 1,0 -1.7,0M685.7,463.5a0.6,0.6 0 1,0 1.3,0a0.6,0.6 0 1,0 -1.3,0M655.8,499.4a0.8,0.8 0 1,0 1.6,0a0.8,0.8 0 1,0 -1.6,0M687.8,463.9a1.1,1.1 0 1,0 2.2,0a1.1,1.1 0 1,0 -2.2,0M645.3,477.7a1,1 0 1,0 1.9,0a1,1 0 1,0 -1.9,0M694.2,478.8a0.6,0.6 0 1,0 1.2,0a0.6,0.6 0 1,0 -1.2,0M654.9,508.3a0.9,0.9 0 1,0 1.8,0a0.9,0.9 0 1,0 -1.8,0M663.1,508a0.5,0.5 0 1,0 1.1,0a0.5,0.5 0 1,0 -1.1,0M690.8,468.7a0.5,0.5 0 1,0 1,0a0.5,0.5 0 1,0 -1,0M677.5,475.1a1.1,1.1 0 1,0 2.3,0a1.1,1.1 0 1,0 -2.3,0M682.8,493.3a0.6,0.6 0 1,0 1.1,0a0.6,0.6 0 1,0 -1.1,0M687.3,457.9a1.1,1.1 0 1,0 2.2,0a1.1,1.1 0 1,0 -2.2,0M695.4,500.7a0.6,0.6 0 1,0 1.2,0a0.6,0.6 0 1,0 -1.2,0M678.7,488a1.2,1.2 0 1,0 2.3,0a1.2,1.2 0 1,0 -2.3,0M690.4,508.7a0.6,0.6 0 1,0 1.1,0a0.6,0.6 0 1,0 -1.1,0M650.6,475.7a1.2,1.2 0 1,0 2.3,0a1.2,1.2 0 1,0 -2.3,0M683.5,467a1.1,1.1 0 1,0 2.1,0a1.1,1.1 0 1,0 -2.1,0M650.4,495.2a0.8,0.8 0 1,0 1.6,0a0.8,0.8 0 1,0 -1.6,0" fill="#f23c22" opacity="1.0"/>
<path d="M703.9,478.6a0.6,0.6 0 1,0 1.2,0a0.6,0.6 0 1,0 -1.2,0M695.1,470.9a1,1 0 1,0 2,0a1,1 0 1,0 -2,0M673.4,483a0.9,0.9 0 1,0 1.7,0a0.9,0.9 0 1,0 -1.7,0M675.4,462.6a0.7,0.7 0 1,0 1.5,0a0.7,0.7 0 1,0 -1.5,0M677.4,468.6a0.7,0.7 0 1,0 1.4,0a0.7,0.7 0 1,0 -1.4,0M692.5,473.7a1,1 0 1,0 2,0a1,1 0 1,0 -2,0M686.5,512.8a0.8,0.8 0 1,0 1.7,0a0.8,0.8 0 1,0 -1.7,0M684.8,464.5a1,1 0 1,0 2,0a1,1 0 1,0 -2,0M675.2,515a0.9,0.9 0 1,0 1.8,0a0.9,0.9 0 1,0 -1.8,0M654.9,489a0.6,0.6 0 1,0 1.2,0a0.6,0.6 0 1,0 -1.2,0M696.7,502.7a0.8,0.8 0 1,0 1.7,0a0.8,0.8 0 1,0 -1.7,0M685.3,506.8a0.6,0.6 0 1,0 1.3,0a0.6,0.6 0 1,0 -1.3,0M677.7,491.3a0.9,0.9 0 1,0 1.8,0a0.9,0.9 0 1,0 -1.8,0M667.6,474.9a0.9,0.9 0 1,0 1.8,0a0.9,0.9 0 1,0 -1.8,0M683.7,473.6a0.6,0.6 0 1,0 1.2,0a0.6,0.6 0 1,0 -1.2,0M655.7,467.5a1,1 0 1,0 1.9,0a1,1 0 1,0 -1.9,0M677.5,468.7a0.9,0.9 0 1,0 1.7,0a0.9,0.9 0 1,0 -1.7,0M664.7,485.1a0.8,0.8 0 1,0 1.6,0a0.8,0.8 0 1,0 -1.6,0M650.5,470.9a0.6,0.6 0 1,0 1.1,0a0.6,0.6 0 1,0 -1.1,0M695.9,505.2a0.7,0.7 0 1,0 1.5,0a0.7,0.7 0 1,0 -1.5,0M658.5,470.4a1,1 0 1,0 1.9,0a1,1 0 1,0 -1.9,0M658.9,481.4a0.6,0.6 0 1,0 1.1,0a0.6,0.6 0 1,0 -1.1,0M693.5,466.6a0.9,0.9 0 1,0 1.7,0a0.9,0.9 0 1,0 -1.7,0M694.1,483a0.8,0.8 0 1,0 1.5,0a0.8,0.8 0 1,0 -1.5,0M685.9,475.8a0.9,0.9 0 1,0 1.9,0a0.9,0.9 0 1,0 -1.9,0" fill="#3a0505" opacity="0.4"/><path d="M680.8,481.4a0.8,0.8 0 1,0 1.5,0a0.8,0.8 0 1,0 -1.5,0M684.5,493.3a1,1 0 1,0 2,0a1,1 0 1,0 -2,0M680.6,482.8a0.8,0.8 0 1,0 1.6,0a0.8,0.8 0 1,0 -1.6,0M655.8,475.4a0.9,0.9 0 1,0 1.8,0a0.9,0.9 0 1,0 -1.8,0M679.7,505.2a0.7,0.7 0 1,0 1.3,0a0.7,0.7 0 1,0 -1.3,0M677.4,515.3a0.9,0.9 0 1,0 1.7,0a0.9,0.9 0 1,0 -1.7,0M658.2,462.2a0.8,0.8 0 1,0 1.5,0a0.8,0.8 0 1,0 -1.5,0M681.6,473.5a0.7,0.7 0 1,0 1.3,0a0.7,0.7 0 1,0 -1.3,0M674,489.2a0.6,0.6 0 1,0 1.3,0a0.6,0.6 0 1,0 -1.3,0M679,482.5a0.9,0.9 0 1,0 1.9,0a0.9,0.9 0 1,0 -1.9,0M694.5,492.2a0.8,0.8 0 1,0 1.6,0a0.8,0.8 0 1,0 -1.6,0M696.7,468.4a0.7,0.7 0 1,0 1.4,0a0.7,0.7 0 1,0 -1.4,0M687.9,496.1a0.6,0.6 0 1,0 1.3,0a0.6,0.6 0 1,0 -1.3,0M690.2,492.4a0.8,0.8 0 1,0 1.5,0a0.8,0.8 0 1,0 -1.5,0M692.5,490.2a1,1 0 1,0 1.9,0a1,1 0 1,0 -1.9,0M689,460.3a0.9,0.9 0 1,0 1.8,0a0.9,0.9 0 1,0 -1.8,0M670.3,507.2a0.5,0.5 0 1,0 1.1,0a0.5,0.5 0 1,0 -1.1,0M685.3,492.7a0.9,0.9 0 1,0 1.8,0a0.9,0.9 0 1,0 -1.8,0M693.7,503.7a0.6,0.6 0 1,0 1.1,0a0.6,0.6 0 1,0 -1.1,0M653,486.5a0.7,0.7 0 1,0 1.4,0a0.7,0.7 0 1,0 -1.4,0M671.8,459.2a1,1 0 1,0 1.9,0a1,1 0 1,0 -1.9,0M689.4,483.9a0.9,0.9 0 1,0 1.8,0a0.9,0.9 0 1,0 -1.8,0M701.9,494a1,1 0 1,0 1.9,0a1,1 0 1,0 -1.9,0M665.8,465.2a0.5,0.5 0 1,0 1,0a0.5,0.5 0 1,0 -1,0M663.3,460.9a0.7,0.7 0 1,0 1.5,0a0.7,0.7 0 1,0 -1.5,0M689,500.8a0.9,0.9 0 1,0 1.7,0a0.9,0.9 0 1,0 -1.7,0M652,482.1a0.9,0.9 0 1,0 1.9,0a0.9,0.9 0 1,0 -1.9,0M680.3,501.5a0.9,0.9 0 1,0 1.8,0a0.9,0.9 0 1,0 -1.8,0M656.2,505.9a0.6,0.6 0 1,0 1.2,0a0.6,0.6 0 1,0 -1.2,0M697.1,472.2a0.9,0.9 0 1,0 1.8,0a0.9,0.9 0 1,0 -1.8,0M692.8,506.6a0.9,0.9 0 1,0 1.7,0a0.9,0.9 0 1,0 -1.7,0M690.1,511.9a0.6,0.6 0 1,0 1.3,0a0.6,0.6 0 1,0 -1.3,0M665.5,507.6a0.9,0.9 0 1,0 1.8,0a0.9,0.9 0 1,0 -1.8,0M655,499.7a0.5,0.5 0 1,0 1,0a0.5,0.5 0 1,0 -1,0M677.6,470a0.6,0.6 0 1,0 1.2,0a0.6,0.6 0 1,0 -1.2,0M657.1,487.6a0.7,0.7 0 1,0 1.3,0a0.7,0.7 0 1,0 -1.3,0" fill="#3a0505" opacity="0.5"/><path d="M656.9,482.7a0.6,0.6 0 1,0 1.2,0a0.6,0.6 0 1,0 -1.2,0M666.6,459.5a0.9,0.9 0 1,0 1.8,0a0.9,0.9 0 1,0 -1.8,0M662.4,474.3a0.9,0.9 0 1,0 1.8,0a0.9,0.9 0 1,0 -1.8,0M678,504.8a0.6,0.6 0 1,0 1.3,0a0.6,0.6 0 1,0 -1.3,0M683.7,470.3a0.6,0.6 0 1,0 1.3,0a0.6,0.6 0 1,0 -1.3,0M651.8,493.9a0.7,0.7 0 1,0 1.3,0a0.7,0.7 0 1,0 -1.3,0M679.1,488.5a0.6,0.6 0 1,0 1.2,0a0.6,0.6 0 1,0 -1.2,0M657.6,496.9a0.6,0.6 0 1,0 1.2,0a0.6,0.6 0 1,0 -1.2,0M670.5,460.9a0.8,0.8 0 1,0 1.7,0a0.8,0.8 0 1,0 -1.7,0M686.6,488.3a0.8,0.8 0 1,0 1.6,0a0.8,0.8 0 1,0 -1.6,0M682.2,488a0.9,0.9 0 1,0 1.9,0a0.9,0.9 0 1,0 -1.9,0M664,481.6a0.9,0.9 0 1,0 1.8,0a0.9,0.9 0 1,0 -1.8,0M671.8,466.4a0.9,0.9 0 1,0 1.8,0a0.9,0.9 0 1,0 -1.8,0M703.2,488.2a0.8,0.8 0 1,0 1.6,0a0.8,0.8 0 1,0 -1.6,0M670.9,459.8a0.9,0.9 0 1,0 1.8,0a0.9,0.9 0 1,0 -1.8,0M668.4,459.4a0.5,0.5 0 1,0 1,0a0.5,0.5 0 1,0 -1,0M681.3,459.8a0.8,0.8 0 1,0 1.6,0a0.8,0.8 0 1,0 -1.6,0M678,463.3a0.5,0.5 0 1,0 1.1,0a0.5,0.5 0 1,0 -1.1,0M654.1,494.5a0.7,0.7 0 1,0 1.3,0a0.7,0.7 0 1,0 -1.3,0M661.4,473.1a0.7,0.7 0 1,0 1.5,0a0.7,0.7 0 1,0 -1.5,0M693.8,501.6a0.8,0.8 0 1,0 1.6,0a0.8,0.8 0 1,0 -1.6,0M680.2,514.5a0.8,0.8 0 1,0 1.6,0a0.8,0.8 0 1,0 -1.6,0M675.7,504.6a0.8,0.8 0 1,0 1.5,0a0.8,0.8 0 1,0 -1.5,0M659.9,478.2a0.9,0.9 0 1,0 1.9,0a0.9,0.9 0 1,0 -1.9,0M669.2,500.4a0.8,0.8 0 1,0 1.6,0a0.8,0.8 0 1,0 -1.6,0M681.6,469.6a1,1 0 1,0 2,0a1,1 0 1,0 -2,0M651.4,496.2a0.7,0.7 0 1,0 1.3,0a0.7,0.7 0 1,0 -1.3,0M690,483.4a0.9,0.9 0 1,0 1.7,0a0.9,0.9 0 1,0 -1.7,0M688.9,506.6a0.9,0.9 0 1,0 1.8,0a0.9,0.9 0 1,0 -1.8,0M676.5,466.3a0.8,0.8 0 1,0 1.6,0a0.8,0.8 0 1,0 -1.6,0M692.8,462.9a0.6,0.6 0 1,0 1.2,0a0.6,0.6 0 1,0 -1.2,0M667.8,500.3a0.5,0.5 0 1,0 1,0a0.5,0.5 0 1,0 -1,0M696.4,487.7a0.7,0.7 0 1,0 1.5,0a0.7,0.7 0 1,0 -1.5,0M648.2,496a0.5,0.5 0 1,0 1,0a0.5,0.5 0 1,0 -1,0M683,507a0.5,0.5 0 1,0 1,0a0.5,0.5 0 1,0 -1,0M699.6,469.2a0.5,0.5 0 1,0 1.1,0a0.5,0.5 0 1,0 -1.1,0M679.4,459.1a0.6,0.6 0 1,0 1.3,0a0.6,0.6 0 1,0 -1.3,0M672.8,511.1a0.8,0.8 0 1,0 1.6,0a0.8,0.8 0 1,0 -1.6,0M679.1,483.5a0.9,0.9 0 1,0 1.9,0a0.9,0.9 0 1,0 -1.9,0M692.4,478.4a0.6,0.6 0 1,0 1.2,0a0.6,0.6 0 1,0 -1.2,0M686.8,470.9a0.7,0.7 0 1,0 1.3,0a0.7,0.7 0 1,0 -1.3,0" fill="#3a0505" opacity="0.6"/><path d="M687.8,481.3a0.8,0.8 0 1,0 1.5,0a0.8,0.8 0 1,0 -1.5,0M690.8,478.1a0.8,0.8 0 1,0 1.6,0a0.8,0.8 0 1,0 -1.6,0M664.1,461.1a0.7,0.7 0 1,0 1.5,0a0.7,0.7 0 1,0 -1.5,0M660.6,462.4a0.9,0.9 0 1,0 1.8,0a0.9,0.9 0 1,0 -1.8,0M648.8,481a0.5,0.5 0 1,0 1,0a0.5,0.5 0 1,0 -1,0M686.4,480.8a0.8,0.8 0 1,0 1.7,0a0.8,0.8 0 1,0 -1.7,0M691.5,489.4a0.8,0.8 0 1,0 1.5,0a0.8,0.8 0 1,0 -1.5,0M668.1,503.1a0.6,0.6 0 1,0 1.1,0a0.6,0.6 0 1,0 -1.1,0M696.9,485.9a0.9,0.9 0 1,0 1.8,0a0.9,0.9 0 1,0 -1.8,0M665.8,479.3a0.7,0.7 0 1,0 1.4,0a0.7,0.7 0 1,0 -1.4,0M650.7,469a0.6,0.6 0 1,0 1.3,0a0.6,0.6 0 1,0 -1.3,0M696.1,470.9a1,1 0 1,0 2,0a1,1 0 1,0 -2,0M662,477.7a0.6,0.6 0 1,0 1.1,0a0.6,0.6 0 1,0 -1.1,0M650.7,500.3a0.7,0.7 0 1,0 1.4,0a0.7,0.7 0 1,0 -1.4,0M662.6,460.7a1,1 0 1,0 1.9,0a1,1 0 1,0 -1.9,0M646.6,492.7a0.6,0.6 0 1,0 1.1,0a0.6,0.6 0 1,0 -1.1,0M673.3,498.5a0.8,0.8 0 1,0 1.6,0a0.8,0.8 0 1,0 -1.6,0M652.9,478.8a0.9,0.9 0 1,0 1.8,0a0.9,0.9 0 1,0 -1.8,0M647.5,479.7a0.9,0.9 0 1,0 1.7,0a0.9,0.9 0 1,0 -1.7,0M670.2,470.8a0.7,0.7 0 1,0 1.3,0a0.7,0.7 0 1,0 -1.3,0M681.5,511.1a1,1 0 1,0 2,0a1,1 0 1,0 -2,0M692.7,499.2a1,1 0 1,0 2,0a1,1 0 1,0 -2,0M684.2,508.5a0.6,0.6 0 1,0 1.2,0a0.6,0.6 0 1,0 -1.2,0M693.3,494.2a0.6,0.6 0 1,0 1.1,0a0.6,0.6 0 1,0 -1.1,0M680.7,511.9a0.9,0.9 0 1,0 1.8,0a0.9,0.9 0 1,0 -1.8,0M661.1,492a0.9,0.9 0 1,0 1.8,0a0.9,0.9 0 1,0 -1.8,0M680.7,515.5a0.9,0.9 0 1,0 1.8,0a0.9,0.9 0 1,0 -1.8,0M654.3,489.7a0.8,0.8 0 1,0 1.6,0a0.8,0.8 0 1,0 -1.6,0M650.8,481.7a0.7,0.7 0 1,0 1.5,0a0.7,0.7 0 1,0 -1.5,0M669.5,496a0.7,0.7 0 1,0 1.4,0a0.7,0.7 0 1,0 -1.4,0M698.6,470.7a0.5,0.5 0 1,0 1.1,0a0.5,0.5 0 1,0 -1.1,0M696.2,501.7a1,1 0 1,0 1.9,0a1,1 0 1,0 -1.9,0M662,486.3a0.9,0.9 0 1,0 1.8,0a0.9,0.9 0 1,0 -1.8,0M683.7,458.6a0.7,0.7 0 1,0 1.5,0a0.7,0.7 0 1,0 -1.5,0M671.4,469.8a0.9,0.9 0 1,0 1.9,0a0.9,0.9 0 1,0 -1.9,0M664.3,490.8a0.5,0.5 0 1,0 1,0a0.5,0.5 0 1,0 -1,0M702.6,488.9a0.8,0.8 0 1,0 1.7,0a0.8,0.8 0 1,0 -1.7,0M703.8,493.4a0.7,0.7 0 1,0 1.3,0a0.7,0.7 0 1,0 -1.3,0M697.4,479.8a0.8,0.8 0 1,0 1.6,0a0.8,0.8 0 1,0 -1.6,0M688.3,467.3a0.9,0.9 0 1,0 1.8,0a0.9,0.9 0 1,0 -1.8,0M657.5,465.9a0.5,0.5 0 1,0 1,0a0.5,0.5 0 1,0 -1,0" fill="#3a0505" opacity="0.7"/><path d="M694.9,470.3a0.8,0.8 0 1,0 1.5,0a0.8,0.8 0 1,0 -1.5,0M681,512.7a0.6,0.6 0 1,0 1.2,0a0.6,0.6 0 1,0 -1.2,0M673,467.8a1,1 0 1,0 1.9,0a1,1 0 1,0 -1.9,0M699.4,482.7a0.7,0.7 0 1,0 1.3,0a0.7,0.7 0 1,0 -1.3,0M663.3,509.9a0.5,0.5 0 1,0 1.1,0a0.5,0.5 0 1,0 -1.1,0M666.8,495.1a0.9,0.9 0 1,0 1.7,0a0.9,0.9 0 1,0 -1.7,0M663.7,509.2a1,1 0 1,0 2,0a1,1 0 1,0 -2,0M675.9,472.3a0.8,0.8 0 1,0 1.6,0a0.8,0.8 0 1,0 -1.6,0M666.5,491a0.8,0.8 0 1,0 1.5,0a0.8,0.8 0 1,0 -1.5,0M689.2,502.3a0.8,0.8 0 1,0 1.6,0a0.8,0.8 0 1,0 -1.6,0M663.1,487.8a0.8,0.8 0 1,0 1.5,0a0.8,0.8 0 1,0 -1.5,0M683.3,493.3a0.8,0.8 0 1,0 1.6,0a0.8,0.8 0 1,0 -1.6,0M686.6,471.4a1,1 0 1,0 1.9,0a1,1 0 1,0 -1.9,0M698.1,490.6a0.6,0.6 0 1,0 1.1,0a0.6,0.6 0 1,0 -1.1,0M699.1,500.3a1,1 0 1,0 2,0a1,1 0 1,0 -2,0M672.5,494.6a1,1 0 1,0 1.9,0a1,1 0 1,0 -1.9,0M665.4,501.4a0.9,0.9 0 1,0 1.9,0a0.9,0.9 0 1,0 -1.9,0" fill="#3a0505" opacity="0.8"/>
<ellipse cx="669" cy="487" rx="15" ry="14" fill="url(#gO4)"/>
<path d="M685,425l2,4M686,433l1,4" stroke="#a04040" stroke-width="1.4" opacity="0.7"/>
</g>
<rect x="577.3" y="144.7" width="26.4" height="4" fill="#fafafa"/>
<rect x="577.3" y="274.8" width="26.4" height="4" fill="#fafafa"/>
<rect x="577.3" y="405.5" width="26.4" height="4.1" fill="#fafafa"/>
<rect x="577.3" y="535.8" width="26.4" height="4.1" fill="#fafafa"/>
<rect x="707.8" y="144.7" width="27.1" height="4" fill="#fafafa"/>
<rect x="707.8" y="274.8" width="27.1" height="4" fill="#fafafa"/>
<rect x="707.8" y="405.5" width="27.1" height="4.1" fill="#fafafa"/>
<rect x="707.8" y="535.8" width="27.1" height="4.1" fill="#fafafa"/>
<text x="490.4" y="42.8" font-size="13.3" stroke="#e6e6e6" stroke-width="0.15" fill="#e6e6e6" textLength="29.6" lengthAdjust="spacingAndGlyphs">DAPI</text>
<text x="620.5" y="42.9" font-size="12.6" stroke="#d8343a" stroke-width="0.15" fill="#d8343a" textLength="38.5" lengthAdjust="spacingAndGlyphs">F-actin</text>
<text x="6" y="340" font-size="19.8" font-weight="bold" fill="#111">C</text>
<path d="M65.5,365.3V531.6H306" fill="none" stroke="#2b2b2b" stroke-width="1.3"/>
<path d="M61.3,531H65.5" stroke="#2b2b2b" stroke-width="1.3"/>
<text x="59.6" y="535.9" font-size="13.7" stroke="#222" stroke-width="0.3" text-anchor="end" fill="#222">0.0</text>
<path d="M61.3,476H65.5" stroke="#2b2b2b" stroke-width="1.3"/>
<text x="59.6" y="480.9" font-size="13.7" stroke="#222" stroke-width="0.3" text-anchor="end" fill="#222">0.5</text>
<path d="M61.3,421H65.5" stroke="#2b2b2b" stroke-width="1.3"/>
<text x="59.6" y="425.9" font-size="13.7" stroke="#222" stroke-width="0.3" text-anchor="end" fill="#222">1.0</text>
<path d="M61.3,366H65.5" stroke="#2b2b2b" stroke-width="1.3"/>
<text x="59.6" y="370.9" font-size="13.7" stroke="#222" stroke-width="0.3" text-anchor="end" fill="#222">1.5</text>
<path d="M106.7,531V535" stroke="#2b2b2b" stroke-width="1.3"/>
<path d="M188.8,531V535" stroke="#2b2b2b" stroke-width="1.3"/>
<path d="M270.9,531V535" stroke="#2b2b2b" stroke-width="1.3"/>
<text x="105.5" y="550.6" font-size="12.6" stroke="#222" stroke-width="0.3" text-anchor="middle" fill="#222" textLength="32" lengthAdjust="spacingAndGlyphs">Day 1</text>
<text x="189.5" y="550.6" font-size="12.6" stroke="#222" stroke-width="0.3" text-anchor="middle" fill="#222" textLength="33" lengthAdjust="spacingAndGlyphs">Day 3</text>
<text x="272" y="550.6" font-size="12.6" stroke="#222" stroke-width="0.3" text-anchor="middle" fill="#222" textLength="32.5" lengthAdjust="spacingAndGlyphs">Day 7</text>
<text x="37.8" y="432.6" font-size="15.6" font-weight="bold" text-anchor="middle" fill="#151515" textLength="161.8" lengthAdjust="spacingAndGlyphs" transform="rotate(-90 37.8 432.6)">Absorbance at 450nm</text>
<path d="M81.8,516.1V511.5M78.1,511.5H85.6" stroke="#2a2a2a" stroke-width="1.2" fill="none"/><rect x="74.4" y="516.1" width="14.9" height="14.9" fill="#ffffff" stroke="#2a2a2a" stroke-width="1.1"/>
<path d="M98.2,514.4V508M94.4,508H101.9" stroke="#2a2a2a" stroke-width="1.2" fill="none"/><rect x="90.4" y="514.4" width="15.5" height="16.6" fill="#f4e61e" stroke="#2a2a2a" stroke-width="1.1"/>
<path d="M114.8,516.5V512M111,512H118.5" stroke="#2a2a2a" stroke-width="1.2" fill="none"/><rect x="107.1" y="516.5" width="15.3" height="14.5" fill="#3d4ba3" stroke="#2a2a2a" stroke-width="1.1"/>
<path d="M131.4,518V517M127.7,517H135.2" stroke="#2a2a2a" stroke-width="1.2" fill="none"/><rect x="123.5" y="518" width="15.9" height="13" fill="#e63b3f" stroke="#2a2a2a" stroke-width="1.1"/>
<path d="M163.6,470.1V464.4M159.8,464.4H167.3" stroke="#2a2a2a" stroke-width="1.2" fill="none"/><rect x="156" y="470.1" width="15.2" height="60.9" fill="#ffffff" stroke="#2a2a2a" stroke-width="1.1"/>
<path d="M180.6,472.2V465.4M176.8,465.4H184.3" stroke="#2a2a2a" stroke-width="1.2" fill="none"/><rect x="173" y="472.2" width="15.2" height="58.8" fill="#f4e61e" stroke="#2a2a2a" stroke-width="1.1"/>
<path d="M197.4,480.3V471.8M193.7,471.8H201.2" stroke="#2a2a2a" stroke-width="1.2" fill="none"/><rect x="190" y="480.3" width="14.8" height="50.7" fill="#3d4ba3" stroke="#2a2a2a" stroke-width="1.1"/>
<path d="M213.8,509.9V502.4M210,502.4H217.5" stroke="#2a2a2a" stroke-width="1.2" fill="none"/><rect x="206.3" y="509.9" width="14.9" height="21.1" fill="#e63b3f" stroke="#2a2a2a" stroke-width="1.1"/>
<path d="M246.4,412.3V408.4M242.7,408.4H250.2" stroke="#2a2a2a" stroke-width="1.2" fill="none"/><rect x="238.8" y="412.3" width="15.3" height="118.7" fill="#ffffff" stroke="#2a2a2a" stroke-width="1.1"/>
<path d="M263.1,419.2V409M259.4,409H266.9" stroke="#2a2a2a" stroke-width="1.2" fill="none"/><rect x="255.5" y="419.2" width="15.2" height="111.8" fill="#f4e61e" stroke="#2a2a2a" stroke-width="1.1"/>
<path d="M279.6,424.2V413M275.9,413H283.4" stroke="#2a2a2a" stroke-width="1.2" fill="none"/><rect x="272.2" y="424.2" width="14.9" height="106.8" fill="#3d4ba3" stroke="#2a2a2a" stroke-width="1.1"/>
<path d="M295.9,490.7V481.4M292.2,481.4H299.7" stroke="#2a2a2a" stroke-width="1.2" fill="none"/><rect x="288.5" y="490.7" width="14.9" height="40.3" fill="#e63b3f" stroke="#2a2a2a" stroke-width="1.1"/>
<path d="M162.3,459.1H195.7M178.7,459.1V427.6H212.3V495.6" fill="none" stroke="#4a4a4a" stroke-width="1.2"/>
<text x="195.7" y="426.3" font-size="13" stroke="#111" stroke-width="0.3" text-anchor="middle" fill="#111">*</text>
<path d="M243.9,402.4H277.8M261.4,402.4V372.1H294.9V475.4" fill="none" stroke="#4a4a4a" stroke-width="1.2"/>
<text x="279.4" y="371.8" font-size="13" stroke="#111" stroke-width="0.3" text-anchor="middle" fill="#111">*</text>
<rect x="73.2" y="357.3" width="10.2" height="9.8" fill="#ffffff" stroke="#1a1a1a" stroke-width="1.3"/>
<text x="156.7" y="367.1" font-size="12.2" stroke="#1a1a1a" stroke-width="0.3" fill="#1a1a1a" textLength="26" lengthAdjust="spacingAndGlyphs">Pure</text>
<rect x="73.2" y="372.9" width="10.2" height="9.8" fill="#f4e61e" stroke="#1a1a1a" stroke-width="1.3"/>
<text x="94.4" y="382.8" font-size="12.2" stroke="#1a1a1a" stroke-width="0.3" fill="#1a1a1a" textLength="89.8" lengthAdjust="spacingAndGlyphs">+0.25% alginate</text>
<rect x="73.2" y="388.6" width="10.2" height="9.8" fill="#3d4ba3" stroke="#1a1a1a" stroke-width="1.3"/>
<text x="102.4" y="398.4" font-size="12.2" stroke="#1a1a1a" stroke-width="0.3" fill="#1a1a1a" textLength="81.8" lengthAdjust="spacingAndGlyphs">+0.5% alginate</text>
<rect x="73.2" y="404.2" width="10.2" height="9.8" fill="#e63b3f" stroke="#1a1a1a" stroke-width="1.3"/>
<text x="109.3" y="414.1" font-size="12.2" stroke="#1a1a1a" stroke-width="0.3" fill="#1a1a1a" textLength="72.5" lengthAdjust="spacingAndGlyphs">+1% alginate</text>
<text x="10.8" y="572.2" font-size="19.4" font-weight="bold" fill="#111">D</text>
<path d="M65.2,577.4V730.2H205" fill="none" stroke="#2b2b2b" stroke-width="1.3"/>
<path d="M61.6,730.2H65.2" stroke="#2b2b2b" stroke-width="1.3"/>
<text x="60.3" y="734.9" font-size="13.1" stroke="#222" stroke-width="0.3" text-anchor="end" fill="#222">0</text>
<path d="M61.6,699.8H65.2" stroke="#2b2b2b" stroke-width="1.3"/>
<text x="60.3" y="704.5" font-size="13.1" stroke="#222" stroke-width="0.3" text-anchor="end" fill="#222">2</text>
<path d="M61.6,669.3H65.2" stroke="#2b2b2b" stroke-width="1.3"/>
<text x="60.3" y="674" font-size="13.1" stroke="#222" stroke-width="0.3" text-anchor="end" fill="#222">4</text>
<path d="M61.6,638.9H65.2" stroke="#2b2b2b" stroke-width="1.3"/>
<text x="60.3" y="643.6" font-size="13.1" stroke="#222" stroke-width="0.3" text-anchor="end" fill="#222">6</text>
<path d="M61.6,608.4H65.2" stroke="#2b2b2b" stroke-width="1.3"/>
<text x="60.3" y="613.1" font-size="13.1" stroke="#222" stroke-width="0.3" text-anchor="end" fill="#222">8</text>
<path d="M61.6,578H65.2" stroke="#2b2b2b" stroke-width="1.3"/>
<text x="60.3" y="582.7" font-size="13.1" stroke="#222" stroke-width="0.3" text-anchor="end" fill="#222">10</text>
<path d="M89,674.5V666.6M84.2,666.6H93.8" stroke="#2a2a2a" stroke-width="1.2" fill="none"/><rect x="76.4" y="674.5" width="25.2" height="55.7" fill="#ffffff" stroke="#2a2a2a" stroke-width="1.1"/>
<path d="M119.5,645V639.6M114.8,639.6H124.2" stroke="#2a2a2a" stroke-width="1.2" fill="none"/><rect x="107" y="645" width="25" height="85.2" fill="#f4e61e" stroke="#2a2a2a" stroke-width="1.1"/>
<path d="M150.4,601.6V595.5M145.7,595.5H155.2" stroke="#2a2a2a" stroke-width="1.2" fill="none"/><rect x="137.7" y="601.6" width="25.4" height="128.6" fill="#3d4ba3" stroke="#2a2a2a" stroke-width="1.1"/>
<path d="M180.9,714.5V711.2M176.2,711.2H185.7" stroke="#2a2a2a" stroke-width="1.2" fill="none"/><rect x="168" y="714.5" width="25.8" height="15.7" fill="#e63b3f" stroke="#2a2a2a" stroke-width="1.1"/>
<path d="M89,730.2V733.8" stroke="#2b2b2b" stroke-width="1.2"/>
<path d="M119.5,730.2V733.8" stroke="#2b2b2b" stroke-width="1.2"/>
<path d="M150.4,730.2V733.8" stroke="#2b2b2b" stroke-width="1.2"/>
<path d="M180.9,730.2V733.8" stroke="#2b2b2b" stroke-width="1.2"/>
<text x="83.6" y="743.8" font-size="10.8" stroke="#222" stroke-width="0.3" text-anchor="middle" fill="#222" textLength="18.8" lengthAdjust="spacingAndGlyphs" transform="rotate(-10 83.6 743.8)">Pure</text>
<text x="112.2" y="743.8" font-size="10.8" stroke="#222" stroke-width="0.3" text-anchor="middle" fill="#222" textLength="32.6" lengthAdjust="spacingAndGlyphs" transform="rotate(-10 112.2 743.8)">+0.25%</text>
<text x="114.1" y="756.2" font-size="10.8" stroke="#222" stroke-width="0.3" text-anchor="middle" fill="#222" textLength="32" lengthAdjust="spacingAndGlyphs" transform="rotate(-10 114.1 756.2)">alginate</text>
<text x="148.6" y="743.6" font-size="10.8" stroke="#222" stroke-width="0.3" text-anchor="middle" fill="#222" textLength="26.5" lengthAdjust="spacingAndGlyphs" transform="rotate(-10 148.6 743.6)">+0.5%</text>
<text x="151.1" y="756.2" font-size="10.8" stroke="#222" stroke-width="0.3" text-anchor="middle" fill="#222" textLength="32" lengthAdjust="spacingAndGlyphs" transform="rotate(-10 151.1 756.2)">alginate</text>
<text x="182.8" y="743.4" font-size="10.8" stroke="#222" stroke-width="0.3" text-anchor="middle" fill="#222" textLength="18.5" lengthAdjust="spacingAndGlyphs" transform="rotate(-10 182.8 743.4)">+1%</text>
<text x="185.3" y="756.2" font-size="10.8" stroke="#222" stroke-width="0.3" text-anchor="middle" fill="#222" textLength="32" lengthAdjust="spacingAndGlyphs" transform="rotate(-10 185.3 756.2)">alginate</text>
<text x="22.9" y="648.8" font-size="13" font-weight="bold" text-anchor="middle" fill="#151515" textLength="101.6" lengthAdjust="spacingAndGlyphs" transform="rotate(-90 22.9 648.8)">Relative PPAR-γ</text>
<text x="38.8" y="650.8" font-size="13" font-weight="bold" text-anchor="middle" fill="#151515" textLength="101.5" lengthAdjust="spacingAndGlyphs" transform="rotate(-90 38.8 650.8)">gene expression</text>
<path d="M86.2,636.7H119.2" stroke="#333" stroke-width="1.2"/>
<text x="103.8" y="635.4" font-size="12.5" stroke="#111" stroke-width="0.3" text-anchor="middle" fill="#111">*</text>
<path d="M103,622.3V587.1H150.4V591.2" fill="none" stroke="#333" stroke-width="1.2"/>
<text x="126.8" y="588" font-size="12.5" stroke="#111" stroke-width="0.3" text-anchor="middle" fill="#111">*</text>
<path d="M150.4,591.2V578.4H181V710.4" fill="none" stroke="#333" stroke-width="1.2"/>
<text x="166.7" y="578.5" font-size="12.5" stroke="#111" stroke-width="0.3" text-anchor="middle" fill="#111">*</text>
<path d="M247.5,577.4V730.2H387" fill="none" stroke="#2b2b2b" stroke-width="1.3"/>
<path d="M243.9,730.2H247.5" stroke="#2b2b2b" stroke-width="1.3"/>
<text x="242.6" y="734.9" font-size="13.1" stroke="#222" stroke-width="0.3" text-anchor="end" fill="#222">0</text>
<path d="M243.9,679.5H247.5" stroke="#2b2b2b" stroke-width="1.3"/>
<text x="242.6" y="684.2" font-size="13.1" stroke="#222" stroke-width="0.3" text-anchor="end" fill="#222">5</text>
<path d="M243.9,628.7H247.5" stroke="#2b2b2b" stroke-width="1.3"/>
<text x="242.6" y="633.4" font-size="13.1" stroke="#222" stroke-width="0.3" text-anchor="end" fill="#222">10</text>
<path d="M243.9,578H247.5" stroke="#2b2b2b" stroke-width="1.3"/>
<text x="242.6" y="582.7" font-size="13.1" stroke="#222" stroke-width="0.3" text-anchor="end" fill="#222">15</text>
<path d="M270.9,698.1V685.7M266.1,685.7H275.6" stroke="#2a2a2a" stroke-width="1.2" fill="none"/><rect x="258.3" y="698.1" width="25.2" height="32.1" fill="#ffffff" stroke="#2a2a2a" stroke-width="1.1"/>
<path d="M301.5,677.7V664.2M296.8,664.2H306.2" stroke="#2a2a2a" stroke-width="1.2" fill="none"/><rect x="288.9" y="677.7" width="25.2" height="52.5" fill="#f4e61e" stroke="#2a2a2a" stroke-width="1.1"/>
<path d="M332.2,610.7V587.4M327.5,587.4H337" stroke="#2a2a2a" stroke-width="1.2" fill="none"/><rect x="319.5" y="610.7" width="25.5" height="119.5" fill="#3d4ba3" stroke="#2a2a2a" stroke-width="1.1"/>
<path d="M363,721.1V717.5M358.2,717.5H367.8" stroke="#2a2a2a" stroke-width="1.2" fill="none"/><rect x="350.4" y="721.1" width="25.2" height="9.1" fill="#e63b3f" stroke="#2a2a2a" stroke-width="1.1"/>
<path d="M270.9,730.2V733.8" stroke="#2b2b2b" stroke-width="1.2"/>
<path d="M301.5,730.2V733.8" stroke="#2b2b2b" stroke-width="1.2"/>
<path d="M332.2,730.2V733.8" stroke="#2b2b2b" stroke-width="1.2"/>
<path d="M363,730.2V733.8" stroke="#2b2b2b" stroke-width="1.2"/>
<text x="266.2" y="743.8" font-size="10.8" stroke="#222" stroke-width="0.3" text-anchor="middle" fill="#222" textLength="18.8" lengthAdjust="spacingAndGlyphs" transform="rotate(-10 266.2 743.8)">Pure</text>
<text x="294.3" y="743.8" font-size="10.8" stroke="#222" stroke-width="0.3" text-anchor="middle" fill="#222" textLength="32.6" lengthAdjust="spacingAndGlyphs" transform="rotate(-10 294.3 743.8)">+0.25%</text>
<text x="296.7" y="756.2" font-size="10.8" stroke="#222" stroke-width="0.3" text-anchor="middle" fill="#222" textLength="32" lengthAdjust="spacingAndGlyphs" transform="rotate(-10 296.7 756.2)">alginate</text>
<text x="330" y="743.6" font-size="10.8" stroke="#222" stroke-width="0.3" text-anchor="middle" fill="#222" textLength="26.5" lengthAdjust="spacingAndGlyphs" transform="rotate(-10 330 743.6)">+0.5%</text>
<text x="333.3" y="756.2" font-size="10.8" stroke="#222" stroke-width="0.3" text-anchor="middle" fill="#222" textLength="32" lengthAdjust="spacingAndGlyphs" transform="rotate(-10 333.3 756.2)">alginate</text>
<text x="365" y="743.4" font-size="10.8" stroke="#222" stroke-width="0.3" text-anchor="middle" fill="#222" textLength="18.5" lengthAdjust="spacingAndGlyphs" transform="rotate(-10 365 743.4)">+1%</text>
<text x="367.8" y="756.2" font-size="10.8" stroke="#222" stroke-width="0.3" text-anchor="middle" fill="#222" textLength="32" lengthAdjust="spacingAndGlyphs" transform="rotate(-10 367.8 756.2)">alginate</text>
<text x="208.8" y="648.8" font-size="13" font-weight="bold" text-anchor="middle" fill="#151515" textLength="93.5" lengthAdjust="spacingAndGlyphs" transform="rotate(-90 208.8 648.8)">Relative FABP4</text>
<text x="224.8" y="647.4" font-size="13" font-weight="bold" text-anchor="middle" fill="#151515" textLength="101.5" lengthAdjust="spacingAndGlyphs" transform="rotate(-90 224.8 647.4)">gene expression</text>
<path d="M268.6,660.8H302.5" stroke="#3a3a3a" stroke-width="1.2"/>
<path d="M286.2,660.8V581.1H333.1V584.4" fill="none" stroke="#333" stroke-width="1.2"/>
<text x="309.2" y="579.9" font-size="12.5" stroke="#111" stroke-width="0.3" text-anchor="middle" fill="#111">*</text>
<path d="M333.1,584.4V572.2H363.4V716.6" fill="none" stroke="#333" stroke-width="1.2"/>
<text x="349.3" y="571.7" font-size="12.5" stroke="#111" stroke-width="0.3" text-anchor="middle" fill="#111">*</text>
<path d="M425.6,577.4V730.2H565" fill="none" stroke="#2b2b2b" stroke-width="1.3"/>
<path d="M422,730.2H425.6" stroke="#2b2b2b" stroke-width="1.3"/>
<text x="420.7" y="734.9" font-size="13.1" stroke="#222" stroke-width="0.3" text-anchor="end" fill="#222">0</text>
<path d="M422,699.8H425.6" stroke="#2b2b2b" stroke-width="1.3"/>
<text x="420.7" y="704.5" font-size="13.1" stroke="#222" stroke-width="0.3" text-anchor="end" fill="#222">2</text>
<path d="M422,669.3H425.6" stroke="#2b2b2b" stroke-width="1.3"/>
<text x="420.7" y="674" font-size="13.1" stroke="#222" stroke-width="0.3" text-anchor="end" fill="#222">4</text>
<path d="M422,638.9H425.6" stroke="#2b2b2b" stroke-width="1.3"/>
<text x="420.7" y="643.6" font-size="13.1" stroke="#222" stroke-width="0.3" text-anchor="end" fill="#222">6</text>
<path d="M422,608.4H425.6" stroke="#2b2b2b" stroke-width="1.3"/>
<text x="420.7" y="613.1" font-size="13.1" stroke="#222" stroke-width="0.3" text-anchor="end" fill="#222">8</text>
<path d="M422,578H425.6" stroke="#2b2b2b" stroke-width="1.3"/>
<text x="420.7" y="582.7" font-size="13.1" stroke="#222" stroke-width="0.3" text-anchor="end" fill="#222">10</text>
<path d="M448.6,696.3V684.2M443.9,684.2H453.4" stroke="#2a2a2a" stroke-width="1.2" fill="none"/><rect x="435.9" y="696.3" width="25.4" height="33.9" fill="#ffffff" stroke="#2a2a2a" stroke-width="1.1"/>
<path d="M479.1,641.2V623.2M474.4,623.2H483.9" stroke="#2a2a2a" stroke-width="1.2" fill="none"/><rect x="466.2" y="641.2" width="25.8" height="89" fill="#f4e61e" stroke="#2a2a2a" stroke-width="1.1"/>
<path d="M510.8,593.2V587.9M506.1,587.9H515.6" stroke="#2a2a2a" stroke-width="1.2" fill="none"/><rect x="497.9" y="593.2" width="25.8" height="137" fill="#3d4ba3" stroke="#2a2a2a" stroke-width="1.1"/>
<rect x="528.5" y="715.7" width="25.8" height="14.5" fill="#e63b3f" stroke="#2a2a2a" stroke-width="1.1"/>
<path d="M448.6,730.2V733.8" stroke="#2b2b2b" stroke-width="1.2"/>
<path d="M479.1,730.2V733.8" stroke="#2b2b2b" stroke-width="1.2"/>
<path d="M510.8,730.2V733.8" stroke="#2b2b2b" stroke-width="1.2"/>
<path d="M541.4,730.2V733.8" stroke="#2b2b2b" stroke-width="1.2"/>
<text x="446.5" y="743.8" font-size="10.8" stroke="#222" stroke-width="0.3" text-anchor="middle" fill="#222" textLength="18.8" lengthAdjust="spacingAndGlyphs" transform="rotate(-10 446.5 743.8)">Pure</text>
<text x="474" y="743.8" font-size="10.8" stroke="#222" stroke-width="0.3" text-anchor="middle" fill="#222" textLength="32.6" lengthAdjust="spacingAndGlyphs" transform="rotate(-10 474 743.8)">+0.25%</text>
<text x="476.8" y="756.2" font-size="10.8" stroke="#222" stroke-width="0.3" text-anchor="middle" fill="#222" textLength="32" lengthAdjust="spacingAndGlyphs" transform="rotate(-10 476.8 756.2)">alginate</text>
<text x="511" y="743.6" font-size="10.8" stroke="#222" stroke-width="0.3" text-anchor="middle" fill="#222" textLength="26.5" lengthAdjust="spacingAndGlyphs" transform="rotate(-10 511 743.6)">+0.5%</text>
<text x="513.2" y="756.2" font-size="10.8" stroke="#222" stroke-width="0.3" text-anchor="middle" fill="#222" textLength="32" lengthAdjust="spacingAndGlyphs" transform="rotate(-10 513.2 756.2)">alginate</text>
<text x="545.5" y="743.4" font-size="10.8" stroke="#222" stroke-width="0.3" text-anchor="middle" fill="#222" textLength="18.5" lengthAdjust="spacingAndGlyphs" transform="rotate(-10 545.5 743.4)">+1%</text>
<text x="548" y="756.2" font-size="10.8" stroke="#222" stroke-width="0.3" text-anchor="middle" fill="#222" textLength="32" lengthAdjust="spacingAndGlyphs" transform="rotate(-10 548 756.2)">alginate</text>
<text x="387.4" y="648.8" font-size="13" font-weight="bold" text-anchor="middle" fill="#151515" textLength="93.5" lengthAdjust="spacingAndGlyphs" transform="rotate(-90 387.4 648.8)">Relative GLUT4</text>
<text x="404.5" y="646" font-size="13" font-weight="bold" text-anchor="middle" fill="#151515" textLength="101.5" lengthAdjust="spacingAndGlyphs" transform="rotate(-90 404.5 646)">gene expression</text>
<path d="M445.3,618.3H479.8" stroke="#777" stroke-width="1.2"/>
<text x="463.5" y="616.4" font-size="12.5" stroke="#111" stroke-width="0.3" text-anchor="middle" fill="#111">*</text>
<path d="M462.7,604.7V581.1H510.1V584.4" fill="none" stroke="#333" stroke-width="1.2"/>
<text x="486" y="579.9" font-size="12.5" stroke="#111" stroke-width="0.3" text-anchor="middle" fill="#111">*</text>
<path d="M510.1,584.4V572.2H541.3V707.7" fill="none" stroke="#333" stroke-width="1.2"/>
<text x="526.6" y="571.2" font-size="12.5" stroke="#111" stroke-width="0.3" text-anchor="middle" fill="#111">*</text>
<path d="M608.6,577.4V730.2H749" fill="none" stroke="#2b2b2b" stroke-width="1.3"/>
<path d="M605,730.2H608.6" stroke="#2b2b2b" stroke-width="1.3"/>
<text x="603.7" y="734.9" font-size="13.1" stroke="#222" stroke-width="0.3" text-anchor="end" fill="#222">0</text>
<path d="M605,679.5H608.6" stroke="#2b2b2b" stroke-width="1.3"/>
<text x="603.7" y="684.2" font-size="13.1" stroke="#222" stroke-width="0.3" text-anchor="end" fill="#222">4</text>
<path d="M605,628.7H608.6" stroke="#2b2b2b" stroke-width="1.3"/>
<text x="603.7" y="633.4" font-size="13.1" stroke="#222" stroke-width="0.3" text-anchor="end" fill="#222">8</text>
<path d="M605,578H608.6" stroke="#2b2b2b" stroke-width="1.3"/>
<text x="603.7" y="582.7" font-size="13.1" stroke="#222" stroke-width="0.3" text-anchor="end" fill="#222">12</text>
<path d="M631.2,692.2V681.5M626.5,681.5H636" stroke="#2a2a2a" stroke-width="1.2" fill="none"/><rect x="618.6" y="692.2" width="25.2" height="38" fill="#ffffff" stroke="#2a2a2a" stroke-width="1.1"/>
<path d="M661.7,664.6V664.2M656.9,664.2H666.4" stroke="#2a2a2a" stroke-width="1.2" fill="none"/><rect x="649.2" y="664.6" width="24.9" height="65.6" fill="#f4e61e" stroke="#2a2a2a" stroke-width="1.1"/>
<path d="M693.5,600.8V591.2M688.8,591.2H698.2" stroke="#2a2a2a" stroke-width="1.2" fill="none"/><rect x="680.9" y="600.8" width="25.2" height="129.4" fill="#3d4ba3" stroke="#2a2a2a" stroke-width="1.1"/>
<path d="M723.9,718V713.8M719.1,713.8H728.6" stroke="#2a2a2a" stroke-width="1.2" fill="none"/><rect x="711" y="718" width="25.7" height="12.2" fill="#e63b3f" stroke="#2a2a2a" stroke-width="1.1"/>
<path d="M631.2,730.2V733.8" stroke="#2b2b2b" stroke-width="1.2"/>
<path d="M661.6,730.2V733.8" stroke="#2b2b2b" stroke-width="1.2"/>
<path d="M693.5,730.2V733.8" stroke="#2b2b2b" stroke-width="1.2"/>
<path d="M723.9,730.2V733.8" stroke="#2b2b2b" stroke-width="1.2"/>
<text x="624.3" y="743.8" font-size="10.8" stroke="#222" stroke-width="0.3" text-anchor="middle" fill="#222" textLength="18.8" lengthAdjust="spacingAndGlyphs" transform="rotate(-10 624.3 743.8)">Pure</text>
<text x="652.4" y="743.8" font-size="10.8" stroke="#222" stroke-width="0.3" text-anchor="middle" fill="#222" textLength="32.6" lengthAdjust="spacingAndGlyphs" transform="rotate(-10 652.4 743.8)">+0.25%</text>
<text x="654.7" y="756.2" font-size="10.8" stroke="#222" stroke-width="0.3" text-anchor="middle" fill="#222" textLength="32" lengthAdjust="spacingAndGlyphs" transform="rotate(-10 654.7 756.2)">alginate</text>
<text x="689" y="743.6" font-size="10.8" stroke="#222" stroke-width="0.3" text-anchor="middle" fill="#222" textLength="26.5" lengthAdjust="spacingAndGlyphs" transform="rotate(-10 689 743.6)">+0.5%</text>
<text x="691.2" y="756.2" font-size="10.8" stroke="#222" stroke-width="0.3" text-anchor="middle" fill="#222" textLength="32" lengthAdjust="spacingAndGlyphs" transform="rotate(-10 691.2 756.2)">alginate</text>
<text x="723" y="743.4" font-size="10.8" stroke="#222" stroke-width="0.3" text-anchor="middle" fill="#222" textLength="18.5" lengthAdjust="spacingAndGlyphs" transform="rotate(-10 723 743.4)">+1%</text>
<text x="726.2" y="756.2" font-size="10.8" stroke="#222" stroke-width="0.3" text-anchor="middle" fill="#222" textLength="32" lengthAdjust="spacingAndGlyphs" transform="rotate(-10 726.2 756.2)">alginate</text>
<text x="569.2" y="649.5" font-size="13" font-weight="bold" text-anchor="middle" fill="#151515" textLength="75.9" lengthAdjust="spacingAndGlyphs" transform="rotate(-90 569.2 649.5)">Relative LPL</text>
<text x="586.2" y="646" font-size="13" font-weight="bold" text-anchor="middle" fill="#151515" textLength="101.5" lengthAdjust="spacingAndGlyphs" transform="rotate(-90 586.2 646)">gene expression</text>
<path d="M628.3,655.7H662" stroke="#3a3a3a" stroke-width="1.2"/>
<text x="646.5" y="654.3" font-size="12.5" stroke="#111" stroke-width="0.3" text-anchor="middle" fill="#111">*</text>
<path d="M645.1,641.3V581.1H692.6V584.4" fill="none" stroke="#333" stroke-width="1.2"/>
<text x="668.2" y="579.9" font-size="12.5" stroke="#111" stroke-width="0.3" text-anchor="middle" fill="#111">*</text>
<path d="M692.6,584.4V572.2H723.7V707.7" fill="none" stroke="#333" stroke-width="1.2"/>
<text x="708" y="571.3" font-size="12.5" stroke="#111" stroke-width="0.3" text-anchor="middle" fill="#111">*</text>
</svg>
</body></html>
